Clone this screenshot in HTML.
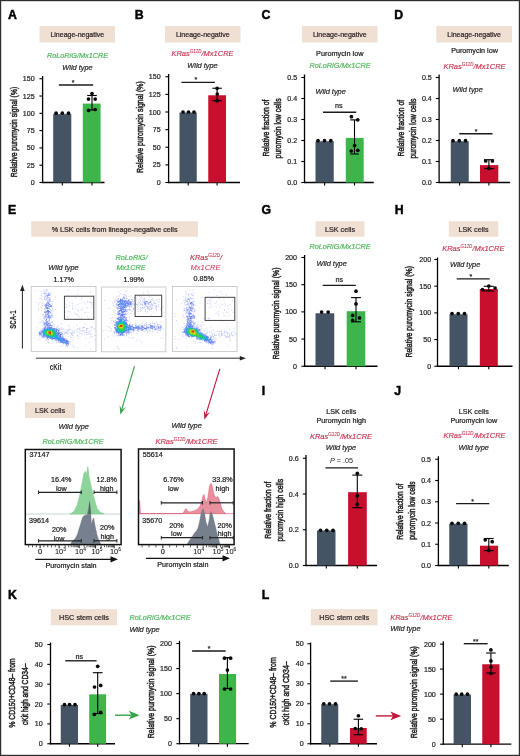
<!DOCTYPE html><html><head><meta charset="utf-8"><title>Figure</title><style>html,body{margin:0;padding:0;background:#fff;}svg{display:block;filter:blur(0.3px);}</style></head><body><svg width="520" height="756" viewBox="0 0 520 756" font-family='"Liberation Sans", sans-serif'>
<rect x="0" y="0" width="520" height="756" fill="#fff"/>
<text x="8.00" y="18.80" font-size="12.3" text-anchor="start" fill="#000" stroke="#000" stroke-width="0.45" font-weight="bold">A</text>
<text x="134.80" y="18.80" font-size="12.3" text-anchor="start" fill="#000" stroke="#000" stroke-width="0.45" font-weight="bold">B</text>
<text x="261.50" y="18.80" font-size="12.3" text-anchor="start" fill="#000" stroke="#000" stroke-width="0.45" font-weight="bold">C</text>
<text x="394.30" y="18.80" font-size="12.3" text-anchor="start" fill="#000" stroke="#000" stroke-width="0.45" font-weight="bold">D</text>
<rect x="39.5" y="26" width="75.50" height="16.50" fill="#f0dfd3"/>
<text x="77.25" y="36.77" font-size="7" text-anchor="middle" fill="#2e2626" stroke="#2e2626" stroke-width="0.22">Lineage-negative</text>
<rect x="165" y="26" width="75.50" height="16.50" fill="#f0dfd3"/>
<text x="202.75" y="36.77" font-size="7" text-anchor="middle" fill="#2e2626" stroke="#2e2626" stroke-width="0.22">Lineage-negative</text>
<rect x="302" y="26" width="75.50" height="16.50" fill="#f0dfd3"/>
<text x="339.75" y="36.77" font-size="7" text-anchor="middle" fill="#2e2626" stroke="#2e2626" stroke-width="0.22">Lineage-negative</text>
<rect x="436.3" y="26" width="75.70" height="16.50" fill="#f0dfd3"/>
<text x="474.15" y="36.77" font-size="7" text-anchor="middle" fill="#2e2626" stroke="#2e2626" stroke-width="0.22">Lineage-negative</text>
<text x="77.50" y="57.63" font-size="7.3" text-anchor="middle" fill="#52ba60" stroke="#52ba60" stroke-width="0.22" font-style="italic">RoLoRiG/Mx1CRE</text>
<text x="77.50" y="70.22" font-size="7.4" text-anchor="middle" fill="#2a2a2a" stroke="#2a2a2a" stroke-width="0.22" font-style="italic">Wild type</text>
<line x1="42.60" y1="76.00" x2="42.60" y2="183.10" stroke="#000" stroke-width="1.3"/>
<line x1="42.00" y1="182.50" x2="104.50" y2="182.50" stroke="#000" stroke-width="1.3"/>
<line x1="39.40" y1="78.75" x2="42.60" y2="78.75" stroke="#000" stroke-width="1.1"/>
<text x="34.60" y="81.31" font-size="7.1" text-anchor="end" fill="#231f20" stroke="#231f20" stroke-width="0.22">150</text>
<line x1="39.40" y1="96.04" x2="42.60" y2="96.04" stroke="#000" stroke-width="1.1"/>
<text x="34.60" y="98.60" font-size="7.1" text-anchor="end" fill="#231f20" stroke="#231f20" stroke-width="0.22">125</text>
<line x1="39.40" y1="113.33" x2="42.60" y2="113.33" stroke="#000" stroke-width="1.1"/>
<text x="34.60" y="115.89" font-size="7.1" text-anchor="end" fill="#231f20" stroke="#231f20" stroke-width="0.22">100</text>
<line x1="39.40" y1="130.62" x2="42.60" y2="130.62" stroke="#000" stroke-width="1.1"/>
<text x="34.60" y="133.18" font-size="7.1" text-anchor="end" fill="#231f20" stroke="#231f20" stroke-width="0.22">75</text>
<line x1="39.40" y1="147.92" x2="42.60" y2="147.92" stroke="#000" stroke-width="1.1"/>
<text x="34.60" y="150.47" font-size="7.1" text-anchor="end" fill="#231f20" stroke="#231f20" stroke-width="0.22">50</text>
<line x1="39.40" y1="165.21" x2="42.60" y2="165.21" stroke="#000" stroke-width="1.1"/>
<text x="34.60" y="167.76" font-size="7.1" text-anchor="end" fill="#231f20" stroke="#231f20" stroke-width="0.22">25</text>
<line x1="39.40" y1="182.50" x2="42.60" y2="182.50" stroke="#000" stroke-width="1.1"/>
<text x="34.60" y="185.06" font-size="7.1" text-anchor="end" fill="#231f20" stroke="#231f20" stroke-width="0.22">0</text>
<rect x="53.20" y="114.10" width="18.10" height="68.40" fill="#455465"/>
<rect x="82.80" y="103.60" width="17.80" height="78.90" fill="#3db54b"/>
<line x1="62.30" y1="182.50" x2="62.30" y2="185.50" stroke="#000" stroke-width="1.1"/>
<line x1="92.00" y1="182.50" x2="92.00" y2="185.50" stroke="#000" stroke-width="1.1"/>
<line x1="58.90" y1="85.00" x2="93.10" y2="85.00" stroke="#1a1a1a" stroke-width="1.35"/>
<text x="73.20" y="85.09" font-size="7" text-anchor="middle" fill="#222" stroke="#222" stroke-width="0.22">*</text>
<line x1="92.00" y1="95.50" x2="92.00" y2="110.00" stroke="#000" stroke-width="1.1"/>
<line x1="87.20" y1="95.50" x2="96.80" y2="95.50" stroke="#000" stroke-width="1.1"/>
<line x1="87.20" y1="110.00" x2="96.80" y2="110.00" stroke="#000" stroke-width="1.1"/>
<circle cx="56.10" cy="113.20" r="1.85" fill="#0a0a0a"/>
<circle cx="62.30" cy="113.20" r="1.85" fill="#0a0a0a"/>
<circle cx="68.50" cy="113.20" r="1.85" fill="#0a0a0a"/>
<circle cx="92.00" cy="93.60" r="1.85" fill="#0a0a0a"/>
<circle cx="88.50" cy="99.10" r="1.85" fill="#0a0a0a"/>
<circle cx="95.20" cy="99.10" r="1.85" fill="#0a0a0a"/>
<circle cx="88.50" cy="110.40" r="1.85" fill="#0a0a0a"/>
<circle cx="95.20" cy="109.50" r="1.85" fill="#0a0a0a"/>
<text transform="translate(13.20,132.00) rotate(-90)" x="0" y="3.42" font-size="9.5" text-anchor="middle" fill="#231f20" stroke="#231f20" stroke-width="0.5" textLength="90.50" lengthAdjust="spacingAndGlyphs">Relative puromycin signal (%)</text>
<text x="202.50" y="56.20" font-size="7.5" text-anchor="middle" fill="#c9334f" stroke="#c9334f" stroke-width="0.15" font-style="italic">KRas<tspan font-size="4.50" dy="-3.00" stroke-width="0.08">G12D</tspan><tspan dy="3.00">/Mx1CRE</tspan></text>
<text x="202.50" y="67.72" font-size="7.4" text-anchor="middle" fill="#2a2a2a" stroke="#2a2a2a" stroke-width="0.22" font-style="italic">Wild type</text>
<line x1="168.60" y1="74.00" x2="168.60" y2="183.10" stroke="#000" stroke-width="1.3"/>
<line x1="168.00" y1="182.50" x2="240.00" y2="182.50" stroke="#000" stroke-width="1.3"/>
<line x1="165.40" y1="76.75" x2="168.60" y2="76.75" stroke="#000" stroke-width="1.1"/>
<text x="160.60" y="79.31" font-size="7.1" text-anchor="end" fill="#231f20" stroke="#231f20" stroke-width="0.22">150</text>
<line x1="165.40" y1="94.38" x2="168.60" y2="94.38" stroke="#000" stroke-width="1.1"/>
<text x="160.60" y="96.93" font-size="7.1" text-anchor="end" fill="#231f20" stroke="#231f20" stroke-width="0.22">125</text>
<line x1="165.40" y1="112.00" x2="168.60" y2="112.00" stroke="#000" stroke-width="1.1"/>
<text x="160.60" y="114.56" font-size="7.1" text-anchor="end" fill="#231f20" stroke="#231f20" stroke-width="0.22">100</text>
<line x1="165.40" y1="129.62" x2="168.60" y2="129.62" stroke="#000" stroke-width="1.1"/>
<text x="160.60" y="132.18" font-size="7.1" text-anchor="end" fill="#231f20" stroke="#231f20" stroke-width="0.22">75</text>
<line x1="165.40" y1="147.25" x2="168.60" y2="147.25" stroke="#000" stroke-width="1.1"/>
<text x="160.60" y="149.81" font-size="7.1" text-anchor="end" fill="#231f20" stroke="#231f20" stroke-width="0.22">50</text>
<line x1="165.40" y1="164.88" x2="168.60" y2="164.88" stroke="#000" stroke-width="1.1"/>
<text x="160.60" y="167.43" font-size="7.1" text-anchor="end" fill="#231f20" stroke="#231f20" stroke-width="0.22">25</text>
<line x1="165.40" y1="182.50" x2="168.60" y2="182.50" stroke="#000" stroke-width="1.1"/>
<text x="160.60" y="185.06" font-size="7.1" text-anchor="end" fill="#231f20" stroke="#231f20" stroke-width="0.22">0</text>
<rect x="179.50" y="112.50" width="17.25" height="70.00" fill="#455465"/>
<rect x="208.25" y="95.25" width="17.75" height="87.25" fill="#c8102e"/>
<line x1="188.20" y1="182.50" x2="188.20" y2="185.50" stroke="#000" stroke-width="1.1"/>
<line x1="217.10" y1="182.50" x2="217.10" y2="185.50" stroke="#000" stroke-width="1.1"/>
<line x1="181.40" y1="82.40" x2="214.90" y2="82.40" stroke="#1a1a1a" stroke-width="1.35"/>
<text x="195.80" y="82.39" font-size="7" text-anchor="middle" fill="#222" stroke="#222" stroke-width="0.22">*</text>
<line x1="217.10" y1="88.25" x2="217.10" y2="100.75" stroke="#000" stroke-width="1.1"/>
<line x1="212.35" y1="88.25" x2="221.85" y2="88.25" stroke="#000" stroke-width="1.1"/>
<line x1="212.35" y1="100.75" x2="221.85" y2="100.75" stroke="#000" stroke-width="1.1"/>
<circle cx="183.00" cy="112.00" r="1.85" fill="#0a0a0a"/>
<circle cx="188.50" cy="112.00" r="1.85" fill="#0a0a0a"/>
<circle cx="194.00" cy="112.00" r="1.85" fill="#0a0a0a"/>
<circle cx="217.10" cy="88.30" r="1.85" fill="#0a0a0a"/>
<circle cx="217.30" cy="94.00" r="1.85" fill="#0a0a0a"/>
<circle cx="217.10" cy="100.70" r="1.85" fill="#0a0a0a"/>
<text transform="translate(139.40,127.10) rotate(-90)" x="0" y="3.42" font-size="9.5" text-anchor="middle" fill="#231f20" stroke="#231f20" stroke-width="0.5" textLength="91.70" lengthAdjust="spacingAndGlyphs">Relative puromycin signal (%)</text>
<text x="339.80" y="56.03" font-size="7.3" text-anchor="middle" fill="#222" stroke="#222" stroke-width="0.22">Puromycin low</text>
<text x="340.00" y="67.83" font-size="7.3" text-anchor="middle" fill="#52ba60" stroke="#52ba60" stroke-width="0.22" font-style="italic">RoLoRiG/Mx1CRE</text>
<text x="315.50" y="94.22" font-size="7.4" text-anchor="start" fill="#2a2a2a" stroke="#2a2a2a" stroke-width="0.22" font-style="italic">Wild type</text>
<line x1="304.50" y1="74.50" x2="304.50" y2="183.10" stroke="#000" stroke-width="1.3"/>
<line x1="303.90" y1="182.50" x2="373.75" y2="182.50" stroke="#000" stroke-width="1.3"/>
<line x1="301.30" y1="77.50" x2="304.50" y2="77.50" stroke="#000" stroke-width="1.1"/>
<text x="297.20" y="80.06" font-size="7.1" text-anchor="end" fill="#231f20" stroke="#231f20" stroke-width="0.22">0.5</text>
<line x1="301.30" y1="98.50" x2="304.50" y2="98.50" stroke="#000" stroke-width="1.1"/>
<text x="297.20" y="101.06" font-size="7.1" text-anchor="end" fill="#231f20" stroke="#231f20" stroke-width="0.22">0.4</text>
<line x1="301.30" y1="119.50" x2="304.50" y2="119.50" stroke="#000" stroke-width="1.1"/>
<text x="297.20" y="122.06" font-size="7.1" text-anchor="end" fill="#231f20" stroke="#231f20" stroke-width="0.22">0.3</text>
<line x1="301.30" y1="140.50" x2="304.50" y2="140.50" stroke="#000" stroke-width="1.1"/>
<text x="297.20" y="143.06" font-size="7.1" text-anchor="end" fill="#231f20" stroke="#231f20" stroke-width="0.22">0.2</text>
<line x1="301.30" y1="161.50" x2="304.50" y2="161.50" stroke="#000" stroke-width="1.1"/>
<text x="297.20" y="164.06" font-size="7.1" text-anchor="end" fill="#231f20" stroke="#231f20" stroke-width="0.22">0.1</text>
<line x1="301.30" y1="182.50" x2="304.50" y2="182.50" stroke="#000" stroke-width="1.1"/>
<text x="297.20" y="185.06" font-size="7.1" text-anchor="end" fill="#231f20" stroke="#231f20" stroke-width="0.22">0.0</text>
<rect x="315.50" y="141.25" width="18.25" height="41.25" fill="#455465"/>
<rect x="345.80" y="137.90" width="17.90" height="44.60" fill="#3db54b"/>
<line x1="324.60" y1="182.50" x2="324.60" y2="185.50" stroke="#000" stroke-width="1.1"/>
<line x1="354.50" y1="182.50" x2="354.50" y2="185.50" stroke="#000" stroke-width="1.1"/>
<line x1="323.00" y1="112.20" x2="356.20" y2="112.20" stroke="#1a1a1a" stroke-width="1.35"/>
<text x="338.70" y="108.14" font-size="7.2" text-anchor="middle" fill="#222" stroke="#222" stroke-width="0.22">ns</text>
<line x1="354.50" y1="119.90" x2="354.50" y2="154.00" stroke="#000" stroke-width="1.1"/>
<line x1="350.20" y1="119.90" x2="358.80" y2="119.90" stroke="#000" stroke-width="1.1"/>
<line x1="350.20" y1="154.00" x2="358.80" y2="154.00" stroke="#000" stroke-width="1.1"/>
<circle cx="318.00" cy="140.70" r="1.85" fill="#0a0a0a"/>
<circle cx="324.50" cy="140.70" r="1.85" fill="#0a0a0a"/>
<circle cx="330.80" cy="140.70" r="1.85" fill="#0a0a0a"/>
<circle cx="351.40" cy="116.70" r="1.85" fill="#0a0a0a"/>
<circle cx="357.80" cy="119.80" r="1.85" fill="#0a0a0a"/>
<circle cx="354.60" cy="145.50" r="1.85" fill="#0a0a0a"/>
<circle cx="351.30" cy="151.00" r="1.85" fill="#0a0a0a"/>
<circle cx="357.80" cy="150.30" r="1.85" fill="#0a0a0a"/>
<text transform="translate(265.70,128.00) rotate(-90)" x="0" y="3.42" font-size="9.5" text-anchor="middle" fill="#231f20" stroke="#231f20" stroke-width="0.5" textLength="57.00" lengthAdjust="spacingAndGlyphs">Relative fraction of</text>
<text transform="translate(277.60,128.40) rotate(-90)" x="0" y="3.42" font-size="9.5" text-anchor="middle" fill="#231f20" stroke="#231f20" stroke-width="0.5" textLength="60.00" lengthAdjust="spacingAndGlyphs">puromycin low cells</text>
<text x="474.50" y="52.59" font-size="7.2" text-anchor="middle" fill="#222" stroke="#222" stroke-width="0.22">Puromycin low</text>
<text x="474.50" y="68.70" font-size="7.5" text-anchor="middle" fill="#c9334f" stroke="#c9334f" stroke-width="0.15" font-style="italic">KRas<tspan font-size="4.50" dy="-3.00" stroke-width="0.08">G12D</tspan><tspan dy="3.00">/Mx1CRE</tspan></text>
<text x="452.50" y="91.72" font-size="7.4" text-anchor="start" fill="#2a2a2a" stroke="#2a2a2a" stroke-width="0.22" font-style="italic">Wild type</text>
<line x1="439.10" y1="74.50" x2="439.10" y2="183.10" stroke="#000" stroke-width="1.3"/>
<line x1="438.50" y1="182.50" x2="510.00" y2="182.50" stroke="#000" stroke-width="1.3"/>
<line x1="435.90" y1="77.50" x2="439.10" y2="77.50" stroke="#000" stroke-width="1.1"/>
<text x="431.80" y="80.06" font-size="7.1" text-anchor="end" fill="#231f20" stroke="#231f20" stroke-width="0.22">0.5</text>
<line x1="435.90" y1="98.50" x2="439.10" y2="98.50" stroke="#000" stroke-width="1.1"/>
<text x="431.80" y="101.06" font-size="7.1" text-anchor="end" fill="#231f20" stroke="#231f20" stroke-width="0.22">0.4</text>
<line x1="435.90" y1="119.50" x2="439.10" y2="119.50" stroke="#000" stroke-width="1.1"/>
<text x="431.80" y="122.06" font-size="7.1" text-anchor="end" fill="#231f20" stroke="#231f20" stroke-width="0.22">0.3</text>
<line x1="435.90" y1="140.50" x2="439.10" y2="140.50" stroke="#000" stroke-width="1.1"/>
<text x="431.80" y="143.06" font-size="7.1" text-anchor="end" fill="#231f20" stroke="#231f20" stroke-width="0.22">0.2</text>
<line x1="435.90" y1="161.50" x2="439.10" y2="161.50" stroke="#000" stroke-width="1.1"/>
<text x="431.80" y="164.06" font-size="7.1" text-anchor="end" fill="#231f20" stroke="#231f20" stroke-width="0.22">0.1</text>
<line x1="435.90" y1="182.50" x2="439.10" y2="182.50" stroke="#000" stroke-width="1.1"/>
<text x="431.80" y="185.06" font-size="7.1" text-anchor="end" fill="#231f20" stroke="#231f20" stroke-width="0.22">0.0</text>
<rect x="450.75" y="141.25" width="18.00" height="41.25" fill="#455465"/>
<rect x="480.00" y="165.10" width="18.30" height="17.40" fill="#c8102e"/>
<line x1="459.60" y1="182.50" x2="459.60" y2="185.50" stroke="#000" stroke-width="1.1"/>
<line x1="488.90" y1="182.50" x2="488.90" y2="185.50" stroke="#000" stroke-width="1.1"/>
<line x1="459.25" y1="133.75" x2="492.50" y2="133.75" stroke="#1a1a1a" stroke-width="1.35"/>
<text x="476.20" y="133.59" font-size="7" text-anchor="middle" fill="#222" stroke="#222" stroke-width="0.22">*</text>
<line x1="488.90" y1="159.70" x2="488.90" y2="168.60" stroke="#000" stroke-width="1.1"/>
<line x1="484.00" y1="159.70" x2="493.80" y2="159.70" stroke="#000" stroke-width="1.1"/>
<line x1="484.00" y1="168.60" x2="493.80" y2="168.60" stroke="#000" stroke-width="1.1"/>
<circle cx="453.00" cy="140.70" r="1.85" fill="#0a0a0a"/>
<circle cx="459.25" cy="140.70" r="1.85" fill="#0a0a0a"/>
<circle cx="465.50" cy="140.70" r="1.85" fill="#0a0a0a"/>
<circle cx="485.70" cy="161.00" r="1.85" fill="#0a0a0a"/>
<circle cx="492.40" cy="161.00" r="1.85" fill="#0a0a0a"/>
<circle cx="488.90" cy="168.40" r="1.85" fill="#0a0a0a"/>
<text transform="translate(400.20,128.20) rotate(-90)" x="0" y="3.42" font-size="9.5" text-anchor="middle" fill="#231f20" stroke="#231f20" stroke-width="0.5" textLength="56.60" lengthAdjust="spacingAndGlyphs">Relative fraction of</text>
<text transform="translate(412.60,128.50) rotate(-90)" x="0" y="3.42" font-size="9.5" text-anchor="middle" fill="#231f20" stroke="#231f20" stroke-width="0.5" textLength="60.00" lengthAdjust="spacingAndGlyphs">puromycin low cells</text>
<text x="8.00" y="213.80" font-size="12.3" text-anchor="start" fill="#000" stroke="#000" stroke-width="0.45" font-weight="bold">E</text>
<text x="261.50" y="213.80" font-size="12.3" text-anchor="start" fill="#000" stroke="#000" stroke-width="0.45" font-weight="bold">G</text>
<text x="394.80" y="213.80" font-size="12.3" text-anchor="start" fill="#000" stroke="#000" stroke-width="0.45" font-weight="bold">H</text>
<rect x="31.25" y="221.25" width="166.75" height="15.50" fill="#f0dfd3"/>
<text x="114.62" y="231.59" font-size="7.2" text-anchor="middle" fill="#2e2626" stroke="#2e2626" stroke-width="0.22">% LSK cells from lineage-negative cells</text>
<rect x="315.5" y="221.25" width="49.00" height="15.50" fill="#f0dfd3"/>
<text x="340.00" y="231.59" font-size="7.2" text-anchor="middle" fill="#2e2626" stroke="#2e2626" stroke-width="0.22">LSK cells</text>
<rect x="448.75" y="221.25" width="49.50" height="15.50" fill="#f0dfd3"/>
<text x="473.50" y="231.59" font-size="7.2" text-anchor="middle" fill="#2e2626" stroke="#2e2626" stroke-width="0.22">LSK cells</text>
<text x="63.50" y="269.52" font-size="7.4" text-anchor="middle" fill="#2a2a2a" stroke="#2a2a2a" stroke-width="0.22" font-style="italic">Wild type</text>
<text x="63.80" y="281.79" font-size="7.2" text-anchor="middle" fill="#222" stroke="#222" stroke-width="0.22">1.17%</text>
<text x="131.50" y="260.13" font-size="7.3" text-anchor="middle" fill="#52ba60" stroke="#52ba60" stroke-width="0.22" font-style="italic">RoLoRiG/</text>
<text x="131.00" y="269.93" font-size="7.3" text-anchor="middle" fill="#52ba60" stroke="#52ba60" stroke-width="0.22" font-style="italic">Mx1CRE</text>
<text x="133.80" y="281.79" font-size="7.2" text-anchor="middle" fill="#222" stroke="#222" stroke-width="0.22">1.99%</text>
<text x="206.00" y="260.20" font-size="7.5" text-anchor="middle" fill="#c9334f" stroke="#c9334f" stroke-width="0.15" font-style="italic">KRas<tspan font-size="4.50" dy="-3.00" stroke-width="0.08">G12D</tspan><tspan dy="3.00">/</tspan></text>
<text x="205.5" y="270.00" font-size="7.5" text-anchor="middle" fill="#c9334f" font-style="italic">Mx1CRE</text>
<text x="203.80" y="281.19" font-size="7.2" text-anchor="middle" fill="#222" stroke="#222" stroke-width="0.22">0.85%</text>
<defs><radialGradient id="hot"><stop offset="0" stop-color="#e8201a"/><stop offset="0.18" stop-color="#e0d020"/><stop offset="0.38" stop-color="#22d46a"/><stop offset="0.62" stop-color="#19b8d8"/><stop offset="0.85" stop-color="#2a5cf0" stop-opacity="0.8"/><stop offset="1" stop-color="#3a5cf0" stop-opacity="0"/></radialGradient><radialGradient id="cy"><stop offset="0" stop-color="#18c8a0"/><stop offset="0.5" stop-color="#1aa0e8" stop-opacity="0.85"/><stop offset="1" stop-color="#2a50f0" stop-opacity="0"/></radialGradient><radialGradient id="bl"><stop offset="0" stop-color="#3060f0" stop-opacity="0.85"/><stop offset="1" stop-color="#5070f0" stop-opacity="0"/></radialGradient></defs>
<rect x="31.2" y="286.5" width="64.80" height="65.10" fill="#fff" stroke="#c8c8c8" stroke-width="0.9"/>
<path d="M84.8 303.5h0.9v0.9h-0.9z" fill="rgb(150,160,245)" fill-opacity="0.45"/>
<path d="M76.3 325.4h0.9v0.9h-0.9zM52.3 301.2h0.9v0.9h-0.9zM85.3 344.7h0.9v0.9h-0.9zM92.4 325.9h0.9v0.9h-0.9zM72.4 339.5h0.9v0.9h-0.9zM85.4 337.9h0.9v0.9h-0.9zM64.6 311.6h0.9v0.9h-0.9zM94.4 294.9h0.9v0.9h-0.9zM87.3 308.3h0.9v0.9h-0.9zM94.7 330.7h0.9v0.9h-0.9zM87.7 317.9h0.9v0.9h-0.9zM90.9 307.0h0.9v0.9h-0.9zM89.4 337.8h0.9v0.9h-0.9zM69.2 305.4h0.9v0.9h-0.9zM82.6 307.3h0.9v0.9h-0.9zM73.3 337.0h0.9v0.9h-0.9zM81.6 333.0h0.9v0.9h-0.9zM53.3 299.3h0.9v0.9h-0.9zM94.3 335.0h0.9v0.9h-0.9zM41.3 309.7h0.9v0.9h-0.9zM67.6 336.3h0.9v0.9h-0.9zM41.3 298.6h0.9v0.9h-0.9zM39.6 318.5h0.9v0.9h-0.9zM91.9 336.4h0.9v0.9h-0.9zM85.8 324.2h0.9v0.9h-0.9zM90.9 328.9h0.9v0.9h-0.9zM91.9 332.7h0.9v0.9h-0.9zM81.6 334.7h0.9v0.9h-0.9zM75.3 297.3h0.9v0.9h-0.9zM54.2 324.5h0.9v0.9h-0.9zM39.3 302.3h0.9v0.9h-0.9zM92.5 301.7h0.9v0.9h-0.9zM69.5 301.7h0.9v0.9h-0.9zM72.5 304.8h0.9v0.9h-0.9zM66.3 298.6h0.9v0.9h-0.9zM89.8 330.8h0.9v0.9h-0.9zM74.3 311.8h0.9v0.9h-0.9zM79.5 302.9h0.9v0.9h-0.9zM93.7 322.4h0.9v0.9h-0.9zM81.4 297.4h0.9v0.9h-0.9zM88.5 342.2h0.9v0.9h-0.9zM83.8 322.5h0.9v0.9h-0.9zM73.3 326.7h0.9v0.9h-0.9zM77.7 289.8h0.9v0.9h-0.9zM67.4 294.7h0.9v0.9h-0.9zM93.8 316.7h0.9v0.9h-0.9zM87.6 312.2h0.9v0.9h-0.9zM83.8 330.0h0.9v0.9h-0.9zM90.2 297.7h0.9v0.9h-0.9zM78.2 310.5h0.9v0.9h-0.9zM63.3 334.6h0.9v0.9h-0.9zM48.3 342.1h0.9v0.9h-0.9zM76.8 330.8h0.9v0.9h-0.9zM70.6 344.4h0.9v0.9h-0.9zM70.2 329.1h0.9v0.9h-0.9zM75.2 305.4h0.9v0.9h-0.9zM82.7 302.2h0.9v0.9h-0.9zM94.7 340.4h0.9v0.9h-0.9zM81.4 309.7h0.9v0.9h-0.9zM79.5 336.2h0.9v0.9h-0.9zM60.4 345.9h0.9v0.9h-0.9zM94.8 338.9h0.9v0.9h-0.9zM70.0 341.6h0.9v0.9h-0.9zM77.4 304.0h0.9v0.9h-0.9zM38.8 338.2h0.9v0.9h-0.9zM50.6 291.4h0.9v0.9h-0.9zM65.5 337.9h0.9v0.9h-0.9zM78.6 331.6h0.9v0.9h-0.9zM87.3 328.2h0.9v0.9h-0.9zM41.4 307.7h0.9v0.9h-0.9zM83.9 334.3h0.9v0.9h-0.9zM42.2 305.0h0.9v0.9h-0.9zM55.1 296.6h0.9v0.9h-0.9zM65.1 336.2h0.9v0.9h-0.9zM90.0 292.0h0.9v0.9h-0.9zM71.9 302.8h0.9v0.9h-0.9zM62.1 345.1h0.9v0.9h-0.9zM51.6 302.8h0.9v0.9h-0.9zM34.2 337.4h0.9v0.9h-0.9zM83.6 327.0h0.9v0.9h-0.9zM78.0 317.7h0.9v0.9h-0.9zM84.8 312.3h0.9v0.9h-0.9zM61.2 323.3h0.9v0.9h-0.9zM88.7 302.0h0.9v0.9h-0.9zM69.8 311.4h0.9v0.9h-0.9zM77.1 293.6h0.9v0.9h-0.9zM67.9 318.2h0.9v0.9h-0.9zM68.6 305.7h0.9v0.9h-0.9zM84.6 312.1h0.9v0.9h-0.9zM68.0 311.1h0.9v0.9h-0.9zM90.2 348.7h0.9v0.9h-0.9zM61.6 318.4h0.9v0.9h-0.9zM38.0 322.6h0.9v0.9h-0.9zM68.1 289.5h0.9v0.9h-0.9zM76.8 347.3h0.9v0.9h-0.9zM77.8 337.7h0.9v0.9h-0.9zM74.7 329.9h0.9v0.9h-0.9zM37.7 339.6h0.9v0.9h-0.9zM87.5 328.1h0.9v0.9h-0.9zM77.7 315.1h0.9v0.9h-0.9zM75.8 307.4h0.9v0.9h-0.9zM37.5 326.7h0.9v0.9h-0.9zM38.0 303.8h0.9v0.9h-0.9zM65.8 303.9h0.9v0.9h-0.9zM74.8 309.2h0.9v0.9h-0.9zM81.2 317.8h0.9v0.9h-0.9zM79.1 316.4h0.9v0.9h-0.9zM86.9 316.2h0.9v0.9h-0.9zM35.9 302.2h0.9v0.9h-0.9zM90.4 334.3h0.9v0.9h-0.9zM55.0 308.9h0.9v0.9h-0.9zM35.1 290.2h0.9v0.9h-0.9zM72.4 344.8h0.9v0.9h-0.9zM52.6 317.6h0.9v0.9h-0.9zM67.0 316.4h0.9v0.9h-0.9zM81.1 299.0h0.9v0.9h-0.9zM74.2 331.9h0.9v0.9h-0.9zM43.4 289.3h0.9v0.9h-0.9zM39.7 322.0h0.9v0.9h-0.9zM91.6 303.8h0.9v0.9h-0.9zM72.6 333.1h0.9v0.9h-0.9zM41.9 328.1h0.9v0.9h-0.9zM68.5 328.4h0.9v0.9h-0.9zM87.8 333.7h0.9v0.9h-0.9zM73.9 346.7h0.9v0.9h-0.9zM69.2 330.4h0.9v0.9h-0.9zM66.2 306.4h0.9v0.9h-0.9zM38.4 309.3h0.9v0.9h-0.9zM52.4 321.9h0.9v0.9h-0.9zM63.0 328.5h0.9v0.9h-0.9zM79.8 332.7h0.9v0.9h-0.9zM87.3 300.5h0.9v0.9h-0.9zM72.4 306.6h0.9v0.9h-0.9zM42.1 320.0h0.9v0.9h-0.9zM53.7 326.1h0.9v0.9h-0.9zM56.3 342.6h0.9v0.9h-0.9zM91.6 326.9h0.9v0.9h-0.9zM63.0 343.6h0.9v0.9h-0.9zM39.6 298.1h0.9v0.9h-0.9zM73.4 346.5h0.9v0.9h-0.9zM79.2 333.9h0.9v0.9h-0.9zM86.1 307.1h0.9v0.9h-0.9zM93.0 329.7h0.9v0.9h-0.9zM38.2 308.5h0.9v0.9h-0.9zM66.1 307.0h0.9v0.9h-0.9zM53.1 310.7h0.9v0.9h-0.9zM93.8 328.3h0.9v0.9h-0.9zM57.8 326.0h0.9v0.9h-0.9zM70.1 336.8h0.9v0.9h-0.9zM73.6 331.5h0.9v0.9h-0.9zM81.1 308.9h0.9v0.9h-0.9zM77.3 335.1h0.9v0.9h-0.9zM42.6 303.3h0.9v0.9h-0.9zM90.0 301.5h0.9v0.9h-0.9zM77.1 309.5h0.9v0.9h-0.9zM60.9 327.2h0.9v0.9h-0.9zM57.0 325.5h0.9v0.9h-0.9zM76.7 336.2h0.9v0.9h-0.9zM42.1 303.1h0.9v0.9h-0.9zM50.8 293.2h0.9v0.9h-0.9zM86.4 329.9h0.9v0.9h-0.9zM74.8 313.6h0.9v0.9h-0.9zM41.2 291.2h0.9v0.9h-0.9zM68.8 325.7h0.9v0.9h-0.9zM93.1 305.5h0.9v0.9h-0.9zM91.2 301.9h0.9v0.9h-0.9zM65.7 329.0h0.9v0.9h-0.9zM39.6 290.7h0.9v0.9h-0.9zM92.6 305.3h0.9v0.9h-0.9zM94.0 328.1h0.9v0.9h-0.9zM50.8 295.6h0.9v0.9h-0.9zM41.3 320.9h0.9v0.9h-0.9zM68.3 325.6h0.9v0.9h-0.9zM90.5 336.1h0.9v0.9h-0.9zM64.3 329.7h0.9v0.9h-0.9zM67.7 333.0h0.9v0.9h-0.9zM41.1 337.7h0.9v0.9h-0.9zM86.2 329.6h0.9v0.9h-0.9zM70.8 336.8h0.9v0.9h-0.9zM86.4 334.2h0.9v0.9h-0.9zM71.7 330.2h0.9v0.9h-0.9zM52.8 324.4h0.9v0.9h-0.9zM90.5 302.6h0.9v0.9h-0.9zM80.0 327.7h0.9v0.9h-0.9zM89.4 332.7h0.9v0.9h-0.9zM82.7 330.9h0.9v0.9h-0.9zM86.5 332.4h0.9v0.9h-0.9zM51.9 307.9h0.9v0.9h-0.9zM88.6 330.6h0.9v0.9h-0.9zM42.9 293.0h0.9v0.9h-0.9zM42.4 296.2h0.9v0.9h-0.9zM72.8 308.5h0.9v0.9h-0.9zM86.4 331.9h0.9v0.9h-0.9zM72.8 335.1h0.9v0.9h-0.9zM85.7 332.5h0.9v0.9h-0.9zM41.0 295.4h0.9v0.9h-0.9zM47.8 340.8h0.9v0.9h-0.9zM47.3 340.8h0.9v0.9h-0.9zM61.7 328.8h0.9v0.9h-0.9zM46.2 292.2h0.9v0.9h-0.9zM69.7 332.0h0.9v0.9h-0.9zM72.5 332.3h0.9v0.9h-0.9zM49.4 297.1h0.9v0.9h-0.9zM82.1 327.6h0.9v0.9h-0.9zM89.5 333.6h0.9v0.9h-0.9zM49.3 320.3h0.9v0.9h-0.9zM38.7 330.5h0.9v0.9h-0.9zM66.2 331.5h0.9v0.9h-0.9zM87.0 301.7h0.9v0.9h-0.9zM40.8 294.6h0.9v0.9h-0.9zM87.9 332.3h0.9v0.9h-0.9zM67.1 333.0h0.9v0.9h-0.9zM77.2 313.6h0.9v0.9h-0.9zM45.7 339.8h0.9v0.9h-0.9zM42.4 325.5h0.9v0.9h-0.9zM76.4 329.2h0.9v0.9h-0.9zM43.5 320.7h0.9v0.9h-0.9zM71.9 308.0h0.9v0.9h-0.9zM60.1 330.2h0.9v0.9h-0.9zM56.6 342.4h0.9v0.9h-0.9z" fill="rgb(127,142,243)" fill-opacity="0.45"/>
<path d="M52.1 320.9h0.9v0.9h-0.9zM61.1 329.2h0.9v0.9h-0.9zM49.6 292.9h0.9v0.9h-0.9zM46.1 339.2h0.9v0.9h-0.9zM82.5 330.4h0.9v0.9h-0.9zM44.0 308.0h0.9v0.9h-0.9zM49.2 293.0h0.9v0.9h-0.9zM44.2 291.4h0.9v0.9h-0.9zM46.1 289.2h0.9v0.9h-0.9zM51.4 306.5h0.9v0.9h-0.9zM56.6 326.9h0.9v0.9h-0.9zM51.8 339.7h0.9v0.9h-0.9zM44.5 290.4h0.9v0.9h-0.9zM67.2 329.4h0.9v0.9h-0.9zM62.6 330.9h0.9v0.9h-0.9zM68.5 344.4h0.9v0.9h-0.9zM76.9 334.9h0.9v0.9h-0.9zM82.7 330.4h0.9v0.9h-0.9zM65.5 345.9h0.9v0.9h-0.9zM80.4 330.3h0.9v0.9h-0.9zM75.8 314.2h0.9v0.9h-0.9zM77.3 328.1h0.9v0.9h-0.9zM60.7 327.8h0.9v0.9h-0.9zM66.8 346.1h0.9v0.9h-0.9zM72.1 334.7h0.9v0.9h-0.9zM72.6 331.1h0.9v0.9h-0.9zM52.1 325.1h0.9v0.9h-0.9zM45.1 290.9h0.9v0.9h-0.9zM37.8 333.4h0.9v0.9h-0.9zM45.0 310.0h0.9v0.9h-0.9zM50.9 309.9h0.9v0.9h-0.9zM51.4 325.2h0.9v0.9h-0.9zM59.2 329.4h0.9v0.9h-0.9zM43.7 318.9h0.9v0.9h-0.9zM79.1 327.6h0.9v0.9h-0.9zM84.5 332.3h0.9v0.9h-0.9zM67.1 331.2h0.9v0.9h-0.9zM49.9 309.0h0.9v0.9h-0.9zM47.9 297.1h0.9v0.9h-0.9zM46.5 288.9h0.9v0.9h-0.9zM64.1 333.3h0.9v0.9h-0.9zM65.8 332.6h0.9v0.9h-0.9zM90.6 326.9h0.9v0.9h-0.9zM82.9 326.8h0.9v0.9h-0.9zM50.5 301.2h0.9v0.9h-0.9zM63.9 331.4h0.9v0.9h-0.9zM58.0 341.6h0.9v0.9h-0.9zM82.7 327.3h0.9v0.9h-0.9zM81.6 330.6h0.9v0.9h-0.9zM68.3 329.6h0.9v0.9h-0.9zM42.3 322.3h0.9v0.9h-0.9zM70.9 332.3h0.9v0.9h-0.9zM43.6 299.4h0.9v0.9h-0.9zM50.3 300.6h0.9v0.9h-0.9zM49.4 294.0h0.9v0.9h-0.9zM50.7 312.5h0.9v0.9h-0.9zM42.9 322.0h0.9v0.9h-0.9zM43.9 299.2h0.9v0.9h-0.9zM43.2 314.0h0.9v0.9h-0.9zM68.7 329.2h0.9v0.9h-0.9zM46.8 290.1h0.9v0.9h-0.9zM90.7 327.1h0.9v0.9h-0.9zM51.8 308.7h0.9v0.9h-0.9zM61.4 332.1h0.9v0.9h-0.9zM46.6 290.3h0.9v0.9h-0.9zM90.5 326.7h0.9v0.9h-0.9zM48.0 292.3h0.9v0.9h-0.9zM43.9 296.9h0.9v0.9h-0.9zM51.3 314.5h0.9v0.9h-0.9zM63.6 331.7h0.9v0.9h-0.9zM49.8 312.5h0.9v0.9h-0.9zM51.5 322.5h0.9v0.9h-0.9zM48.2 339.1h0.9v0.9h-0.9zM63.4 337.4h0.9v0.9h-0.9zM58.3 328.3h0.9v0.9h-0.9zM59.2 328.1h0.9v0.9h-0.9zM62.2 335.6h0.9v0.9h-0.9zM67.9 345.1h0.9v0.9h-0.9zM49.5 301.9h0.9v0.9h-0.9zM51.7 313.5h0.9v0.9h-0.9zM56.5 341.3h0.9v0.9h-0.9zM49.5 294.6h0.9v0.9h-0.9zM78.8 329.4h0.9v0.9h-0.9zM78.9 329.3h0.9v0.9h-0.9zM44.1 298.5h0.9v0.9h-0.9zM47.8 338.6h0.9v0.9h-0.9zM51.1 321.7h0.9v0.9h-0.9zM46.9 299.9h0.9v0.9h-0.9zM67.4 345.0h0.9v0.9h-0.9zM63.2 336.2h0.9v0.9h-0.9zM44.0 295.6h0.9v0.9h-0.9zM78.5 328.7h0.9v0.9h-0.9zM65.1 333.3h0.9v0.9h-0.9zM66.1 331.5h0.9v0.9h-0.9zM52.1 313.6h0.9v0.9h-0.9zM44.8 309.4h0.9v0.9h-0.9zM71.0 334.4h0.9v0.9h-0.9zM54.5 339.7h0.9v0.9h-0.9zM47.3 297.6h0.9v0.9h-0.9zM65.4 331.9h0.9v0.9h-0.9zM52.1 309.7h0.9v0.9h-0.9zM51.5 310.4h0.9v0.9h-0.9zM68.6 342.5h0.9v0.9h-0.9zM68.3 342.0h0.9v0.9h-0.9zM72.1 334.4h0.9v0.9h-0.9zM71.2 333.6h0.9v0.9h-0.9zM51.9 306.4h0.9v0.9h-0.9zM46.5 338.7h0.9v0.9h-0.9zM43.7 311.5h0.9v0.9h-0.9zM53.2 327.4h0.9v0.9h-0.9zM49.3 298.1h0.9v0.9h-0.9zM49.2 303.9h0.9v0.9h-0.9zM48.6 321.2h0.9v0.9h-0.9zM49.8 297.6h0.9v0.9h-0.9zM50.2 312.0h0.9v0.9h-0.9zM67.9 330.4h0.9v0.9h-0.9zM49.4 304.2h0.9v0.9h-0.9zM44.1 310.8h0.9v0.9h-0.9zM68.8 341.3h0.9v0.9h-0.9zM65.2 338.3h0.9v0.9h-0.9zM49.2 319.0h0.9v0.9h-0.9zM65.5 332.1h0.9v0.9h-0.9zM70.4 332.7h0.9v0.9h-0.9zM86.4 328.1h0.9v0.9h-0.9zM86.0 329.3h0.9v0.9h-0.9zM39.0 335.4h0.9v0.9h-0.9zM86.2 328.0h0.9v0.9h-0.9zM45.5 299.5h0.9v0.9h-0.9zM49.1 313.2h0.9v0.9h-0.9zM44.2 291.8h0.9v0.9h-0.9zM43.3 316.3h0.9v0.9h-0.9zM45.9 299.4h0.9v0.9h-0.9zM43.2 314.4h0.9v0.9h-0.9zM46.1 302.5h0.9v0.9h-0.9zM42.3 314.3h0.9v0.9h-0.9zM49.0 308.2h0.9v0.9h-0.9zM43.2 317.9h0.9v0.9h-0.9zM45.0 313.5h0.9v0.9h-0.9zM49.5 321.9h0.9v0.9h-0.9zM44.0 317.6h0.9v0.9h-0.9zM48.2 313.1h0.9v0.9h-0.9zM43.5 293.3h0.9v0.9h-0.9zM45.6 296.6h0.9v0.9h-0.9zM44.9 296.3h0.9v0.9h-0.9zM43.0 313.9h0.9v0.9h-0.9zM44.7 295.8h0.9v0.9h-0.9zM43.8 316.2h0.9v0.9h-0.9zM43.7 318.1h0.9v0.9h-0.9zM49.9 299.4h0.9v0.9h-0.9zM49.7 298.9h0.9v0.9h-0.9zM44.2 324.8h0.9v0.9h-0.9zM48.9 308.7h0.9v0.9h-0.9zM48.9 308.6h0.9v0.9h-0.9zM56.4 328.3h0.9v0.9h-0.9zM47.2 300.8h0.9v0.9h-0.9zM41.7 336.7h0.9v0.9h-0.9zM42.1 337.1h0.9v0.9h-0.9zM49.4 311.3h0.9v0.9h-0.9zM47.3 320.4h0.9v0.9h-0.9zM46.5 297.6h0.9v0.9h-0.9zM44.6 308.4h0.9v0.9h-0.9zM45.0 317.5h0.9v0.9h-0.9zM62.0 334.5h0.9v0.9h-0.9zM48.2 293.5h0.9v0.9h-0.9zM48.2 320.1h0.9v0.9h-0.9zM47.2 296.2h0.9v0.9h-0.9zM46.1 293.8h0.9v0.9h-0.9zM44.4 336.8h0.9v0.9h-0.9zM47.2 296.3h0.9v0.9h-0.9zM44.9 336.6h0.9v0.9h-0.9zM49.3 307.3h0.9v0.9h-0.9zM46.8 300.9h0.9v0.9h-0.9zM47.4 298.6h0.9v0.9h-0.9zM46.3 298.4h0.9v0.9h-0.9zM49.5 306.8h0.9v0.9h-0.9zM45.3 298.4h0.9v0.9h-0.9zM44.0 337.4h0.9v0.9h-0.9zM64.9 344.4h0.9v0.9h-0.9zM45.1 320.1h0.9v0.9h-0.9zM45.3 313.0h0.9v0.9h-0.9zM60.6 332.2h0.9v0.9h-0.9zM58.8 328.5h0.9v0.9h-0.9zM60.5 331.6h0.9v0.9h-0.9zM60.5 332.4h0.9v0.9h-0.9zM44.9 316.9h0.9v0.9h-0.9zM50.7 317.3h0.9v0.9h-0.9zM51.3 314.8h0.9v0.9h-0.9zM49.8 301.4h0.9v0.9h-0.9zM66.3 345.1h0.9v0.9h-0.9zM48.5 319.8h0.9v0.9h-0.9zM61.4 332.6h0.9v0.9h-0.9zM55.7 340.0h0.9v0.9h-0.9zM62.0 333.0h0.9v0.9h-0.9zM48.7 300.6h0.9v0.9h-0.9zM45.1 293.3h0.9v0.9h-0.9zM61.5 336.1h0.9v0.9h-0.9zM48.4 301.3h0.9v0.9h-0.9zM46.4 318.6h0.9v0.9h-0.9zM48.7 320.4h0.9v0.9h-0.9zM45.9 302.9h0.9v0.9h-0.9zM45.1 292.9h0.9v0.9h-0.9zM45.2 316.0h0.9v0.9h-0.9zM39.1 331.8h0.9v0.9h-0.9zM46.2 319.1h0.9v0.9h-0.9zM61.9 336.3h0.9v0.9h-0.9zM65.7 344.6h0.9v0.9h-0.9zM55.9 340.3h0.9v0.9h-0.9zM51.4 315.0h0.9v0.9h-0.9zM44.4 293.1h0.9v0.9h-0.9zM46.3 319.1h0.9v0.9h-0.9zM61.3 332.8h0.9v0.9h-0.9zM45.9 295.3h0.9v0.9h-0.9zM58.3 330.1h0.9v0.9h-0.9zM48.0 302.4h0.9v0.9h-0.9zM51.9 315.7h0.9v0.9h-0.9zM48.3 298.9h0.9v0.9h-0.9zM58.7 342.0h0.9v0.9h-0.9zM52.2 338.7h0.9v0.9h-0.9zM49.3 322.7h0.9v0.9h-0.9zM48.5 303.1h0.9v0.9h-0.9zM52.0 315.6h0.9v0.9h-0.9zM52.0 315.5h0.9v0.9h-0.9zM46.5 318.0h0.9v0.9h-0.9zM40.2 329.9h0.9v0.9h-0.9zM46.1 294.5h0.9v0.9h-0.9zM50.1 317.5h0.9v0.9h-0.9zM47.3 302.2h0.9v0.9h-0.9zM58.6 330.0h0.9v0.9h-0.9zM47.9 293.4h0.9v0.9h-0.9zM47.7 293.0h0.9v0.9h-0.9zM48.9 317.5h0.9v0.9h-0.9zM40.3 330.1h0.9v0.9h-0.9zM49.6 317.6h0.9v0.9h-0.9zM49.1 298.9h0.9v0.9h-0.9zM51.9 316.0h0.9v0.9h-0.9zM44.6 304.5h0.9v0.9h-0.9zM50.0 323.3h0.9v0.9h-0.9zM45.7 294.9h0.9v0.9h-0.9zM58.7 342.3h0.9v0.9h-0.9zM49.5 318.3h0.9v0.9h-0.9z" fill="rgb(104,124,242)" fill-opacity="0.45"/>
<path d="M39.6 334.7h0.9v0.9h-0.9zM48.5 300.4h0.9v0.9h-0.9zM44.3 312.1h0.9v0.9h-0.9zM47.0 295.5h0.9v0.9h-0.9zM39.7 334.7h0.9v0.9h-0.9zM50.5 305.0h0.9v0.9h-0.9zM40.0 334.7h0.9v0.9h-0.9zM49.0 299.7h0.9v0.9h-0.9zM50.4 315.1h0.9v0.9h-0.9zM55.6 328.4h0.9v0.9h-0.9zM45.2 314.6h0.9v0.9h-0.9zM51.2 305.4h0.9v0.9h-0.9zM47.6 312.5h0.9v0.9h-0.9zM44.5 311.7h0.9v0.9h-0.9zM48.2 310.4h0.9v0.9h-0.9zM43.5 324.0h0.9v0.9h-0.9zM44.6 315.3h0.9v0.9h-0.9zM55.6 327.8h0.9v0.9h-0.9zM61.9 333.6h0.9v0.9h-0.9zM44.8 312.1h0.9v0.9h-0.9zM43.9 323.7h0.9v0.9h-0.9zM45.5 314.5h0.9v0.9h-0.9zM59.4 331.8h0.9v0.9h-0.9zM47.2 337.5h0.9v0.9h-0.9zM49.1 295.2h0.9v0.9h-0.9zM46.9 313.2h0.9v0.9h-0.9zM49.1 294.8h0.9v0.9h-0.9zM59.4 332.5h0.9v0.9h-0.9zM40.5 334.1h0.9v0.9h-0.9zM62.9 337.4h0.9v0.9h-0.9zM44.5 316.4h0.9v0.9h-0.9zM48.5 294.5h0.9v0.9h-0.9zM50.6 316.5h0.9v0.9h-0.9zM45.5 314.7h0.9v0.9h-0.9zM46.0 314.9h0.9v0.9h-0.9zM50.7 325.1h0.9v0.9h-0.9zM58.4 331.5h0.9v0.9h-0.9zM39.1 333.6h0.9v0.9h-0.9zM47.6 293.7h0.9v0.9h-0.9zM55.1 328.3h0.9v0.9h-0.9zM47.1 295.3h0.9v0.9h-0.9zM48.3 305.8h0.9v0.9h-0.9zM47.8 294.6h0.9v0.9h-0.9zM50.0 311.7h0.9v0.9h-0.9zM48.3 306.0h0.9v0.9h-0.9zM49.7 304.8h0.9v0.9h-0.9zM46.4 316.1h0.9v0.9h-0.9zM47.7 295.1h0.9v0.9h-0.9zM47.6 322.1h0.9v0.9h-0.9zM68.1 343.7h0.9v0.9h-0.9zM49.0 306.0h0.9v0.9h-0.9zM41.3 336.4h0.9v0.9h-0.9zM49.7 305.3h0.9v0.9h-0.9zM51.0 325.7h0.9v0.9h-0.9zM50.0 311.8h0.9v0.9h-0.9zM47.0 302.3h0.9v0.9h-0.9zM46.8 338.0h0.9v0.9h-0.9zM54.8 339.4h0.9v0.9h-0.9zM48.7 315.3h0.9v0.9h-0.9zM45.8 312.4h0.9v0.9h-0.9zM54.6 338.6h0.9v0.9h-0.9zM43.8 322.9h0.9v0.9h-0.9zM48.2 315.1h0.9v0.9h-0.9zM48.9 314.8h0.9v0.9h-0.9zM48.0 308.1h0.9v0.9h-0.9zM47.4 308.4h0.9v0.9h-0.9zM44.7 325.6h0.9v0.9h-0.9zM45.5 311.3h0.9v0.9h-0.9zM49.2 306.3h0.9v0.9h-0.9zM46.3 316.9h0.9v0.9h-0.9zM44.5 326.5h0.9v0.9h-0.9zM47.0 316.7h0.9v0.9h-0.9zM44.9 326.3h0.9v0.9h-0.9zM47.3 308.1h0.9v0.9h-0.9zM48.1 313.7h0.9v0.9h-0.9zM47.4 307.0h0.9v0.9h-0.9zM47.2 307.8h0.9v0.9h-0.9zM47.3 307.4h0.9v0.9h-0.9zM39.0 333.4h0.9v0.9h-0.9zM46.7 314.1h0.9v0.9h-0.9zM46.8 310.0h0.9v0.9h-0.9zM50.3 305.8h0.9v0.9h-0.9zM47.1 313.8h0.9v0.9h-0.9zM51.3 339.4h0.9v0.9h-0.9zM64.5 339.3h0.9v0.9h-0.9zM44.4 322.0h0.9v0.9h-0.9zM48.6 311.5h0.9v0.9h-0.9zM64.5 338.9h0.9v0.9h-0.9zM50.0 324.3h0.9v0.9h-0.9zM51.1 306.1h0.9v0.9h-0.9zM51.2 306.4h0.9v0.9h-0.9zM45.2 325.5h0.9v0.9h-0.9zM39.0 332.9h0.9v0.9h-0.9zM51.0 306.1h0.9v0.9h-0.9zM68.1 341.1h0.9v0.9h-0.9zM46.6 313.9h0.9v0.9h-0.9zM45.8 324.6h0.9v0.9h-0.9zM67.6 340.7h0.9v0.9h-0.9zM43.7 327.2h0.9v0.9h-0.9zM67.8 340.8h0.9v0.9h-0.9zM52.2 338.6h0.9v0.9h-0.9zM46.8 321.3h0.9v0.9h-0.9zM56.3 328.9h0.9v0.9h-0.9zM66.9 340.5h0.9v0.9h-0.9zM41.4 335.1h0.9v0.9h-0.9zM45.6 320.3h0.9v0.9h-0.9zM46.5 321.0h0.9v0.9h-0.9zM45.7 321.2h0.9v0.9h-0.9zM66.3 339.7h0.9v0.9h-0.9zM63.4 343.1h0.9v0.9h-0.9zM66.9 340.0h0.9v0.9h-0.9zM45.9 321.0h0.9v0.9h-0.9zM57.1 329.3h0.9v0.9h-0.9zM56.9 328.9h0.9v0.9h-0.9zM62.2 337.2h0.9v0.9h-0.9zM63.3 338.4h0.9v0.9h-0.9zM46.2 311.6h0.9v0.9h-0.9zM48.2 303.7h0.9v0.9h-0.9zM46.4 303.0h0.9v0.9h-0.9zM50.1 316.7h0.9v0.9h-0.9zM49.7 316.5h0.9v0.9h-0.9zM46.4 303.3h0.9v0.9h-0.9zM45.1 304.6h0.9v0.9h-0.9zM48.4 303.6h0.9v0.9h-0.9zM46.5 306.5h0.9v0.9h-0.9zM45.2 305.9h0.9v0.9h-0.9zM48.3 303.9h0.9v0.9h-0.9zM49.2 325.5h0.9v0.9h-0.9zM45.6 306.5h0.9v0.9h-0.9zM63.8 338.2h0.9v0.9h-0.9zM45.8 305.5h0.9v0.9h-0.9zM58.2 330.5h0.9v0.9h-0.9zM49.2 304.0h0.9v0.9h-0.9zM44.4 305.1h0.9v0.9h-0.9zM45.6 303.9h0.9v0.9h-0.9zM47.8 314.7h0.9v0.9h-0.9zM47.8 303.2h0.9v0.9h-0.9zM48.1 302.5h0.9v0.9h-0.9zM45.4 307.9h0.9v0.9h-0.9zM45.8 307.6h0.9v0.9h-0.9zM46.9 325.6h0.9v0.9h-0.9zM45.5 306.6h0.9v0.9h-0.9zM47.3 311.7h0.9v0.9h-0.9zM47.7 314.8h0.9v0.9h-0.9zM48.2 312.2h0.9v0.9h-0.9zM40.1 334.1h0.9v0.9h-0.9zM56.3 331.1h0.9v0.9h-0.9zM57.8 330.2h0.9v0.9h-0.9zM51.3 327.1h0.9v0.9h-0.9zM51.7 326.9h0.9v0.9h-0.9zM46.0 319.3h0.9v0.9h-0.9zM48.3 311.3h0.9v0.9h-0.9zM45.8 327.4h0.9v0.9h-0.9zM60.3 335.7h0.9v0.9h-0.9zM46.0 319.3h0.9v0.9h-0.9zM39.8 333.5h0.9v0.9h-0.9zM58.1 330.2h0.9v0.9h-0.9zM46.4 322.5h0.9v0.9h-0.9zM45.9 318.6h0.9v0.9h-0.9zM45.9 327.3h0.9v0.9h-0.9zM49.1 311.1h0.9v0.9h-0.9zM39.5 334.1h0.9v0.9h-0.9zM51.7 326.8h0.9v0.9h-0.9zM60.7 336.0h0.9v0.9h-0.9zM60.4 335.8h0.9v0.9h-0.9zM58.0 329.6h0.9v0.9h-0.9zM56.2 331.1h0.9v0.9h-0.9zM40.8 332.6h0.9v0.9h-0.9zM60.2 334.8h0.9v0.9h-0.9zM53.3 328.3h0.9v0.9h-0.9zM46.7 322.4h0.9v0.9h-0.9zM46.7 321.7h0.9v0.9h-0.9zM55.9 339.3h0.9v0.9h-0.9zM46.2 304.2h0.9v0.9h-0.9zM67.8 343.1h0.9v0.9h-0.9zM46.7 305.2h0.9v0.9h-0.9zM40.2 333.1h0.9v0.9h-0.9zM48.7 322.9h0.9v0.9h-0.9zM48.9 323.4h0.9v0.9h-0.9zM67.6 343.3h0.9v0.9h-0.9zM67.6 343.5h0.9v0.9h-0.9zM48.6 323.2h0.9v0.9h-0.9zM60.5 335.5h0.9v0.9h-0.9zM47.7 309.7h0.9v0.9h-0.9zM47.9 322.8h0.9v0.9h-0.9zM47.3 310.3h0.9v0.9h-0.9zM53.4 328.3h0.9v0.9h-0.9zM53.4 328.5h0.9v0.9h-0.9zM41.2 333.4h0.9v0.9h-0.9zM54.0 328.4h0.9v0.9h-0.9zM40.4 333.1h0.9v0.9h-0.9zM54.0 328.0h0.9v0.9h-0.9zM46.7 304.5h0.9v0.9h-0.9zM68.0 342.9h0.9v0.9h-0.9zM40.9 331.0h0.9v0.9h-0.9zM45.7 323.4h0.9v0.9h-0.9zM45.1 323.5h0.9v0.9h-0.9zM46.0 323.2h0.9v0.9h-0.9zM39.9 331.8h0.9v0.9h-0.9zM39.3 332.3h0.9v0.9h-0.9zM44.5 323.2h0.9v0.9h-0.9zM44.7 326.6h0.9v0.9h-0.9zM67.7 342.4h0.9v0.9h-0.9zM47.9 305.3h0.9v0.9h-0.9zM50.1 325.1h0.9v0.9h-0.9zM47.9 326.0h0.9v0.9h-0.9zM44.4 323.4h0.9v0.9h-0.9zM40.8 331.2h0.9v0.9h-0.9zM45.0 323.2h0.9v0.9h-0.9zM40.9 330.8h0.9v0.9h-0.9zM45.2 326.9h0.9v0.9h-0.9zM49.6 325.1h0.9v0.9h-0.9zM58.7 332.2h0.9v0.9h-0.9zM47.5 305.1h0.9v0.9h-0.9zM59.3 333.3h0.9v0.9h-0.9zM50.1 324.6h0.9v0.9h-0.9zM49.3 325.3h0.9v0.9h-0.9zM49.8 324.9h0.9v0.9h-0.9zM47.5 304.7h0.9v0.9h-0.9zM66.1 344.0h0.9v0.9h-0.9zM39.3 332.1h0.9v0.9h-0.9zM45.2 322.9h0.9v0.9h-0.9zM49.4 337.6h0.9v0.9h-0.9zM48.3 323.5h0.9v0.9h-0.9zM50.1 338.1h0.9v0.9h-0.9zM55.4 328.9h0.9v0.9h-0.9zM48.9 323.5h0.9v0.9h-0.9zM59.9 341.5h0.9v0.9h-0.9zM49.6 338.1h0.9v0.9h-0.9zM41.5 329.6h0.9v0.9h-0.9zM48.8 315.9h0.9v0.9h-0.9zM61.2 337.5h0.9v0.9h-0.9zM60.6 337.1h0.9v0.9h-0.9zM47.1 326.9h0.9v0.9h-0.9zM48.5 324.7h0.9v0.9h-0.9zM56.5 330.0h0.9v0.9h-0.9zM56.2 329.8h0.9v0.9h-0.9zM48.9 324.7h0.9v0.9h-0.9zM67.2 343.6h0.9v0.9h-0.9zM56.6 329.8h0.9v0.9h-0.9zM48.6 315.9h0.9v0.9h-0.9zM66.3 343.7h0.9v0.9h-0.9zM45.3 304.6h0.9v0.9h-0.9zM48.4 317.5h0.9v0.9h-0.9zM54.1 337.7h0.9v0.9h-0.9zM48.0 316.5h0.9v0.9h-0.9zM47.3 316.7h0.9v0.9h-0.9zM45.5 304.9h0.9v0.9h-0.9zM46.1 322.0h0.9v0.9h-0.9zM45.8 321.7h0.9v0.9h-0.9zM53.7 338.1h0.9v0.9h-0.9zM47.8 317.1h0.9v0.9h-0.9zM47.7 316.9h0.9v0.9h-0.9zM61.1 333.8h0.9v0.9h-0.9zM60.7 333.9h0.9v0.9h-0.9zM60.2 334.0h0.9v0.9h-0.9zM49.2 317.4h0.9v0.9h-0.9zM53.3 337.9h0.9v0.9h-0.9zM40.7 332.0h0.9v0.9h-0.9zM46.1 322.0h0.9v0.9h-0.9zM48.5 317.3h0.9v0.9h-0.9zM47.9 317.4h0.9v0.9h-0.9zM45.7 305.5h0.9v0.9h-0.9zM46.1 305.3h0.9v0.9h-0.9z" fill="rgb(81,106,241)" fill-opacity="0.7"/>
<path d="M39.3 332.6h0.9v0.9h-0.9zM48.2 316.1h0.9v0.9h-0.9zM46.5 307.5h0.9v0.9h-0.9zM46.4 325.3h0.9v0.9h-0.9zM46.9 324.9h0.9v0.9h-0.9zM46.7 324.9h0.9v0.9h-0.9zM47.6 324.9h0.9v0.9h-0.9zM47.2 323.8h0.9v0.9h-0.9zM47.4 325.1h0.9v0.9h-0.9zM46.7 307.9h0.9v0.9h-0.9zM46.9 324.9h0.9v0.9h-0.9zM46.2 307.5h0.9v0.9h-0.9zM47.2 327.5h0.9v0.9h-0.9zM47.6 323.9h0.9v0.9h-0.9zM46.8 308.4h0.9v0.9h-0.9zM41.9 331.5h0.9v0.9h-0.9zM48.2 326.9h0.9v0.9h-0.9zM47.4 325.1h0.9v0.9h-0.9zM47.0 308.0h0.9v0.9h-0.9zM47.2 323.6h0.9v0.9h-0.9zM43.1 336.1h0.9v0.9h-0.9zM46.2 311.2h0.9v0.9h-0.9zM49.1 326.6h0.9v0.9h-0.9zM43.1 335.9h0.9v0.9h-0.9zM46.7 324.0h0.9v0.9h-0.9zM50.7 327.3h0.9v0.9h-0.9zM46.9 311.1h0.9v0.9h-0.9zM46.4 323.9h0.9v0.9h-0.9zM42.9 336.3h0.9v0.9h-0.9zM41.7 331.3h0.9v0.9h-0.9zM42.5 336.3h0.9v0.9h-0.9zM48.4 326.6h0.9v0.9h-0.9zM50.3 327.1h0.9v0.9h-0.9zM46.7 323.7h0.9v0.9h-0.9zM47.1 310.9h0.9v0.9h-0.9zM48.3 327.0h0.9v0.9h-0.9zM65.5 340.2h0.9v0.9h-0.9zM66.1 339.9h0.9v0.9h-0.9zM65.6 340.0h0.9v0.9h-0.9zM52.6 337.6h0.9v0.9h-0.9zM56.9 332.3h0.9v0.9h-0.9zM66.1 339.7h0.9v0.9h-0.9zM56.4 332.0h0.9v0.9h-0.9zM53.1 338.4h0.9v0.9h-0.9zM65.6 340.3h0.9v0.9h-0.9zM44.1 336.4h0.9v0.9h-0.9zM49.6 327.0h0.9v0.9h-0.9zM49.3 326.7h0.9v0.9h-0.9zM49.7 327.3h0.9v0.9h-0.9zM43.5 336.5h0.9v0.9h-0.9zM49.2 327.2h0.9v0.9h-0.9zM64.8 342.5h0.9v0.9h-0.9zM62.9 338.1h0.9v0.9h-0.9zM62.1 342.3h0.9v0.9h-0.9zM61.5 342.2h0.9v0.9h-0.9zM62.1 341.7h0.9v0.9h-0.9zM62.1 341.8h0.9v0.9h-0.9zM61.4 341.6h0.9v0.9h-0.9zM57.6 332.3h0.9v0.9h-0.9zM47.6 311.4h0.9v0.9h-0.9zM48.1 311.3h0.9v0.9h-0.9zM58.5 333.1h0.9v0.9h-0.9zM47.3 310.6h0.9v0.9h-0.9zM47.9 310.6h0.9v0.9h-0.9zM58.3 333.0h0.9v0.9h-0.9zM57.7 332.0h0.9v0.9h-0.9zM58.2 333.5h0.9v0.9h-0.9zM57.5 331.7h0.9v0.9h-0.9zM47.6 311.2h0.9v0.9h-0.9zM57.6 339.8h0.9v0.9h-0.9zM60.8 342.1h0.9v0.9h-0.9zM60.5 341.6h0.9v0.9h-0.9zM57.9 339.6h0.9v0.9h-0.9zM57.9 340.3h0.9v0.9h-0.9zM61.0 341.9h0.9v0.9h-0.9zM57.5 340.0h0.9v0.9h-0.9zM60.4 341.7h0.9v0.9h-0.9zM60.7 341.6h0.9v0.9h-0.9zM61.9 338.1h0.9v0.9h-0.9zM51.1 337.8h0.9v0.9h-0.9zM67.1 341.1h0.9v0.9h-0.9zM45.2 335.7h0.9v0.9h-0.9zM52.8 328.1h0.9v0.9h-0.9zM50.7 337.9h0.9v0.9h-0.9zM66.4 340.7h0.9v0.9h-0.9zM62.1 337.8h0.9v0.9h-0.9zM59.3 336.8h0.9v0.9h-0.9zM64.0 338.8h0.9v0.9h-0.9zM59.3 337.4h0.9v0.9h-0.9zM62.9 342.1h0.9v0.9h-0.9zM60.2 337.4h0.9v0.9h-0.9zM59.9 337.2h0.9v0.9h-0.9zM63.2 339.1h0.9v0.9h-0.9zM59.7 337.0h0.9v0.9h-0.9zM56.7 338.7h0.9v0.9h-0.9zM56.5 338.8h0.9v0.9h-0.9zM62.8 342.0h0.9v0.9h-0.9zM63.5 339.5h0.9v0.9h-0.9zM59.5 336.3h0.9v0.9h-0.9zM47.3 337.4h0.9v0.9h-0.9zM54.3 337.8h0.9v0.9h-0.9zM47.5 337.0h0.9v0.9h-0.9zM47.6 336.6h0.9v0.9h-0.9zM47.2 337.0h0.9v0.9h-0.9zM47.4 336.7h0.9v0.9h-0.9zM46.3 336.5h0.9v0.9h-0.9zM46.9 336.9h0.9v0.9h-0.9zM47.1 336.7h0.9v0.9h-0.9zM55.1 338.3h0.9v0.9h-0.9zM48.1 336.6h0.9v0.9h-0.9zM60.2 336.1h0.9v0.9h-0.9zM59.3 335.8h0.9v0.9h-0.9zM56.0 329.8h0.9v0.9h-0.9zM47.3 328.5h0.9v0.9h-0.9zM51.9 338.1h0.9v0.9h-0.9zM45.1 328.2h0.9v0.9h-0.9zM56.1 330.2h0.9v0.9h-0.9zM60.1 334.0h0.9v0.9h-0.9zM59.4 333.7h0.9v0.9h-0.9zM52.1 338.3h0.9v0.9h-0.9zM47.2 327.5h0.9v0.9h-0.9zM60.8 338.1h0.9v0.9h-0.9zM60.2 334.1h0.9v0.9h-0.9zM44.7 328.5h0.9v0.9h-0.9zM59.5 340.6h0.9v0.9h-0.9zM60.8 337.7h0.9v0.9h-0.9zM59.9 333.7h0.9v0.9h-0.9zM51.5 337.7h0.9v0.9h-0.9zM48.0 328.2h0.9v0.9h-0.9zM59.7 333.7h0.9v0.9h-0.9zM52.0 337.9h0.9v0.9h-0.9zM60.1 334.4h0.9v0.9h-0.9zM55.7 329.6h0.9v0.9h-0.9zM47.0 327.8h0.9v0.9h-0.9zM60.2 341.1h0.9v0.9h-0.9zM58.8 333.6h0.9v0.9h-0.9zM62.3 341.2h0.9v0.9h-0.9zM64.9 339.6h0.9v0.9h-0.9zM58.6 340.1h0.9v0.9h-0.9zM63.2 340.6h0.9v0.9h-0.9zM64.3 339.8h0.9v0.9h-0.9zM58.9 339.6h0.9v0.9h-0.9zM58.3 340.4h0.9v0.9h-0.9zM44.1 327.7h0.9v0.9h-0.9zM43.5 328.4h0.9v0.9h-0.9zM43.8 328.5h0.9v0.9h-0.9zM43.8 327.9h0.9v0.9h-0.9zM43.6 327.8h0.9v0.9h-0.9zM43.8 328.0h0.9v0.9h-0.9zM60.1 334.6h0.9v0.9h-0.9zM42.3 330.5h0.9v0.9h-0.9zM42.7 330.2h0.9v0.9h-0.9zM42.5 329.9h0.9v0.9h-0.9zM59.7 335.2h0.9v0.9h-0.9zM66.9 342.6h0.9v0.9h-0.9zM42.4 330.1h0.9v0.9h-0.9zM42.8 329.5h0.9v0.9h-0.9zM66.9 343.1h0.9v0.9h-0.9zM57.3 334.9h0.9v0.9h-0.9zM59.4 335.1h0.9v0.9h-0.9zM48.4 337.1h0.9v0.9h-0.9zM67.0 343.3h0.9v0.9h-0.9zM58.1 334.9h0.9v0.9h-0.9zM57.8 334.6h0.9v0.9h-0.9zM62.6 339.8h0.9v0.9h-0.9zM66.4 341.8h0.9v0.9h-0.9zM61.3 340.5h0.9v0.9h-0.9zM66.5 342.1h0.9v0.9h-0.9zM59.1 335.0h0.9v0.9h-0.9zM66.6 342.1h0.9v0.9h-0.9zM48.8 328.1h0.9v0.9h-0.9zM66.7 341.5h0.9v0.9h-0.9zM66.2 342.4h0.9v0.9h-0.9zM62.0 340.5h0.9v0.9h-0.9zM61.9 340.6h0.9v0.9h-0.9zM58.6 334.9h0.9v0.9h-0.9zM66.2 341.9h0.9v0.9h-0.9zM48.9 327.9h0.9v0.9h-0.9zM56.2 330.9h0.9v0.9h-0.9zM62.0 340.6h0.9v0.9h-0.9z" fill="rgb(58,92,239)" fill-opacity="0.7"/>
<path d="M51.4 328.0h0.9v0.9h-0.9zM52.0 328.3h0.9v0.9h-0.9zM43.2 334.8h0.9v0.9h-0.9zM42.6 335.4h0.9v0.9h-0.9zM43.0 335.2h0.9v0.9h-0.9zM57.5 334.4h0.9v0.9h-0.9zM51.5 327.9h0.9v0.9h-0.9zM42.6 334.7h0.9v0.9h-0.9zM57.3 333.6h0.9v0.9h-0.9zM58.2 334.0h0.9v0.9h-0.9zM57.6 334.0h0.9v0.9h-0.9zM57.4 333.6h0.9v0.9h-0.9zM53.6 328.8h0.9v0.9h-0.9zM53.8 329.4h0.9v0.9h-0.9zM58.6 336.1h0.9v0.9h-0.9zM58.3 336.0h0.9v0.9h-0.9zM54.0 328.9h0.9v0.9h-0.9zM53.9 329.2h0.9v0.9h-0.9zM58.7 336.1h0.9v0.9h-0.9zM45.4 335.8h0.9v0.9h-0.9zM56.6 333.2h0.9v0.9h-0.9zM63.9 340.1h0.9v0.9h-0.9zM57.1 332.6h0.9v0.9h-0.9zM66.2 343.4h0.9v0.9h-0.9zM55.7 332.5h0.9v0.9h-0.9zM46.1 335.7h0.9v0.9h-0.9zM65.7 343.0h0.9v0.9h-0.9zM55.4 332.4h0.9v0.9h-0.9zM55.4 331.7h0.9v0.9h-0.9zM43.0 330.5h0.9v0.9h-0.9zM65.2 342.6h0.9v0.9h-0.9zM65.3 342.7h0.9v0.9h-0.9zM63.7 339.9h0.9v0.9h-0.9zM66.1 343.0h0.9v0.9h-0.9zM42.6 330.5h0.9v0.9h-0.9zM55.4 332.1h0.9v0.9h-0.9zM65.9 342.8h0.9v0.9h-0.9zM63.1 339.3h0.9v0.9h-0.9zM62.7 338.8h0.9v0.9h-0.9zM62.4 339.4h0.9v0.9h-0.9zM62.8 339.3h0.9v0.9h-0.9zM62.6 338.8h0.9v0.9h-0.9zM62.7 339.2h0.9v0.9h-0.9zM44.0 334.7h0.9v0.9h-0.9zM43.7 335.0h0.9v0.9h-0.9zM43.7 335.2h0.9v0.9h-0.9zM58.2 333.3h0.9v0.9h-0.9zM57.3 332.6h0.9v0.9h-0.9zM50.2 327.8h0.9v0.9h-0.9zM57.4 333.5h0.9v0.9h-0.9zM50.7 328.0h0.9v0.9h-0.9zM51.0 328.4h0.9v0.9h-0.9zM49.3 327.8h0.9v0.9h-0.9zM58.1 332.9h0.9v0.9h-0.9zM50.8 328.3h0.9v0.9h-0.9zM58.4 337.3h0.9v0.9h-0.9zM50.6 328.4h0.9v0.9h-0.9zM57.8 333.1h0.9v0.9h-0.9zM49.6 328.4h0.9v0.9h-0.9zM49.3 328.3h0.9v0.9h-0.9zM58.4 336.7h0.9v0.9h-0.9zM50.3 328.0h0.9v0.9h-0.9zM57.5 332.7h0.9v0.9h-0.9zM50.5 328.4h0.9v0.9h-0.9zM64.0 341.8h0.9v0.9h-0.9zM56.5 334.1h0.9v0.9h-0.9zM59.4 337.7h0.9v0.9h-0.9zM61.3 339.2h0.9v0.9h-0.9zM63.6 342.3h0.9v0.9h-0.9zM56.2 333.8h0.9v0.9h-0.9zM63.9 342.0h0.9v0.9h-0.9zM61.5 339.9h0.9v0.9h-0.9zM61.5 339.0h0.9v0.9h-0.9zM63.9 341.7h0.9v0.9h-0.9zM60.0 338.2h0.9v0.9h-0.9zM61.5 340.3h0.9v0.9h-0.9zM60.2 338.1h0.9v0.9h-0.9zM59.3 338.4h0.9v0.9h-0.9zM62.1 340.1h0.9v0.9h-0.9zM61.3 339.9h0.9v0.9h-0.9zM64.1 342.4h0.9v0.9h-0.9zM62.1 339.6h0.9v0.9h-0.9zM57.0 333.8h0.9v0.9h-0.9zM61.9 338.9h0.9v0.9h-0.9zM61.7 338.5h0.9v0.9h-0.9zM44.8 335.2h0.9v0.9h-0.9zM44.6 335.3h0.9v0.9h-0.9zM44.6 335.4h0.9v0.9h-0.9zM44.9 334.8h0.9v0.9h-0.9zM45.1 335.3h0.9v0.9h-0.9zM44.4 335.4h0.9v0.9h-0.9zM65.2 340.9h0.9v0.9h-0.9zM66.1 341.3h0.9v0.9h-0.9zM65.8 340.9h0.9v0.9h-0.9zM66.2 341.4h0.9v0.9h-0.9zM56.6 334.7h0.9v0.9h-0.9zM57.0 334.6h0.9v0.9h-0.9zM56.3 335.4h0.9v0.9h-0.9zM57.1 334.6h0.9v0.9h-0.9zM56.0 332.8h0.9v0.9h-0.9zM56.0 332.6h0.9v0.9h-0.9zM55.3 333.2h0.9v0.9h-0.9zM56.9 335.2h0.9v0.9h-0.9zM53.4 336.6h0.9v0.9h-0.9zM53.8 337.4h0.9v0.9h-0.9zM54.7 329.8h0.9v0.9h-0.9zM54.2 329.6h0.9v0.9h-0.9zM54.5 330.4h0.9v0.9h-0.9zM53.7 337.1h0.9v0.9h-0.9zM55.0 329.8h0.9v0.9h-0.9zM54.6 330.1h0.9v0.9h-0.9zM60.8 341.1h0.9v0.9h-0.9zM53.1 337.5h0.9v0.9h-0.9zM61.0 340.5h0.9v0.9h-0.9zM60.9 340.9h0.9v0.9h-0.9zM61.1 340.7h0.9v0.9h-0.9zM56.0 338.3h0.9v0.9h-0.9zM52.4 336.6h0.9v0.9h-0.9zM60.9 340.8h0.9v0.9h-0.9zM60.5 340.7h0.9v0.9h-0.9zM43.9 329.4h0.9v0.9h-0.9zM43.9 329.1h0.9v0.9h-0.9zM43.6 329.2h0.9v0.9h-0.9zM43.8 329.4h0.9v0.9h-0.9zM44.0 329.5h0.9v0.9h-0.9zM43.4 329.0h0.9v0.9h-0.9zM57.7 336.3h0.9v0.9h-0.9zM58.1 336.2h0.9v0.9h-0.9zM57.8 336.4h0.9v0.9h-0.9zM58.0 336.4h0.9v0.9h-0.9zM64.1 341.5h0.9v0.9h-0.9zM63.2 340.6h0.9v0.9h-0.9zM63.7 340.7h0.9v0.9h-0.9zM64.1 340.8h0.9v0.9h-0.9zM64.1 340.6h0.9v0.9h-0.9zM64.2 341.2h0.9v0.9h-0.9zM63.6 341.0h0.9v0.9h-0.9zM60.6 339.0h0.9v0.9h-0.9zM60.6 339.3h0.9v0.9h-0.9zM60.3 339.1h0.9v0.9h-0.9zM60.7 338.6h0.9v0.9h-0.9zM60.2 339.3h0.9v0.9h-0.9zM61.1 338.8h0.9v0.9h-0.9zM57.6 338.8h0.9v0.9h-0.9zM57.7 338.6h0.9v0.9h-0.9zM58.1 338.9h0.9v0.9h-0.9zM57.3 339.2h0.9v0.9h-0.9zM47.1 336.4h0.9v0.9h-0.9zM47.0 336.4h0.9v0.9h-0.9zM58.1 338.8h0.9v0.9h-0.9zM65.2 342.1h0.9v0.9h-0.9zM43.6 330.0h0.9v0.9h-0.9zM66.0 342.5h0.9v0.9h-0.9zM46.3 336.4h0.9v0.9h-0.9zM43.3 329.9h0.9v0.9h-0.9zM46.5 335.7h0.9v0.9h-0.9zM65.4 342.0h0.9v0.9h-0.9zM44.2 330.0h0.9v0.9h-0.9zM65.9 342.0h0.9v0.9h-0.9zM43.4 330.5h0.9v0.9h-0.9zM66.1 342.5h0.9v0.9h-0.9zM47.7 328.7h0.9v0.9h-0.9zM44.5 328.8h0.9v0.9h-0.9zM49.9 336.5h0.9v0.9h-0.9zM65.1 341.6h0.9v0.9h-0.9zM52.3 329.5h0.9v0.9h-0.9zM49.4 336.7h0.9v0.9h-0.9zM50.1 336.7h0.9v0.9h-0.9zM52.6 329.0h0.9v0.9h-0.9zM64.8 342.2h0.9v0.9h-0.9zM64.4 342.2h0.9v0.9h-0.9zM52.9 328.9h0.9v0.9h-0.9zM49.9 337.0h0.9v0.9h-0.9zM44.9 329.4h0.9v0.9h-0.9zM49.5 337.0h0.9v0.9h-0.9zM44.7 328.8h0.9v0.9h-0.9zM65.1 342.3h0.9v0.9h-0.9zM64.8 340.7h0.9v0.9h-0.9zM64.5 340.8h0.9v0.9h-0.9z" fill="rgb(46,121,237)" fill-opacity="0.7"/>
<path d="M60.7 339.8h0.9v0.9h-0.9zM60.0 339.3h0.9v0.9h-0.9zM59.3 338.7h0.9v0.9h-0.9zM59.3 339.2h0.9v0.9h-0.9zM42.6 333.7h0.9v0.9h-0.9zM59.4 339.2h0.9v0.9h-0.9zM60.5 339.6h0.9v0.9h-0.9zM59.3 338.5h0.9v0.9h-0.9zM61.0 340.1h0.9v0.9h-0.9zM42.9 333.8h0.9v0.9h-0.9zM59.9 339.5h0.9v0.9h-0.9zM43.2 333.8h0.9v0.9h-0.9zM60.1 339.4h0.9v0.9h-0.9zM60.4 339.9h0.9v0.9h-0.9zM42.8 333.9h0.9v0.9h-0.9zM43.0 334.3h0.9v0.9h-0.9zM59.5 338.6h0.9v0.9h-0.9zM42.8 333.8h0.9v0.9h-0.9zM42.9 333.8h0.9v0.9h-0.9zM59.6 338.7h0.9v0.9h-0.9zM56.1 333.8h0.9v0.9h-0.9zM55.6 333.9h0.9v0.9h-0.9zM58.3 338.0h0.9v0.9h-0.9zM58.6 337.7h0.9v0.9h-0.9zM59.1 337.8h0.9v0.9h-0.9zM48.5 329.4h0.9v0.9h-0.9zM49.1 329.0h0.9v0.9h-0.9zM48.7 328.8h0.9v0.9h-0.9zM48.7 329.4h0.9v0.9h-0.9zM48.2 328.7h0.9v0.9h-0.9zM42.7 332.3h0.9v0.9h-0.9zM42.3 331.5h0.9v0.9h-0.9zM42.9 331.9h0.9v0.9h-0.9zM56.9 337.5h0.9v0.9h-0.9zM45.9 329.5h0.9v0.9h-0.9zM56.7 338.3h0.9v0.9h-0.9zM45.8 328.5h0.9v0.9h-0.9zM46.0 328.8h0.9v0.9h-0.9zM45.4 328.7h0.9v0.9h-0.9zM43.1 331.6h0.9v0.9h-0.9zM56.4 337.6h0.9v0.9h-0.9zM56.4 338.3h0.9v0.9h-0.9zM45.3 329.2h0.9v0.9h-0.9zM56.6 337.7h0.9v0.9h-0.9zM57.1 337.5h0.9v0.9h-0.9zM42.3 332.4h0.9v0.9h-0.9zM46.8 328.6h0.9v0.9h-0.9zM46.8 329.1h0.9v0.9h-0.9zM59.1 338.5h0.9v0.9h-0.9zM47.0 328.9h0.9v0.9h-0.9zM47.1 328.5h0.9v0.9h-0.9zM58.6 338.8h0.9v0.9h-0.9zM47.0 329.0h0.9v0.9h-0.9zM46.8 329.2h0.9v0.9h-0.9zM58.7 339.5h0.9v0.9h-0.9zM47.2 329.1h0.9v0.9h-0.9zM58.3 339.1h0.9v0.9h-0.9zM46.1 335.4h0.9v0.9h-0.9zM45.6 334.8h0.9v0.9h-0.9zM45.5 334.6h0.9v0.9h-0.9zM47.8 336.3h0.9v0.9h-0.9zM47.9 335.7h0.9v0.9h-0.9zM47.9 335.9h0.9v0.9h-0.9zM47.5 335.5h0.9v0.9h-0.9zM55.2 337.5h0.9v0.9h-0.9zM51.4 336.6h0.9v0.9h-0.9zM57.5 336.8h0.9v0.9h-0.9zM52.1 336.9h0.9v0.9h-0.9zM57.3 336.7h0.9v0.9h-0.9zM57.7 337.2h0.9v0.9h-0.9zM54.5 336.7h0.9v0.9h-0.9zM55.0 336.9h0.9v0.9h-0.9zM55.0 336.8h0.9v0.9h-0.9zM51.6 337.2h0.9v0.9h-0.9zM52.2 336.6h0.9v0.9h-0.9zM55.1 337.3h0.9v0.9h-0.9zM52.0 336.5h0.9v0.9h-0.9zM52.0 329.1h0.9v0.9h-0.9zM57.7 337.8h0.9v0.9h-0.9zM57.9 337.8h0.9v0.9h-0.9zM57.5 337.9h0.9v0.9h-0.9zM52.1 329.1h0.9v0.9h-0.9zM51.9 328.8h0.9v0.9h-0.9zM57.8 337.7h0.9v0.9h-0.9zM52.2 329.1h0.9v0.9h-0.9zM58.1 337.9h0.9v0.9h-0.9zM52.2 329.0h0.9v0.9h-0.9zM57.9 338.1h0.9v0.9h-0.9zM50.4 337.1h0.9v0.9h-0.9zM49.4 329.5h0.9v0.9h-0.9zM49.9 329.0h0.9v0.9h-0.9zM50.0 328.6h0.9v0.9h-0.9zM50.8 337.0h0.9v0.9h-0.9zM50.3 336.7h0.9v0.9h-0.9zM50.8 337.3h0.9v0.9h-0.9zM50.8 336.7h0.9v0.9h-0.9zM50.9 336.6h0.9v0.9h-0.9zM55.9 335.1h0.9v0.9h-0.9zM55.4 334.9h0.9v0.9h-0.9zM51.0 329.4h0.9v0.9h-0.9zM56.6 336.0h0.9v0.9h-0.9zM57.0 336.3h0.9v0.9h-0.9zM49.2 336.4h0.9v0.9h-0.9zM56.1 335.5h0.9v0.9h-0.9zM55.4 335.3h0.9v0.9h-0.9zM49.2 336.4h0.9v0.9h-0.9zM55.8 335.3h0.9v0.9h-0.9zM55.2 335.1h0.9v0.9h-0.9zM49.1 336.1h0.9v0.9h-0.9zM56.3 335.7h0.9v0.9h-0.9zM50.4 329.1h0.9v0.9h-0.9zM50.9 329.4h0.9v0.9h-0.9zM48.2 336.0h0.9v0.9h-0.9zM48.8 336.3h0.9v0.9h-0.9zM48.6 336.1h0.9v0.9h-0.9zM43.5 333.5h0.9v0.9h-0.9zM53.7 330.5h0.9v0.9h-0.9zM43.4 334.4h0.9v0.9h-0.9zM43.8 333.5h0.9v0.9h-0.9zM53.3 330.2h0.9v0.9h-0.9zM53.4 330.4h0.9v0.9h-0.9zM43.4 334.0h0.9v0.9h-0.9zM53.7 329.9h0.9v0.9h-0.9zM53.4 330.3h0.9v0.9h-0.9zM44.1 333.8h0.9v0.9h-0.9zM54.0 329.7h0.9v0.9h-0.9zM43.4 333.5h0.9v0.9h-0.9zM53.8 329.8h0.9v0.9h-0.9zM53.3 329.9h0.9v0.9h-0.9zM53.3 329.9h0.9v0.9h-0.9zM43.8 334.5h0.9v0.9h-0.9zM42.9 332.6h0.9v0.9h-0.9zM42.3 332.6h0.9v0.9h-0.9zM42.8 332.7h0.9v0.9h-0.9zM42.7 332.7h0.9v0.9h-0.9zM43.0 333.2h0.9v0.9h-0.9zM42.3 332.6h0.9v0.9h-0.9zM42.6 332.5h0.9v0.9h-0.9zM42.8 332.8h0.9v0.9h-0.9zM54.6 331.4h0.9v0.9h-0.9zM54.9 331.3h0.9v0.9h-0.9zM54.6 331.2h0.9v0.9h-0.9zM54.7 330.7h0.9v0.9h-0.9zM54.7 331.0h0.9v0.9h-0.9zM43.9 330.8h0.9v0.9h-0.9zM43.5 331.2h0.9v0.9h-0.9zM44.0 331.3h0.9v0.9h-0.9zM43.7 330.9h0.9v0.9h-0.9z" fill="rgb(33,151,235)" fill-opacity="1"/>
<path d="M44.8 329.7h0.9v0.9h-0.9zM44.6 330.4h0.9v0.9h-0.9zM44.5 330.1h0.9v0.9h-0.9zM45.0 329.9h0.9v0.9h-0.9zM44.9 330.2h0.9v0.9h-0.9zM46.6 334.7h0.9v0.9h-0.9zM53.3 335.8h0.9v0.9h-0.9zM47.1 335.1h0.9v0.9h-0.9zM53.8 336.1h0.9v0.9h-0.9zM47.2 334.8h0.9v0.9h-0.9zM53.9 335.7h0.9v0.9h-0.9zM54.2 336.0h0.9v0.9h-0.9zM46.4 335.3h0.9v0.9h-0.9zM53.9 336.2h0.9v0.9h-0.9zM46.9 334.8h0.9v0.9h-0.9zM46.9 335.0h0.9v0.9h-0.9zM46.3 335.0h0.9v0.9h-0.9zM54.1 335.9h0.9v0.9h-0.9zM47.0 334.6h0.9v0.9h-0.9zM55.9 335.6h0.9v0.9h-0.9zM55.9 337.1h0.9v0.9h-0.9zM55.6 335.9h0.9v0.9h-0.9zM56.1 337.5h0.9v0.9h-0.9zM56.0 337.1h0.9v0.9h-0.9zM56.0 336.8h0.9v0.9h-0.9zM55.9 336.2h0.9v0.9h-0.9zM55.9 337.3h0.9v0.9h-0.9zM55.3 335.5h0.9v0.9h-0.9zM55.5 337.2h0.9v0.9h-0.9zM55.8 336.1h0.9v0.9h-0.9zM55.4 336.8h0.9v0.9h-0.9zM55.4 336.0h0.9v0.9h-0.9zM55.8 336.6h0.9v0.9h-0.9zM55.7 337.0h0.9v0.9h-0.9zM55.8 336.0h0.9v0.9h-0.9zM55.6 336.3h0.9v0.9h-0.9zM56.2 336.9h0.9v0.9h-0.9zM52.9 335.5h0.9v0.9h-0.9zM52.3 335.6h0.9v0.9h-0.9zM52.7 336.0h0.9v0.9h-0.9zM53.1 335.5h0.9v0.9h-0.9zM52.8 335.9h0.9v0.9h-0.9zM52.7 335.6h0.9v0.9h-0.9zM52.3 336.2h0.9v0.9h-0.9zM52.4 335.7h0.9v0.9h-0.9zM53.0 335.8h0.9v0.9h-0.9zM57.0 337.1h0.9v0.9h-0.9zM56.7 337.3h0.9v0.9h-0.9zM56.7 337.1h0.9v0.9h-0.9zM56.9 337.5h0.9v0.9h-0.9zM56.7 336.7h0.9v0.9h-0.9zM56.7 336.5h0.9v0.9h-0.9zM56.8 336.8h0.9v0.9h-0.9zM56.9 337.3h0.9v0.9h-0.9zM57.0 337.5h0.9v0.9h-0.9zM56.9 337.1h0.9v0.9h-0.9zM54.3 336.5h0.9v0.9h-0.9zM49.8 336.0h0.9v0.9h-0.9zM49.7 335.8h0.9v0.9h-0.9zM54.2 335.9h0.9v0.9h-0.9zM54.6 336.3h0.9v0.9h-0.9zM49.3 336.3h0.9v0.9h-0.9zM49.9 336.2h0.9v0.9h-0.9zM54.6 335.7h0.9v0.9h-0.9zM54.2 336.0h0.9v0.9h-0.9zM55.2 335.7h0.9v0.9h-0.9zM54.5 336.0h0.9v0.9h-0.9zM49.6 336.1h0.9v0.9h-0.9zM49.8 336.4h0.9v0.9h-0.9zM54.9 336.1h0.9v0.9h-0.9zM54.3 335.7h0.9v0.9h-0.9zM54.4 331.8h0.9v0.9h-0.9zM54.5 332.2h0.9v0.9h-0.9zM55.1 332.3h0.9v0.9h-0.9zM54.6 332.3h0.9v0.9h-0.9zM55.1 332.3h0.9v0.9h-0.9zM54.7 332.0h0.9v0.9h-0.9zM54.9 332.4h0.9v0.9h-0.9zM54.9 332.3h0.9v0.9h-0.9zM54.3 331.9h0.9v0.9h-0.9zM54.4 333.2h0.9v0.9h-0.9zM54.9 333.3h0.9v0.9h-0.9zM55.0 333.2h0.9v0.9h-0.9zM54.6 332.6h0.9v0.9h-0.9zM54.5 333.4h0.9v0.9h-0.9zM54.8 333.4h0.9v0.9h-0.9zM54.3 332.9h0.9v0.9h-0.9zM54.6 333.3h0.9v0.9h-0.9zM55.1 334.1h0.9v0.9h-0.9zM55.1 334.4h0.9v0.9h-0.9zM54.8 334.0h0.9v0.9h-0.9zM52.5 329.6h0.9v0.9h-0.9zM54.6 334.2h0.9v0.9h-0.9zM54.6 334.3h0.9v0.9h-0.9zM54.9 334.0h0.9v0.9h-0.9zM55.1 333.7h0.9v0.9h-0.9zM53.0 330.4h0.9v0.9h-0.9zM54.3 333.7h0.9v0.9h-0.9zM53.1 329.8h0.9v0.9h-0.9zM52.5 330.3h0.9v0.9h-0.9zM54.5 334.3h0.9v0.9h-0.9zM54.7 334.1h0.9v0.9h-0.9zM54.4 333.7h0.9v0.9h-0.9zM47.6 334.9h0.9v0.9h-0.9zM47.5 334.9h0.9v0.9h-0.9zM54.7 334.8h0.9v0.9h-0.9zM47.4 334.6h0.9v0.9h-0.9zM54.3 334.8h0.9v0.9h-0.9zM54.4 335.0h0.9v0.9h-0.9zM55.2 334.9h0.9v0.9h-0.9zM55.1 334.7h0.9v0.9h-0.9zM54.5 334.6h0.9v0.9h-0.9zM48.2 335.1h0.9v0.9h-0.9zM54.3 334.6h0.9v0.9h-0.9zM47.3 335.5h0.9v0.9h-0.9zM54.5 335.1h0.9v0.9h-0.9zM55.1 335.1h0.9v0.9h-0.9z" fill="rgb(28,175,210)" fill-opacity="1"/>
<path d="M46.1 333.8h0.9v0.9h-0.9zM45.8 333.7h0.9v0.9h-0.9zM46.0 333.7h0.9v0.9h-0.9zM45.6 334.0h0.9v0.9h-0.9zM47.9 330.1h0.9v0.9h-0.9zM48.1 329.7h0.9v0.9h-0.9zM47.5 330.1h0.9v0.9h-0.9zM47.3 330.2h0.9v0.9h-0.9zM48.1 330.2h0.9v0.9h-0.9zM48.1 330.5h0.9v0.9h-0.9zM47.6 329.7h0.9v0.9h-0.9zM47.4 330.0h0.9v0.9h-0.9zM45.7 330.5h0.9v0.9h-0.9zM45.7 329.9h0.9v0.9h-0.9zM45.6 330.0h0.9v0.9h-0.9zM45.7 330.4h0.9v0.9h-0.9zM46.1 330.1h0.9v0.9h-0.9zM45.5 330.2h0.9v0.9h-0.9zM47.1 329.6h0.9v0.9h-0.9zM46.3 329.8h0.9v0.9h-0.9zM46.3 330.4h0.9v0.9h-0.9zM46.9 330.3h0.9v0.9h-0.9zM46.2 329.7h0.9v0.9h-0.9zM46.8 330.1h0.9v0.9h-0.9zM46.3 330.2h0.9v0.9h-0.9zM46.4 329.5h0.9v0.9h-0.9zM44.8 331.1h0.9v0.9h-0.9zM44.6 331.4h0.9v0.9h-0.9zM44.7 331.5h0.9v0.9h-0.9zM44.2 330.7h0.9v0.9h-0.9zM44.8 330.6h0.9v0.9h-0.9zM45.1 331.5h0.9v0.9h-0.9zM51.9 335.7h0.9v0.9h-0.9zM51.9 336.4h0.9v0.9h-0.9zM51.7 335.9h0.9v0.9h-0.9zM51.7 335.8h0.9v0.9h-0.9zM51.5 335.9h0.9v0.9h-0.9zM51.4 336.1h0.9v0.9h-0.9zM52.1 336.1h0.9v0.9h-0.9zM52.1 336.1h0.9v0.9h-0.9zM52.2 336.1h0.9v0.9h-0.9zM48.9 334.8h0.9v0.9h-0.9zM49.0 335.4h0.9v0.9h-0.9zM48.3 334.8h0.9v0.9h-0.9zM48.5 334.8h0.9v0.9h-0.9zM48.2 334.7h0.9v0.9h-0.9zM48.9 335.1h0.9v0.9h-0.9zM48.4 334.8h0.9v0.9h-0.9zM48.7 334.7h0.9v0.9h-0.9zM49.0 334.8h0.9v0.9h-0.9zM48.7 334.5h0.9v0.9h-0.9zM48.3 335.2h0.9v0.9h-0.9zM48.3 334.6h0.9v0.9h-0.9zM51.4 329.7h0.9v0.9h-0.9zM52.0 330.2h0.9v0.9h-0.9zM51.5 330.2h0.9v0.9h-0.9zM51.5 329.8h0.9v0.9h-0.9zM51.6 329.5h0.9v0.9h-0.9zM52.2 330.1h0.9v0.9h-0.9zM51.2 330.2h0.9v0.9h-0.9zM52.0 330.4h0.9v0.9h-0.9zM53.3 331.2h0.9v0.9h-0.9zM53.9 331.3h0.9v0.9h-0.9zM53.8 330.7h0.9v0.9h-0.9zM53.8 331.4h0.9v0.9h-0.9zM53.6 331.3h0.9v0.9h-0.9zM54.0 330.7h0.9v0.9h-0.9zM54.2 331.1h0.9v0.9h-0.9zM53.4 331.0h0.9v0.9h-0.9zM53.6 330.9h0.9v0.9h-0.9zM50.7 335.6h0.9v0.9h-0.9zM50.4 335.7h0.9v0.9h-0.9zM50.7 335.7h0.9v0.9h-0.9zM53.9 335.4h0.9v0.9h-0.9zM50.6 336.0h0.9v0.9h-0.9zM50.7 336.3h0.9v0.9h-0.9zM54.0 334.6h0.9v0.9h-0.9zM53.8 335.1h0.9v0.9h-0.9zM50.8 335.9h0.9v0.9h-0.9zM50.9 335.9h0.9v0.9h-0.9zM53.5 334.7h0.9v0.9h-0.9zM50.9 336.1h0.9v0.9h-0.9zM51.0 336.2h0.9v0.9h-0.9zM50.9 336.1h0.9v0.9h-0.9zM53.9 334.9h0.9v0.9h-0.9zM43.7 333.4h0.9v0.9h-0.9zM43.9 332.8h0.9v0.9h-0.9zM43.4 332.7h0.9v0.9h-0.9zM43.5 332.9h0.9v0.9h-0.9zM43.8 332.5h0.9v0.9h-0.9zM43.6 333.1h0.9v0.9h-0.9zM43.5 332.9h0.9v0.9h-0.9zM43.8 333.0h0.9v0.9h-0.9zM43.6 333.0h0.9v0.9h-0.9zM43.7 332.0h0.9v0.9h-0.9zM43.6 331.9h0.9v0.9h-0.9zM48.8 330.3h0.9v0.9h-0.9zM48.4 329.9h0.9v0.9h-0.9zM43.5 331.8h0.9v0.9h-0.9zM48.9 329.9h0.9v0.9h-0.9zM43.7 332.4h0.9v0.9h-0.9zM48.7 330.0h0.9v0.9h-0.9zM43.8 332.4h0.9v0.9h-0.9zM43.9 331.6h0.9v0.9h-0.9zM48.2 329.7h0.9v0.9h-0.9zM44.1 331.9h0.9v0.9h-0.9zM44.2 331.6h0.9v0.9h-0.9zM48.6 329.7h0.9v0.9h-0.9zM48.4 330.1h0.9v0.9h-0.9zM48.9 330.3h0.9v0.9h-0.9zM43.6 332.3h0.9v0.9h-0.9zM44.7 332.6h0.9v0.9h-0.9zM44.6 332.8h0.9v0.9h-0.9zM45.2 333.4h0.9v0.9h-0.9zM44.7 332.8h0.9v0.9h-0.9zM44.7 332.9h0.9v0.9h-0.9zM44.4 332.8h0.9v0.9h-0.9zM44.2 332.9h0.9v0.9h-0.9zM44.9 333.1h0.9v0.9h-0.9zM44.3 332.9h0.9v0.9h-0.9zM44.5 332.6h0.9v0.9h-0.9zM44.5 333.4h0.9v0.9h-0.9zM44.3 333.4h0.9v0.9h-0.9z" fill="rgb(25,197,174)" fill-opacity="1"/>
<path d="M52.7 335.5h0.9v0.9h-0.9zM52.3 335.0h0.9v0.9h-0.9zM52.5 335.1h0.9v0.9h-0.9zM52.5 335.5h0.9v0.9h-0.9zM52.3 334.5h0.9v0.9h-0.9zM52.5 335.5h0.9v0.9h-0.9zM52.2 334.6h0.9v0.9h-0.9zM53.1 334.6h0.9v0.9h-0.9zM52.9 335.2h0.9v0.9h-0.9zM50.4 330.5h0.9v0.9h-0.9zM50.4 330.4h0.9v0.9h-0.9zM50.3 330.4h0.9v0.9h-0.9zM50.4 330.3h0.9v0.9h-0.9zM50.4 330.2h0.9v0.9h-0.9zM50.9 330.1h0.9v0.9h-0.9zM50.9 329.6h0.9v0.9h-0.9zM51.0 330.1h0.9v0.9h-0.9zM50.8 330.2h0.9v0.9h-0.9zM50.4 330.3h0.9v0.9h-0.9zM50.8 330.2h0.9v0.9h-0.9zM51.1 330.0h0.9v0.9h-0.9zM50.3 329.9h0.9v0.9h-0.9zM50.7 329.8h0.9v0.9h-0.9zM50.1 334.7h0.9v0.9h-0.9zM49.7 334.6h0.9v0.9h-0.9zM46.0 330.9h0.9v0.9h-0.9zM46.0 330.6h0.9v0.9h-0.9zM45.9 330.5h0.9v0.9h-0.9zM45.3 330.7h0.9v0.9h-0.9zM46.0 330.9h0.9v0.9h-0.9zM49.5 334.6h0.9v0.9h-0.9zM45.3 331.3h0.9v0.9h-0.9zM50.1 334.7h0.9v0.9h-0.9zM45.9 330.9h0.9v0.9h-0.9zM46.1 330.7h0.9v0.9h-0.9zM45.3 330.9h0.9v0.9h-0.9zM45.8 331.2h0.9v0.9h-0.9zM46.2 330.5h0.9v0.9h-0.9zM50.0 335.0h0.9v0.9h-0.9zM50.2 334.6h0.9v0.9h-0.9zM53.5 333.6h0.9v0.9h-0.9zM53.6 334.4h0.9v0.9h-0.9zM53.6 333.7h0.9v0.9h-0.9zM53.8 334.4h0.9v0.9h-0.9zM53.7 333.9h0.9v0.9h-0.9zM54.1 334.2h0.9v0.9h-0.9zM53.8 333.9h0.9v0.9h-0.9zM53.2 334.0h0.9v0.9h-0.9zM53.6 334.2h0.9v0.9h-0.9zM53.3 333.7h0.9v0.9h-0.9zM53.3 333.8h0.9v0.9h-0.9zM53.5 333.5h0.9v0.9h-0.9zM49.7 329.6h0.9v0.9h-0.9zM49.9 330.3h0.9v0.9h-0.9zM49.4 330.4h0.9v0.9h-0.9zM50.0 329.9h0.9v0.9h-0.9zM49.9 329.6h0.9v0.9h-0.9zM49.7 330.1h0.9v0.9h-0.9zM52.4 330.6h0.9v0.9h-0.9zM52.6 330.7h0.9v0.9h-0.9zM52.9 330.6h0.9v0.9h-0.9zM53.1 331.1h0.9v0.9h-0.9zM52.5 330.9h0.9v0.9h-0.9zM53.1 331.2h0.9v0.9h-0.9zM52.4 331.1h0.9v0.9h-0.9zM52.6 331.2h0.9v0.9h-0.9zM52.9 330.7h0.9v0.9h-0.9zM52.7 331.4h0.9v0.9h-0.9zM52.9 331.4h0.9v0.9h-0.9zM52.3 331.0h0.9v0.9h-0.9zM52.5 331.0h0.9v0.9h-0.9zM44.3 331.9h0.9v0.9h-0.9zM44.2 332.1h0.9v0.9h-0.9zM44.5 331.9h0.9v0.9h-0.9zM44.6 332.0h0.9v0.9h-0.9zM44.5 331.6h0.9v0.9h-0.9zM45.1 332.4h0.9v0.9h-0.9zM44.3 332.5h0.9v0.9h-0.9zM45.1 331.7h0.9v0.9h-0.9zM45.0 331.6h0.9v0.9h-0.9zM44.5 331.6h0.9v0.9h-0.9zM44.5 331.8h0.9v0.9h-0.9zM44.4 331.7h0.9v0.9h-0.9zM46.7 334.3h0.9v0.9h-0.9zM47.1 334.2h0.9v0.9h-0.9zM47.1 334.4h0.9v0.9h-0.9zM46.2 334.2h0.9v0.9h-0.9zM46.9 334.5h0.9v0.9h-0.9zM46.8 334.1h0.9v0.9h-0.9zM47.1 334.1h0.9v0.9h-0.9zM46.3 333.5h0.9v0.9h-0.9zM46.5 333.8h0.9v0.9h-0.9zM46.8 334.1h0.9v0.9h-0.9zM46.4 334.3h0.9v0.9h-0.9zM53.3 332.5h0.9v0.9h-0.9zM53.6 332.4h0.9v0.9h-0.9zM53.6 332.4h0.9v0.9h-0.9zM53.9 333.5h0.9v0.9h-0.9zM53.4 332.1h0.9v0.9h-0.9zM53.5 332.4h0.9v0.9h-0.9zM53.8 332.3h0.9v0.9h-0.9zM53.8 332.5h0.9v0.9h-0.9zM54.2 331.7h0.9v0.9h-0.9zM54.0 331.8h0.9v0.9h-0.9zM54.1 331.9h0.9v0.9h-0.9zM53.6 331.7h0.9v0.9h-0.9zM53.5 333.0h0.9v0.9h-0.9zM53.9 333.4h0.9v0.9h-0.9zM54.0 333.0h0.9v0.9h-0.9zM53.2 332.6h0.9v0.9h-0.9zM53.9 332.5h0.9v0.9h-0.9zM53.9 332.8h0.9v0.9h-0.9zM54.1 333.0h0.9v0.9h-0.9zM54.1 332.4h0.9v0.9h-0.9zM53.6 332.1h0.9v0.9h-0.9zM53.3 332.7h0.9v0.9h-0.9zM53.9 331.8h0.9v0.9h-0.9zM53.8 333.5h0.9v0.9h-0.9zM51.8 334.7h0.9v0.9h-0.9zM52.1 335.0h0.9v0.9h-0.9zM51.6 335.3h0.9v0.9h-0.9zM52.1 334.7h0.9v0.9h-0.9zM51.2 335.2h0.9v0.9h-0.9zM51.9 335.3h0.9v0.9h-0.9zM51.2 335.3h0.9v0.9h-0.9zM51.8 334.6h0.9v0.9h-0.9zM52.2 334.5h0.9v0.9h-0.9zM51.6 335.2h0.9v0.9h-0.9zM51.3 335.0h0.9v0.9h-0.9zM51.3 334.8h0.9v0.9h-0.9zM45.4 332.5h0.9v0.9h-0.9zM46.0 333.1h0.9v0.9h-0.9zM45.8 333.1h0.9v0.9h-0.9zM45.6 333.0h0.9v0.9h-0.9zM46.0 333.3h0.9v0.9h-0.9zM45.7 333.3h0.9v0.9h-0.9zM45.3 332.7h0.9v0.9h-0.9zM45.6 332.8h0.9v0.9h-0.9zM46.0 333.3h0.9v0.9h-0.9zM45.7 333.1h0.9v0.9h-0.9z" fill="rgb(31,202,129)" fill-opacity="1"/>
<path d="M51.1 335.4h0.9v0.9h-0.9zM51.2 334.5h0.9v0.9h-0.9zM50.9 334.8h0.9v0.9h-0.9zM50.6 335.1h0.9v0.9h-0.9zM50.9 334.8h0.9v0.9h-0.9zM50.8 334.5h0.9v0.9h-0.9zM50.5 334.9h0.9v0.9h-0.9zM50.5 335.3h0.9v0.9h-0.9zM50.6 334.6h0.9v0.9h-0.9zM51.1 334.8h0.9v0.9h-0.9zM50.5 334.6h0.9v0.9h-0.9zM50.3 334.7h0.9v0.9h-0.9zM51.2 335.0h0.9v0.9h-0.9zM50.7 334.7h0.9v0.9h-0.9zM46.1 331.5h0.9v0.9h-0.9zM45.6 332.1h0.9v0.9h-0.9zM47.6 334.4h0.9v0.9h-0.9zM45.3 331.7h0.9v0.9h-0.9zM47.6 334.4h0.9v0.9h-0.9zM47.3 333.8h0.9v0.9h-0.9zM45.9 332.3h0.9v0.9h-0.9zM47.4 334.1h0.9v0.9h-0.9zM47.5 334.4h0.9v0.9h-0.9zM45.2 332.4h0.9v0.9h-0.9zM45.8 332.3h0.9v0.9h-0.9zM47.3 334.4h0.9v0.9h-0.9zM46.0 331.6h0.9v0.9h-0.9zM47.7 333.9h0.9v0.9h-0.9zM45.6 331.6h0.9v0.9h-0.9zM46.0 331.7h0.9v0.9h-0.9zM52.2 331.5h0.9v0.9h-0.9zM51.5 331.2h0.9v0.9h-0.9zM51.5 331.2h0.9v0.9h-0.9zM51.5 330.9h0.9v0.9h-0.9zM51.3 330.9h0.9v0.9h-0.9zM52.0 330.5h0.9v0.9h-0.9zM52.1 331.0h0.9v0.9h-0.9zM51.3 331.4h0.9v0.9h-0.9zM51.5 331.0h0.9v0.9h-0.9zM51.2 330.6h0.9v0.9h-0.9zM52.0 331.4h0.9v0.9h-0.9zM51.4 330.6h0.9v0.9h-0.9zM52.1 331.2h0.9v0.9h-0.9zM46.8 330.5h0.9v0.9h-0.9zM46.5 330.6h0.9v0.9h-0.9zM46.6 330.8h0.9v0.9h-0.9zM47.1 331.4h0.9v0.9h-0.9zM46.3 330.7h0.9v0.9h-0.9zM46.3 330.5h0.9v0.9h-0.9zM46.3 331.4h0.9v0.9h-0.9zM46.7 331.4h0.9v0.9h-0.9zM46.9 331.0h0.9v0.9h-0.9zM46.9 330.6h0.9v0.9h-0.9zM46.9 330.7h0.9v0.9h-0.9zM53.0 332.1h0.9v0.9h-0.9zM53.2 331.9h0.9v0.9h-0.9zM52.5 332.1h0.9v0.9h-0.9zM52.3 332.2h0.9v0.9h-0.9zM52.5 331.8h0.9v0.9h-0.9zM52.4 331.5h0.9v0.9h-0.9zM52.4 332.4h0.9v0.9h-0.9zM52.3 332.1h0.9v0.9h-0.9zM52.5 332.4h0.9v0.9h-0.9zM52.5 332.5h0.9v0.9h-0.9zM53.2 331.6h0.9v0.9h-0.9zM52.5 331.9h0.9v0.9h-0.9zM52.5 331.9h0.9v0.9h-0.9zM52.4 331.8h0.9v0.9h-0.9zM53.1 333.9h0.9v0.9h-0.9zM53.1 334.4h0.9v0.9h-0.9zM52.5 334.2h0.9v0.9h-0.9zM53.1 334.2h0.9v0.9h-0.9zM52.9 334.0h0.9v0.9h-0.9zM52.3 334.3h0.9v0.9h-0.9zM52.8 333.8h0.9v0.9h-0.9zM52.6 333.7h0.9v0.9h-0.9zM52.2 333.5h0.9v0.9h-0.9zM53.2 334.1h0.9v0.9h-0.9zM52.7 334.0h0.9v0.9h-0.9zM52.4 333.7h0.9v0.9h-0.9zM53.0 334.3h0.9v0.9h-0.9zM52.6 333.5h0.9v0.9h-0.9zM52.8 333.7h0.9v0.9h-0.9zM53.0 334.2h0.9v0.9h-0.9zM53.1 332.8h0.9v0.9h-0.9zM52.2 333.2h0.9v0.9h-0.9zM52.3 333.2h0.9v0.9h-0.9zM53.1 333.5h0.9v0.9h-0.9zM52.3 333.3h0.9v0.9h-0.9zM53.0 332.9h0.9v0.9h-0.9zM52.9 332.5h0.9v0.9h-0.9zM52.4 332.7h0.9v0.9h-0.9zM52.5 332.6h0.9v0.9h-0.9zM52.8 332.6h0.9v0.9h-0.9zM52.5 332.7h0.9v0.9h-0.9zM48.7 333.9h0.9v0.9h-0.9zM49.0 334.1h0.9v0.9h-0.9zM48.2 333.8h0.9v0.9h-0.9zM48.6 334.0h0.9v0.9h-0.9zM48.7 334.3h0.9v0.9h-0.9zM48.2 334.3h0.9v0.9h-0.9zM48.3 333.8h0.9v0.9h-0.9zM49.0 333.7h0.9v0.9h-0.9zM48.9 334.1h0.9v0.9h-0.9zM49.2 333.6h0.9v0.9h-0.9z" fill="rgb(39,204,83)" fill-opacity="1"/>
<path d="M48.0 331.5h0.9v0.9h-0.9zM47.8 331.4h0.9v0.9h-0.9zM47.2 331.3h0.9v0.9h-0.9zM47.3 331.1h0.9v0.9h-0.9zM47.5 330.8h0.9v0.9h-0.9zM47.9 330.8h0.9v0.9h-0.9zM48.1 331.0h0.9v0.9h-0.9zM48.1 330.8h0.9v0.9h-0.9zM48.0 330.8h0.9v0.9h-0.9zM47.2 331.2h0.9v0.9h-0.9zM48.1 330.6h0.9v0.9h-0.9zM48.1 331.0h0.9v0.9h-0.9zM47.5 331.2h0.9v0.9h-0.9zM51.8 332.3h0.9v0.9h-0.9zM51.4 332.0h0.9v0.9h-0.9zM51.8 332.0h0.9v0.9h-0.9zM51.7 331.9h0.9v0.9h-0.9zM51.6 331.9h0.9v0.9h-0.9zM52.1 333.5h0.9v0.9h-0.9zM51.5 334.1h0.9v0.9h-0.9zM52.2 334.5h0.9v0.9h-0.9zM51.5 333.5h0.9v0.9h-0.9zM51.6 334.4h0.9v0.9h-0.9zM51.9 334.4h0.9v0.9h-0.9zM51.9 334.0h0.9v0.9h-0.9zM51.8 333.9h0.9v0.9h-0.9zM51.8 333.5h0.9v0.9h-0.9zM51.5 333.5h0.9v0.9h-0.9zM52.0 333.5h0.9v0.9h-0.9zM52.0 334.5h0.9v0.9h-0.9zM52.0 333.7h0.9v0.9h-0.9zM51.7 333.8h0.9v0.9h-0.9zM51.6 333.7h0.9v0.9h-0.9zM51.5 333.9h0.9v0.9h-0.9zM51.2 333.7h0.9v0.9h-0.9zM50.8 330.8h0.9v0.9h-0.9zM50.4 331.1h0.9v0.9h-0.9zM50.6 330.5h0.9v0.9h-0.9zM50.4 330.9h0.9v0.9h-0.9zM50.9 330.7h0.9v0.9h-0.9zM51.1 331.4h0.9v0.9h-0.9zM50.2 330.9h0.9v0.9h-0.9zM50.8 331.3h0.9v0.9h-0.9zM50.8 331.2h0.9v0.9h-0.9zM50.6 330.7h0.9v0.9h-0.9zM50.4 330.7h0.9v0.9h-0.9zM50.6 331.1h0.9v0.9h-0.9zM50.3 331.0h0.9v0.9h-0.9zM50.4 331.3h0.9v0.9h-0.9zM50.7 330.6h0.9v0.9h-0.9zM50.9 330.6h0.9v0.9h-0.9zM46.7 333.1h0.9v0.9h-0.9zM46.3 332.6h0.9v0.9h-0.9zM46.4 333.3h0.9v0.9h-0.9zM46.2 333.4h0.9v0.9h-0.9zM46.4 333.3h0.9v0.9h-0.9zM46.3 333.4h0.9v0.9h-0.9zM46.5 333.4h0.9v0.9h-0.9zM46.8 333.2h0.9v0.9h-0.9zM46.3 333.3h0.9v0.9h-0.9zM46.8 333.3h0.9v0.9h-0.9zM46.3 333.1h0.9v0.9h-0.9zM47.1 332.6h0.9v0.9h-0.9zM47.1 332.6h0.9v0.9h-0.9zM47.1 333.0h0.9v0.9h-0.9zM47.0 333.2h0.9v0.9h-0.9zM46.6 332.0h0.9v0.9h-0.9zM47.1 332.3h0.9v0.9h-0.9zM46.3 332.0h0.9v0.9h-0.9zM46.8 332.1h0.9v0.9h-0.9zM46.3 332.3h0.9v0.9h-0.9zM47.0 332.4h0.9v0.9h-0.9zM46.4 331.9h0.9v0.9h-0.9zM47.1 331.5h0.9v0.9h-0.9zM46.8 331.5h0.9v0.9h-0.9zM46.6 332.5h0.9v0.9h-0.9zM47.2 331.7h0.9v0.9h-0.9zM46.9 331.9h0.9v0.9h-0.9zM46.2 332.0h0.9v0.9h-0.9zM46.6 332.1h0.9v0.9h-0.9zM47.1 331.8h0.9v0.9h-0.9zM47.0 332.2h0.9v0.9h-0.9zM49.7 334.4h0.9v0.9h-0.9zM49.9 333.9h0.9v0.9h-0.9zM50.0 333.6h0.9v0.9h-0.9zM50.1 333.9h0.9v0.9h-0.9zM49.3 333.9h0.9v0.9h-0.9zM50.1 334.0h0.9v0.9h-0.9zM49.5 334.5h0.9v0.9h-0.9zM49.9 334.3h0.9v0.9h-0.9zM49.3 334.1h0.9v0.9h-0.9zM49.9 334.4h0.9v0.9h-0.9zM49.9 333.8h0.9v0.9h-0.9zM49.7 334.4h0.9v0.9h-0.9zM49.6 333.8h0.9v0.9h-0.9zM49.3 334.0h0.9v0.9h-0.9zM49.9 333.9h0.9v0.9h-0.9zM49.7 333.6h0.9v0.9h-0.9zM49.3 333.6h0.9v0.9h-0.9zM49.8 333.6h0.9v0.9h-0.9zM49.4 333.8h0.9v0.9h-0.9zM49.9 333.8h0.9v0.9h-0.9zM49.4 333.8h0.9v0.9h-0.9zM50.4 334.2h0.9v0.9h-0.9zM50.8 333.7h0.9v0.9h-0.9zM51.1 334.2h0.9v0.9h-0.9zM50.2 334.2h0.9v0.9h-0.9zM50.8 333.9h0.9v0.9h-0.9zM50.5 334.5h0.9v0.9h-0.9zM50.4 333.6h0.9v0.9h-0.9zM50.7 333.7h0.9v0.9h-0.9zM50.2 333.7h0.9v0.9h-0.9zM50.4 333.5h0.9v0.9h-0.9zM51.0 333.9h0.9v0.9h-0.9zM50.5 333.8h0.9v0.9h-0.9zM50.3 333.7h0.9v0.9h-0.9zM50.9 333.6h0.9v0.9h-0.9zM48.3 331.5h0.9v0.9h-0.9zM48.2 331.3h0.9v0.9h-0.9zM48.7 330.6h0.9v0.9h-0.9zM48.5 331.2h0.9v0.9h-0.9zM48.8 331.0h0.9v0.9h-0.9zM48.9 330.6h0.9v0.9h-0.9zM48.9 331.1h0.9v0.9h-0.9zM48.4 331.2h0.9v0.9h-0.9zM48.7 331.0h0.9v0.9h-0.9zM48.8 331.0h0.9v0.9h-0.9z" fill="rgb(91,212,56)" fill-opacity="1"/>
<path d="M51.4 332.7h0.9v0.9h-0.9zM51.6 333.0h0.9v0.9h-0.9zM51.3 333.2h0.9v0.9h-0.9zM52.0 332.7h0.9v0.9h-0.9zM51.4 333.0h0.9v0.9h-0.9zM52.1 332.8h0.9v0.9h-0.9zM51.5 333.4h0.9v0.9h-0.9zM51.3 332.5h0.9v0.9h-0.9zM51.8 332.9h0.9v0.9h-0.9zM51.5 333.3h0.9v0.9h-0.9zM51.2 332.9h0.9v0.9h-0.9zM51.7 333.2h0.9v0.9h-0.9zM51.3 332.7h0.9v0.9h-0.9zM51.4 332.9h0.9v0.9h-0.9zM51.6 332.7h0.9v0.9h-0.9zM51.6 332.8h0.9v0.9h-0.9zM51.4 332.7h0.9v0.9h-0.9zM52.0 333.2h0.9v0.9h-0.9zM52.0 333.3h0.9v0.9h-0.9zM52.2 332.7h0.9v0.9h-0.9zM51.9 333.0h0.9v0.9h-0.9zM49.3 331.1h0.9v0.9h-0.9zM49.7 331.4h0.9v0.9h-0.9zM50.1 331.4h0.9v0.9h-0.9zM50.0 330.9h0.9v0.9h-0.9zM50.0 331.4h0.9v0.9h-0.9zM49.7 331.3h0.9v0.9h-0.9zM49.2 331.2h0.9v0.9h-0.9zM50.0 331.3h0.9v0.9h-0.9zM49.2 331.4h0.9v0.9h-0.9zM49.4 330.7h0.9v0.9h-0.9zM50.1 331.0h0.9v0.9h-0.9zM49.5 330.5h0.9v0.9h-0.9zM49.3 331.2h0.9v0.9h-0.9zM49.2 331.1h0.9v0.9h-0.9zM49.6 330.8h0.9v0.9h-0.9zM49.6 331.5h0.9v0.9h-0.9zM47.4 333.5h0.9v0.9h-0.9zM47.9 332.9h0.9v0.9h-0.9zM47.4 333.4h0.9v0.9h-0.9zM48.1 333.1h0.9v0.9h-0.9zM47.9 333.1h0.9v0.9h-0.9zM47.2 333.2h0.9v0.9h-0.9zM48.0 333.2h0.9v0.9h-0.9zM47.9 333.3h0.9v0.9h-0.9zM47.7 333.2h0.9v0.9h-0.9zM48.1 333.1h0.9v0.9h-0.9zM47.3 333.0h0.9v0.9h-0.9zM47.7 333.1h0.9v0.9h-0.9zM48.2 333.0h0.9v0.9h-0.9zM47.7 333.0h0.9v0.9h-0.9zM47.3 333.3h0.9v0.9h-0.9zM47.4 332.8h0.9v0.9h-0.9zM47.4 333.2h0.9v0.9h-0.9zM47.3 332.7h0.9v0.9h-0.9zM48.2 332.6h0.9v0.9h-0.9zM48.2 333.0h0.9v0.9h-0.9zM48.2 332.9h0.9v0.9h-0.9zM47.7 333.2h0.9v0.9h-0.9zM47.3 333.5h0.9v0.9h-0.9z" fill="rgb(147,219,31)" fill-opacity="1"/>
<path d="M47.2 331.8h0.9v0.9h-0.9zM48.2 331.6h0.9v0.9h-0.9zM48.0 331.6h0.9v0.9h-0.9zM48.1 332.4h0.9v0.9h-0.9zM47.8 332.4h0.9v0.9h-0.9zM48.2 332.4h0.9v0.9h-0.9zM47.8 332.4h0.9v0.9h-0.9zM47.6 332.2h0.9v0.9h-0.9zM47.5 331.7h0.9v0.9h-0.9zM47.8 331.9h0.9v0.9h-0.9zM47.4 332.4h0.9v0.9h-0.9zM47.9 332.2h0.9v0.9h-0.9zM48.0 331.9h0.9v0.9h-0.9zM47.6 331.9h0.9v0.9h-0.9zM47.2 331.7h0.9v0.9h-0.9zM47.8 331.8h0.9v0.9h-0.9zM47.5 332.4h0.9v0.9h-0.9zM47.6 331.8h0.9v0.9h-0.9zM48.1 331.5h0.9v0.9h-0.9zM48.1 331.7h0.9v0.9h-0.9zM47.5 332.3h0.9v0.9h-0.9zM47.6 331.6h0.9v0.9h-0.9zM48.1 332.3h0.9v0.9h-0.9zM48.0 331.6h0.9v0.9h-0.9zM47.2 331.7h0.9v0.9h-0.9zM48.1 331.7h0.9v0.9h-0.9zM50.4 332.2h0.9v0.9h-0.9zM50.8 331.9h0.9v0.9h-0.9zM50.7 331.7h0.9v0.9h-0.9zM50.6 331.9h0.9v0.9h-0.9zM50.3 331.6h0.9v0.9h-0.9zM50.5 331.9h0.9v0.9h-0.9zM50.3 332.2h0.9v0.9h-0.9zM50.3 332.2h0.9v0.9h-0.9zM50.5 331.5h0.9v0.9h-0.9zM50.2 331.5h0.9v0.9h-0.9zM50.9 332.4h0.9v0.9h-0.9zM50.7 332.2h0.9v0.9h-0.9zM50.4 332.0h0.9v0.9h-0.9zM50.3 331.6h0.9v0.9h-0.9zM51.1 331.5h0.9v0.9h-0.9zM50.9 332.0h0.9v0.9h-0.9zM50.6 332.4h0.9v0.9h-0.9zM51.2 332.0h0.9v0.9h-0.9zM50.6 331.7h0.9v0.9h-0.9zM50.8 331.7h0.9v0.9h-0.9zM50.9 332.4h0.9v0.9h-0.9zM51.2 331.5h0.9v0.9h-0.9zM48.9 333.2h0.9v0.9h-0.9zM48.5 332.6h0.9v0.9h-0.9zM48.7 333.0h0.9v0.9h-0.9zM48.3 332.8h0.9v0.9h-0.9zM48.2 332.8h0.9v0.9h-0.9zM48.4 333.2h0.9v0.9h-0.9zM48.8 332.8h0.9v0.9h-0.9zM48.4 332.7h0.9v0.9h-0.9zM48.8 333.2h0.9v0.9h-0.9zM48.7 332.9h0.9v0.9h-0.9zM48.5 332.7h0.9v0.9h-0.9zM48.7 332.6h0.9v0.9h-0.9zM48.5 333.1h0.9v0.9h-0.9zM48.9 333.1h0.9v0.9h-0.9zM48.7 332.6h0.9v0.9h-0.9zM49.1 333.1h0.9v0.9h-0.9zM49.1 333.4h0.9v0.9h-0.9zM48.6 332.7h0.9v0.9h-0.9zM48.7 332.7h0.9v0.9h-0.9zM51.1 332.6h0.9v0.9h-0.9zM51.1 333.3h0.9v0.9h-0.9zM50.9 332.5h0.9v0.9h-0.9zM50.5 333.5h0.9v0.9h-0.9zM50.7 333.5h0.9v0.9h-0.9zM50.9 333.2h0.9v0.9h-0.9zM50.4 333.0h0.9v0.9h-0.9zM50.2 333.2h0.9v0.9h-0.9zM50.5 332.5h0.9v0.9h-0.9zM50.9 333.4h0.9v0.9h-0.9zM50.7 332.5h0.9v0.9h-0.9zM51.0 333.0h0.9v0.9h-0.9zM50.8 332.7h0.9v0.9h-0.9zM50.6 332.7h0.9v0.9h-0.9zM50.4 333.2h0.9v0.9h-0.9zM50.5 332.7h0.9v0.9h-0.9zM50.8 332.9h0.9v0.9h-0.9zM51.2 332.5h0.9v0.9h-0.9zM50.8 332.8h0.9v0.9h-0.9z" fill="rgb(231,215,21)" fill-opacity="1"/>
<path d="M49.0 331.8h0.9v0.9h-0.9zM49.2 332.2h0.9v0.9h-0.9zM48.4 332.0h0.9v0.9h-0.9zM48.4 332.5h0.9v0.9h-0.9zM48.5 332.1h0.9v0.9h-0.9zM48.6 332.4h0.9v0.9h-0.9zM48.9 332.1h0.9v0.9h-0.9zM48.4 331.6h0.9v0.9h-0.9zM48.9 332.0h0.9v0.9h-0.9zM49.0 332.3h0.9v0.9h-0.9zM48.5 331.9h0.9v0.9h-0.9zM48.7 332.0h0.9v0.9h-0.9zM49.1 332.1h0.9v0.9h-0.9zM48.7 331.9h0.9v0.9h-0.9zM49.1 332.4h0.9v0.9h-0.9zM48.7 331.9h0.9v0.9h-0.9zM48.4 331.7h0.9v0.9h-0.9zM48.4 332.2h0.9v0.9h-0.9zM48.5 331.9h0.9v0.9h-0.9zM50.1 333.3h0.9v0.9h-0.9zM49.5 332.8h0.9v0.9h-0.9zM49.2 332.6h0.9v0.9h-0.9zM50.0 333.3h0.9v0.9h-0.9zM49.7 333.1h0.9v0.9h-0.9zM49.3 332.9h0.9v0.9h-0.9zM49.4 333.0h0.9v0.9h-0.9zM50.0 333.3h0.9v0.9h-0.9zM49.6 332.9h0.9v0.9h-0.9zM49.8 332.8h0.9v0.9h-0.9zM49.3 332.9h0.9v0.9h-0.9zM49.5 332.7h0.9v0.9h-0.9zM49.8 332.9h0.9v0.9h-0.9zM49.8 332.8h0.9v0.9h-0.9zM50.1 332.9h0.9v0.9h-0.9zM50.1 332.9h0.9v0.9h-0.9zM49.5 333.4h0.9v0.9h-0.9zM49.6 332.5h0.9v0.9h-0.9zM49.4 333.2h0.9v0.9h-0.9zM49.4 333.4h0.9v0.9h-0.9zM49.8 332.7h0.9v0.9h-0.9zM50.0 332.6h0.9v0.9h-0.9zM50.1 332.6h0.9v0.9h-0.9zM49.9 333.2h0.9v0.9h-0.9zM49.8 332.4h0.9v0.9h-0.9zM50.0 331.8h0.9v0.9h-0.9zM49.8 331.6h0.9v0.9h-0.9zM49.8 331.9h0.9v0.9h-0.9zM49.7 332.2h0.9v0.9h-0.9zM50.0 332.1h0.9v0.9h-0.9zM49.5 331.9h0.9v0.9h-0.9zM50.0 332.3h0.9v0.9h-0.9zM50.0 332.0h0.9v0.9h-0.9zM50.2 332.2h0.9v0.9h-0.9zM49.6 331.9h0.9v0.9h-0.9zM49.3 332.1h0.9v0.9h-0.9zM49.3 332.1h0.9v0.9h-0.9zM50.0 332.1h0.9v0.9h-0.9zM49.8 332.1h0.9v0.9h-0.9zM49.5 332.0h0.9v0.9h-0.9zM49.4 332.2h0.9v0.9h-0.9zM50.1 331.6h0.9v0.9h-0.9zM49.8 332.0h0.9v0.9h-0.9zM50.1 331.6h0.9v0.9h-0.9zM49.8 331.9h0.9v0.9h-0.9zM49.3 331.7h0.9v0.9h-0.9zM50.0 332.5h0.9v0.9h-0.9zM50.0 332.2h0.9v0.9h-0.9zM49.6 331.7h0.9v0.9h-0.9zM49.6 331.6h0.9v0.9h-0.9zM49.5 332.0h0.9v0.9h-0.9zM49.2 331.5h0.9v0.9h-0.9z" fill="rgb(225,45,20)" fill-opacity="1"/>
<rect x="64.4" y="296.2" width="29.40" height="23.10" fill="none" stroke="#333" stroke-width="0.9"/>
<rect x="101.5" y="287" width="64.40" height="64.80" fill="#fff" stroke="#c8c8c8" stroke-width="0.9"/>
<path d="M131.6 311.2h0.9v0.9h-0.9zM143.6 333.1h0.9v0.9h-0.9zM161.8 338.1h0.9v0.9h-0.9zM164.5 344.4h0.9v0.9h-0.9z" fill="rgb(150,160,245)" fill-opacity="0.45"/>
<path d="M136.8 333.0h0.9v0.9h-0.9zM160.4 322.4h0.9v0.9h-0.9zM103.2 330.4h0.9v0.9h-0.9zM136.3 339.6h0.9v0.9h-0.9zM163.6 311.9h0.9v0.9h-0.9zM108.5 308.1h0.9v0.9h-0.9zM148.7 296.4h0.9v0.9h-0.9zM137.7 310.9h0.9v0.9h-0.9zM129.0 316.3h0.9v0.9h-0.9zM112.2 317.3h0.9v0.9h-0.9zM130.2 313.1h0.9v0.9h-0.9zM110.3 323.2h0.9v0.9h-0.9zM109.3 327.1h0.9v0.9h-0.9zM162.9 306.1h0.9v0.9h-0.9zM134.5 313.0h0.9v0.9h-0.9zM156.5 298.9h0.9v0.9h-0.9zM155.4 331.4h0.9v0.9h-0.9zM107.8 330.4h0.9v0.9h-0.9zM147.4 332.2h0.9v0.9h-0.9zM126.5 290.8h0.9v0.9h-0.9zM128.7 337.1h0.9v0.9h-0.9zM104.1 300.1h0.9v0.9h-0.9zM132.6 336.9h0.9v0.9h-0.9zM155.8 322.3h0.9v0.9h-0.9zM147.6 311.7h0.9v0.9h-0.9zM143.9 331.4h0.9v0.9h-0.9zM113.0 305.1h0.9v0.9h-0.9zM137.9 331.1h0.9v0.9h-0.9zM111.4 330.2h0.9v0.9h-0.9zM137.5 309.1h0.9v0.9h-0.9zM151.9 331.3h0.9v0.9h-0.9zM131.7 310.1h0.9v0.9h-0.9zM158.9 299.0h0.9v0.9h-0.9zM131.5 337.6h0.9v0.9h-0.9zM110.1 330.4h0.9v0.9h-0.9zM124.2 335.6h0.9v0.9h-0.9zM158.6 305.8h0.9v0.9h-0.9zM153.8 300.4h0.9v0.9h-0.9zM139.0 339.9h0.9v0.9h-0.9zM150.4 314.5h0.9v0.9h-0.9zM107.8 336.6h0.9v0.9h-0.9zM147.3 291.1h0.9v0.9h-0.9zM164.2 348.8h0.9v0.9h-0.9zM104.5 338.8h0.9v0.9h-0.9zM118.3 291.3h0.9v0.9h-0.9zM157.1 332.0h0.9v0.9h-0.9zM128.2 295.8h0.9v0.9h-0.9zM139.2 295.5h0.9v0.9h-0.9zM160.5 309.7h0.9v0.9h-0.9zM116.8 347.3h0.9v0.9h-0.9zM160.3 308.0h0.9v0.9h-0.9zM161.3 303.3h0.9v0.9h-0.9zM105.1 329.7h0.9v0.9h-0.9zM153.3 312.4h0.9v0.9h-0.9zM119.9 292.9h0.9v0.9h-0.9zM112.3 302.6h0.9v0.9h-0.9zM110.5 318.0h0.9v0.9h-0.9zM160.7 328.0h0.9v0.9h-0.9zM133.9 299.5h0.9v0.9h-0.9zM156.0 300.2h0.9v0.9h-0.9zM130.3 295.6h0.9v0.9h-0.9zM159.8 330.1h0.9v0.9h-0.9zM142.3 323.1h0.9v0.9h-0.9zM136.7 307.3h0.9v0.9h-0.9zM133.0 331.0h0.9v0.9h-0.9zM141.4 341.8h0.9v0.9h-0.9zM133.5 330.2h0.9v0.9h-0.9zM132.7 331.6h0.9v0.9h-0.9zM130.9 333.7h0.9v0.9h-0.9zM119.2 294.6h0.9v0.9h-0.9zM138.0 313.7h0.9v0.9h-0.9zM143.1 292.6h0.9v0.9h-0.9zM113.8 335.7h0.9v0.9h-0.9zM148.5 293.1h0.9v0.9h-0.9zM136.1 298.5h0.9v0.9h-0.9zM150.7 299.1h0.9v0.9h-0.9zM110.9 328.0h0.9v0.9h-0.9zM118.0 345.9h0.9v0.9h-0.9zM132.5 297.2h0.9v0.9h-0.9zM122.5 335.2h0.9v0.9h-0.9zM107.7 326.0h0.9v0.9h-0.9zM126.6 334.7h0.9v0.9h-0.9zM149.7 330.6h0.9v0.9h-0.9zM151.5 308.4h0.9v0.9h-0.9zM114.9 311.5h0.9v0.9h-0.9zM126.5 296.4h0.9v0.9h-0.9zM119.2 348.8h0.9v0.9h-0.9zM163.4 328.7h0.9v0.9h-0.9zM138.9 305.2h0.9v0.9h-0.9zM155.2 308.1h0.9v0.9h-0.9zM162.6 328.4h0.9v0.9h-0.9zM154.8 323.8h0.9v0.9h-0.9zM124.6 294.3h0.9v0.9h-0.9zM134.7 297.3h0.9v0.9h-0.9zM116.5 296.6h0.9v0.9h-0.9zM146.1 312.9h0.9v0.9h-0.9zM139.9 311.0h0.9v0.9h-0.9zM152.3 298.4h0.9v0.9h-0.9zM111.4 320.4h0.9v0.9h-0.9zM125.0 291.0h0.9v0.9h-0.9zM158.4 301.0h0.9v0.9h-0.9zM132.5 300.9h0.9v0.9h-0.9zM148.1 299.3h0.9v0.9h-0.9zM132.6 299.4h0.9v0.9h-0.9zM156.0 309.5h0.9v0.9h-0.9zM151.7 330.9h0.9v0.9h-0.9zM136.8 330.1h0.9v0.9h-0.9zM147.0 331.4h0.9v0.9h-0.9zM152.2 323.2h0.9v0.9h-0.9zM151.8 329.3h0.9v0.9h-0.9zM152.1 329.1h0.9v0.9h-0.9zM145.1 309.2h0.9v0.9h-0.9zM131.6 306.5h0.9v0.9h-0.9zM114.8 310.2h0.9v0.9h-0.9zM140.9 296.2h0.9v0.9h-0.9zM118.5 296.6h0.9v0.9h-0.9zM158.3 301.5h0.9v0.9h-0.9zM158.1 304.3h0.9v0.9h-0.9zM138.0 301.7h0.9v0.9h-0.9zM113.1 319.9h0.9v0.9h-0.9zM115.8 333.5h0.9v0.9h-0.9zM110.9 320.5h0.9v0.9h-0.9zM146.5 330.5h0.9v0.9h-0.9zM130.9 306.0h0.9v0.9h-0.9zM141.3 309.9h0.9v0.9h-0.9zM133.5 306.7h0.9v0.9h-0.9zM160.8 337.7h0.9v0.9h-0.9zM117.9 347.9h0.9v0.9h-0.9zM113.7 310.5h0.9v0.9h-0.9zM141.6 307.3h0.9v0.9h-0.9zM152.2 299.5h0.9v0.9h-0.9zM153.3 304.7h0.9v0.9h-0.9zM158.6 324.1h0.9v0.9h-0.9zM152.2 321.5h0.9v0.9h-0.9zM138.1 305.9h0.9v0.9h-0.9zM140.1 301.2h0.9v0.9h-0.9zM156.2 308.8h0.9v0.9h-0.9zM141.8 298.7h0.9v0.9h-0.9zM115.5 301.7h0.9v0.9h-0.9zM134.9 304.8h0.9v0.9h-0.9zM150.6 300.3h0.9v0.9h-0.9zM138.0 303.3h0.9v0.9h-0.9zM119.7 335.5h0.9v0.9h-0.9zM128.5 320.9h0.9v0.9h-0.9zM139.5 308.9h0.9v0.9h-0.9zM140.4 309.2h0.9v0.9h-0.9zM128.3 333.9h0.9v0.9h-0.9zM154.8 303.0h0.9v0.9h-0.9zM147.4 311.1h0.9v0.9h-0.9zM155.0 303.6h0.9v0.9h-0.9zM139.2 324.3h0.9v0.9h-0.9z" fill="rgb(127,142,243)" fill-opacity="0.45"/>
<path d="M144.9 310.4h0.9v0.9h-0.9zM146.2 322.0h0.9v0.9h-0.9zM128.4 319.9h0.9v0.9h-0.9zM142.2 305.2h0.9v0.9h-0.9zM134.1 297.2h0.9v0.9h-0.9zM135.5 302.2h0.9v0.9h-0.9zM129.4 306.8h0.9v0.9h-0.9zM116.3 305.2h0.9v0.9h-0.9zM131.8 323.8h0.9v0.9h-0.9zM145.1 310.9h0.9v0.9h-0.9zM129.2 306.0h0.9v0.9h-0.9zM113.2 320.8h0.9v0.9h-0.9zM141.0 297.7h0.9v0.9h-0.9zM129.6 309.8h0.9v0.9h-0.9zM144.4 297.4h0.9v0.9h-0.9zM141.9 307.0h0.9v0.9h-0.9zM142.0 300.5h0.9v0.9h-0.9zM125.7 295.5h0.9v0.9h-0.9zM125.9 334.5h0.9v0.9h-0.9zM118.0 298.8h0.9v0.9h-0.9zM148.6 330.2h0.9v0.9h-0.9zM149.1 309.3h0.9v0.9h-0.9zM148.7 330.0h0.9v0.9h-0.9zM115.3 320.1h0.9v0.9h-0.9zM147.6 323.9h0.9v0.9h-0.9zM139.1 302.0h0.9v0.9h-0.9zM114.0 301.4h0.9v0.9h-0.9zM117.3 298.6h0.9v0.9h-0.9zM126.0 334.0h0.9v0.9h-0.9zM124.1 334.3h0.9v0.9h-0.9zM153.4 322.9h0.9v0.9h-0.9zM152.3 305.4h0.9v0.9h-0.9zM135.4 322.5h0.9v0.9h-0.9zM140.7 307.8h0.9v0.9h-0.9zM139.7 300.0h0.9v0.9h-0.9zM129.7 332.3h0.9v0.9h-0.9zM150.6 301.9h0.9v0.9h-0.9zM130.1 332.3h0.9v0.9h-0.9zM152.4 307.6h0.9v0.9h-0.9zM145.1 322.5h0.9v0.9h-0.9zM159.7 329.8h0.9v0.9h-0.9zM149.1 306.0h0.9v0.9h-0.9zM118.5 315.2h0.9v0.9h-0.9zM151.5 306.7h0.9v0.9h-0.9zM133.3 302.4h0.9v0.9h-0.9zM139.9 299.9h0.9v0.9h-0.9zM124.9 295.3h0.9v0.9h-0.9zM131.9 304.5h0.9v0.9h-0.9zM113.8 332.1h0.9v0.9h-0.9zM114.3 332.9h0.9v0.9h-0.9zM114.6 306.3h0.9v0.9h-0.9zM159.7 329.0h0.9v0.9h-0.9zM138.8 298.7h0.9v0.9h-0.9zM159.9 329.7h0.9v0.9h-0.9zM114.7 306.4h0.9v0.9h-0.9zM118.0 297.9h0.9v0.9h-0.9zM154.3 303.0h0.9v0.9h-0.9zM126.2 298.3h0.9v0.9h-0.9zM144.0 307.4h0.9v0.9h-0.9zM145.2 329.9h0.9v0.9h-0.9zM132.9 308.1h0.9v0.9h-0.9zM117.6 335.3h0.9v0.9h-0.9zM141.6 303.1h0.9v0.9h-0.9zM143.4 298.1h0.9v0.9h-0.9zM123.2 294.3h0.9v0.9h-0.9zM133.0 303.8h0.9v0.9h-0.9zM126.2 297.5h0.9v0.9h-0.9zM133.4 308.3h0.9v0.9h-0.9zM113.8 300.5h0.9v0.9h-0.9zM142.2 304.0h0.9v0.9h-0.9zM143.8 306.3h0.9v0.9h-0.9zM133.0 309.0h0.9v0.9h-0.9zM140.3 304.1h0.9v0.9h-0.9zM129.1 298.5h0.9v0.9h-0.9zM143.6 307.1h0.9v0.9h-0.9zM143.4 299.6h0.9v0.9h-0.9zM143.9 298.6h0.9v0.9h-0.9zM136.5 303.8h0.9v0.9h-0.9zM134.3 304.0h0.9v0.9h-0.9zM117.6 335.6h0.9v0.9h-0.9zM143.2 307.6h0.9v0.9h-0.9zM140.2 298.4h0.9v0.9h-0.9zM144.1 325.0h0.9v0.9h-0.9zM145.7 323.8h0.9v0.9h-0.9zM134.7 323.4h0.9v0.9h-0.9zM144.0 325.6h0.9v0.9h-0.9zM149.0 329.6h0.9v0.9h-0.9zM149.6 323.9h0.9v0.9h-0.9zM131.1 331.6h0.9v0.9h-0.9zM122.7 294.2h0.9v0.9h-0.9zM150.2 323.4h0.9v0.9h-0.9zM148.5 303.3h0.9v0.9h-0.9zM148.7 303.9h0.9v0.9h-0.9zM139.8 307.1h0.9v0.9h-0.9zM148.2 306.7h0.9v0.9h-0.9zM116.5 299.2h0.9v0.9h-0.9zM116.4 306.6h0.9v0.9h-0.9zM152.0 304.6h0.9v0.9h-0.9zM148.7 324.1h0.9v0.9h-0.9zM139.9 329.6h0.9v0.9h-0.9zM154.9 305.7h0.9v0.9h-0.9zM160.9 327.3h0.9v0.9h-0.9zM133.9 329.4h0.9v0.9h-0.9zM142.8 324.9h0.9v0.9h-0.9zM116.3 332.1h0.9v0.9h-0.9zM151.6 303.6h0.9v0.9h-0.9zM150.7 308.9h0.9v0.9h-0.9zM150.0 304.8h0.9v0.9h-0.9zM146.7 308.1h0.9v0.9h-0.9zM143.8 299.7h0.9v0.9h-0.9zM131.7 324.3h0.9v0.9h-0.9zM150.2 305.1h0.9v0.9h-0.9zM154.4 323.6h0.9v0.9h-0.9zM115.6 318.4h0.9v0.9h-0.9zM141.4 304.5h0.9v0.9h-0.9zM115.2 300.0h0.9v0.9h-0.9zM145.6 324.7h0.9v0.9h-0.9zM155.8 326.7h0.9v0.9h-0.9zM113.2 331.6h0.9v0.9h-0.9zM157.3 329.9h0.9v0.9h-0.9zM147.1 308.3h0.9v0.9h-0.9zM131.7 299.2h0.9v0.9h-0.9zM156.6 329.0h0.9v0.9h-0.9zM135.0 303.1h0.9v0.9h-0.9zM143.2 301.3h0.9v0.9h-0.9zM146.4 324.5h0.9v0.9h-0.9zM142.1 304.4h0.9v0.9h-0.9zM153.3 301.9h0.9v0.9h-0.9zM142.7 302.1h0.9v0.9h-0.9zM137.2 304.9h0.9v0.9h-0.9zM113.5 331.4h0.9v0.9h-0.9zM150.2 328.2h0.9v0.9h-0.9zM137.4 304.2h0.9v0.9h-0.9zM145.9 329.0h0.9v0.9h-0.9zM117.4 308.1h0.9v0.9h-0.9zM146.2 329.4h0.9v0.9h-0.9zM147.3 306.0h0.9v0.9h-0.9zM155.9 305.7h0.9v0.9h-0.9zM146.5 306.1h0.9v0.9h-0.9zM124.8 298.0h0.9v0.9h-0.9zM126.2 313.9h0.9v0.9h-0.9zM116.6 308.6h0.9v0.9h-0.9zM117.4 308.2h0.9v0.9h-0.9zM136.1 304.0h0.9v0.9h-0.9zM129.4 308.6h0.9v0.9h-0.9zM128.7 308.8h0.9v0.9h-0.9zM143.2 329.4h0.9v0.9h-0.9zM148.4 301.5h0.9v0.9h-0.9zM145.8 306.0h0.9v0.9h-0.9zM142.7 329.8h0.9v0.9h-0.9zM155.5 306.6h0.9v0.9h-0.9zM129.9 323.6h0.9v0.9h-0.9zM143.5 329.2h0.9v0.9h-0.9zM116.6 334.9h0.9v0.9h-0.9zM142.9 329.3h0.9v0.9h-0.9zM156.1 305.2h0.9v0.9h-0.9zM115.6 299.3h0.9v0.9h-0.9zM117.2 334.7h0.9v0.9h-0.9zM157.0 323.5h0.9v0.9h-0.9zM125.0 314.3h0.9v0.9h-0.9zM116.5 317.7h0.9v0.9h-0.9zM126.5 310.4h0.9v0.9h-0.9zM131.0 299.0h0.9v0.9h-0.9zM148.7 307.3h0.9v0.9h-0.9zM127.0 310.5h0.9v0.9h-0.9zM126.6 320.8h0.9v0.9h-0.9zM151.1 304.2h0.9v0.9h-0.9zM125.6 313.5h0.9v0.9h-0.9zM126.5 313.1h0.9v0.9h-0.9zM142.5 329.1h0.9v0.9h-0.9zM114.2 321.6h0.9v0.9h-0.9zM144.0 324.2h0.9v0.9h-0.9zM157.9 325.0h0.9v0.9h-0.9zM115.9 303.3h0.9v0.9h-0.9zM156.4 306.6h0.9v0.9h-0.9zM125.9 333.4h0.9v0.9h-0.9zM150.1 306.4h0.9v0.9h-0.9zM129.2 332.7h0.9v0.9h-0.9zM153.8 302.4h0.9v0.9h-0.9zM124.2 298.5h0.9v0.9h-0.9zM125.8 311.1h0.9v0.9h-0.9zM128.5 309.0h0.9v0.9h-0.9zM134.8 324.6h0.9v0.9h-0.9zM132.0 303.2h0.9v0.9h-0.9zM156.0 306.7h0.9v0.9h-0.9zM154.0 329.7h0.9v0.9h-0.9zM116.4 304.7h0.9v0.9h-0.9zM154.3 329.2h0.9v0.9h-0.9zM129.5 309.4h0.9v0.9h-0.9zM117.0 302.3h0.9v0.9h-0.9zM157.2 325.4h0.9v0.9h-0.9zM154.1 329.4h0.9v0.9h-0.9zM141.5 324.9h0.9v0.9h-0.9zM155.6 327.6h0.9v0.9h-0.9zM149.8 302.2h0.9v0.9h-0.9zM153.7 302.2h0.9v0.9h-0.9zM150.2 306.4h0.9v0.9h-0.9zM128.6 309.7h0.9v0.9h-0.9zM156.6 325.8h0.9v0.9h-0.9zM157.3 324.0h0.9v0.9h-0.9zM114.5 322.2h0.9v0.9h-0.9zM151.3 303.6h0.9v0.9h-0.9zM160.7 326.7h0.9v0.9h-0.9zM127.4 309.0h0.9v0.9h-0.9zM123.3 296.4h0.9v0.9h-0.9zM152.0 328.1h0.9v0.9h-0.9zM129.8 300.9h0.9v0.9h-0.9zM144.4 304.0h0.9v0.9h-0.9zM150.4 308.9h0.9v0.9h-0.9zM126.2 306.7h0.9v0.9h-0.9zM137.3 329.8h0.9v0.9h-0.9zM125.6 306.6h0.9v0.9h-0.9zM147.5 307.9h0.9v0.9h-0.9zM118.1 334.9h0.9v0.9h-0.9zM131.6 300.9h0.9v0.9h-0.9zM115.3 299.9h0.9v0.9h-0.9zM123.1 334.7h0.9v0.9h-0.9zM132.3 300.6h0.9v0.9h-0.9zM123.7 296.6h0.9v0.9h-0.9zM139.9 303.4h0.9v0.9h-0.9zM123.3 296.1h0.9v0.9h-0.9zM147.3 307.2h0.9v0.9h-0.9zM160.6 326.9h0.9v0.9h-0.9zM145.2 305.1h0.9v0.9h-0.9zM114.0 325.4h0.9v0.9h-0.9zM154.9 329.1h0.9v0.9h-0.9zM127.0 320.0h0.9v0.9h-0.9zM114.5 325.3h0.9v0.9h-0.9zM155.4 329.7h0.9v0.9h-0.9zM126.9 309.8h0.9v0.9h-0.9zM114.5 325.5h0.9v0.9h-0.9zM149.6 300.7h0.9v0.9h-0.9zM140.1 303.7h0.9v0.9h-0.9zM116.9 312.7h0.9v0.9h-0.9zM148.6 302.4h0.9v0.9h-0.9zM114.2 327.8h0.9v0.9h-0.9zM136.4 328.1h0.9v0.9h-0.9zM126.1 317.1h0.9v0.9h-0.9zM153.9 324.9h0.9v0.9h-0.9zM125.9 317.2h0.9v0.9h-0.9zM121.9 298.5h0.9v0.9h-0.9zM117.5 310.3h0.9v0.9h-0.9zM151.1 308.0h0.9v0.9h-0.9zM158.7 329.7h0.9v0.9h-0.9zM137.9 329.0h0.9v0.9h-0.9zM134.9 328.3h0.9v0.9h-0.9zM153.5 324.9h0.9v0.9h-0.9zM135.0 328.6h0.9v0.9h-0.9zM114.5 331.6h0.9v0.9h-0.9zM145.7 304.7h0.9v0.9h-0.9zM157.5 328.6h0.9v0.9h-0.9zM144.0 300.8h0.9v0.9h-0.9zM113.8 331.2h0.9v0.9h-0.9zM150.9 306.8h0.9v0.9h-0.9zM138.5 329.3h0.9v0.9h-0.9zM130.5 304.9h0.9v0.9h-0.9zM138.0 329.5h0.9v0.9h-0.9zM155.4 325.5h0.9v0.9h-0.9zM158.0 329.7h0.9v0.9h-0.9zM124.1 332.1h0.9v0.9h-0.9zM146.6 301.3h0.9v0.9h-0.9zM146.9 301.2h0.9v0.9h-0.9zM146.6 303.2h0.9v0.9h-0.9zM145.8 300.4h0.9v0.9h-0.9zM122.9 333.8h0.9v0.9h-0.9zM124.3 332.4h0.9v0.9h-0.9zM146.8 301.8h0.9v0.9h-0.9zM117.5 311.9h0.9v0.9h-0.9zM140.5 324.4h0.9v0.9h-0.9zM119.0 314.2h0.9v0.9h-0.9zM114.3 323.9h0.9v0.9h-0.9zM118.5 314.6h0.9v0.9h-0.9zM156.1 328.6h0.9v0.9h-0.9zM118.0 308.8h0.9v0.9h-0.9zM114.0 323.9h0.9v0.9h-0.9zM128.7 299.9h0.9v0.9h-0.9zM148.1 308.4h0.9v0.9h-0.9zM129.5 299.5h0.9v0.9h-0.9zM124.9 312.8h0.9v0.9h-0.9zM117.0 313.8h0.9v0.9h-0.9zM149.4 309.0h0.9v0.9h-0.9zM157.0 327.9h0.9v0.9h-0.9zM136.0 324.4h0.9v0.9h-0.9zM124.8 311.7h0.9v0.9h-0.9zM118.3 308.4h0.9v0.9h-0.9zM157.3 326.1h0.9v0.9h-0.9zM140.1 325.6h0.9v0.9h-0.9zM123.8 332.3h0.9v0.9h-0.9zM117.5 311.1h0.9v0.9h-0.9zM155.4 326.2h0.9v0.9h-0.9zM124.4 332.3h0.9v0.9h-0.9zM141.3 330.0h0.9v0.9h-0.9zM146.8 301.9h0.9v0.9h-0.9zM148.2 308.6h0.9v0.9h-0.9z" fill="rgb(104,124,242)" fill-opacity="0.45"/>
<path d="M124.0 311.1h0.9v0.9h-0.9zM160.0 327.5h0.9v0.9h-0.9zM122.3 334.5h0.9v0.9h-0.9zM123.6 297.2h0.9v0.9h-0.9zM116.9 301.0h0.9v0.9h-0.9zM116.8 300.4h0.9v0.9h-0.9zM124.1 297.6h0.9v0.9h-0.9zM160.1 327.4h0.9v0.9h-0.9zM128.2 299.6h0.9v0.9h-0.9zM117.4 301.6h0.9v0.9h-0.9zM127.7 300.0h0.9v0.9h-0.9zM119.9 315.3h0.9v0.9h-0.9zM122.6 297.8h0.9v0.9h-0.9zM127.8 332.2h0.9v0.9h-0.9zM127.7 332.6h0.9v0.9h-0.9zM123.1 297.5h0.9v0.9h-0.9zM115.4 321.4h0.9v0.9h-0.9zM122.4 334.1h0.9v0.9h-0.9zM114.0 326.9h0.9v0.9h-0.9zM123.6 311.3h0.9v0.9h-0.9zM124.3 311.0h0.9v0.9h-0.9zM128.1 332.3h0.9v0.9h-0.9zM123.6 311.1h0.9v0.9h-0.9zM130.9 329.1h0.9v0.9h-0.9zM122.1 334.8h0.9v0.9h-0.9zM132.1 325.3h0.9v0.9h-0.9zM117.7 314.0h0.9v0.9h-0.9zM147.8 327.9h0.9v0.9h-0.9zM160.5 325.0h0.9v0.9h-0.9zM137.6 325.2h0.9v0.9h-0.9zM160.2 325.8h0.9v0.9h-0.9zM138.5 325.8h0.9v0.9h-0.9zM148.4 327.7h0.9v0.9h-0.9zM141.7 329.4h0.9v0.9h-0.9zM137.9 325.4h0.9v0.9h-0.9zM148.0 327.5h0.9v0.9h-0.9zM119.3 311.0h0.9v0.9h-0.9zM148.2 303.6h0.9v0.9h-0.9zM148.0 327.4h0.9v0.9h-0.9zM118.2 314.1h0.9v0.9h-0.9zM119.3 310.1h0.9v0.9h-0.9zM142.3 329.5h0.9v0.9h-0.9zM147.7 303.6h0.9v0.9h-0.9zM120.8 334.8h0.9v0.9h-0.9zM116.5 307.5h0.9v0.9h-0.9zM147.5 303.6h0.9v0.9h-0.9zM117.0 307.4h0.9v0.9h-0.9zM128.3 305.4h0.9v0.9h-0.9zM127.3 305.5h0.9v0.9h-0.9zM144.1 328.2h0.9v0.9h-0.9zM158.6 328.0h0.9v0.9h-0.9zM153.5 326.4h0.9v0.9h-0.9zM117.9 305.0h0.9v0.9h-0.9zM116.5 303.8h0.9v0.9h-0.9zM130.6 301.2h0.9v0.9h-0.9zM154.0 326.0h0.9v0.9h-0.9zM130.8 301.3h0.9v0.9h-0.9zM127.1 305.9h0.9v0.9h-0.9zM128.5 305.8h0.9v0.9h-0.9zM117.6 305.1h0.9v0.9h-0.9zM129.3 331.2h0.9v0.9h-0.9zM126.2 332.9h0.9v0.9h-0.9zM119.0 334.7h0.9v0.9h-0.9zM146.2 325.6h0.9v0.9h-0.9zM148.9 301.9h0.9v0.9h-0.9zM129.0 331.6h0.9v0.9h-0.9zM118.4 306.0h0.9v0.9h-0.9zM153.9 327.0h0.9v0.9h-0.9zM153.7 326.2h0.9v0.9h-0.9zM119.1 334.6h0.9v0.9h-0.9zM144.0 328.0h0.9v0.9h-0.9zM144.2 328.3h0.9v0.9h-0.9zM125.0 317.6h0.9v0.9h-0.9zM125.2 307.3h0.9v0.9h-0.9zM144.4 328.0h0.9v0.9h-0.9zM125.2 308.7h0.9v0.9h-0.9zM117.7 307.0h0.9v0.9h-0.9zM129.7 304.1h0.9v0.9h-0.9zM125.9 305.5h0.9v0.9h-0.9zM157.9 327.3h0.9v0.9h-0.9zM149.9 324.8h0.9v0.9h-0.9zM125.8 318.1h0.9v0.9h-0.9zM119.1 309.9h0.9v0.9h-0.9zM118.5 316.5h0.9v0.9h-0.9zM124.8 308.7h0.9v0.9h-0.9zM158.3 327.5h0.9v0.9h-0.9zM125.9 310.6h0.9v0.9h-0.9zM130.3 304.6h0.9v0.9h-0.9zM117.8 316.8h0.9v0.9h-0.9zM144.2 303.2h0.9v0.9h-0.9zM153.1 327.2h0.9v0.9h-0.9zM124.6 313.7h0.9v0.9h-0.9zM152.7 327.3h0.9v0.9h-0.9zM144.3 303.8h0.9v0.9h-0.9zM119.7 335.0h0.9v0.9h-0.9zM119.6 334.5h0.9v0.9h-0.9zM130.1 329.4h0.9v0.9h-0.9zM150.1 301.5h0.9v0.9h-0.9zM125.5 318.7h0.9v0.9h-0.9zM132.6 330.0h0.9v0.9h-0.9zM118.1 310.7h0.9v0.9h-0.9zM150.3 301.5h0.9v0.9h-0.9zM120.4 334.1h0.9v0.9h-0.9zM154.8 328.1h0.9v0.9h-0.9zM152.7 327.6h0.9v0.9h-0.9zM130.3 329.7h0.9v0.9h-0.9zM133.5 329.8h0.9v0.9h-0.9zM124.1 314.6h0.9v0.9h-0.9zM131.8 329.4h0.9v0.9h-0.9zM124.6 313.8h0.9v0.9h-0.9zM152.6 327.6h0.9v0.9h-0.9zM145.0 328.4h0.9v0.9h-0.9zM150.1 301.7h0.9v0.9h-0.9zM126.5 323.1h0.9v0.9h-0.9zM152.8 327.2h0.9v0.9h-0.9zM132.9 329.5h0.9v0.9h-0.9zM145.3 303.0h0.9v0.9h-0.9zM154.6 328.8h0.9v0.9h-0.9zM127.1 323.9h0.9v0.9h-0.9zM130.1 329.2h0.9v0.9h-0.9zM154.9 328.1h0.9v0.9h-0.9zM144.5 303.5h0.9v0.9h-0.9zM129.7 301.6h0.9v0.9h-0.9zM129.2 301.7h0.9v0.9h-0.9zM144.3 302.8h0.9v0.9h-0.9zM119.0 311.3h0.9v0.9h-0.9zM145.4 304.4h0.9v0.9h-0.9zM128.5 300.6h0.9v0.9h-0.9zM127.4 300.7h0.9v0.9h-0.9zM130.9 302.2h0.9v0.9h-0.9zM146.1 328.9h0.9v0.9h-0.9zM145.9 328.1h0.9v0.9h-0.9zM123.6 299.9h0.9v0.9h-0.9zM130.7 302.1h0.9v0.9h-0.9zM124.3 299.9h0.9v0.9h-0.9zM133.6 328.7h0.9v0.9h-0.9zM134.1 328.4h0.9v0.9h-0.9zM144.0 302.1h0.9v0.9h-0.9zM145.3 304.4h0.9v0.9h-0.9zM128.1 301.0h0.9v0.9h-0.9zM139.2 326.7h0.9v0.9h-0.9zM125.4 300.0h0.9v0.9h-0.9zM119.5 313.0h0.9v0.9h-0.9zM122.4 316.5h0.9v0.9h-0.9zM114.8 325.0h0.9v0.9h-0.9zM117.9 333.3h0.9v0.9h-0.9zM137.4 328.3h0.9v0.9h-0.9zM125.8 319.3h0.9v0.9h-0.9zM125.9 319.2h0.9v0.9h-0.9zM116.8 318.3h0.9v0.9h-0.9zM131.3 303.2h0.9v0.9h-0.9zM125.8 331.4h0.9v0.9h-0.9zM124.6 306.3h0.9v0.9h-0.9zM131.0 303.4h0.9v0.9h-0.9zM117.0 318.8h0.9v0.9h-0.9zM125.1 306.8h0.9v0.9h-0.9zM118.4 333.0h0.9v0.9h-0.9zM158.3 326.6h0.9v0.9h-0.9zM121.0 312.7h0.9v0.9h-0.9zM117.9 333.3h0.9v0.9h-0.9zM137.1 328.8h0.9v0.9h-0.9zM125.6 331.8h0.9v0.9h-0.9zM120.9 312.2h0.9v0.9h-0.9zM122.7 318.8h0.9v0.9h-0.9zM116.5 332.3h0.9v0.9h-0.9zM157.7 326.6h0.9v0.9h-0.9zM122.6 318.2h0.9v0.9h-0.9zM120.1 316.1h0.9v0.9h-0.9zM130.7 303.8h0.9v0.9h-0.9zM126.1 319.6h0.9v0.9h-0.9zM123.9 317.4h0.9v0.9h-0.9zM147.0 327.1h0.9v0.9h-0.9zM145.1 302.4h0.9v0.9h-0.9zM123.7 317.1h0.9v0.9h-0.9zM148.3 326.8h0.9v0.9h-0.9zM125.5 309.0h0.9v0.9h-0.9zM122.2 299.9h0.9v0.9h-0.9zM122.9 311.2h0.9v0.9h-0.9zM124.3 317.3h0.9v0.9h-0.9zM146.9 327.5h0.9v0.9h-0.9zM122.6 311.6h0.9v0.9h-0.9zM124.9 310.0h0.9v0.9h-0.9zM125.7 320.6h0.9v0.9h-0.9zM122.7 311.9h0.9v0.9h-0.9zM123.2 312.3h0.9v0.9h-0.9zM147.3 327.3h0.9v0.9h-0.9zM121.7 299.1h0.9v0.9h-0.9zM126.2 320.1h0.9v0.9h-0.9zM114.7 324.4h0.9v0.9h-0.9zM150.0 327.5h0.9v0.9h-0.9zM149.8 327.0h0.9v0.9h-0.9zM124.4 317.3h0.9v0.9h-0.9zM118.2 311.0h0.9v0.9h-0.9zM127.7 301.2h0.9v0.9h-0.9zM126.0 304.8h0.9v0.9h-0.9zM129.2 324.1h0.9v0.9h-0.9zM118.4 311.9h0.9v0.9h-0.9zM117.9 302.1h0.9v0.9h-0.9zM127.8 301.5h0.9v0.9h-0.9zM139.4 328.6h0.9v0.9h-0.9zM124.9 310.4h0.9v0.9h-0.9zM142.7 328.6h0.9v0.9h-0.9zM158.8 326.6h0.9v0.9h-0.9zM132.4 326.4h0.9v0.9h-0.9zM131.6 326.1h0.9v0.9h-0.9zM159.7 326.9h0.9v0.9h-0.9zM148.6 326.3h0.9v0.9h-0.9zM132.3 327.0h0.9v0.9h-0.9zM159.9 326.7h0.9v0.9h-0.9zM119.9 310.1h0.9v0.9h-0.9zM138.9 328.2h0.9v0.9h-0.9zM128.9 324.6h0.9v0.9h-0.9zM121.9 333.2h0.9v0.9h-0.9zM160.4 326.3h0.9v0.9h-0.9zM128.0 331.8h0.9v0.9h-0.9zM121.5 333.5h0.9v0.9h-0.9zM127.7 331.2h0.9v0.9h-0.9zM115.3 329.9h0.9v0.9h-0.9zM125.1 310.7h0.9v0.9h-0.9zM138.6 328.2h0.9v0.9h-0.9zM119.6 313.2h0.9v0.9h-0.9zM119.7 313.8h0.9v0.9h-0.9zM139.6 327.5h0.9v0.9h-0.9zM123.7 308.9h0.9v0.9h-0.9zM122.7 332.2h0.9v0.9h-0.9zM143.3 327.0h0.9v0.9h-0.9zM114.8 322.9h0.9v0.9h-0.9zM126.8 331.9h0.9v0.9h-0.9zM145.6 301.4h0.9v0.9h-0.9zM146.2 301.3h0.9v0.9h-0.9zM126.6 331.6h0.9v0.9h-0.9zM123.6 313.9h0.9v0.9h-0.9zM128.6 304.5h0.9v0.9h-0.9zM124.2 313.8h0.9v0.9h-0.9zM128.6 304.7h0.9v0.9h-0.9zM145.7 301.1h0.9v0.9h-0.9zM146.4 301.3h0.9v0.9h-0.9zM127.4 331.6h0.9v0.9h-0.9zM126.6 331.9h0.9v0.9h-0.9zM123.0 332.0h0.9v0.9h-0.9zM114.8 322.6h0.9v0.9h-0.9zM143.1 327.2h0.9v0.9h-0.9zM131.1 325.7h0.9v0.9h-0.9zM125.7 321.9h0.9v0.9h-0.9zM126.7 331.6h0.9v0.9h-0.9zM118.1 301.5h0.9v0.9h-0.9zM120.7 316.5h0.9v0.9h-0.9zM150.6 327.6h0.9v0.9h-0.9zM150.1 325.5h0.9v0.9h-0.9zM150.5 327.6h0.9v0.9h-0.9zM146.3 326.3h0.9v0.9h-0.9zM140.7 328.2h0.9v0.9h-0.9zM124.0 307.3h0.9v0.9h-0.9zM140.6 328.3h0.9v0.9h-0.9zM128.0 330.4h0.9v0.9h-0.9zM140.7 328.6h0.9v0.9h-0.9zM121.1 316.6h0.9v0.9h-0.9zM125.1 331.1h0.9v0.9h-0.9zM142.0 327.4h0.9v0.9h-0.9zM142.3 327.3h0.9v0.9h-0.9zM150.4 325.9h0.9v0.9h-0.9zM150.7 327.2h0.9v0.9h-0.9zM116.4 331.6h0.9v0.9h-0.9zM146.3 326.6h0.9v0.9h-0.9zM150.8 327.1h0.9v0.9h-0.9zM146.3 326.2h0.9v0.9h-0.9zM116.4 331.1h0.9v0.9h-0.9zM151.4 328.0h0.9v0.9h-0.9zM124.6 331.5h0.9v0.9h-0.9zM115.6 331.5h0.9v0.9h-0.9zM121.3 311.7h0.9v0.9h-0.9zM116.5 321.9h0.9v0.9h-0.9zM117.7 301.8h0.9v0.9h-0.9zM116.6 320.9h0.9v0.9h-0.9zM120.5 311.7h0.9v0.9h-0.9zM126.8 330.4h0.9v0.9h-0.9zM132.6 326.8h0.9v0.9h-0.9zM151.9 327.6h0.9v0.9h-0.9zM153.2 326.6h0.9v0.9h-0.9zM122.8 308.4h0.9v0.9h-0.9zM125.1 319.2h0.9v0.9h-0.9zM123.1 308.9h0.9v0.9h-0.9zM122.9 317.7h0.9v0.9h-0.9zM122.9 315.9h0.9v0.9h-0.9zM145.9 327.2h0.9v0.9h-0.9zM133.4 326.9h0.9v0.9h-0.9zM124.8 319.9h0.9v0.9h-0.9zM145.2 301.3h0.9v0.9h-0.9zM122.8 308.1h0.9v0.9h-0.9zM145.9 327.9h0.9v0.9h-0.9zM125.9 330.2h0.9v0.9h-0.9zM152.1 327.3h0.9v0.9h-0.9zM126.3 330.0h0.9v0.9h-0.9zM133.1 326.7h0.9v0.9h-0.9zM120.8 315.0h0.9v0.9h-0.9zM149.8 326.9h0.9v0.9h-0.9zM123.0 317.3h0.9v0.9h-0.9zM126.9 304.6h0.9v0.9h-0.9zM123.5 309.0h0.9v0.9h-0.9zM122.9 317.7h0.9v0.9h-0.9zM134.0 327.0h0.9v0.9h-0.9zM130.7 326.5h0.9v0.9h-0.9zM117.1 317.9h0.9v0.9h-0.9zM120.3 298.8h0.9v0.9h-0.9zM121.5 317.3h0.9v0.9h-0.9zM138.4 326.8h0.9v0.9h-0.9zM137.6 326.3h0.9v0.9h-0.9zM141.0 327.6h0.9v0.9h-0.9zM121.8 317.8h0.9v0.9h-0.9zM140.9 328.0h0.9v0.9h-0.9zM138.2 326.7h0.9v0.9h-0.9zM151.2 326.3h0.9v0.9h-0.9zM150.8 326.3h0.9v0.9h-0.9zM137.6 326.1h0.9v0.9h-0.9zM120.2 298.6h0.9v0.9h-0.9zM120.2 298.6h0.9v0.9h-0.9z" fill="rgb(81,106,241)" fill-opacity="0.7"/>
<path d="M121.8 312.2h0.9v0.9h-0.9zM129.6 302.7h0.9v0.9h-0.9zM125.4 305.3h0.9v0.9h-0.9zM125.5 301.0h0.9v0.9h-0.9zM151.3 325.3h0.9v0.9h-0.9zM121.6 318.8h0.9v0.9h-0.9zM125.8 300.2h0.9v0.9h-0.9zM122.0 315.6h0.9v0.9h-0.9zM119.0 305.7h0.9v0.9h-0.9zM125.7 300.2h0.9v0.9h-0.9zM121.7 315.6h0.9v0.9h-0.9zM129.8 302.9h0.9v0.9h-0.9zM114.7 329.0h0.9v0.9h-0.9zM125.5 305.9h0.9v0.9h-0.9zM121.8 318.9h0.9v0.9h-0.9zM142.0 328.7h0.9v0.9h-0.9zM115.5 328.9h0.9v0.9h-0.9zM151.5 325.4h0.9v0.9h-0.9zM145.4 328.0h0.9v0.9h-0.9zM118.7 305.9h0.9v0.9h-0.9zM152.3 325.7h0.9v0.9h-0.9zM130.2 302.3h0.9v0.9h-0.9zM114.8 328.3h0.9v0.9h-0.9zM115.3 328.2h0.9v0.9h-0.9zM118.6 317.8h0.9v0.9h-0.9zM150.5 325.3h0.9v0.9h-0.9zM135.2 325.2h0.9v0.9h-0.9zM144.9 328.0h0.9v0.9h-0.9zM122.0 312.5h0.9v0.9h-0.9zM118.2 312.2h0.9v0.9h-0.9zM122.0 312.7h0.9v0.9h-0.9zM151.1 325.6h0.9v0.9h-0.9zM144.3 327.6h0.9v0.9h-0.9zM119.4 317.0h0.9v0.9h-0.9zM141.6 328.5h0.9v0.9h-0.9zM122.3 315.2h0.9v0.9h-0.9zM152.1 325.6h0.9v0.9h-0.9zM126.7 324.9h0.9v0.9h-0.9zM115.2 326.9h0.9v0.9h-0.9zM118.7 313.9h0.9v0.9h-0.9zM122.3 311.3h0.9v0.9h-0.9zM129.3 325.1h0.9v0.9h-0.9zM123.8 310.9h0.9v0.9h-0.9zM128.6 325.1h0.9v0.9h-0.9zM137.8 328.7h0.9v0.9h-0.9zM137.8 328.3h0.9v0.9h-0.9zM119.1 313.2h0.9v0.9h-0.9zM115.4 326.8h0.9v0.9h-0.9zM129.0 326.0h0.9v0.9h-0.9zM118.9 306.2h0.9v0.9h-0.9zM122.0 311.1h0.9v0.9h-0.9zM124.3 309.5h0.9v0.9h-0.9zM115.4 326.7h0.9v0.9h-0.9zM138.1 328.3h0.9v0.9h-0.9zM123.7 309.4h0.9v0.9h-0.9zM126.7 324.4h0.9v0.9h-0.9zM129.2 325.4h0.9v0.9h-0.9zM118.5 313.3h0.9v0.9h-0.9zM125.7 322.5h0.9v0.9h-0.9zM130.2 303.2h0.9v0.9h-0.9zM120.4 333.5h0.9v0.9h-0.9zM117.7 313.6h0.9v0.9h-0.9zM119.7 333.9h0.9v0.9h-0.9zM130.0 303.8h0.9v0.9h-0.9zM120.7 333.6h0.9v0.9h-0.9zM119.2 312.9h0.9v0.9h-0.9zM125.6 322.1h0.9v0.9h-0.9zM120.5 333.6h0.9v0.9h-0.9zM121.3 333.3h0.9v0.9h-0.9zM142.4 325.8h0.9v0.9h-0.9zM141.9 325.6h0.9v0.9h-0.9zM130.5 325.7h0.9v0.9h-0.9zM130.2 325.5h0.9v0.9h-0.9zM136.7 327.4h0.9v0.9h-0.9zM120.8 333.5h0.9v0.9h-0.9zM125.8 322.1h0.9v0.9h-0.9zM118.4 313.7h0.9v0.9h-0.9zM122.3 308.1h0.9v0.9h-0.9zM118.3 304.5h0.9v0.9h-0.9zM119.1 307.9h0.9v0.9h-0.9zM127.5 301.9h0.9v0.9h-0.9zM117.7 304.4h0.9v0.9h-0.9zM119.0 307.7h0.9v0.9h-0.9zM117.7 304.1h0.9v0.9h-0.9zM124.1 319.5h0.9v0.9h-0.9zM121.8 308.8h0.9v0.9h-0.9zM126.6 301.4h0.9v0.9h-0.9zM128.0 304.1h0.9v0.9h-0.9zM127.1 301.5h0.9v0.9h-0.9zM121.5 308.1h0.9v0.9h-0.9zM123.5 319.8h0.9v0.9h-0.9zM122.6 319.1h0.9v0.9h-0.9zM139.4 327.8h0.9v0.9h-0.9zM117.6 304.5h0.9v0.9h-0.9zM142.1 326.2h0.9v0.9h-0.9zM118.8 307.8h0.9v0.9h-0.9zM142.0 326.9h0.9v0.9h-0.9zM118.8 307.9h0.9v0.9h-0.9zM122.7 319.3h0.9v0.9h-0.9zM119.9 317.6h0.9v0.9h-0.9zM124.5 316.0h0.9v0.9h-0.9zM133.3 328.1h0.9v0.9h-0.9zM122.8 307.2h0.9v0.9h-0.9zM120.2 304.7h0.9v0.9h-0.9zM122.7 307.7h0.9v0.9h-0.9zM119.5 304.2h0.9v0.9h-0.9zM120.5 317.2h0.9v0.9h-0.9zM119.7 317.2h0.9v0.9h-0.9zM124.0 316.8h0.9v0.9h-0.9zM114.7 327.2h0.9v0.9h-0.9zM141.2 325.8h0.9v0.9h-0.9zM120.3 317.6h0.9v0.9h-0.9zM132.7 328.6h0.9v0.9h-0.9zM123.8 316.5h0.9v0.9h-0.9zM152.1 326.0h0.9v0.9h-0.9zM124.2 306.9h0.9v0.9h-0.9zM120.2 304.7h0.9v0.9h-0.9zM123.3 314.1h0.9v0.9h-0.9zM122.7 310.6h0.9v0.9h-0.9zM122.8 314.5h0.9v0.9h-0.9zM121.5 299.3h0.9v0.9h-0.9zM124.4 316.3h0.9v0.9h-0.9zM122.8 310.2h0.9v0.9h-0.9zM141.2 325.7h0.9v0.9h-0.9zM123.3 307.1h0.9v0.9h-0.9zM119.5 304.2h0.9v0.9h-0.9zM122.4 307.9h0.9v0.9h-0.9zM118.5 303.7h0.9v0.9h-0.9zM124.7 320.7h0.9v0.9h-0.9zM121.2 304.0h0.9v0.9h-0.9zM129.0 329.1h0.9v0.9h-0.9zM121.9 306.7h0.9v0.9h-0.9zM119.8 310.0h0.9v0.9h-0.9zM118.4 318.7h0.9v0.9h-0.9zM121.9 309.4h0.9v0.9h-0.9zM117.5 331.1h0.9v0.9h-0.9zM120.7 303.1h0.9v0.9h-0.9zM117.0 331.6h0.9v0.9h-0.9zM120.5 303.7h0.9v0.9h-0.9zM117.9 318.9h0.9v0.9h-0.9zM121.9 307.5h0.9v0.9h-0.9zM128.6 329.7h0.9v0.9h-0.9zM121.3 303.1h0.9v0.9h-0.9zM128.9 329.5h0.9v0.9h-0.9zM118.4 318.5h0.9v0.9h-0.9zM120.4 309.1h0.9v0.9h-0.9zM141.1 326.6h0.9v0.9h-0.9zM141.2 326.2h0.9v0.9h-0.9zM124.8 320.7h0.9v0.9h-0.9zM128.4 325.3h0.9v0.9h-0.9zM141.2 326.4h0.9v0.9h-0.9zM127.5 325.6h0.9v0.9h-0.9zM141.0 326.5h0.9v0.9h-0.9zM140.9 326.5h0.9v0.9h-0.9zM128.8 329.3h0.9v0.9h-0.9zM132.1 328.6h0.9v0.9h-0.9zM130.7 328.5h0.9v0.9h-0.9zM117.9 318.0h0.9v0.9h-0.9zM131.3 328.9h0.9v0.9h-0.9zM121.0 317.8h0.9v0.9h-0.9zM131.3 328.9h0.9v0.9h-0.9zM126.0 303.2h0.9v0.9h-0.9zM117.5 317.9h0.9v0.9h-0.9zM125.5 303.3h0.9v0.9h-0.9zM118.0 317.9h0.9v0.9h-0.9zM116.4 326.2h0.9v0.9h-0.9zM115.8 326.7h0.9v0.9h-0.9zM121.3 317.5h0.9v0.9h-0.9zM118.5 317.9h0.9v0.9h-0.9zM130.9 328.3h0.9v0.9h-0.9zM129.1 302.3h0.9v0.9h-0.9zM125.9 303.1h0.9v0.9h-0.9zM126.1 303.1h0.9v0.9h-0.9zM132.2 328.5h0.9v0.9h-0.9zM131.9 328.8h0.9v0.9h-0.9zM116.3 326.2h0.9v0.9h-0.9zM118.4 332.6h0.9v0.9h-0.9zM122.8 313.7h0.9v0.9h-0.9zM118.4 332.7h0.9v0.9h-0.9zM138.2 327.1h0.9v0.9h-0.9zM127.9 302.9h0.9v0.9h-0.9zM127.0 303.3h0.9v0.9h-0.9zM122.8 313.6h0.9v0.9h-0.9zM127.2 303.5h0.9v0.9h-0.9zM119.1 300.6h0.9v0.9h-0.9zM116.3 325.0h0.9v0.9h-0.9zM118.0 332.8h0.9v0.9h-0.9zM117.9 332.6h0.9v0.9h-0.9zM118.5 300.5h0.9v0.9h-0.9zM119.4 300.6h0.9v0.9h-0.9zM116.2 325.4h0.9v0.9h-0.9zM118.4 332.7h0.9v0.9h-0.9zM128.2 302.7h0.9v0.9h-0.9zM137.3 326.9h0.9v0.9h-0.9zM133.0 327.7h0.9v0.9h-0.9zM120.8 306.9h0.9v0.9h-0.9zM121.0 306.6h0.9v0.9h-0.9zM133.0 327.3h0.9v0.9h-0.9zM119.3 304.2h0.9v0.9h-0.9zM133.2 327.5h0.9v0.9h-0.9zM133.4 327.8h0.9v0.9h-0.9zM136.0 325.9h0.9v0.9h-0.9zM119.2 304.1h0.9v0.9h-0.9zM120.5 314.3h0.9v0.9h-0.9zM121.0 310.9h0.9v0.9h-0.9zM135.4 327.9h0.9v0.9h-0.9zM121.2 310.8h0.9v0.9h-0.9zM136.1 327.6h0.9v0.9h-0.9zM121.3 314.8h0.9v0.9h-0.9zM136.4 327.2h0.9v0.9h-0.9zM123.6 301.7h0.9v0.9h-0.9zM123.8 301.1h0.9v0.9h-0.9zM126.6 302.4h0.9v0.9h-0.9zM121.0 314.0h0.9v0.9h-0.9zM120.8 310.3h0.9v0.9h-0.9zM116.3 322.1h0.9v0.9h-0.9zM135.3 327.2h0.9v0.9h-0.9zM135.7 327.5h0.9v0.9h-0.9zM135.7 327.5h0.9v0.9h-0.9zM126.6 302.3h0.9v0.9h-0.9zM123.5 301.8h0.9v0.9h-0.9zM120.7 310.7h0.9v0.9h-0.9zM120.8 305.6h0.9v0.9h-0.9zM127.0 302.6h0.9v0.9h-0.9zM135.9 327.3h0.9v0.9h-0.9zM121.0 310.3h0.9v0.9h-0.9zM136.0 327.9h0.9v0.9h-0.9zM121.0 305.7h0.9v0.9h-0.9zM121.3 305.8h0.9v0.9h-0.9zM121.0 314.8h0.9v0.9h-0.9zM124.2 301.2h0.9v0.9h-0.9zM134.9 327.3h0.9v0.9h-0.9zM120.9 314.4h0.9v0.9h-0.9zM121.1 305.6h0.9v0.9h-0.9zM124.4 301.5h0.9v0.9h-0.9zM120.4 303.6h0.9v0.9h-0.9zM124.6 300.8h0.9v0.9h-0.9zM118.5 320.3h0.9v0.9h-0.9zM122.8 306.9h0.9v0.9h-0.9zM118.4 320.6h0.9v0.9h-0.9zM125.1 300.5h0.9v0.9h-0.9zM116.3 324.4h0.9v0.9h-0.9zM116.1 324.4h0.9v0.9h-0.9zM123.1 306.4h0.9v0.9h-0.9zM116.4 324.3h0.9v0.9h-0.9zM122.6 306.0h0.9v0.9h-0.9zM125.0 300.7h0.9v0.9h-0.9zM121.7 300.7h0.9v0.9h-0.9zM124.9 300.9h0.9v0.9h-0.9zM129.1 303.5h0.9v0.9h-0.9zM129.1 303.4h0.9v0.9h-0.9zM126.1 323.3h0.9v0.9h-0.9zM118.5 301.0h0.9v0.9h-0.9zM119.4 301.2h0.9v0.9h-0.9zM129.0 303.7h0.9v0.9h-0.9zM125.9 323.6h0.9v0.9h-0.9zM122.7 300.4h0.9v0.9h-0.9zM123.0 300.7h0.9v0.9h-0.9zM123.9 302.5h0.9v0.9h-0.9zM121.2 300.1h0.9v0.9h-0.9zM123.2 300.3h0.9v0.9h-0.9zM122.5 332.0h0.9v0.9h-0.9zM129.0 326.8h0.9v0.9h-0.9zM122.5 332.8h0.9v0.9h-0.9zM122.0 332.0h0.9v0.9h-0.9zM124.1 302.1h0.9v0.9h-0.9zM123.5 301.0h0.9v0.9h-0.9zM120.6 300.5h0.9v0.9h-0.9zM128.8 326.9h0.9v0.9h-0.9zM124.3 302.4h0.9v0.9h-0.9zM125.4 330.9h0.9v0.9h-0.9zM124.7 304.9h0.9v0.9h-0.9zM125.3 330.4h0.9v0.9h-0.9zM124.7 330.0h0.9v0.9h-0.9zM124.9 330.1h0.9v0.9h-0.9zM120.4 305.4h0.9v0.9h-0.9zM130.0 326.3h0.9v0.9h-0.9zM124.7 304.1h0.9v0.9h-0.9zM124.8 321.9h0.9v0.9h-0.9zM120.0 308.8h0.9v0.9h-0.9zM120.3 305.8h0.9v0.9h-0.9zM125.4 304.8h0.9v0.9h-0.9zM129.7 326.7h0.9v0.9h-0.9zM125.1 330.1h0.9v0.9h-0.9zM130.4 326.9h0.9v0.9h-0.9zM120.5 305.6h0.9v0.9h-0.9zM116.1 330.4h0.9v0.9h-0.9zM120.4 307.1h0.9v0.9h-0.9zM120.3 299.1h0.9v0.9h-0.9zM129.7 328.0h0.9v0.9h-0.9zM120.4 307.7h0.9v0.9h-0.9zM122.1 304.3h0.9v0.9h-0.9zM120.6 308.2h0.9v0.9h-0.9zM115.6 330.8h0.9v0.9h-0.9zM120.4 306.6h0.9v0.9h-0.9zM124.7 301.2h0.9v0.9h-0.9zM119.8 307.4h0.9v0.9h-0.9zM116.3 330.1h0.9v0.9h-0.9zM119.8 307.8h0.9v0.9h-0.9zM121.0 308.2h0.9v0.9h-0.9zM119.9 299.4h0.9v0.9h-0.9zM120.5 309.0h0.9v0.9h-0.9zM120.2 306.1h0.9v0.9h-0.9zM119.8 299.7h0.9v0.9h-0.9zM124.9 301.9h0.9v0.9h-0.9zM120.2 300.0h0.9v0.9h-0.9zM126.2 301.2h0.9v0.9h-0.9zM122.3 304.6h0.9v0.9h-0.9zM126.1 302.0h0.9v0.9h-0.9zM118.2 331.6h0.9v0.9h-0.9zM121.8 304.3h0.9v0.9h-0.9zM120.4 299.9h0.9v0.9h-0.9zM116.5 330.8h0.9v0.9h-0.9zM120.9 308.9h0.9v0.9h-0.9zM120.0 299.9h0.9v0.9h-0.9zM120.9 308.6h0.9v0.9h-0.9zM118.1 331.5h0.9v0.9h-0.9zM117.7 331.4h0.9v0.9h-0.9zM121.3 308.3h0.9v0.9h-0.9zM116.5 330.8h0.9v0.9h-0.9zM130.3 328.7h0.9v0.9h-0.9zM120.0 306.2h0.9v0.9h-0.9zM117.6 331.1h0.9v0.9h-0.9zM121.7 313.7h0.9v0.9h-0.9zM123.0 302.9h0.9v0.9h-0.9zM127.8 326.4h0.9v0.9h-0.9zM127.6 327.0h0.9v0.9h-0.9zM128.1 327.0h0.9v0.9h-0.9zM121.5 313.8h0.9v0.9h-0.9zM124.9 302.8h0.9v0.9h-0.9zM123.0 302.8h0.9v0.9h-0.9zM115.9 323.5h0.9v0.9h-0.9zM124.8 302.0h0.9v0.9h-0.9zM119.4 319.0h0.9v0.9h-0.9zM115.6 323.9h0.9v0.9h-0.9zM119.5 302.7h0.9v0.9h-0.9zM116.4 323.2h0.9v0.9h-0.9zM122.5 313.4h0.9v0.9h-0.9zM127.8 303.7h0.9v0.9h-0.9zM126.4 302.8h0.9v0.9h-0.9zM127.3 325.7h0.9v0.9h-0.9zM123.4 301.5h0.9v0.9h-0.9zM128.4 303.4h0.9v0.9h-0.9zM128.1 303.3h0.9v0.9h-0.9zM121.0 309.7h0.9v0.9h-0.9zM121.5 309.3h0.9v0.9h-0.9zM120.9 309.5h0.9v0.9h-0.9zM127.9 303.8h0.9v0.9h-0.9zM126.9 325.4h0.9v0.9h-0.9zM126.5 325.0h0.9v0.9h-0.9zM127.6 303.2h0.9v0.9h-0.9zM120.9 309.7h0.9v0.9h-0.9z" fill="rgb(58,92,239)" fill-opacity="0.7"/>
<path d="M122.3 303.5h0.9v0.9h-0.9zM124.5 305.3h0.9v0.9h-0.9zM120.5 318.7h0.9v0.9h-0.9zM122.2 314.3h0.9v0.9h-0.9zM123.9 305.1h0.9v0.9h-0.9zM122.3 314.8h0.9v0.9h-0.9zM120.9 318.8h0.9v0.9h-0.9zM121.7 303.9h0.9v0.9h-0.9zM121.9 315.0h0.9v0.9h-0.9zM122.2 303.7h0.9v0.9h-0.9zM122.1 314.6h0.9v0.9h-0.9zM122.5 314.5h0.9v0.9h-0.9zM122.4 303.3h0.9v0.9h-0.9zM123.9 305.9h0.9v0.9h-0.9zM123.8 305.0h0.9v0.9h-0.9zM126.1 329.8h0.9v0.9h-0.9zM116.0 328.0h0.9v0.9h-0.9zM123.5 331.7h0.9v0.9h-0.9zM119.7 300.9h0.9v0.9h-0.9zM119.1 303.2h0.9v0.9h-0.9zM116.3 327.9h0.9v0.9h-0.9zM126.1 325.0h0.9v0.9h-0.9zM126.2 324.5h0.9v0.9h-0.9zM124.0 331.0h0.9v0.9h-0.9zM120.0 300.2h0.9v0.9h-0.9zM125.9 324.2h0.9v0.9h-0.9zM117.2 321.8h0.9v0.9h-0.9zM124.1 331.1h0.9v0.9h-0.9zM116.7 321.3h0.9v0.9h-0.9zM118.6 304.0h0.9v0.9h-0.9zM126.3 329.2h0.9v0.9h-0.9zM117.5 321.8h0.9v0.9h-0.9zM119.3 303.8h0.9v0.9h-0.9zM127.9 329.3h0.9v0.9h-0.9zM130.5 328.0h0.9v0.9h-0.9zM128.2 329.3h0.9v0.9h-0.9zM135.3 326.9h0.9v0.9h-0.9zM127.0 329.7h0.9v0.9h-0.9zM130.5 327.8h0.9v0.9h-0.9zM126.8 329.8h0.9v0.9h-0.9zM127.9 330.0h0.9v0.9h-0.9zM130.3 327.3h0.9v0.9h-0.9zM130.2 327.5h0.9v0.9h-0.9zM135.3 326.5h0.9v0.9h-0.9zM129.7 327.2h0.9v0.9h-0.9zM130.0 327.9h0.9v0.9h-0.9zM127.8 329.4h0.9v0.9h-0.9zM127.2 329.2h0.9v0.9h-0.9zM127.3 329.5h0.9v0.9h-0.9zM128.3 329.8h0.9v0.9h-0.9zM135.3 326.5h0.9v0.9h-0.9zM122.0 302.3h0.9v0.9h-0.9zM124.4 320.4h0.9v0.9h-0.9zM123.5 320.8h0.9v0.9h-0.9zM121.9 302.9h0.9v0.9h-0.9zM124.1 320.6h0.9v0.9h-0.9zM124.2 320.1h0.9v0.9h-0.9zM121.7 302.2h0.9v0.9h-0.9zM122.7 305.7h0.9v0.9h-0.9zM121.8 301.3h0.9v0.9h-0.9zM122.0 301.1h0.9v0.9h-0.9zM124.6 303.9h0.9v0.9h-0.9zM123.4 305.7h0.9v0.9h-0.9zM123.3 305.5h0.9v0.9h-0.9zM124.7 303.5h0.9v0.9h-0.9zM124.7 303.7h0.9v0.9h-0.9zM123.4 305.8h0.9v0.9h-0.9zM122.0 301.2h0.9v0.9h-0.9zM122.0 301.4h0.9v0.9h-0.9zM125.0 303.9h0.9v0.9h-0.9zM122.4 301.2h0.9v0.9h-0.9zM122.0 301.9h0.9v0.9h-0.9zM125.0 322.3h0.9v0.9h-0.9zM124.5 322.6h0.9v0.9h-0.9zM118.7 319.1h0.9v0.9h-0.9zM119.2 319.7h0.9v0.9h-0.9zM128.9 327.7h0.9v0.9h-0.9zM128.5 327.8h0.9v0.9h-0.9zM119.4 319.2h0.9v0.9h-0.9zM119.0 319.8h0.9v0.9h-0.9zM119.2 319.7h0.9v0.9h-0.9zM120.2 318.5h0.9v0.9h-0.9zM121.5 319.5h0.9v0.9h-0.9zM127.6 327.3h0.9v0.9h-0.9zM128.4 327.5h0.9v0.9h-0.9zM136.0 326.9h0.9v0.9h-0.9zM127.0 326.8h0.9v0.9h-0.9zM127.1 326.0h0.9v0.9h-0.9zM120.5 302.6h0.9v0.9h-0.9zM126.5 326.6h0.9v0.9h-0.9zM128.0 327.1h0.9v0.9h-0.9zM120.8 319.1h0.9v0.9h-0.9zM126.7 326.5h0.9v0.9h-0.9zM126.6 326.9h0.9v0.9h-0.9zM120.9 319.3h0.9v0.9h-0.9zM135.9 326.4h0.9v0.9h-0.9zM127.8 327.8h0.9v0.9h-0.9zM121.0 302.3h0.9v0.9h-0.9zM128.1 327.5h0.9v0.9h-0.9zM126.6 326.8h0.9v0.9h-0.9zM120.9 302.9h0.9v0.9h-0.9zM136.3 326.6h0.9v0.9h-0.9zM136.4 326.4h0.9v0.9h-0.9zM126.8 326.9h0.9v0.9h-0.9zM136.0 326.7h0.9v0.9h-0.9zM129.0 328.3h0.9v0.9h-0.9zM121.3 301.4h0.9v0.9h-0.9zM120.9 301.9h0.9v0.9h-0.9zM120.6 301.5h0.9v0.9h-0.9zM129.4 329.0h0.9v0.9h-0.9zM121.4 301.2h0.9v0.9h-0.9zM128.9 328.5h0.9v0.9h-0.9zM128.8 328.6h0.9v0.9h-0.9zM116.4 329.5h0.9v0.9h-0.9zM120.2 302.1h0.9v0.9h-0.9zM116.1 329.5h0.9v0.9h-0.9zM120.1 302.5h0.9v0.9h-0.9zM119.7 302.8h0.9v0.9h-0.9zM123.2 303.6h0.9v0.9h-0.9zM120.1 302.7h0.9v0.9h-0.9zM120.2 332.4h0.9v0.9h-0.9zM120.3 332.6h0.9v0.9h-0.9zM116.3 329.6h0.9v0.9h-0.9zM119.6 302.8h0.9v0.9h-0.9zM123.1 303.4h0.9v0.9h-0.9zM115.6 329.2h0.9v0.9h-0.9zM116.2 329.1h0.9v0.9h-0.9zM119.6 332.8h0.9v0.9h-0.9zM118.5 320.5h0.9v0.9h-0.9zM120.5 301.6h0.9v0.9h-0.9zM119.8 301.4h0.9v0.9h-0.9zM120.4 301.9h0.9v0.9h-0.9zM119.9 301.2h0.9v0.9h-0.9zM120.0 301.5h0.9v0.9h-0.9zM119.5 301.7h0.9v0.9h-0.9zM119.6 301.5h0.9v0.9h-0.9zM123.6 321.9h0.9v0.9h-0.9zM124.4 321.1h0.9v0.9h-0.9zM124.2 322.0h0.9v0.9h-0.9zM123.8 321.4h0.9v0.9h-0.9zM123.6 321.6h0.9v0.9h-0.9zM124.1 322.0h0.9v0.9h-0.9zM117.0 330.8h0.9v0.9h-0.9zM117.0 330.1h0.9v0.9h-0.9zM117.2 330.8h0.9v0.9h-0.9zM123.8 303.4h0.9v0.9h-0.9zM120.5 332.4h0.9v0.9h-0.9zM125.6 326.0h0.9v0.9h-0.9zM120.7 332.0h0.9v0.9h-0.9zM121.5 332.6h0.9v0.9h-0.9zM121.1 332.1h0.9v0.9h-0.9zM126.3 328.9h0.9v0.9h-0.9zM124.4 304.2h0.9v0.9h-0.9zM115.9 328.7h0.9v0.9h-0.9zM123.6 304.3h0.9v0.9h-0.9zM123.1 304.8h0.9v0.9h-0.9zM124.1 304.7h0.9v0.9h-0.9zM123.0 304.1h0.9v0.9h-0.9zM122.7 332.0h0.9v0.9h-0.9zM125.5 328.3h0.9v0.9h-0.9zM116.4 328.4h0.9v0.9h-0.9zM126.0 328.3h0.9v0.9h-0.9zM123.2 331.9h0.9v0.9h-0.9zM123.3 305.0h0.9v0.9h-0.9zM122.8 331.1h0.9v0.9h-0.9zM123.9 304.2h0.9v0.9h-0.9zM122.9 304.3h0.9v0.9h-0.9zM125.6 328.3h0.9v0.9h-0.9zM123.9 304.4h0.9v0.9h-0.9zM124.3 304.2h0.9v0.9h-0.9zM123.5 304.7h0.9v0.9h-0.9zM125.7 328.7h0.9v0.9h-0.9zM122.7 331.5h0.9v0.9h-0.9zM124.3 304.0h0.9v0.9h-0.9zM126.5 328.5h0.9v0.9h-0.9zM126.5 328.6h0.9v0.9h-0.9zM127.2 328.6h0.9v0.9h-0.9zM117.7 321.5h0.9v0.9h-0.9zM117.7 321.3h0.9v0.9h-0.9zM126.8 328.8h0.9v0.9h-0.9zM126.9 328.8h0.9v0.9h-0.9zM122.6 320.7h0.9v0.9h-0.9zM127.2 328.5h0.9v0.9h-0.9zM123.3 321.0h0.9v0.9h-0.9zM117.8 321.7h0.9v0.9h-0.9zM116.6 322.8h0.9v0.9h-0.9zM121.8 320.5h0.9v0.9h-0.9zM121.8 320.8h0.9v0.9h-0.9z" fill="rgb(46,121,237)" fill-opacity="0.7"/>
<path d="M128.0 328.7h0.9v0.9h-0.9zM127.8 328.0h0.9v0.9h-0.9zM128.5 328.8h0.9v0.9h-0.9zM127.8 328.9h0.9v0.9h-0.9zM126.0 327.6h0.9v0.9h-0.9zM126.3 327.1h0.9v0.9h-0.9zM125.1 323.3h0.9v0.9h-0.9zM119.4 331.6h0.9v0.9h-0.9zM125.6 327.6h0.9v0.9h-0.9zM125.2 323.7h0.9v0.9h-0.9zM125.2 324.0h0.9v0.9h-0.9zM118.6 331.4h0.9v0.9h-0.9zM124.7 323.6h0.9v0.9h-0.9zM118.7 331.3h0.9v0.9h-0.9zM118.9 332.0h0.9v0.9h-0.9zM118.6 331.2h0.9v0.9h-0.9zM125.5 327.8h0.9v0.9h-0.9zM126.0 327.6h0.9v0.9h-0.9zM125.6 327.5h0.9v0.9h-0.9zM117.1 326.5h0.9v0.9h-0.9zM116.9 326.3h0.9v0.9h-0.9zM117.4 326.4h0.9v0.9h-0.9zM117.0 326.2h0.9v0.9h-0.9zM117.3 326.2h0.9v0.9h-0.9zM124.0 322.1h0.9v0.9h-0.9zM123.9 322.7h0.9v0.9h-0.9zM124.2 322.8h0.9v0.9h-0.9zM120.9 320.6h0.9v0.9h-0.9zM121.1 320.0h0.9v0.9h-0.9zM120.8 320.8h0.9v0.9h-0.9zM118.9 321.4h0.9v0.9h-0.9zM121.0 320.7h0.9v0.9h-0.9zM118.9 321.5h0.9v0.9h-0.9zM119.2 321.1h0.9v0.9h-0.9zM121.1 320.8h0.9v0.9h-0.9zM120.9 320.4h0.9v0.9h-0.9zM118.9 321.1h0.9v0.9h-0.9zM119.4 321.5h0.9v0.9h-0.9zM120.3 319.5h0.9v0.9h-0.9zM119.8 319.9h0.9v0.9h-0.9zM120.4 319.5h0.9v0.9h-0.9zM120.0 319.0h0.9v0.9h-0.9zM119.9 319.2h0.9v0.9h-0.9zM120.0 319.4h0.9v0.9h-0.9zM120.1 319.9h0.9v0.9h-0.9zM125.6 327.0h0.9v0.9h-0.9zM125.8 326.9h0.9v0.9h-0.9zM125.6 326.6h0.9v0.9h-0.9zM126.3 326.2h0.9v0.9h-0.9zM125.9 326.3h0.9v0.9h-0.9zM117.0 327.7h0.9v0.9h-0.9zM119.8 320.6h0.9v0.9h-0.9zM119.8 320.3h0.9v0.9h-0.9zM120.1 321.0h0.9v0.9h-0.9zM120.1 320.7h0.9v0.9h-0.9zM116.9 327.2h0.9v0.9h-0.9zM117.5 327.9h0.9v0.9h-0.9zM122.4 331.4h0.9v0.9h-0.9zM117.2 323.7h0.9v0.9h-0.9zM121.5 331.7h0.9v0.9h-0.9zM122.1 331.8h0.9v0.9h-0.9zM122.4 331.6h0.9v0.9h-0.9zM117.5 323.5h0.9v0.9h-0.9zM117.4 323.0h0.9v0.9h-0.9zM116.7 323.3h0.9v0.9h-0.9zM116.7 323.6h0.9v0.9h-0.9zM120.3 321.4h0.9v0.9h-0.9zM120.1 321.1h0.9v0.9h-0.9zM117.6 330.1h0.9v0.9h-0.9zM117.7 330.1h0.9v0.9h-0.9zM118.3 330.4h0.9v0.9h-0.9zM120.1 321.1h0.9v0.9h-0.9zM118.3 330.9h0.9v0.9h-0.9zM123.8 330.9h0.9v0.9h-0.9zM124.0 330.6h0.9v0.9h-0.9zM123.7 330.1h0.9v0.9h-0.9zM123.6 330.8h0.9v0.9h-0.9zM123.5 330.5h0.9v0.9h-0.9zM124.1 330.2h0.9v0.9h-0.9zM117.0 324.4h0.9v0.9h-0.9zM117.3 325.0h0.9v0.9h-0.9zM116.7 325.7h0.9v0.9h-0.9zM117.5 325.0h0.9v0.9h-0.9zM116.6 325.6h0.9v0.9h-0.9zM125.0 324.1h0.9v0.9h-0.9zM125.3 324.2h0.9v0.9h-0.9zM124.7 324.8h0.9v0.9h-0.9zM125.1 328.7h0.9v0.9h-0.9zM124.6 328.6h0.9v0.9h-0.9zM124.7 324.9h0.9v0.9h-0.9zM124.6 324.8h0.9v0.9h-0.9zM124.6 324.9h0.9v0.9h-0.9zM125.0 328.4h0.9v0.9h-0.9zM125.5 328.6h0.9v0.9h-0.9zM125.2 328.5h0.9v0.9h-0.9z" fill="rgb(33,151,235)" fill-opacity="1"/>
<path d="M122.7 321.8h0.9v0.9h-0.9zM123.4 321.4h0.9v0.9h-0.9zM123.1 321.4h0.9v0.9h-0.9zM123.2 321.3h0.9v0.9h-0.9zM123.8 323.9h0.9v0.9h-0.9zM124.0 323.9h0.9v0.9h-0.9zM124.2 323.8h0.9v0.9h-0.9zM124.5 323.4h0.9v0.9h-0.9zM124.5 323.0h0.9v0.9h-0.9zM123.7 323.2h0.9v0.9h-0.9zM124.1 323.9h0.9v0.9h-0.9zM123.8 323.2h0.9v0.9h-0.9zM117.1 329.5h0.9v0.9h-0.9zM117.0 329.8h0.9v0.9h-0.9zM116.7 329.2h0.9v0.9h-0.9zM117.2 330.0h0.9v0.9h-0.9zM117.0 329.5h0.9v0.9h-0.9zM117.2 329.2h0.9v0.9h-0.9zM117.3 329.9h0.9v0.9h-0.9zM117.5 329.1h0.9v0.9h-0.9zM116.8 329.8h0.9v0.9h-0.9zM117.5 329.8h0.9v0.9h-0.9zM118.4 322.3h0.9v0.9h-0.9zM118.1 322.6h0.9v0.9h-0.9zM117.6 322.2h0.9v0.9h-0.9zM117.6 322.7h0.9v0.9h-0.9zM117.9 322.6h0.9v0.9h-0.9zM117.9 322.8h0.9v0.9h-0.9zM117.5 322.1h0.9v0.9h-0.9zM118.3 323.0h0.9v0.9h-0.9zM117.7 322.7h0.9v0.9h-0.9zM116.8 328.8h0.9v0.9h-0.9zM119.1 322.7h0.9v0.9h-0.9zM119.3 322.0h0.9v0.9h-0.9zM119.0 322.8h0.9v0.9h-0.9zM117.1 328.8h0.9v0.9h-0.9zM116.6 328.3h0.9v0.9h-0.9zM119.5 322.4h0.9v0.9h-0.9zM120.0 322.4h0.9v0.9h-0.9zM121.4 321.6h0.9v0.9h-0.9zM120.1 322.1h0.9v0.9h-0.9zM119.5 322.5h0.9v0.9h-0.9zM119.9 322.5h0.9v0.9h-0.9zM121.2 321.6h0.9v0.9h-0.9zM119.9 322.3h0.9v0.9h-0.9zM120.2 322.1h0.9v0.9h-0.9zM120.9 321.7h0.9v0.9h-0.9zM121.4 321.8h0.9v0.9h-0.9zM120.1 322.4h0.9v0.9h-0.9zM120.1 322.9h0.9v0.9h-0.9zM122.9 322.1h0.9v0.9h-0.9zM122.9 322.4h0.9v0.9h-0.9zM123.3 322.3h0.9v0.9h-0.9zM122.5 322.9h0.9v0.9h-0.9zM123.8 329.4h0.9v0.9h-0.9zM124.2 329.9h0.9v0.9h-0.9zM124.4 329.1h0.9v0.9h-0.9zM124.1 329.3h0.9v0.9h-0.9zM124.4 330.0h0.9v0.9h-0.9zM124.3 329.0h0.9v0.9h-0.9zM124.1 329.3h0.9v0.9h-0.9zM123.0 330.1h0.9v0.9h-0.9zM123.2 330.4h0.9v0.9h-0.9zM123.2 330.2h0.9v0.9h-0.9zM123.2 330.7h0.9v0.9h-0.9zM123.0 330.7h0.9v0.9h-0.9zM122.9 330.5h0.9v0.9h-0.9zM122.6 330.4h0.9v0.9h-0.9zM123.2 330.7h0.9v0.9h-0.9zM123.0 330.3h0.9v0.9h-0.9zM122.9 330.5h0.9v0.9h-0.9zM122.5 330.5h0.9v0.9h-0.9zM123.3 330.3h0.9v0.9h-0.9zM123.4 330.6h0.9v0.9h-0.9zM123.3 330.4h0.9v0.9h-0.9zM123.1 330.6h0.9v0.9h-0.9zM122.7 330.0h0.9v0.9h-0.9zM120.3 331.7h0.9v0.9h-0.9zM124.7 326.0h0.9v0.9h-0.9zM119.9 331.7h0.9v0.9h-0.9zM119.6 331.4h0.9v0.9h-0.9zM119.5 331.5h0.9v0.9h-0.9zM125.1 325.9h0.9v0.9h-0.9zM120.4 331.3h0.9v0.9h-0.9zM125.3 325.0h0.9v0.9h-0.9zM119.6 331.8h0.9v0.9h-0.9zM119.7 331.9h0.9v0.9h-0.9zM120.0 331.7h0.9v0.9h-0.9zM120.4 331.2h0.9v0.9h-0.9zM119.8 331.9h0.9v0.9h-0.9zM120.5 331.7h0.9v0.9h-0.9zM121.3 331.9h0.9v0.9h-0.9zM121.8 321.4h0.9v0.9h-0.9zM121.5 331.1h0.9v0.9h-0.9zM120.7 331.7h0.9v0.9h-0.9zM121.1 331.9h0.9v0.9h-0.9zM124.7 327.8h0.9v0.9h-0.9zM121.3 331.0h0.9v0.9h-0.9zM121.8 321.7h0.9v0.9h-0.9zM121.3 331.6h0.9v0.9h-0.9zM122.3 321.9h0.9v0.9h-0.9zM120.6 331.6h0.9v0.9h-0.9zM121.2 331.1h0.9v0.9h-0.9zM124.5 327.0h0.9v0.9h-0.9zM121.3 331.4h0.9v0.9h-0.9zM122.5 321.9h0.9v0.9h-0.9zM121.1 331.5h0.9v0.9h-0.9zM122.2 321.9h0.9v0.9h-0.9zM125.0 327.3h0.9v0.9h-0.9z" fill="rgb(28,175,210)" fill-opacity="1"/>
<path d="M118.9 330.4h0.9v0.9h-0.9zM119.1 331.0h0.9v0.9h-0.9zM119.4 330.5h0.9v0.9h-0.9zM119.2 330.3h0.9v0.9h-0.9zM118.7 330.4h0.9v0.9h-0.9zM119.0 330.5h0.9v0.9h-0.9zM117.7 323.7h0.9v0.9h-0.9zM118.2 323.5h0.9v0.9h-0.9zM118.2 329.2h0.9v0.9h-0.9zM117.7 329.5h0.9v0.9h-0.9zM118.4 329.1h0.9v0.9h-0.9zM118.0 323.2h0.9v0.9h-0.9zM118.2 330.0h0.9v0.9h-0.9zM117.8 323.7h0.9v0.9h-0.9zM117.9 329.6h0.9v0.9h-0.9zM118.2 329.5h0.9v0.9h-0.9zM117.9 329.5h0.9v0.9h-0.9zM118.2 329.1h0.9v0.9h-0.9zM118.5 329.3h0.9v0.9h-0.9zM117.8 323.5h0.9v0.9h-0.9zM118.3 323.8h0.9v0.9h-0.9zM117.7 329.9h0.9v0.9h-0.9zM117.7 323.2h0.9v0.9h-0.9zM118.3 323.1h0.9v0.9h-0.9zM120.6 322.6h0.9v0.9h-0.9zM120.5 322.6h0.9v0.9h-0.9zM121.2 322.7h0.9v0.9h-0.9zM121.3 323.0h0.9v0.9h-0.9zM120.6 322.8h0.9v0.9h-0.9zM121.4 322.2h0.9v0.9h-0.9zM123.1 323.6h0.9v0.9h-0.9zM123.5 323.5h0.9v0.9h-0.9zM121.6 330.9h0.9v0.9h-0.9zM122.8 323.4h0.9v0.9h-0.9zM121.8 330.6h0.9v0.9h-0.9zM121.6 330.6h0.9v0.9h-0.9zM122.3 330.5h0.9v0.9h-0.9zM122.8 323.6h0.9v0.9h-0.9zM122.2 330.2h0.9v0.9h-0.9zM122.0 330.1h0.9v0.9h-0.9zM121.9 330.8h0.9v0.9h-0.9zM118.3 328.5h0.9v0.9h-0.9zM118.4 328.0h0.9v0.9h-0.9zM117.8 328.9h0.9v0.9h-0.9zM118.4 328.9h0.9v0.9h-0.9zM118.0 328.2h0.9v0.9h-0.9zM124.6 326.6h0.9v0.9h-0.9zM125.1 326.9h0.9v0.9h-0.9zM125.0 327.0h0.9v0.9h-0.9zM124.6 326.3h0.9v0.9h-0.9zM125.1 326.1h0.9v0.9h-0.9zM125.3 326.4h0.9v0.9h-0.9zM124.8 326.9h0.9v0.9h-0.9zM125.1 326.2h0.9v0.9h-0.9zM124.8 326.4h0.9v0.9h-0.9zM118.5 327.0h0.9v0.9h-0.9zM123.8 324.6h0.9v0.9h-0.9zM124.2 328.8h0.9v0.9h-0.9zM118.1 327.9h0.9v0.9h-0.9zM124.5 328.1h0.9v0.9h-0.9zM123.8 328.8h0.9v0.9h-0.9zM124.2 324.7h0.9v0.9h-0.9zM123.5 324.5h0.9v0.9h-0.9zM124.1 328.8h0.9v0.9h-0.9zM123.8 328.2h0.9v0.9h-0.9zM124.3 328.9h0.9v0.9h-0.9zM124.2 324.8h0.9v0.9h-0.9zM124.0 328.2h0.9v0.9h-0.9zM123.8 324.8h0.9v0.9h-0.9zM118.0 327.8h0.9v0.9h-0.9zM124.2 328.1h0.9v0.9h-0.9zM123.6 328.6h0.9v0.9h-0.9zM124.3 324.6h0.9v0.9h-0.9zM121.7 322.4h0.9v0.9h-0.9zM122.2 322.4h0.9v0.9h-0.9zM121.9 322.0h0.9v0.9h-0.9zM121.7 322.7h0.9v0.9h-0.9zM122.0 322.7h0.9v0.9h-0.9zM121.9 322.0h0.9v0.9h-0.9zM122.1 322.8h0.9v0.9h-0.9zM121.8 322.7h0.9v0.9h-0.9zM121.7 322.5h0.9v0.9h-0.9zM122.4 322.3h0.9v0.9h-0.9zM121.8 322.3h0.9v0.9h-0.9zM121.8 322.9h0.9v0.9h-0.9z" fill="rgb(25,197,174)" fill-opacity="1"/>
<path d="M119.3 329.8h0.9v0.9h-0.9zM119.3 329.8h0.9v0.9h-0.9zM118.9 329.3h0.9v0.9h-0.9zM118.6 329.7h0.9v0.9h-0.9zM119.2 329.6h0.9v0.9h-0.9zM119.4 329.6h0.9v0.9h-0.9zM118.7 329.6h0.9v0.9h-0.9zM118.8 329.7h0.9v0.9h-0.9zM118.7 323.7h0.9v0.9h-0.9zM119.3 323.1h0.9v0.9h-0.9zM119.3 323.5h0.9v0.9h-0.9zM123.7 327.3h0.9v0.9h-0.9zM120.5 323.4h0.9v0.9h-0.9zM119.3 328.1h0.9v0.9h-0.9zM119.3 328.1h0.9v0.9h-0.9zM118.7 328.0h0.9v0.9h-0.9zM123.9 327.4h0.9v0.9h-0.9zM123.9 327.8h0.9v0.9h-0.9zM119.3 328.2h0.9v0.9h-0.9zM124.2 327.5h0.9v0.9h-0.9zM123.5 327.3h0.9v0.9h-0.9zM120.2 323.9h0.9v0.9h-0.9zM119.1 328.1h0.9v0.9h-0.9zM120.2 323.8h0.9v0.9h-0.9zM124.1 327.3h0.9v0.9h-0.9zM119.1 328.0h0.9v0.9h-0.9zM124.4 327.1h0.9v0.9h-0.9zM119.6 323.7h0.9v0.9h-0.9zM124.2 327.6h0.9v0.9h-0.9zM123.9 327.7h0.9v0.9h-0.9zM123.7 327.6h0.9v0.9h-0.9zM123.7 327.6h0.9v0.9h-0.9zM119.0 328.3h0.9v0.9h-0.9zM124.0 327.4h0.9v0.9h-0.9zM119.8 323.8h0.9v0.9h-0.9zM124.4 327.5h0.9v0.9h-0.9zM123.7 327.0h0.9v0.9h-0.9zM118.4 326.1h0.9v0.9h-0.9zM118.2 326.6h0.9v0.9h-0.9zM118.2 326.5h0.9v0.9h-0.9zM118.1 326.8h0.9v0.9h-0.9zM118.4 326.8h0.9v0.9h-0.9zM117.9 326.2h0.9v0.9h-0.9zM117.7 327.0h0.9v0.9h-0.9zM118.0 326.7h0.9v0.9h-0.9zM118.3 326.4h0.9v0.9h-0.9zM117.6 327.0h0.9v0.9h-0.9zM118.0 326.8h0.9v0.9h-0.9zM122.9 329.0h0.9v0.9h-0.9zM122.2 323.6h0.9v0.9h-0.9zM123.3 329.8h0.9v0.9h-0.9zM121.7 323.5h0.9v0.9h-0.9zM122.5 323.6h0.9v0.9h-0.9zM123.1 329.9h0.9v0.9h-0.9zM122.4 323.1h0.9v0.9h-0.9zM123.4 329.3h0.9v0.9h-0.9zM122.2 323.9h0.9v0.9h-0.9zM121.7 323.5h0.9v0.9h-0.9zM121.7 323.0h0.9v0.9h-0.9zM121.8 323.4h0.9v0.9h-0.9zM122.8 329.3h0.9v0.9h-0.9zM121.7 324.0h0.9v0.9h-0.9zM122.5 329.9h0.9v0.9h-0.9zM121.6 323.3h0.9v0.9h-0.9zM122.3 323.2h0.9v0.9h-0.9zM121.5 323.4h0.9v0.9h-0.9zM123.3 329.4h0.9v0.9h-0.9zM123.2 329.2h0.9v0.9h-0.9zM122.6 329.2h0.9v0.9h-0.9zM120.6 323.9h0.9v0.9h-0.9zM121.3 323.9h0.9v0.9h-0.9zM121.4 323.1h0.9v0.9h-0.9zM121.3 323.1h0.9v0.9h-0.9zM121.4 323.4h0.9v0.9h-0.9zM121.2 330.3h0.9v0.9h-0.9zM120.1 330.1h0.9v0.9h-0.9zM120.4 330.9h0.9v0.9h-0.9zM121.3 330.1h0.9v0.9h-0.9zM120.7 330.3h0.9v0.9h-0.9zM120.5 330.4h0.9v0.9h-0.9zM119.5 330.5h0.9v0.9h-0.9zM119.7 330.5h0.9v0.9h-0.9zM119.5 330.3h0.9v0.9h-0.9zM121.0 330.2h0.9v0.9h-0.9zM120.8 330.3h0.9v0.9h-0.9zM121.3 330.7h0.9v0.9h-0.9zM119.6 330.5h0.9v0.9h-0.9zM121.3 330.9h0.9v0.9h-0.9zM121.1 330.2h0.9v0.9h-0.9zM120.2 330.4h0.9v0.9h-0.9zM121.0 331.0h0.9v0.9h-0.9zM120.5 330.7h0.9v0.9h-0.9zM120.1 330.8h0.9v0.9h-0.9zM120.1 330.5h0.9v0.9h-0.9zM121.2 330.5h0.9v0.9h-0.9zM120.9 330.5h0.9v0.9h-0.9zM120.9 331.0h0.9v0.9h-0.9zM120.8 330.7h0.9v0.9h-0.9zM119.9 330.7h0.9v0.9h-0.9zM121.3 330.4h0.9v0.9h-0.9zM120.1 331.0h0.9v0.9h-0.9zM120.4 330.9h0.9v0.9h-0.9zM120.6 330.7h0.9v0.9h-0.9zM120.2 330.2h0.9v0.9h-0.9zM120.9 330.5h0.9v0.9h-0.9zM120.4 330.3h0.9v0.9h-0.9zM120.4 331.0h0.9v0.9h-0.9zM118.2 324.5h0.9v0.9h-0.9zM118.0 324.9h0.9v0.9h-0.9zM118.0 324.4h0.9v0.9h-0.9zM118.1 324.6h0.9v0.9h-0.9zM118.1 324.9h0.9v0.9h-0.9zM118.1 324.3h0.9v0.9h-0.9zM117.8 324.6h0.9v0.9h-0.9zM118.0 324.9h0.9v0.9h-0.9zM118.0 324.5h0.9v0.9h-0.9z" fill="rgb(31,202,129)" fill-opacity="1"/>
<path d="M123.0 327.9h0.9v0.9h-0.9zM122.7 327.2h0.9v0.9h-0.9zM123.1 327.6h0.9v0.9h-0.9zM123.1 327.4h0.9v0.9h-0.9zM122.6 324.7h0.9v0.9h-0.9zM124.1 325.3h0.9v0.9h-0.9zM123.4 324.6h0.9v0.9h-0.9zM124.1 325.4h0.9v0.9h-0.9zM123.9 325.9h0.9v0.9h-0.9zM120.3 329.4h0.9v0.9h-0.9zM124.5 325.0h0.9v0.9h-0.9zM123.2 324.1h0.9v0.9h-0.9zM120.2 329.4h0.9v0.9h-0.9zM123.4 324.7h0.9v0.9h-0.9zM119.7 329.7h0.9v0.9h-0.9zM123.5 324.5h0.9v0.9h-0.9zM123.7 325.7h0.9v0.9h-0.9zM122.6 324.1h0.9v0.9h-0.9zM119.5 329.7h0.9v0.9h-0.9zM120.4 329.4h0.9v0.9h-0.9zM124.0 325.2h0.9v0.9h-0.9zM123.3 324.1h0.9v0.9h-0.9zM123.7 326.9h0.9v0.9h-0.9zM123.6 326.9h0.9v0.9h-0.9zM124.5 326.8h0.9v0.9h-0.9zM123.5 326.4h0.9v0.9h-0.9zM123.8 326.4h0.9v0.9h-0.9zM123.7 326.2h0.9v0.9h-0.9zM123.9 326.2h0.9v0.9h-0.9zM123.9 326.7h0.9v0.9h-0.9zM124.5 326.6h0.9v0.9h-0.9zM124.2 326.0h0.9v0.9h-0.9zM123.8 326.2h0.9v0.9h-0.9zM123.9 326.7h0.9v0.9h-0.9zM124.0 326.8h0.9v0.9h-0.9zM124.3 326.4h0.9v0.9h-0.9zM123.7 326.6h0.9v0.9h-0.9zM123.3 328.2h0.9v0.9h-0.9zM122.6 328.2h0.9v0.9h-0.9zM123.3 328.1h0.9v0.9h-0.9zM122.7 329.0h0.9v0.9h-0.9zM122.6 328.8h0.9v0.9h-0.9zM123.2 328.6h0.9v0.9h-0.9zM123.2 328.6h0.9v0.9h-0.9zM123.2 328.1h0.9v0.9h-0.9zM123.2 328.9h0.9v0.9h-0.9zM123.5 328.8h0.9v0.9h-0.9zM118.0 325.9h0.9v0.9h-0.9zM118.0 325.0h0.9v0.9h-0.9zM117.9 325.6h0.9v0.9h-0.9zM117.7 325.5h0.9v0.9h-0.9zM117.8 325.9h0.9v0.9h-0.9zM118.2 325.5h0.9v0.9h-0.9zM118.4 325.6h0.9v0.9h-0.9zM117.8 325.4h0.9v0.9h-0.9zM118.0 325.1h0.9v0.9h-0.9zM122.2 329.2h0.9v0.9h-0.9zM121.8 329.5h0.9v0.9h-0.9zM121.6 329.1h0.9v0.9h-0.9zM122.3 329.9h0.9v0.9h-0.9zM122.0 329.3h0.9v0.9h-0.9zM121.9 329.3h0.9v0.9h-0.9zM121.6 329.5h0.9v0.9h-0.9zM122.2 329.2h0.9v0.9h-0.9zM121.7 329.3h0.9v0.9h-0.9zM121.5 329.2h0.9v0.9h-0.9zM121.6 329.9h0.9v0.9h-0.9zM122.1 329.4h0.9v0.9h-0.9zM121.7 329.5h0.9v0.9h-0.9zM122.4 329.9h0.9v0.9h-0.9zM122.1 329.2h0.9v0.9h-0.9zM122.1 329.9h0.9v0.9h-0.9zM120.0 328.2h0.9v0.9h-0.9zM120.1 328.8h0.9v0.9h-0.9zM119.8 328.7h0.9v0.9h-0.9zM120.0 328.2h0.9v0.9h-0.9zM120.3 328.1h0.9v0.9h-0.9zM120.1 328.1h0.9v0.9h-0.9zM120.0 328.7h0.9v0.9h-0.9zM119.6 328.3h0.9v0.9h-0.9zM120.2 328.3h0.9v0.9h-0.9zM120.1 328.0h0.9v0.9h-0.9zM120.2 328.4h0.9v0.9h-0.9zM120.3 328.4h0.9v0.9h-0.9zM120.4 328.1h0.9v0.9h-0.9zM120.2 328.8h0.9v0.9h-0.9zM120.2 328.5h0.9v0.9h-0.9zM119.8 328.7h0.9v0.9h-0.9zM119.3 327.7h0.9v0.9h-0.9zM119.5 327.9h0.9v0.9h-0.9zM119.1 327.3h0.9v0.9h-0.9zM118.6 327.9h0.9v0.9h-0.9zM119.4 327.9h0.9v0.9h-0.9zM118.5 327.9h0.9v0.9h-0.9zM119.0 328.0h0.9v0.9h-0.9zM119.1 327.9h0.9v0.9h-0.9zM118.8 327.4h0.9v0.9h-0.9zM119.3 327.7h0.9v0.9h-0.9zM118.7 327.3h0.9v0.9h-0.9zM119.3 327.9h0.9v0.9h-0.9zM118.9 327.6h0.9v0.9h-0.9zM119.1 327.3h0.9v0.9h-0.9zM119.5 327.3h0.9v0.9h-0.9zM119.0 327.2h0.9v0.9h-0.9zM119.3 327.3h0.9v0.9h-0.9zM119.3 327.3h0.9v0.9h-0.9zM118.5 327.5h0.9v0.9h-0.9zM122.7 326.1h0.9v0.9h-0.9zM122.8 326.7h0.9v0.9h-0.9zM122.9 326.5h0.9v0.9h-0.9zM121.3 329.1h0.9v0.9h-0.9zM123.4 326.1h0.9v0.9h-0.9zM120.6 329.3h0.9v0.9h-0.9zM123.1 326.5h0.9v0.9h-0.9zM121.3 329.4h0.9v0.9h-0.9zM120.7 329.2h0.9v0.9h-0.9zM123.4 326.2h0.9v0.9h-0.9zM121.0 329.8h0.9v0.9h-0.9zM123.3 326.6h0.9v0.9h-0.9zM122.8 326.2h0.9v0.9h-0.9zM123.3 326.3h0.9v0.9h-0.9zM122.9 326.4h0.9v0.9h-0.9zM121.2 329.5h0.9v0.9h-0.9zM123.3 326.1h0.9v0.9h-0.9zM120.8 329.7h0.9v0.9h-0.9zM122.8 326.7h0.9v0.9h-0.9zM120.8 329.1h0.9v0.9h-0.9zM123.3 326.5h0.9v0.9h-0.9zM121.0 329.4h0.9v0.9h-0.9zM121.4 329.4h0.9v0.9h-0.9zM121.2 329.6h0.9v0.9h-0.9z" fill="rgb(39,204,83)" fill-opacity="1"/>
<path d="M121.6 327.8h0.9v0.9h-0.9zM122.4 327.4h0.9v0.9h-0.9zM122.1 327.8h0.9v0.9h-0.9zM121.7 327.2h0.9v0.9h-0.9zM121.6 327.3h0.9v0.9h-0.9zM122.2 327.5h0.9v0.9h-0.9zM121.8 327.3h0.9v0.9h-0.9zM122.5 327.9h0.9v0.9h-0.9zM121.8 327.7h0.9v0.9h-0.9zM123.0 325.1h0.9v0.9h-0.9zM123.0 325.6h0.9v0.9h-0.9zM122.8 325.7h0.9v0.9h-0.9zM122.5 325.5h0.9v0.9h-0.9zM123.4 325.8h0.9v0.9h-0.9zM122.7 326.0h0.9v0.9h-0.9zM123.3 325.5h0.9v0.9h-0.9zM122.5 325.0h0.9v0.9h-0.9zM122.5 325.6h0.9v0.9h-0.9zM123.0 325.9h0.9v0.9h-0.9zM123.3 325.4h0.9v0.9h-0.9zM122.5 325.3h0.9v0.9h-0.9zM122.6 325.5h0.9v0.9h-0.9zM122.8 325.8h0.9v0.9h-0.9zM121.3 328.6h0.9v0.9h-0.9zM121.4 328.0h0.9v0.9h-0.9zM120.5 328.6h0.9v0.9h-0.9zM121.3 328.8h0.9v0.9h-0.9zM121.4 329.0h0.9v0.9h-0.9zM121.1 328.4h0.9v0.9h-0.9zM121.4 328.4h0.9v0.9h-0.9zM121.6 328.3h0.9v0.9h-0.9zM122.4 328.5h0.9v0.9h-0.9zM122.3 328.3h0.9v0.9h-0.9zM122.4 328.5h0.9v0.9h-0.9zM122.3 328.7h0.9v0.9h-0.9zM122.2 328.1h0.9v0.9h-0.9zM122.1 328.5h0.9v0.9h-0.9zM121.8 328.8h0.9v0.9h-0.9zM121.9 328.8h0.9v0.9h-0.9zM122.5 328.1h0.9v0.9h-0.9zM121.8 328.3h0.9v0.9h-0.9zM122.3 328.1h0.9v0.9h-0.9zM122.1 328.2h0.9v0.9h-0.9zM121.5 328.5h0.9v0.9h-0.9zM121.8 328.1h0.9v0.9h-0.9zM121.9 328.8h0.9v0.9h-0.9zM122.2 328.7h0.9v0.9h-0.9zM122.4 324.3h0.9v0.9h-0.9zM121.9 325.0h0.9v0.9h-0.9zM122.4 324.4h0.9v0.9h-0.9zM122.3 324.9h0.9v0.9h-0.9zM122.2 324.9h0.9v0.9h-0.9zM122.1 324.7h0.9v0.9h-0.9zM122.0 324.6h0.9v0.9h-0.9zM121.5 324.6h0.9v0.9h-0.9zM121.6 324.9h0.9v0.9h-0.9zM122.1 324.3h0.9v0.9h-0.9zM122.4 324.6h0.9v0.9h-0.9zM122.5 324.3h0.9v0.9h-0.9zM121.6 324.2h0.9v0.9h-0.9zM121.9 324.8h0.9v0.9h-0.9zM120.2 327.9h0.9v0.9h-0.9zM120.4 327.4h0.9v0.9h-0.9zM120.4 327.2h0.9v0.9h-0.9zM120.4 327.9h0.9v0.9h-0.9zM119.9 327.3h0.9v0.9h-0.9zM120.1 327.7h0.9v0.9h-0.9zM120.3 327.9h0.9v0.9h-0.9zM120.2 328.0h0.9v0.9h-0.9zM119.6 327.9h0.9v0.9h-0.9zM120.1 327.3h0.9v0.9h-0.9zM120.1 327.4h0.9v0.9h-0.9zM119.6 327.9h0.9v0.9h-0.9zM120.4 327.6h0.9v0.9h-0.9zM120.3 327.3h0.9v0.9h-0.9zM119.1 324.2h0.9v0.9h-0.9zM119.4 325.0h0.9v0.9h-0.9zM119.2 324.1h0.9v0.9h-0.9zM119.3 324.6h0.9v0.9h-0.9zM118.9 324.3h0.9v0.9h-0.9zM119.5 324.7h0.9v0.9h-0.9zM118.9 324.8h0.9v0.9h-0.9zM119.3 324.5h0.9v0.9h-0.9zM118.7 324.7h0.9v0.9h-0.9zM118.9 324.3h0.9v0.9h-0.9zM119.4 325.0h0.9v0.9h-0.9zM118.6 324.1h0.9v0.9h-0.9zM119.1 324.9h0.9v0.9h-0.9z" fill="rgb(91,212,56)" fill-opacity="1"/>
<path d="M121.5 326.4h0.9v0.9h-0.9zM122.4 327.0h0.9v0.9h-0.9zM122.3 327.0h0.9v0.9h-0.9zM122.3 326.2h0.9v0.9h-0.9zM121.9 326.4h0.9v0.9h-0.9zM121.8 326.6h0.9v0.9h-0.9zM121.6 326.7h0.9v0.9h-0.9zM122.1 326.2h0.9v0.9h-0.9zM122.0 326.6h0.9v0.9h-0.9zM122.4 326.3h0.9v0.9h-0.9zM122.2 326.6h0.9v0.9h-0.9zM121.6 326.3h0.9v0.9h-0.9zM122.5 326.7h0.9v0.9h-0.9zM121.7 326.7h0.9v0.9h-0.9zM121.8 326.1h0.9v0.9h-0.9zM122.4 326.4h0.9v0.9h-0.9zM121.7 326.9h0.9v0.9h-0.9zM121.5 327.2h0.9v0.9h-0.9zM121.4 327.3h0.9v0.9h-0.9zM120.6 327.4h0.9v0.9h-0.9zM121.4 327.6h0.9v0.9h-0.9zM120.7 327.6h0.9v0.9h-0.9zM120.7 327.7h0.9v0.9h-0.9zM121.1 327.1h0.9v0.9h-0.9zM121.3 327.3h0.9v0.9h-0.9zM120.8 327.1h0.9v0.9h-0.9zM121.5 328.0h0.9v0.9h-0.9zM120.9 327.7h0.9v0.9h-0.9zM120.8 327.4h0.9v0.9h-0.9zM120.9 328.0h0.9v0.9h-0.9zM119.2 326.2h0.9v0.9h-0.9zM118.8 326.1h0.9v0.9h-0.9zM118.8 326.4h0.9v0.9h-0.9zM119.3 326.5h0.9v0.9h-0.9zM119.3 327.0h0.9v0.9h-0.9zM118.6 326.3h0.9v0.9h-0.9zM119.3 326.5h0.9v0.9h-0.9zM118.8 326.2h0.9v0.9h-0.9zM118.5 326.1h0.9v0.9h-0.9zM118.5 326.7h0.9v0.9h-0.9zM118.7 326.4h0.9v0.9h-0.9zM118.6 327.0h0.9v0.9h-0.9zM118.8 326.3h0.9v0.9h-0.9zM120.9 324.1h0.9v0.9h-0.9zM120.6 324.9h0.9v0.9h-0.9zM120.5 324.6h0.9v0.9h-0.9zM121.4 324.8h0.9v0.9h-0.9zM121.3 324.6h0.9v0.9h-0.9zM120.9 324.1h0.9v0.9h-0.9zM121.2 324.5h0.9v0.9h-0.9zM120.9 324.2h0.9v0.9h-0.9zM120.7 324.6h0.9v0.9h-0.9zM120.2 324.7h0.9v0.9h-0.9zM120.2 324.4h0.9v0.9h-0.9zM119.6 324.4h0.9v0.9h-0.9zM120.1 324.8h0.9v0.9h-0.9zM120.2 324.5h0.9v0.9h-0.9zM120.0 324.1h0.9v0.9h-0.9zM120.1 324.9h0.9v0.9h-0.9zM119.6 324.9h0.9v0.9h-0.9zM120.2 324.6h0.9v0.9h-0.9zM119.9 324.7h0.9v0.9h-0.9zM120.2 324.8h0.9v0.9h-0.9zM119.8 324.2h0.9v0.9h-0.9zM119.8 324.0h0.9v0.9h-0.9z" fill="rgb(147,219,31)" fill-opacity="1"/>
<path d="M122.2 325.9h0.9v0.9h-0.9zM122.0 325.3h0.9v0.9h-0.9zM121.7 325.0h0.9v0.9h-0.9zM121.7 325.5h0.9v0.9h-0.9zM122.1 325.5h0.9v0.9h-0.9zM121.9 325.5h0.9v0.9h-0.9zM122.1 325.3h0.9v0.9h-0.9zM122.4 325.5h0.9v0.9h-0.9zM121.8 325.6h0.9v0.9h-0.9zM121.6 325.3h0.9v0.9h-0.9zM122.3 325.8h0.9v0.9h-0.9zM121.6 325.3h0.9v0.9h-0.9zM121.7 325.4h0.9v0.9h-0.9zM119.2 325.9h0.9v0.9h-0.9zM119.2 325.6h0.9v0.9h-0.9zM119.0 325.9h0.9v0.9h-0.9zM119.4 325.4h0.9v0.9h-0.9zM119.2 325.8h0.9v0.9h-0.9zM118.7 325.7h0.9v0.9h-0.9zM119.2 325.8h0.9v0.9h-0.9zM118.5 325.2h0.9v0.9h-0.9zM118.8 325.9h0.9v0.9h-0.9zM119.4 325.6h0.9v0.9h-0.9zM119.4 325.6h0.9v0.9h-0.9zM119.1 325.6h0.9v0.9h-0.9zM119.4 325.4h0.9v0.9h-0.9zM119.0 326.0h0.9v0.9h-0.9zM119.0 325.0h0.9v0.9h-0.9zM119.5 325.6h0.9v0.9h-0.9zM120.3 326.7h0.9v0.9h-0.9zM119.6 326.0h0.9v0.9h-0.9zM120.3 326.0h0.9v0.9h-0.9zM120.4 326.7h0.9v0.9h-0.9zM120.2 326.1h0.9v0.9h-0.9zM120.1 326.2h0.9v0.9h-0.9zM119.8 326.4h0.9v0.9h-0.9zM119.7 326.1h0.9v0.9h-0.9zM119.7 326.3h0.9v0.9h-0.9zM119.6 326.3h0.9v0.9h-0.9zM119.6 326.4h0.9v0.9h-0.9zM120.1 326.7h0.9v0.9h-0.9zM120.3 326.3h0.9v0.9h-0.9zM119.8 326.1h0.9v0.9h-0.9zM119.6 326.3h0.9v0.9h-0.9zM119.7 326.5h0.9v0.9h-0.9zM119.7 326.1h0.9v0.9h-0.9zM120.0 326.6h0.9v0.9h-0.9zM119.5 326.1h0.9v0.9h-0.9zM120.7 326.2h0.9v0.9h-0.9zM120.8 326.7h0.9v0.9h-0.9zM121.3 326.4h0.9v0.9h-0.9zM120.5 326.8h0.9v0.9h-0.9zM120.5 326.0h0.9v0.9h-0.9zM121.0 326.5h0.9v0.9h-0.9zM120.7 327.0h0.9v0.9h-0.9zM121.0 326.2h0.9v0.9h-0.9zM120.8 326.9h0.9v0.9h-0.9zM121.5 327.0h0.9v0.9h-0.9zM121.4 327.0h0.9v0.9h-0.9zM121.5 326.3h0.9v0.9h-0.9zM121.0 326.6h0.9v0.9h-0.9zM120.7 326.2h0.9v0.9h-0.9zM121.2 326.2h0.9v0.9h-0.9zM120.9 326.3h0.9v0.9h-0.9zM121.1 327.0h0.9v0.9h-0.9zM121.3 326.7h0.9v0.9h-0.9zM120.8 326.3h0.9v0.9h-0.9zM121.0 326.2h0.9v0.9h-0.9zM121.3 326.1h0.9v0.9h-0.9zM120.7 326.1h0.9v0.9h-0.9zM120.6 326.6h0.9v0.9h-0.9zM121.2 326.8h0.9v0.9h-0.9zM121.5 326.3h0.9v0.9h-0.9zM120.7 326.9h0.9v0.9h-0.9zM121.5 326.6h0.9v0.9h-0.9zM121.3 326.2h0.9v0.9h-0.9zM120.8 326.5h0.9v0.9h-0.9z" fill="rgb(231,215,21)" fill-opacity="1"/>
<path d="M121.0 325.5h0.9v0.9h-0.9zM120.9 325.4h0.9v0.9h-0.9zM121.2 325.7h0.9v0.9h-0.9zM120.9 325.5h0.9v0.9h-0.9zM120.9 325.7h0.9v0.9h-0.9zM121.1 325.4h0.9v0.9h-0.9zM121.2 325.9h0.9v0.9h-0.9zM121.4 325.3h0.9v0.9h-0.9zM121.0 325.8h0.9v0.9h-0.9zM121.0 325.8h0.9v0.9h-0.9zM120.8 325.6h0.9v0.9h-0.9zM121.1 325.9h0.9v0.9h-0.9zM121.5 325.8h0.9v0.9h-0.9zM121.2 326.0h0.9v0.9h-0.9zM120.6 325.8h0.9v0.9h-0.9zM121.3 325.0h0.9v0.9h-0.9zM121.5 325.2h0.9v0.9h-0.9zM120.8 325.2h0.9v0.9h-0.9zM121.5 325.7h0.9v0.9h-0.9zM119.8 325.9h0.9v0.9h-0.9zM119.8 325.1h0.9v0.9h-0.9zM119.6 326.0h0.9v0.9h-0.9zM119.9 325.1h0.9v0.9h-0.9zM119.7 325.5h0.9v0.9h-0.9zM120.3 325.0h0.9v0.9h-0.9zM120.4 325.3h0.9v0.9h-0.9zM120.2 325.7h0.9v0.9h-0.9zM120.4 325.2h0.9v0.9h-0.9zM120.4 325.5h0.9v0.9h-0.9zM120.3 325.5h0.9v0.9h-0.9zM120.1 325.6h0.9v0.9h-0.9zM120.0 325.8h0.9v0.9h-0.9zM120.2 325.1h0.9v0.9h-0.9zM120.1 325.1h0.9v0.9h-0.9zM120.2 325.2h0.9v0.9h-0.9zM120.0 325.5h0.9v0.9h-0.9zM119.6 326.0h0.9v0.9h-0.9zM120.1 325.8h0.9v0.9h-0.9z" fill="rgb(225,45,20)" fill-opacity="1"/>
<rect x="135.1" y="295.2" width="26.60" height="21.30" fill="none" stroke="#333" stroke-width="0.9"/>
<rect x="172.4" y="286.5" width="64.60" height="65.10" fill="#fff" stroke="#c8c8c8" stroke-width="0.9"/>
<path d="M227.6 345.5h0.9v0.9h-0.9z" fill="rgb(150,160,245)" fill-opacity="0.45"/>
<path d="M174.7 315.5h0.9v0.9h-0.9zM231.7 300.4h0.9v0.9h-0.9zM227.5 312.2h0.9v0.9h-0.9zM229.6 337.8h0.9v0.9h-0.9zM223.5 298.4h0.9v0.9h-0.9zM229.7 304.1h0.9v0.9h-0.9zM209.6 303.1h0.9v0.9h-0.9zM233.9 327.9h0.9v0.9h-0.9zM235.8 334.6h0.9v0.9h-0.9zM185.5 290.6h0.9v0.9h-0.9zM216.6 339.2h0.9v0.9h-0.9zM211.7 345.7h0.9v0.9h-0.9zM185.4 295.4h0.9v0.9h-0.9zM193.5 298.4h0.9v0.9h-0.9zM184.3 325.5h0.9v0.9h-0.9zM235.8 339.8h0.9v0.9h-0.9zM229.5 314.8h0.9v0.9h-0.9zM233.9 317.2h0.9v0.9h-0.9zM186.5 346.6h0.9v0.9h-0.9zM208.7 292.4h0.9v0.9h-0.9zM227.7 308.4h0.9v0.9h-0.9zM216.5 294.9h0.9v0.9h-0.9zM213.7 289.0h0.9v0.9h-0.9zM231.6 310.0h0.9v0.9h-0.9zM226.8 316.2h0.9v0.9h-0.9zM224.8 304.6h0.9v0.9h-0.9zM193.5 313.1h0.9v0.9h-0.9zM218.8 337.3h0.9v0.9h-0.9zM183.5 336.6h0.9v0.9h-0.9zM230.2 340.5h0.9v0.9h-0.9zM215.5 337.4h0.9v0.9h-0.9zM212.6 329.1h0.9v0.9h-0.9zM209.7 301.2h0.9v0.9h-0.9zM209.6 304.6h0.9v0.9h-0.9zM224.4 315.2h0.9v0.9h-0.9zM212.8 330.2h0.9v0.9h-0.9zM210.7 332.3h0.9v0.9h-0.9zM233.9 331.4h0.9v0.9h-0.9zM181.6 302.5h0.9v0.9h-0.9zM227.0 326.0h0.9v0.9h-0.9zM202.9 318.0h0.9v0.9h-0.9zM221.9 320.9h0.9v0.9h-0.9zM215.4 313.8h0.9v0.9h-0.9zM227.1 304.8h0.9v0.9h-0.9zM210.2 327.3h0.9v0.9h-0.9zM185.2 337.9h0.9v0.9h-0.9zM182.7 335.3h0.9v0.9h-0.9zM233.6 332.4h0.9v0.9h-0.9zM215.9 335.0h0.9v0.9h-0.9zM194.7 305.0h0.9v0.9h-0.9zM181.4 335.7h0.9v0.9h-0.9zM229.0 328.6h0.9v0.9h-0.9zM181.4 333.6h0.9v0.9h-0.9zM235.0 333.0h0.9v0.9h-0.9zM216.1 306.4h0.9v0.9h-0.9zM182.1 314.3h0.9v0.9h-0.9zM175.9 320.0h0.9v0.9h-0.9zM176.1 299.6h0.9v0.9h-0.9zM218.2 310.9h0.9v0.9h-0.9zM212.3 348.0h0.9v0.9h-0.9zM193.0 340.3h0.9v0.9h-0.9zM178.5 334.3h0.9v0.9h-0.9zM201.3 297.0h0.9v0.9h-0.9zM202.4 324.5h0.9v0.9h-0.9zM192.9 293.0h0.9v0.9h-0.9zM186.4 296.9h0.9v0.9h-0.9zM208.9 307.0h0.9v0.9h-0.9zM222.2 304.3h0.9v0.9h-0.9zM216.3 311.8h0.9v0.9h-0.9zM233.1 312.1h0.9v0.9h-0.9zM223.5 315.7h0.9v0.9h-0.9zM214.9 303.2h0.9v0.9h-0.9zM207.1 302.8h0.9v0.9h-0.9zM220.8 303.5h0.9v0.9h-0.9zM174.5 313.0h0.9v0.9h-0.9zM211.0 298.5h0.9v0.9h-0.9zM216.0 301.3h0.9v0.9h-0.9zM178.9 338.9h0.9v0.9h-0.9zM224.3 302.6h0.9v0.9h-0.9zM180.2 330.4h0.9v0.9h-0.9zM191.8 289.6h0.9v0.9h-0.9zM224.3 328.7h0.9v0.9h-0.9zM201.7 321.7h0.9v0.9h-0.9zM174.3 338.6h0.9v0.9h-0.9zM202.3 295.5h0.9v0.9h-0.9zM219.9 291.3h0.9v0.9h-0.9zM211.3 305.9h0.9v0.9h-0.9zM225.7 311.8h0.9v0.9h-0.9zM174.7 335.8h0.9v0.9h-0.9zM221.1 294.2h0.9v0.9h-0.9zM223.3 312.5h0.9v0.9h-0.9zM225.9 294.5h0.9v0.9h-0.9zM183.3 295.9h0.9v0.9h-0.9zM218.7 297.0h0.9v0.9h-0.9zM176.0 347.9h0.9v0.9h-0.9zM220.9 330.2h0.9v0.9h-0.9zM176.8 347.1h0.9v0.9h-0.9zM218.8 305.6h0.9v0.9h-0.9zM220.2 306.7h0.9v0.9h-0.9zM219.0 298.4h0.9v0.9h-0.9zM184.8 318.5h0.9v0.9h-0.9zM184.6 304.5h0.9v0.9h-0.9zM184.8 297.5h0.9v0.9h-0.9zM213.9 338.6h0.9v0.9h-0.9zM188.4 294.1h0.9v0.9h-0.9zM220.2 335.8h0.9v0.9h-0.9zM200.6 324.4h0.9v0.9h-0.9zM183.1 315.8h0.9v0.9h-0.9zM216.7 330.6h0.9v0.9h-0.9zM204.0 330.3h0.9v0.9h-0.9zM216.9 331.0h0.9v0.9h-0.9zM213.8 331.7h0.9v0.9h-0.9zM188.3 292.9h0.9v0.9h-0.9zM197.4 323.9h0.9v0.9h-0.9zM183.4 322.7h0.9v0.9h-0.9zM219.1 331.0h0.9v0.9h-0.9zM227.5 331.9h0.9v0.9h-0.9zM223.9 335.0h0.9v0.9h-0.9zM230.7 332.5h0.9v0.9h-0.9zM226.6 334.3h0.9v0.9h-0.9zM213.4 337.3h0.9v0.9h-0.9zM203.6 330.0h0.9v0.9h-0.9zM192.7 320.4h0.9v0.9h-0.9zM184.3 322.8h0.9v0.9h-0.9zM229.1 339.8h0.9v0.9h-0.9zM226.7 334.4h0.9v0.9h-0.9zM225.9 330.8h0.9v0.9h-0.9zM187.6 289.9h0.9v0.9h-0.9zM195.4 343.4h0.9v0.9h-0.9zM217.9 314.3h0.9v0.9h-0.9zM218.5 332.6h0.9v0.9h-0.9zM224.2 309.8h0.9v0.9h-0.9zM183.7 307.5h0.9v0.9h-0.9zM184.2 304.2h0.9v0.9h-0.9zM201.1 327.8h0.9v0.9h-0.9zM192.4 297.9h0.9v0.9h-0.9zM224.0 309.3h0.9v0.9h-0.9zM218.0 313.4h0.9v0.9h-0.9zM209.0 331.5h0.9v0.9h-0.9zM183.4 300.0h0.9v0.9h-0.9zM230.4 333.4h0.9v0.9h-0.9zM230.9 331.9h0.9v0.9h-0.9zM200.7 327.5h0.9v0.9h-0.9zM199.6 342.2h0.9v0.9h-0.9zM183.7 317.1h0.9v0.9h-0.9zM209.2 317.8h0.9v0.9h-0.9zM213.7 331.7h0.9v0.9h-0.9zM189.3 289.6h0.9v0.9h-0.9zM194.9 341.6h0.9v0.9h-0.9zM199.7 341.9h0.9v0.9h-0.9zM191.4 313.1h0.9v0.9h-0.9zM184.2 302.3h0.9v0.9h-0.9zM221.7 335.1h0.9v0.9h-0.9zM228.3 333.2h0.9v0.9h-0.9zM233.2 335.6h0.9v0.9h-0.9zM210.8 329.9h0.9v0.9h-0.9zM210.1 335.3h0.9v0.9h-0.9zM194.2 301.3h0.9v0.9h-0.9zM228.8 337.0h0.9v0.9h-0.9zM199.5 325.6h0.9v0.9h-0.9zM186.6 337.4h0.9v0.9h-0.9zM200.8 325.9h0.9v0.9h-0.9zM184.8 298.8h0.9v0.9h-0.9zM201.4 329.9h0.9v0.9h-0.9zM185.9 305.9h0.9v0.9h-0.9zM186.5 293.4h0.9v0.9h-0.9zM206.2 342.7h0.9v0.9h-0.9zM231.0 334.6h0.9v0.9h-0.9zM213.0 343.8h0.9v0.9h-0.9zM200.1 325.2h0.9v0.9h-0.9zM194.2 309.1h0.9v0.9h-0.9zM208.3 343.5h0.9v0.9h-0.9zM182.0 331.3h0.9v0.9h-0.9zM224.6 332.4h0.9v0.9h-0.9zM207.1 331.6h0.9v0.9h-0.9zM231.3 334.3h0.9v0.9h-0.9zM194.4 310.1h0.9v0.9h-0.9zM208.7 300.1h0.9v0.9h-0.9zM207.1 331.5h0.9v0.9h-0.9zM224.5 332.4h0.9v0.9h-0.9zM229.4 333.8h0.9v0.9h-0.9zM233.0 335.4h0.9v0.9h-0.9zM212.7 336.6h0.9v0.9h-0.9zM226.6 337.3h0.9v0.9h-0.9zM232.7 330.7h0.9v0.9h-0.9zM215.1 337.9h0.9v0.9h-0.9zM193.7 325.8h0.9v0.9h-0.9zM208.3 343.7h0.9v0.9h-0.9zM184.0 308.3h0.9v0.9h-0.9zM220.4 331.0h0.9v0.9h-0.9zM224.6 331.7h0.9v0.9h-0.9zM182.3 326.9h0.9v0.9h-0.9zM182.0 327.1h0.9v0.9h-0.9zM209.3 299.6h0.9v0.9h-0.9zM186.1 292.8h0.9v0.9h-0.9zM195.2 310.3h0.9v0.9h-0.9zM185.3 314.2h0.9v0.9h-0.9zM190.8 337.6h0.9v0.9h-0.9zM207.6 318.0h0.9v0.9h-0.9zM208.3 318.4h0.9v0.9h-0.9z" fill="rgb(127,142,243)" fill-opacity="0.45"/>
<path d="M223.9 330.8h0.9v0.9h-0.9zM195.9 325.6h0.9v0.9h-0.9zM192.5 309.6h0.9v0.9h-0.9zM199.6 329.0h0.9v0.9h-0.9zM194.0 311.1h0.9v0.9h-0.9zM189.0 297.4h0.9v0.9h-0.9zM215.0 342.4h0.9v0.9h-0.9zM215.1 340.8h0.9v0.9h-0.9zM194.5 322.4h0.9v0.9h-0.9zM194.7 322.3h0.9v0.9h-0.9zM214.5 341.7h0.9v0.9h-0.9zM184.7 301.7h0.9v0.9h-0.9zM196.9 324.9h0.9v0.9h-0.9zM203.4 332.5h0.9v0.9h-0.9zM208.9 331.4h0.9v0.9h-0.9zM228.6 336.1h0.9v0.9h-0.9zM185.0 334.9h0.9v0.9h-0.9zM212.1 333.4h0.9v0.9h-0.9zM228.8 336.3h0.9v0.9h-0.9zM214.7 335.0h0.9v0.9h-0.9zM219.1 334.3h0.9v0.9h-0.9zM193.1 320.9h0.9v0.9h-0.9zM229.0 334.9h0.9v0.9h-0.9zM214.0 334.1h0.9v0.9h-0.9zM213.7 335.7h0.9v0.9h-0.9zM184.4 310.1h0.9v0.9h-0.9zM190.7 298.6h0.9v0.9h-0.9zM221.2 331.6h0.9v0.9h-0.9zM187.9 295.3h0.9v0.9h-0.9zM194.5 323.5h0.9v0.9h-0.9zM192.8 311.3h0.9v0.9h-0.9zM226.8 336.1h0.9v0.9h-0.9zM226.8 333.0h0.9v0.9h-0.9zM212.2 334.3h0.9v0.9h-0.9zM225.9 336.5h0.9v0.9h-0.9zM190.6 293.8h0.9v0.9h-0.9zM205.9 331.6h0.9v0.9h-0.9zM212.6 333.7h0.9v0.9h-0.9zM191.4 293.7h0.9v0.9h-0.9zM232.0 335.2h0.9v0.9h-0.9zM181.9 331.8h0.9v0.9h-0.9zM194.4 323.4h0.9v0.9h-0.9zM183.2 329.2h0.9v0.9h-0.9zM188.3 295.2h0.9v0.9h-0.9zM183.6 308.7h0.9v0.9h-0.9zM225.1 336.7h0.9v0.9h-0.9zM186.7 298.4h0.9v0.9h-0.9zM191.5 298.1h0.9v0.9h-0.9zM221.4 334.6h0.9v0.9h-0.9zM225.1 335.5h0.9v0.9h-0.9zM186.9 307.2h0.9v0.9h-0.9zM196.6 326.1h0.9v0.9h-0.9zM183.5 310.1h0.9v0.9h-0.9zM186.1 304.1h0.9v0.9h-0.9zM186.3 322.9h0.9v0.9h-0.9zM220.9 334.5h0.9v0.9h-0.9zM227.1 332.5h0.9v0.9h-0.9zM185.3 299.8h0.9v0.9h-0.9zM190.1 297.0h0.9v0.9h-0.9zM192.6 295.3h0.9v0.9h-0.9zM185.2 301.3h0.9v0.9h-0.9zM192.9 304.9h0.9v0.9h-0.9zM192.6 295.5h0.9v0.9h-0.9zM185.5 311.0h0.9v0.9h-0.9zM212.4 339.2h0.9v0.9h-0.9zM211.6 344.2h0.9v0.9h-0.9zM202.3 339.7h0.9v0.9h-0.9zM218.3 333.8h0.9v0.9h-0.9zM194.1 325.5h0.9v0.9h-0.9zM218.0 334.4h0.9v0.9h-0.9zM185.9 306.9h0.9v0.9h-0.9zM221.5 334.3h0.9v0.9h-0.9zM202.3 339.8h0.9v0.9h-0.9zM193.9 317.9h0.9v0.9h-0.9zM225.9 336.4h0.9v0.9h-0.9zM212.1 343.5h0.9v0.9h-0.9zM211.9 339.0h0.9v0.9h-0.9zM186.1 315.1h0.9v0.9h-0.9zM201.8 331.8h0.9v0.9h-0.9zM200.1 330.4h0.9v0.9h-0.9zM186.1 315.4h0.9v0.9h-0.9zM188.6 305.3h0.9v0.9h-0.9zM203.5 333.0h0.9v0.9h-0.9zM189.0 336.9h0.9v0.9h-0.9zM186.8 301.1h0.9v0.9h-0.9zM221.4 333.3h0.9v0.9h-0.9zM192.5 301.9h0.9v0.9h-0.9zM210.1 335.7h0.9v0.9h-0.9zM192.6 300.6h0.9v0.9h-0.9zM221.9 332.9h0.9v0.9h-0.9zM192.6 301.5h0.9v0.9h-0.9zM212.7 336.0h0.9v0.9h-0.9zM210.8 343.8h0.9v0.9h-0.9zM197.8 326.8h0.9v0.9h-0.9zM191.6 294.8h0.9v0.9h-0.9zM192.3 294.9h0.9v0.9h-0.9zM191.4 320.8h0.9v0.9h-0.9zM196.7 339.2h0.9v0.9h-0.9zM185.9 300.9h0.9v0.9h-0.9zM191.7 313.8h0.9v0.9h-0.9zM199.7 331.1h0.9v0.9h-0.9zM185.9 316.3h0.9v0.9h-0.9zM205.7 341.5h0.9v0.9h-0.9zM183.9 328.3h0.9v0.9h-0.9zM198.2 327.5h0.9v0.9h-0.9zM186.8 311.2h0.9v0.9h-0.9zM186.8 336.3h0.9v0.9h-0.9zM186.2 312.2h0.9v0.9h-0.9zM214.2 340.6h0.9v0.9h-0.9zM187.5 308.6h0.9v0.9h-0.9zM191.2 298.2h0.9v0.9h-0.9zM187.9 309.2h0.9v0.9h-0.9zM206.3 333.4h0.9v0.9h-0.9zM186.7 301.7h0.9v0.9h-0.9zM193.0 302.5h0.9v0.9h-0.9zM211.1 335.7h0.9v0.9h-0.9zM189.0 300.8h0.9v0.9h-0.9zM206.3 333.6h0.9v0.9h-0.9zM186.2 335.1h0.9v0.9h-0.9zM187.3 311.7h0.9v0.9h-0.9zM185.8 312.6h0.9v0.9h-0.9zM205.7 334.1h0.9v0.9h-0.9zM186.5 300.1h0.9v0.9h-0.9zM223.7 332.5h0.9v0.9h-0.9zM189.1 300.6h0.9v0.9h-0.9zM185.5 311.8h0.9v0.9h-0.9zM191.6 311.2h0.9v0.9h-0.9zM188.0 304.9h0.9v0.9h-0.9zM186.9 300.2h0.9v0.9h-0.9zM228.1 335.9h0.9v0.9h-0.9zM213.9 335.4h0.9v0.9h-0.9zM189.1 298.4h0.9v0.9h-0.9zM188.2 304.7h0.9v0.9h-0.9zM186.3 324.0h0.9v0.9h-0.9zM214.0 335.3h0.9v0.9h-0.9zM187.3 313.5h0.9v0.9h-0.9zM191.0 314.6h0.9v0.9h-0.9zM188.6 310.5h0.9v0.9h-0.9zM193.3 307.8h0.9v0.9h-0.9zM206.7 341.6h0.9v0.9h-0.9zM201.0 332.4h0.9v0.9h-0.9zM211.0 337.4h0.9v0.9h-0.9zM191.5 310.0h0.9v0.9h-0.9zM207.2 342.1h0.9v0.9h-0.9zM210.7 336.6h0.9v0.9h-0.9zM191.5 336.7h0.9v0.9h-0.9zM190.2 297.7h0.9v0.9h-0.9zM191.5 336.7h0.9v0.9h-0.9zM186.5 312.9h0.9v0.9h-0.9zM193.7 324.2h0.9v0.9h-0.9zM188.2 311.5h0.9v0.9h-0.9zM205.1 333.0h0.9v0.9h-0.9zM186.9 299.4h0.9v0.9h-0.9zM190.4 320.2h0.9v0.9h-0.9zM205.1 333.5h0.9v0.9h-0.9zM192.5 321.6h0.9v0.9h-0.9zM192.2 301.5h0.9v0.9h-0.9zM185.6 307.9h0.9v0.9h-0.9zM187.3 298.7h0.9v0.9h-0.9zM190.8 319.9h0.9v0.9h-0.9zM205.2 333.3h0.9v0.9h-0.9zM187.9 304.2h0.9v0.9h-0.9zM186.5 307.6h0.9v0.9h-0.9zM182.6 331.8h0.9v0.9h-0.9zM188.0 313.6h0.9v0.9h-0.9zM183.2 332.3h0.9v0.9h-0.9zM193.2 318.3h0.9v0.9h-0.9zM221.0 333.2h0.9v0.9h-0.9zM189.2 300.3h0.9v0.9h-0.9zM211.7 340.0h0.9v0.9h-0.9zM208.0 342.9h0.9v0.9h-0.9zM187.6 302.2h0.9v0.9h-0.9zM186.9 303.8h0.9v0.9h-0.9zM211.5 340.3h0.9v0.9h-0.9zM187.7 301.7h0.9v0.9h-0.9zM192.4 324.3h0.9v0.9h-0.9zM186.9 304.5h0.9v0.9h-0.9zM189.1 300.0h0.9v0.9h-0.9zM190.7 310.9h0.9v0.9h-0.9zM189.1 298.9h0.9v0.9h-0.9zM188.5 298.5h0.9v0.9h-0.9zM190.9 314.4h0.9v0.9h-0.9zM213.6 341.8h0.9v0.9h-0.9zM187.9 302.7h0.9v0.9h-0.9zM197.7 327.9h0.9v0.9h-0.9zM190.2 303.7h0.9v0.9h-0.9zM198.3 328.4h0.9v0.9h-0.9zM195.8 327.4h0.9v0.9h-0.9zM190.3 310.6h0.9v0.9h-0.9zM191.2 306.1h0.9v0.9h-0.9zM190.9 311.0h0.9v0.9h-0.9zM189.6 304.0h0.9v0.9h-0.9zM188.9 299.1h0.9v0.9h-0.9zM190.8 305.6h0.9v0.9h-0.9zM187.5 303.2h0.9v0.9h-0.9zM191.2 306.1h0.9v0.9h-0.9zM188.0 302.7h0.9v0.9h-0.9zM191.6 322.0h0.9v0.9h-0.9z" fill="rgb(104,124,242)" fill-opacity="0.45"/>
<path d="M210.3 337.3h0.9v0.9h-0.9zM188.8 310.5h0.9v0.9h-0.9zM204.3 340.6h0.9v0.9h-0.9zM190.3 302.0h0.9v0.9h-0.9zM193.0 304.3h0.9v0.9h-0.9zM193.3 304.1h0.9v0.9h-0.9zM189.5 306.5h0.9v0.9h-0.9zM185.7 309.2h0.9v0.9h-0.9zM193.3 304.1h0.9v0.9h-0.9zM188.6 310.7h0.9v0.9h-0.9zM190.6 312.9h0.9v0.9h-0.9zM204.4 340.7h0.9v0.9h-0.9zM189.1 310.7h0.9v0.9h-0.9zM183.6 329.3h0.9v0.9h-0.9zM193.9 315.7h0.9v0.9h-0.9zM186.5 317.2h0.9v0.9h-0.9zM188.8 321.4h0.9v0.9h-0.9zM192.4 306.5h0.9v0.9h-0.9zM188.0 298.5h0.9v0.9h-0.9zM213.2 341.1h0.9v0.9h-0.9zM185.8 324.7h0.9v0.9h-0.9zM194.3 316.1h0.9v0.9h-0.9zM192.4 315.0h0.9v0.9h-0.9zM187.4 316.6h0.9v0.9h-0.9zM213.4 342.6h0.9v0.9h-0.9zM194.1 316.7h0.9v0.9h-0.9zM198.6 328.9h0.9v0.9h-0.9zM199.3 329.0h0.9v0.9h-0.9zM192.6 325.5h0.9v0.9h-0.9zM194.0 317.4h0.9v0.9h-0.9zM192.8 325.2h0.9v0.9h-0.9zM212.5 342.7h0.9v0.9h-0.9zM189.3 314.6h0.9v0.9h-0.9zM188.7 321.0h0.9v0.9h-0.9zM187.4 322.5h0.9v0.9h-0.9zM193.4 315.0h0.9v0.9h-0.9zM186.7 323.0h0.9v0.9h-0.9zM187.9 312.6h0.9v0.9h-0.9zM188.4 320.1h0.9v0.9h-0.9zM186.9 315.9h0.9v0.9h-0.9zM191.0 320.7h0.9v0.9h-0.9zM187.1 315.8h0.9v0.9h-0.9zM188.3 315.4h0.9v0.9h-0.9zM188.5 320.0h0.9v0.9h-0.9zM188.2 315.5h0.9v0.9h-0.9zM191.0 318.7h0.9v0.9h-0.9zM196.0 338.0h0.9v0.9h-0.9zM196.2 337.9h0.9v0.9h-0.9zM193.1 314.7h0.9v0.9h-0.9zM189.4 319.8h0.9v0.9h-0.9zM189.7 320.0h0.9v0.9h-0.9zM187.2 317.7h0.9v0.9h-0.9zM189.1 307.2h0.9v0.9h-0.9zM194.4 322.7h0.9v0.9h-0.9zM207.9 336.6h0.9v0.9h-0.9zM187.4 309.7h0.9v0.9h-0.9zM200.2 332.1h0.9v0.9h-0.9zM193.1 322.7h0.9v0.9h-0.9zM187.2 324.2h0.9v0.9h-0.9zM191.7 316.2h0.9v0.9h-0.9zM188.5 307.5h0.9v0.9h-0.9zM208.4 341.7h0.9v0.9h-0.9zM193.4 323.2h0.9v0.9h-0.9zM207.5 336.7h0.9v0.9h-0.9zM188.8 321.7h0.9v0.9h-0.9zM188.7 306.8h0.9v0.9h-0.9zM186.5 310.0h0.9v0.9h-0.9zM210.5 339.0h0.9v0.9h-0.9zM207.9 337.1h0.9v0.9h-0.9zM186.6 309.7h0.9v0.9h-0.9zM193.2 322.9h0.9v0.9h-0.9zM188.0 336.0h0.9v0.9h-0.9zM190.2 320.4h0.9v0.9h-0.9zM192.1 317.6h0.9v0.9h-0.9zM191.2 315.7h0.9v0.9h-0.9zM204.1 334.3h0.9v0.9h-0.9zM187.5 321.5h0.9v0.9h-0.9zM186.9 322.0h0.9v0.9h-0.9zM190.2 303.1h0.9v0.9h-0.9zM191.7 317.9h0.9v0.9h-0.9zM187.8 321.9h0.9v0.9h-0.9zM190.8 316.0h0.9v0.9h-0.9zM191.3 304.4h0.9v0.9h-0.9zM190.9 304.4h0.9v0.9h-0.9zM189.7 303.0h0.9v0.9h-0.9zM198.8 338.8h0.9v0.9h-0.9zM191.9 317.9h0.9v0.9h-0.9zM199.2 330.6h0.9v0.9h-0.9zM187.2 325.4h0.9v0.9h-0.9zM189.7 308.5h0.9v0.9h-0.9zM190.1 319.2h0.9v0.9h-0.9zM187.1 325.0h0.9v0.9h-0.9zM205.7 335.4h0.9v0.9h-0.9zM193.0 317.2h0.9v0.9h-0.9zM190.7 310.2h0.9v0.9h-0.9zM189.1 336.1h0.9v0.9h-0.9zM189.4 335.9h0.9v0.9h-0.9zM189.7 309.4h0.9v0.9h-0.9zM188.7 335.9h0.9v0.9h-0.9zM189.6 314.1h0.9v0.9h-0.9zM188.4 318.9h0.9v0.9h-0.9zM191.7 304.5h0.9v0.9h-0.9zM191.9 304.5h0.9v0.9h-0.9zM192.8 317.3h0.9v0.9h-0.9zM190.8 309.9h0.9v0.9h-0.9zM190.3 308.6h0.9v0.9h-0.9zM189.0 335.9h0.9v0.9h-0.9zM190.3 309.4h0.9v0.9h-0.9zM185.5 334.0h0.9v0.9h-0.9zM190.8 322.4h0.9v0.9h-0.9zM211.9 340.9h0.9v0.9h-0.9zM191.4 321.6h0.9v0.9h-0.9zM186.6 319.2h0.9v0.9h-0.9zM186.3 334.1h0.9v0.9h-0.9zM205.2 340.6h0.9v0.9h-0.9zM187.2 319.0h0.9v0.9h-0.9zM206.1 340.7h0.9v0.9h-0.9zM201.9 333.1h0.9v0.9h-0.9zM189.4 312.0h0.9v0.9h-0.9zM198.6 330.4h0.9v0.9h-0.9zM187.2 321.2h0.9v0.9h-0.9zM193.2 315.7h0.9v0.9h-0.9zM192.6 315.5h0.9v0.9h-0.9zM210.4 342.9h0.9v0.9h-0.9zM187.4 309.5h0.9v0.9h-0.9zM209.8 343.0h0.9v0.9h-0.9zM186.8 319.7h0.9v0.9h-0.9zM186.8 320.6h0.9v0.9h-0.9zM189.8 316.2h0.9v0.9h-0.9zM192.6 315.9h0.9v0.9h-0.9zM188.3 315.8h0.9v0.9h-0.9zM186.8 309.2h0.9v0.9h-0.9zM211.3 342.7h0.9v0.9h-0.9zM187.0 319.6h0.9v0.9h-0.9zM198.5 329.6h0.9v0.9h-0.9zM190.7 309.4h0.9v0.9h-0.9zM198.6 330.4h0.9v0.9h-0.9zM199.3 330.1h0.9v0.9h-0.9zM209.8 342.5h0.9v0.9h-0.9zM188.5 317.8h0.9v0.9h-0.9zM189.2 317.9h0.9v0.9h-0.9zM188.3 315.9h0.9v0.9h-0.9zM186.7 321.0h0.9v0.9h-0.9zM187.0 309.2h0.9v0.9h-0.9zM189.6 321.6h0.9v0.9h-0.9zM190.1 322.1h0.9v0.9h-0.9zM186.5 326.2h0.9v0.9h-0.9zM190.6 322.6h0.9v0.9h-0.9zM188.1 323.1h0.9v0.9h-0.9zM186.2 325.5h0.9v0.9h-0.9zM192.4 307.9h0.9v0.9h-0.9zM186.1 325.9h0.9v0.9h-0.9zM189.9 322.3h0.9v0.9h-0.9zM191.7 307.7h0.9v0.9h-0.9zM192.4 308.4h0.9v0.9h-0.9zM206.6 340.9h0.9v0.9h-0.9zM186.0 326.5h0.9v0.9h-0.9zM188.4 324.3h0.9v0.9h-0.9zM191.9 307.7h0.9v0.9h-0.9zM192.1 303.2h0.9v0.9h-0.9zM188.0 324.2h0.9v0.9h-0.9zM196.6 327.6h0.9v0.9h-0.9zM191.7 308.1h0.9v0.9h-0.9zM191.6 302.8h0.9v0.9h-0.9zM186.9 335.1h0.9v0.9h-0.9zM188.8 316.3h0.9v0.9h-0.9zM188.9 315.6h0.9v0.9h-0.9zM189.2 315.9h0.9v0.9h-0.9zM188.7 316.4h0.9v0.9h-0.9zM190.5 306.9h0.9v0.9h-0.9zM190.4 307.4h0.9v0.9h-0.9zM190.8 301.7h0.9v0.9h-0.9zM190.9 307.4h0.9v0.9h-0.9zM191.1 301.8h0.9v0.9h-0.9zM185.0 328.4h0.9v0.9h-0.9zM191.2 323.9h0.9v0.9h-0.9zM184.6 327.7h0.9v0.9h-0.9zM190.6 302.3h0.9v0.9h-0.9zM187.6 317.8h0.9v0.9h-0.9zM191.0 301.9h0.9v0.9h-0.9zM188.5 323.2h0.9v0.9h-0.9zM189.2 323.5h0.9v0.9h-0.9zM191.4 324.4h0.9v0.9h-0.9zM188.5 322.6h0.9v0.9h-0.9zM188.0 317.7h0.9v0.9h-0.9zM188.1 325.3h0.9v0.9h-0.9zM184.3 330.5h0.9v0.9h-0.9zM191.1 324.2h0.9v0.9h-0.9zM187.9 318.3h0.9v0.9h-0.9zM184.0 329.7h0.9v0.9h-0.9zM184.3 329.7h0.9v0.9h-0.9zM212.7 341.6h0.9v0.9h-0.9zM213.0 342.2h0.9v0.9h-0.9zM208.1 341.3h0.9v0.9h-0.9zM213.3 341.6h0.9v0.9h-0.9zM208.2 340.5h0.9v0.9h-0.9zM211.1 339.7h0.9v0.9h-0.9zM185.4 332.6h0.9v0.9h-0.9zM213.2 342.3h0.9v0.9h-0.9zM185.0 332.9h0.9v0.9h-0.9zM211.2 340.1h0.9v0.9h-0.9zM197.1 338.2h0.9v0.9h-0.9zM212.1 342.0h0.9v0.9h-0.9zM204.9 334.9h0.9v0.9h-0.9zM184.0 331.6h0.9v0.9h-0.9zM211.5 342.1h0.9v0.9h-0.9zM184.3 331.9h0.9v0.9h-0.9zM190.8 307.8h0.9v0.9h-0.9zM197.4 337.9h0.9v0.9h-0.9zM197.4 338.4h0.9v0.9h-0.9zM190.1 308.1h0.9v0.9h-0.9zM211.6 342.3h0.9v0.9h-0.9zM183.5 331.8h0.9v0.9h-0.9zM190.1 307.8h0.9v0.9h-0.9zM212.3 341.5h0.9v0.9h-0.9zM188.2 319.0h0.9v0.9h-0.9zM190.0 307.0h0.9v0.9h-0.9zM188.1 319.2h0.9v0.9h-0.9zM189.7 307.2h0.9v0.9h-0.9z" fill="rgb(81,106,241)" fill-opacity="0.7"/>
<path d="M190.7 302.6h0.9v0.9h-0.9zM191.3 317.9h0.9v0.9h-0.9zM188.2 326.5h0.9v0.9h-0.9zM190.2 318.2h0.9v0.9h-0.9zM191.1 302.6h0.9v0.9h-0.9zM187.9 326.1h0.9v0.9h-0.9zM189.6 323.0h0.9v0.9h-0.9zM190.1 318.1h0.9v0.9h-0.9zM204.0 340.4h0.9v0.9h-0.9zM191.2 317.7h0.9v0.9h-0.9zM190.0 323.5h0.9v0.9h-0.9zM204.2 340.1h0.9v0.9h-0.9zM189.6 318.2h0.9v0.9h-0.9zM202.8 334.0h0.9v0.9h-0.9zM190.1 317.7h0.9v0.9h-0.9zM191.0 335.9h0.9v0.9h-0.9zM191.0 335.7h0.9v0.9h-0.9zM191.0 316.6h0.9v0.9h-0.9zM191.0 316.6h0.9v0.9h-0.9zM189.3 324.3h0.9v0.9h-0.9zM209.8 338.5h0.9v0.9h-0.9zM190.5 317.0h0.9v0.9h-0.9zM190.6 317.0h0.9v0.9h-0.9zM210.1 338.4h0.9v0.9h-0.9zM210.3 337.8h0.9v0.9h-0.9zM189.0 313.0h0.9v0.9h-0.9zM189.0 313.5h0.9v0.9h-0.9zM195.9 336.7h0.9v0.9h-0.9zM196.3 336.9h0.9v0.9h-0.9zM189.2 313.5h0.9v0.9h-0.9zM188.5 313.3h0.9v0.9h-0.9zM210.5 341.5h0.9v0.9h-0.9zM188.1 327.2h0.9v0.9h-0.9zM211.2 341.3h0.9v0.9h-0.9zM210.5 341.7h0.9v0.9h-0.9zM210.5 340.7h0.9v0.9h-0.9zM189.9 317.0h0.9v0.9h-0.9zM210.6 342.4h0.9v0.9h-0.9zM190.3 317.3h0.9v0.9h-0.9zM210.6 341.4h0.9v0.9h-0.9zM187.4 327.5h0.9v0.9h-0.9zM210.5 341.2h0.9v0.9h-0.9zM209.4 340.9h0.9v0.9h-0.9zM190.2 313.4h0.9v0.9h-0.9zM183.6 331.1h0.9v0.9h-0.9zM184.0 331.2h0.9v0.9h-0.9zM190.2 313.0h0.9v0.9h-0.9zM189.8 313.3h0.9v0.9h-0.9zM208.4 341.6h0.9v0.9h-0.9zM189.6 312.6h0.9v0.9h-0.9zM209.2 341.9h0.9v0.9h-0.9zM209.0 340.5h0.9v0.9h-0.9zM189.5 313.2h0.9v0.9h-0.9zM209.3 341.6h0.9v0.9h-0.9zM190.3 313.3h0.9v0.9h-0.9zM200.9 333.0h0.9v0.9h-0.9zM198.5 332.2h0.9v0.9h-0.9zM201.2 333.0h0.9v0.9h-0.9zM200.6 333.4h0.9v0.9h-0.9zM186.1 326.7h0.9v0.9h-0.9zM189.7 323.8h0.9v0.9h-0.9zM190.0 323.8h0.9v0.9h-0.9zM190.2 324.4h0.9v0.9h-0.9zM185.5 326.8h0.9v0.9h-0.9zM186.2 327.1h0.9v0.9h-0.9zM189.5 323.6h0.9v0.9h-0.9zM185.5 326.9h0.9v0.9h-0.9zM190.2 323.6h0.9v0.9h-0.9zM187.9 334.6h0.9v0.9h-0.9zM187.8 335.3h0.9v0.9h-0.9zM188.3 335.1h0.9v0.9h-0.9zM197.5 338.5h0.9v0.9h-0.9zM190.6 324.7h0.9v0.9h-0.9zM204.5 339.9h0.9v0.9h-0.9zM205.3 339.6h0.9v0.9h-0.9zM184.6 329.8h0.9v0.9h-0.9zM206.9 336.3h0.9v0.9h-0.9zM199.5 339.3h0.9v0.9h-0.9zM206.9 335.7h0.9v0.9h-0.9zM185.3 329.6h0.9v0.9h-0.9zM207.3 336.5h0.9v0.9h-0.9zM200.1 338.7h0.9v0.9h-0.9zM188.8 325.2h0.9v0.9h-0.9zM207.9 337.7h0.9v0.9h-0.9zM206.7 335.9h0.9v0.9h-0.9zM207.0 336.1h0.9v0.9h-0.9zM184.6 329.6h0.9v0.9h-0.9zM207.0 336.4h0.9v0.9h-0.9zM210.3 339.1h0.9v0.9h-0.9zM210.1 339.2h0.9v0.9h-0.9zM210.1 341.3h0.9v0.9h-0.9zM209.7 338.9h0.9v0.9h-0.9zM209.9 339.3h0.9v0.9h-0.9zM192.3 325.9h0.9v0.9h-0.9zM191.6 326.3h0.9v0.9h-0.9zM191.7 326.0h0.9v0.9h-0.9zM205.8 339.9h0.9v0.9h-0.9zM205.7 340.2h0.9v0.9h-0.9zM191.8 325.5h0.9v0.9h-0.9zM191.7 326.2h0.9v0.9h-0.9zM191.6 325.8h0.9v0.9h-0.9zM206.2 340.0h0.9v0.9h-0.9zM192.3 326.3h0.9v0.9h-0.9zM204.1 335.2h0.9v0.9h-0.9zM209.6 342.0h0.9v0.9h-0.9zM186.1 332.9h0.9v0.9h-0.9zM186.2 333.0h0.9v0.9h-0.9zM209.9 341.8h0.9v0.9h-0.9zM209.8 341.9h0.9v0.9h-0.9zM204.3 335.4h0.9v0.9h-0.9zM204.1 335.2h0.9v0.9h-0.9zM191.6 327.3h0.9v0.9h-0.9zM196.0 328.2h0.9v0.9h-0.9zM192.0 327.2h0.9v0.9h-0.9zM192.2 327.3h0.9v0.9h-0.9zM195.7 327.6h0.9v0.9h-0.9zM192.1 326.5h0.9v0.9h-0.9zM195.9 328.2h0.9v0.9h-0.9zM207.1 337.5h0.9v0.9h-0.9zM191.8 336.3h0.9v0.9h-0.9zM186.7 334.0h0.9v0.9h-0.9zM187.2 333.6h0.9v0.9h-0.9zM192.1 335.7h0.9v0.9h-0.9zM200.6 339.1h0.9v0.9h-0.9zM206.5 337.4h0.9v0.9h-0.9zM201.0 338.9h0.9v0.9h-0.9zM191.8 336.0h0.9v0.9h-0.9zM200.5 338.7h0.9v0.9h-0.9zM186.8 333.6h0.9v0.9h-0.9zM201.2 339.2h0.9v0.9h-0.9zM185.7 328.3h0.9v0.9h-0.9zM185.6 327.8h0.9v0.9h-0.9zM189.7 325.0h0.9v0.9h-0.9zM190.2 325.4h0.9v0.9h-0.9zM185.5 328.3h0.9v0.9h-0.9zM186.1 328.2h0.9v0.9h-0.9z" fill="rgb(58,92,239)" fill-opacity="0.7"/>
<path d="M208.7 340.0h0.9v0.9h-0.9zM209.1 339.6h0.9v0.9h-0.9zM201.6 334.3h0.9v0.9h-0.9zM189.8 334.7h0.9v0.9h-0.9zM193.2 336.2h0.9v0.9h-0.9zM189.7 334.5h0.9v0.9h-0.9zM192.7 335.5h0.9v0.9h-0.9zM193.3 335.7h0.9v0.9h-0.9zM192.7 336.2h0.9v0.9h-0.9zM189.9 335.3h0.9v0.9h-0.9zM185.0 331.9h0.9v0.9h-0.9zM206.7 337.9h0.9v0.9h-0.9zM184.6 332.0h0.9v0.9h-0.9zM206.4 337.8h0.9v0.9h-0.9zM206.4 338.4h0.9v0.9h-0.9zM185.1 331.9h0.9v0.9h-0.9zM185.2 332.1h0.9v0.9h-0.9zM188.7 325.5h0.9v0.9h-0.9zM197.5 330.1h0.9v0.9h-0.9zM197.7 329.9h0.9v0.9h-0.9zM189.4 326.3h0.9v0.9h-0.9zM188.5 326.5h0.9v0.9h-0.9zM186.4 328.6h0.9v0.9h-0.9zM197.9 330.2h0.9v0.9h-0.9zM185.6 329.0h0.9v0.9h-0.9zM189.4 325.9h0.9v0.9h-0.9zM197.5 330.2h0.9v0.9h-0.9zM189.0 326.0h0.9v0.9h-0.9zM188.9 326.3h0.9v0.9h-0.9zM198.1 330.2h0.9v0.9h-0.9zM206.1 336.2h0.9v0.9h-0.9zM205.9 336.0h0.9v0.9h-0.9zM193.9 335.5h0.9v0.9h-0.9zM205.8 335.8h0.9v0.9h-0.9zM194.1 335.6h0.9v0.9h-0.9zM197.7 330.7h0.9v0.9h-0.9zM197.6 331.4h0.9v0.9h-0.9zM197.6 330.6h0.9v0.9h-0.9zM205.7 335.6h0.9v0.9h-0.9zM197.6 330.6h0.9v0.9h-0.9zM199.6 332.6h0.9v0.9h-0.9zM199.4 333.4h0.9v0.9h-0.9zM194.7 327.7h0.9v0.9h-0.9zM194.6 328.0h0.9v0.9h-0.9zM187.2 327.6h0.9v0.9h-0.9zM194.7 328.2h0.9v0.9h-0.9zM187.1 328.0h0.9v0.9h-0.9zM187.1 328.4h0.9v0.9h-0.9zM194.6 327.6h0.9v0.9h-0.9zM194.8 328.5h0.9v0.9h-0.9zM187.2 327.8h0.9v0.9h-0.9zM191.4 325.9h0.9v0.9h-0.9zM190.4 326.0h0.9v0.9h-0.9zM191.1 326.1h0.9v0.9h-0.9zM185.4 331.3h0.9v0.9h-0.9zM184.6 330.9h0.9v0.9h-0.9zM191.2 325.9h0.9v0.9h-0.9zM185.0 330.9h0.9v0.9h-0.9zM191.3 325.8h0.9v0.9h-0.9zM185.2 331.1h0.9v0.9h-0.9zM190.8 325.9h0.9v0.9h-0.9zM193.6 327.6h0.9v0.9h-0.9zM194.4 328.2h0.9v0.9h-0.9zM207.3 339.9h0.9v0.9h-0.9zM196.6 329.1h0.9v0.9h-0.9zM207.3 339.9h0.9v0.9h-0.9zM197.2 328.6h0.9v0.9h-0.9zM197.2 329.1h0.9v0.9h-0.9zM197.3 328.6h0.9v0.9h-0.9zM207.0 340.2h0.9v0.9h-0.9zM207.3 339.7h0.9v0.9h-0.9zM196.9 336.6h0.9v0.9h-0.9zM188.8 327.3h0.9v0.9h-0.9zM188.9 327.1h0.9v0.9h-0.9zM189.0 326.5h0.9v0.9h-0.9zM190.1 325.9h0.9v0.9h-0.9zM192.5 327.9h0.9v0.9h-0.9zM190.3 325.7h0.9v0.9h-0.9zM205.0 335.7h0.9v0.9h-0.9zM192.8 328.2h0.9v0.9h-0.9zM205.4 336.1h0.9v0.9h-0.9zM192.8 328.2h0.9v0.9h-0.9zM204.6 336.2h0.9v0.9h-0.9zM193.2 328.0h0.9v0.9h-0.9zM190.1 325.8h0.9v0.9h-0.9zM205.0 335.7h0.9v0.9h-0.9zM193.0 328.4h0.9v0.9h-0.9zM193.0 328.3h0.9v0.9h-0.9zM193.2 328.0h0.9v0.9h-0.9zM194.7 335.6h0.9v0.9h-0.9zM194.4 335.5h0.9v0.9h-0.9zM203.4 339.3h0.9v0.9h-0.9zM206.2 339.1h0.9v0.9h-0.9zM207.8 339.9h0.9v0.9h-0.9zM203.2 339.0h0.9v0.9h-0.9zM208.2 340.0h0.9v0.9h-0.9zM208.1 339.6h0.9v0.9h-0.9zM205.5 339.0h0.9v0.9h-0.9zM194.9 335.9h0.9v0.9h-0.9zM205.7 339.5h0.9v0.9h-0.9zM205.5 338.8h0.9v0.9h-0.9zM207.4 340.2h0.9v0.9h-0.9zM187.5 328.0h0.9v0.9h-0.9zM188.4 328.3h0.9v0.9h-0.9zM187.4 327.7h0.9v0.9h-0.9zM209.1 338.5h0.9v0.9h-0.9zM209.2 339.1h0.9v0.9h-0.9zM202.7 335.4h0.9v0.9h-0.9zM209.4 338.9h0.9v0.9h-0.9zM203.1 335.5h0.9v0.9h-0.9zM209.2 338.7h0.9v0.9h-0.9zM202.6 334.8h0.9v0.9h-0.9zM208.4 339.1h0.9v0.9h-0.9zM209.3 339.2h0.9v0.9h-0.9zM209.3 338.7h0.9v0.9h-0.9zM202.6 335.2h0.9v0.9h-0.9zM208.9 339.3h0.9v0.9h-0.9zM203.1 334.9h0.9v0.9h-0.9zM208.7 339.3h0.9v0.9h-0.9zM208.5 339.3h0.9v0.9h-0.9zM203.1 334.5h0.9v0.9h-0.9zM203.4 334.8h0.9v0.9h-0.9zM209.0 338.9h0.9v0.9h-0.9zM202.7 335.3h0.9v0.9h-0.9zM188.3 333.7h0.9v0.9h-0.9zM187.6 334.5h0.9v0.9h-0.9zM199.1 337.6h0.9v0.9h-0.9zM188.0 333.7h0.9v0.9h-0.9zM188.2 333.7h0.9v0.9h-0.9zM199.4 338.2h0.9v0.9h-0.9zM188.0 334.0h0.9v0.9h-0.9zM188.1 333.7h0.9v0.9h-0.9z" fill="rgb(46,121,237)" fill-opacity="0.7"/>
<path d="M185.9 330.5h0.9v0.9h-0.9zM185.5 329.6h0.9v0.9h-0.9zM186.1 329.8h0.9v0.9h-0.9zM198.2 331.8h0.9v0.9h-0.9zM197.8 332.2h0.9v0.9h-0.9zM197.5 332.2h0.9v0.9h-0.9zM192.1 328.3h0.9v0.9h-0.9zM197.7 331.7h0.9v0.9h-0.9zM197.5 332.2h0.9v0.9h-0.9zM187.2 333.5h0.9v0.9h-0.9zM187.1 333.1h0.9v0.9h-0.9zM205.9 338.4h0.9v0.9h-0.9zM205.2 339.3h0.9v0.9h-0.9zM206.9 338.9h0.9v0.9h-0.9zM187.2 332.9h0.9v0.9h-0.9zM205.1 339.3h0.9v0.9h-0.9zM205.7 338.5h0.9v0.9h-0.9zM204.6 338.6h0.9v0.9h-0.9zM206.3 338.5h0.9v0.9h-0.9zM207.2 339.3h0.9v0.9h-0.9zM206.9 338.6h0.9v0.9h-0.9zM207.2 338.8h0.9v0.9h-0.9zM205.4 337.9h0.9v0.9h-0.9zM204.7 339.2h0.9v0.9h-0.9zM206.8 338.8h0.9v0.9h-0.9zM205.4 338.9h0.9v0.9h-0.9zM206.2 336.8h0.9v0.9h-0.9zM205.8 337.4h0.9v0.9h-0.9zM205.4 336.7h0.9v0.9h-0.9zM205.7 336.8h0.9v0.9h-0.9zM206.2 337.4h0.9v0.9h-0.9zM205.7 337.3h0.9v0.9h-0.9zM186.1 332.2h0.9v0.9h-0.9zM187.1 329.4h0.9v0.9h-0.9zM186.2 332.1h0.9v0.9h-0.9zM187.1 329.3h0.9v0.9h-0.9zM186.3 331.9h0.9v0.9h-0.9zM207.5 339.1h0.9v0.9h-0.9zM187.2 329.5h0.9v0.9h-0.9zM207.6 339.2h0.9v0.9h-0.9zM207.8 338.9h0.9v0.9h-0.9zM207.8 339.2h0.9v0.9h-0.9zM185.5 332.5h0.9v0.9h-0.9zM187.2 328.8h0.9v0.9h-0.9zM207.5 339.5h0.9v0.9h-0.9zM207.8 338.8h0.9v0.9h-0.9zM207.7 338.7h0.9v0.9h-0.9zM186.3 331.8h0.9v0.9h-0.9zM186.3 332.0h0.9v0.9h-0.9zM186.4 328.6h0.9v0.9h-0.9zM200.9 334.3h0.9v0.9h-0.9zM200.4 334.4h0.9v0.9h-0.9zM201.2 334.5h0.9v0.9h-0.9zM200.6 333.7h0.9v0.9h-0.9zM201.0 334.4h0.9v0.9h-0.9zM201.2 334.4h0.9v0.9h-0.9zM204.2 338.8h0.9v0.9h-0.9zM204.1 338.6h0.9v0.9h-0.9zM191.1 334.9h0.9v0.9h-0.9zM191.0 335.0h0.9v0.9h-0.9zM190.8 334.8h0.9v0.9h-0.9zM191.1 334.7h0.9v0.9h-0.9zM189.8 326.8h0.9v0.9h-0.9zM198.7 333.0h0.9v0.9h-0.9zM190.2 326.7h0.9v0.9h-0.9zM199.4 332.7h0.9v0.9h-0.9zM189.8 326.7h0.9v0.9h-0.9zM199.1 333.2h0.9v0.9h-0.9zM190.4 326.6h0.9v0.9h-0.9zM189.6 326.5h0.9v0.9h-0.9zM198.4 333.4h0.9v0.9h-0.9zM198.6 333.3h0.9v0.9h-0.9zM189.7 326.9h0.9v0.9h-0.9zM199.4 332.8h0.9v0.9h-0.9zM190.4 327.0h0.9v0.9h-0.9zM204.2 336.4h0.9v0.9h-0.9zM204.2 336.4h0.9v0.9h-0.9zM188.6 333.8h0.9v0.9h-0.9zM203.7 336.2h0.9v0.9h-0.9zM204.1 336.4h0.9v0.9h-0.9zM203.6 335.9h0.9v0.9h-0.9zM188.5 333.9h0.9v0.9h-0.9zM195.9 335.7h0.9v0.9h-0.9zM195.9 335.9h0.9v0.9h-0.9zM196.4 335.8h0.9v0.9h-0.9zM186.1 331.0h0.9v0.9h-0.9zM186.4 331.3h0.9v0.9h-0.9zM186.4 330.7h0.9v0.9h-0.9zM202.0 334.5h0.9v0.9h-0.9zM202.0 335.3h0.9v0.9h-0.9zM201.8 334.6h0.9v0.9h-0.9zM201.6 334.5h0.9v0.9h-0.9zM201.6 335.0h0.9v0.9h-0.9zM201.5 335.0h0.9v0.9h-0.9zM202.2 335.3h0.9v0.9h-0.9zM201.6 335.2h0.9v0.9h-0.9zM202.3 334.9h0.9v0.9h-0.9zM196.6 329.8h0.9v0.9h-0.9zM196.6 330.3h0.9v0.9h-0.9zM196.5 330.4h0.9v0.9h-0.9zM196.6 330.1h0.9v0.9h-0.9zM196.5 330.4h0.9v0.9h-0.9zM196.6 330.0h0.9v0.9h-0.9zM196.4 330.2h0.9v0.9h-0.9zM196.9 330.1h0.9v0.9h-0.9zM196.2 329.2h0.9v0.9h-0.9zM196.3 329.3h0.9v0.9h-0.9zM195.7 329.5h0.9v0.9h-0.9zM195.4 328.7h0.9v0.9h-0.9zM195.6 328.8h0.9v0.9h-0.9zM196.3 329.3h0.9v0.9h-0.9zM195.9 329.1h0.9v0.9h-0.9z" fill="rgb(33,151,235)" fill-opacity="1"/>
<path d="M199.6 337.9h0.9v0.9h-0.9zM192.0 334.6h0.9v0.9h-0.9zM204.5 337.3h0.9v0.9h-0.9zM192.0 334.8h0.9v0.9h-0.9zM205.2 337.4h0.9v0.9h-0.9zM192.1 334.8h0.9v0.9h-0.9zM205.2 337.3h0.9v0.9h-0.9zM191.8 334.6h0.9v0.9h-0.9zM192.0 335.0h0.9v0.9h-0.9zM204.6 337.1h0.9v0.9h-0.9zM204.8 337.4h0.9v0.9h-0.9zM204.8 337.1h0.9v0.9h-0.9zM192.4 335.2h0.9v0.9h-0.9zM192.3 335.0h0.9v0.9h-0.9zM191.6 335.1h0.9v0.9h-0.9zM204.4 337.3h0.9v0.9h-0.9zM197.3 331.3h0.9v0.9h-0.9zM196.9 330.7h0.9v0.9h-0.9zM197.1 330.7h0.9v0.9h-0.9zM196.7 331.0h0.9v0.9h-0.9zM197.0 330.6h0.9v0.9h-0.9zM188.1 332.6h0.9v0.9h-0.9zM188.2 333.0h0.9v0.9h-0.9zM188.0 333.4h0.9v0.9h-0.9zM188.4 333.1h0.9v0.9h-0.9zM187.4 333.0h0.9v0.9h-0.9zM189.0 328.4h0.9v0.9h-0.9zM189.3 328.5h0.9v0.9h-0.9zM188.4 328.3h0.9v0.9h-0.9zM188.9 328.1h0.9v0.9h-0.9zM188.7 327.7h0.9v0.9h-0.9zM201.2 338.3h0.9v0.9h-0.9zM201.4 337.6h0.9v0.9h-0.9zM200.5 337.8h0.9v0.9h-0.9zM200.4 338.0h0.9v0.9h-0.9zM186.7 329.8h0.9v0.9h-0.9zM200.4 337.7h0.9v0.9h-0.9zM204.7 338.2h0.9v0.9h-0.9zM201.0 338.0h0.9v0.9h-0.9zM204.6 337.7h0.9v0.9h-0.9zM186.4 330.2h0.9v0.9h-0.9zM205.2 338.4h0.9v0.9h-0.9zM204.9 337.9h0.9v0.9h-0.9zM200.9 337.8h0.9v0.9h-0.9zM187.1 329.9h0.9v0.9h-0.9zM200.6 338.2h0.9v0.9h-0.9zM205.0 337.8h0.9v0.9h-0.9zM200.6 337.7h0.9v0.9h-0.9zM200.7 338.1h0.9v0.9h-0.9zM200.4 337.8h0.9v0.9h-0.9zM204.9 337.5h0.9v0.9h-0.9zM187.1 330.0h0.9v0.9h-0.9zM186.6 330.1h0.9v0.9h-0.9zM205.3 337.9h0.9v0.9h-0.9zM204.8 338.5h0.9v0.9h-0.9zM198.1 336.6h0.9v0.9h-0.9zM203.0 335.8h0.9v0.9h-0.9zM199.5 333.9h0.9v0.9h-0.9zM200.3 333.6h0.9v0.9h-0.9zM197.9 337.1h0.9v0.9h-0.9zM203.3 336.2h0.9v0.9h-0.9zM197.5 337.3h0.9v0.9h-0.9zM203.2 336.5h0.9v0.9h-0.9zM203.2 335.8h0.9v0.9h-0.9zM200.0 333.6h0.9v0.9h-0.9zM202.4 335.8h0.9v0.9h-0.9zM198.4 336.9h0.9v0.9h-0.9zM199.8 334.4h0.9v0.9h-0.9zM199.9 334.2h0.9v0.9h-0.9zM198.0 337.0h0.9v0.9h-0.9zM200.3 333.5h0.9v0.9h-0.9zM198.4 336.6h0.9v0.9h-0.9zM190.7 328.4h0.9v0.9h-0.9zM191.2 328.0h0.9v0.9h-0.9zM191.1 328.0h0.9v0.9h-0.9zM190.6 328.5h0.9v0.9h-0.9zM190.7 327.9h0.9v0.9h-0.9zM191.1 327.6h0.9v0.9h-0.9zM191.4 327.8h0.9v0.9h-0.9zM194.6 328.8h0.9v0.9h-0.9zM194.9 329.1h0.9v0.9h-0.9zM194.5 328.8h0.9v0.9h-0.9zM195.0 329.4h0.9v0.9h-0.9zM195.0 329.2h0.9v0.9h-0.9zM187.0 332.1h0.9v0.9h-0.9zM187.1 331.7h0.9v0.9h-0.9zM187.1 332.2h0.9v0.9h-0.9zM186.6 332.0h0.9v0.9h-0.9zM187.2 331.9h0.9v0.9h-0.9zM188.3 329.4h0.9v0.9h-0.9zM188.4 329.2h0.9v0.9h-0.9zM187.7 329.4h0.9v0.9h-0.9zM188.0 329.0h0.9v0.9h-0.9zM187.9 329.0h0.9v0.9h-0.9zM197.5 333.0h0.9v0.9h-0.9zM198.3 333.4h0.9v0.9h-0.9zM201.6 338.5h0.9v0.9h-0.9zM202.2 337.9h0.9v0.9h-0.9zM197.5 333.4h0.9v0.9h-0.9zM201.6 338.4h0.9v0.9h-0.9zM201.9 337.8h0.9v0.9h-0.9zM197.9 333.5h0.9v0.9h-0.9zM198.0 332.7h0.9v0.9h-0.9zM201.6 338.0h0.9v0.9h-0.9zM202.0 338.0h0.9v0.9h-0.9zM202.0 338.3h0.9v0.9h-0.9zM202.3 338.5h0.9v0.9h-0.9zM201.5 337.9h0.9v0.9h-0.9zM202.0 337.6h0.9v0.9h-0.9zM198.0 333.2h0.9v0.9h-0.9zM197.5 332.9h0.9v0.9h-0.9zM198.0 333.4h0.9v0.9h-0.9zM201.7 337.7h0.9v0.9h-0.9z" fill="rgb(28,175,210)" fill-opacity="1"/>
<path d="M192.9 335.2h0.9v0.9h-0.9zM201.3 335.0h0.9v0.9h-0.9zM192.5 334.5h0.9v0.9h-0.9zM193.3 334.7h0.9v0.9h-0.9zM201.0 335.4h0.9v0.9h-0.9zM201.0 335.1h0.9v0.9h-0.9zM193.2 334.8h0.9v0.9h-0.9zM192.7 334.6h0.9v0.9h-0.9zM200.7 334.8h0.9v0.9h-0.9zM201.1 335.0h0.9v0.9h-0.9zM200.6 334.8h0.9v0.9h-0.9zM200.5 335.4h0.9v0.9h-0.9zM192.4 335.2h0.9v0.9h-0.9zM200.6 335.0h0.9v0.9h-0.9zM200.5 335.3h0.9v0.9h-0.9zM200.5 334.5h0.9v0.9h-0.9zM196.4 332.1h0.9v0.9h-0.9zM197.2 332.5h0.9v0.9h-0.9zM197.0 332.0h0.9v0.9h-0.9zM196.7 332.5h0.9v0.9h-0.9zM197.3 332.1h0.9v0.9h-0.9zM197.2 331.9h0.9v0.9h-0.9zM196.4 332.4h0.9v0.9h-0.9zM197.0 332.1h0.9v0.9h-0.9zM189.8 334.4h0.9v0.9h-0.9zM195.8 330.4h0.9v0.9h-0.9zM189.5 333.8h0.9v0.9h-0.9zM196.2 329.8h0.9v0.9h-0.9zM190.4 334.3h0.9v0.9h-0.9zM196.1 329.7h0.9v0.9h-0.9zM195.7 329.9h0.9v0.9h-0.9zM189.5 334.1h0.9v0.9h-0.9zM189.7 334.0h0.9v0.9h-0.9zM190.2 333.5h0.9v0.9h-0.9zM190.2 333.8h0.9v0.9h-0.9zM195.6 329.6h0.9v0.9h-0.9zM189.9 333.6h0.9v0.9h-0.9zM195.6 330.2h0.9v0.9h-0.9zM196.2 330.3h0.9v0.9h-0.9zM190.1 333.8h0.9v0.9h-0.9zM189.6 333.5h0.9v0.9h-0.9zM197.2 336.2h0.9v0.9h-0.9zM196.5 335.5h0.9v0.9h-0.9zM196.6 336.0h0.9v0.9h-0.9zM196.7 335.6h0.9v0.9h-0.9zM197.3 335.9h0.9v0.9h-0.9zM197.1 335.9h0.9v0.9h-0.9zM193.6 329.1h0.9v0.9h-0.9zM202.2 335.7h0.9v0.9h-0.9zM193.9 328.6h0.9v0.9h-0.9zM201.4 336.4h0.9v0.9h-0.9zM193.5 329.4h0.9v0.9h-0.9zM193.7 329.2h0.9v0.9h-0.9zM193.5 328.8h0.9v0.9h-0.9zM194.3 328.6h0.9v0.9h-0.9zM194.3 328.8h0.9v0.9h-0.9zM201.9 336.0h0.9v0.9h-0.9zM201.8 336.0h0.9v0.9h-0.9zM193.4 329.4h0.9v0.9h-0.9zM202.3 336.2h0.9v0.9h-0.9zM201.8 336.2h0.9v0.9h-0.9zM202.2 336.2h0.9v0.9h-0.9zM201.5 336.0h0.9v0.9h-0.9zM193.9 329.4h0.9v0.9h-0.9zM193.8 329.2h0.9v0.9h-0.9zM201.5 336.2h0.9v0.9h-0.9zM201.5 335.7h0.9v0.9h-0.9zM186.9 331.3h0.9v0.9h-0.9zM187.3 331.4h0.9v0.9h-0.9zM187.2 331.4h0.9v0.9h-0.9zM186.8 330.6h0.9v0.9h-0.9zM187.2 330.8h0.9v0.9h-0.9zM186.4 330.6h0.9v0.9h-0.9zM186.9 331.2h0.9v0.9h-0.9zM187.2 330.9h0.9v0.9h-0.9zM187.0 331.1h0.9v0.9h-0.9zM186.5 331.4h0.9v0.9h-0.9zM187.4 330.9h0.9v0.9h-0.9zM186.7 330.5h0.9v0.9h-0.9zM204.2 336.8h0.9v0.9h-0.9zM203.5 336.8h0.9v0.9h-0.9zM204.2 336.8h0.9v0.9h-0.9zM204.0 336.7h0.9v0.9h-0.9zM204.4 337.3h0.9v0.9h-0.9zM203.9 337.0h0.9v0.9h-0.9zM203.9 337.3h0.9v0.9h-0.9zM196.0 331.5h0.9v0.9h-0.9zM196.0 331.3h0.9v0.9h-0.9zM196.1 331.0h0.9v0.9h-0.9zM196.1 330.6h0.9v0.9h-0.9zM196.3 331.3h0.9v0.9h-0.9zM196.0 331.4h0.9v0.9h-0.9zM195.7 330.5h0.9v0.9h-0.9zM195.6 330.6h0.9v0.9h-0.9zM190.1 328.2h0.9v0.9h-0.9zM190.3 328.0h0.9v0.9h-0.9zM190.3 328.2h0.9v0.9h-0.9zM189.6 327.6h0.9v0.9h-0.9zM190.1 328.5h0.9v0.9h-0.9zM189.5 328.4h0.9v0.9h-0.9zM189.9 328.0h0.9v0.9h-0.9zM190.4 328.2h0.9v0.9h-0.9zM190.1 328.2h0.9v0.9h-0.9zM190.4 328.0h0.9v0.9h-0.9zM203.5 338.3h0.9v0.9h-0.9zM202.5 338.3h0.9v0.9h-0.9zM202.9 338.4h0.9v0.9h-0.9zM202.9 338.1h0.9v0.9h-0.9zM204.4 337.8h0.9v0.9h-0.9zM202.7 337.5h0.9v0.9h-0.9zM204.3 337.8h0.9v0.9h-0.9zM202.8 337.7h0.9v0.9h-0.9zM204.2 337.8h0.9v0.9h-0.9zM204.1 338.2h0.9v0.9h-0.9zM203.4 338.4h0.9v0.9h-0.9zM203.9 338.3h0.9v0.9h-0.9zM203.0 338.3h0.9v0.9h-0.9zM202.9 337.5h0.9v0.9h-0.9zM204.3 338.4h0.9v0.9h-0.9zM204.2 338.3h0.9v0.9h-0.9zM202.9 337.5h0.9v0.9h-0.9zM203.2 337.7h0.9v0.9h-0.9zM203.5 338.2h0.9v0.9h-0.9zM204.3 337.6h0.9v0.9h-0.9zM203.9 338.4h0.9v0.9h-0.9zM203.0 337.5h0.9v0.9h-0.9zM202.7 338.3h0.9v0.9h-0.9zM203.7 338.1h0.9v0.9h-0.9zM204.3 337.7h0.9v0.9h-0.9zM203.4 338.2h0.9v0.9h-0.9zM202.9 337.8h0.9v0.9h-0.9zM203.1 337.7h0.9v0.9h-0.9zM204.0 338.2h0.9v0.9h-0.9zM203.5 338.0h0.9v0.9h-0.9zM189.1 332.7h0.9v0.9h-0.9zM198.7 334.1h0.9v0.9h-0.9zM188.6 333.0h0.9v0.9h-0.9zM198.4 333.8h0.9v0.9h-0.9zM199.0 334.4h0.9v0.9h-0.9zM188.6 332.9h0.9v0.9h-0.9zM189.4 333.0h0.9v0.9h-0.9zM198.7 333.8h0.9v0.9h-0.9zM199.0 334.1h0.9v0.9h-0.9zM189.0 333.0h0.9v0.9h-0.9zM188.4 332.9h0.9v0.9h-0.9zM188.6 332.6h0.9v0.9h-0.9zM199.1 334.2h0.9v0.9h-0.9zM198.8 333.5h0.9v0.9h-0.9zM199.1 334.0h0.9v0.9h-0.9zM188.5 333.4h0.9v0.9h-0.9zM189.1 333.5h0.9v0.9h-0.9zM188.7 332.6h0.9v0.9h-0.9zM199.1 333.6h0.9v0.9h-0.9zM198.6 334.2h0.9v0.9h-0.9zM198.7 334.4h0.9v0.9h-0.9z" fill="rgb(25,197,174)" fill-opacity="1"/>
<path d="M200.9 337.3h0.9v0.9h-0.9zM200.9 337.1h0.9v0.9h-0.9zM201.1 336.6h0.9v0.9h-0.9zM200.9 337.0h0.9v0.9h-0.9zM200.6 336.9h0.9v0.9h-0.9zM200.8 336.6h0.9v0.9h-0.9zM200.7 337.1h0.9v0.9h-0.9zM200.5 336.7h0.9v0.9h-0.9zM201.1 337.2h0.9v0.9h-0.9zM200.8 337.2h0.9v0.9h-0.9zM200.4 337.0h0.9v0.9h-0.9zM200.5 336.8h0.9v0.9h-0.9zM194.3 335.1h0.9v0.9h-0.9zM201.9 337.2h0.9v0.9h-0.9zM194.3 335.3h0.9v0.9h-0.9zM193.5 335.4h0.9v0.9h-0.9zM201.4 337.5h0.9v0.9h-0.9zM202.1 336.7h0.9v0.9h-0.9zM201.8 336.9h0.9v0.9h-0.9zM202.2 337.3h0.9v0.9h-0.9zM194.3 334.6h0.9v0.9h-0.9zM194.0 334.9h0.9v0.9h-0.9zM202.0 336.5h0.9v0.9h-0.9zM193.5 335.1h0.9v0.9h-0.9zM202.0 336.7h0.9v0.9h-0.9zM193.6 334.9h0.9v0.9h-0.9zM194.0 334.8h0.9v0.9h-0.9zM193.7 335.0h0.9v0.9h-0.9zM201.7 336.5h0.9v0.9h-0.9zM198.7 337.1h0.9v0.9h-0.9zM201.1 336.5h0.9v0.9h-0.9zM200.6 336.5h0.9v0.9h-0.9zM200.4 336.0h0.9v0.9h-0.9zM198.9 336.7h0.9v0.9h-0.9zM198.9 337.5h0.9v0.9h-0.9zM199.1 336.5h0.9v0.9h-0.9zM198.9 337.0h0.9v0.9h-0.9zM200.5 336.4h0.9v0.9h-0.9zM199.3 336.9h0.9v0.9h-0.9zM201.2 335.6h0.9v0.9h-0.9zM201.2 336.0h0.9v0.9h-0.9zM200.9 335.9h0.9v0.9h-0.9zM198.7 337.3h0.9v0.9h-0.9zM199.3 336.6h0.9v0.9h-0.9zM200.7 336.3h0.9v0.9h-0.9zM198.9 336.6h0.9v0.9h-0.9zM201.4 336.4h0.9v0.9h-0.9zM199.0 336.6h0.9v0.9h-0.9zM200.5 336.5h0.9v0.9h-0.9zM198.5 336.8h0.9v0.9h-0.9zM200.6 336.2h0.9v0.9h-0.9zM198.7 336.7h0.9v0.9h-0.9zM188.0 332.2h0.9v0.9h-0.9zM188.3 331.9h0.9v0.9h-0.9zM187.9 332.1h0.9v0.9h-0.9zM187.6 332.4h0.9v0.9h-0.9zM187.6 331.9h0.9v0.9h-0.9zM188.2 331.9h0.9v0.9h-0.9zM192.7 329.2h0.9v0.9h-0.9zM187.9 331.6h0.9v0.9h-0.9zM187.6 331.8h0.9v0.9h-0.9zM187.6 331.5h0.9v0.9h-0.9zM187.7 331.6h0.9v0.9h-0.9zM193.1 328.8h0.9v0.9h-0.9zM192.4 328.8h0.9v0.9h-0.9zM188.2 331.7h0.9v0.9h-0.9zM188.1 332.0h0.9v0.9h-0.9zM187.7 331.7h0.9v0.9h-0.9zM202.8 336.5h0.9v0.9h-0.9zM202.8 337.3h0.9v0.9h-0.9zM202.6 337.5h0.9v0.9h-0.9zM202.5 337.0h0.9v0.9h-0.9zM202.5 336.8h0.9v0.9h-0.9zM203.3 336.6h0.9v0.9h-0.9zM203.3 336.6h0.9v0.9h-0.9zM203.3 336.8h0.9v0.9h-0.9zM202.6 337.4h0.9v0.9h-0.9zM203.2 337.2h0.9v0.9h-0.9zM202.5 337.0h0.9v0.9h-0.9zM202.8 336.7h0.9v0.9h-0.9zM188.1 329.6h0.9v0.9h-0.9zM195.3 335.4h0.9v0.9h-0.9zM194.9 334.5h0.9v0.9h-0.9zM187.4 330.2h0.9v0.9h-0.9zM194.7 335.4h0.9v0.9h-0.9zM194.5 335.4h0.9v0.9h-0.9zM194.5 335.5h0.9v0.9h-0.9zM194.9 335.2h0.9v0.9h-0.9zM188.1 330.4h0.9v0.9h-0.9zM188.2 330.0h0.9v0.9h-0.9zM195.1 335.0h0.9v0.9h-0.9zM195.0 334.8h0.9v0.9h-0.9zM195.4 334.9h0.9v0.9h-0.9zM187.5 329.5h0.9v0.9h-0.9zM194.5 334.7h0.9v0.9h-0.9zM187.7 329.9h0.9v0.9h-0.9zM188.2 330.1h0.9v0.9h-0.9zM194.6 335.0h0.9v0.9h-0.9zM188.3 330.1h0.9v0.9h-0.9zM195.3 334.8h0.9v0.9h-0.9zM199.5 336.9h0.9v0.9h-0.9zM200.3 336.5h0.9v0.9h-0.9zM199.4 336.6h0.9v0.9h-0.9zM200.2 336.7h0.9v0.9h-0.9zM199.9 337.2h0.9v0.9h-0.9zM199.6 336.8h0.9v0.9h-0.9zM200.0 337.0h0.9v0.9h-0.9zM199.9 336.9h0.9v0.9h-0.9zM194.8 329.7h0.9v0.9h-0.9zM195.2 329.6h0.9v0.9h-0.9zM194.7 329.7h0.9v0.9h-0.9zM194.6 329.9h0.9v0.9h-0.9zM194.5 329.7h0.9v0.9h-0.9zM195.4 330.5h0.9v0.9h-0.9zM195.4 329.9h0.9v0.9h-0.9zM194.4 329.6h0.9v0.9h-0.9zM194.5 330.0h0.9v0.9h-0.9zM194.6 329.9h0.9v0.9h-0.9zM194.7 330.3h0.9v0.9h-0.9zM195.0 330.2h0.9v0.9h-0.9zM195.7 334.9h0.9v0.9h-0.9zM196.3 335.3h0.9v0.9h-0.9zM196.1 335.2h0.9v0.9h-0.9zM195.8 334.9h0.9v0.9h-0.9zM195.7 334.6h0.9v0.9h-0.9zM195.9 335.4h0.9v0.9h-0.9zM195.5 334.9h0.9v0.9h-0.9zM195.7 335.1h0.9v0.9h-0.9zM196.4 335.2h0.9v0.9h-0.9zM195.7 335.4h0.9v0.9h-0.9zM195.5 335.1h0.9v0.9h-0.9zM195.6 335.1h0.9v0.9h-0.9zM199.8 334.9h0.9v0.9h-0.9zM199.8 335.5h0.9v0.9h-0.9zM200.2 334.8h0.9v0.9h-0.9zM199.6 335.3h0.9v0.9h-0.9zM199.6 335.5h0.9v0.9h-0.9zM199.6 335.5h0.9v0.9h-0.9zM199.6 334.9h0.9v0.9h-0.9zM200.4 334.9h0.9v0.9h-0.9zM200.0 334.8h0.9v0.9h-0.9zM199.4 334.8h0.9v0.9h-0.9zM196.9 333.2h0.9v0.9h-0.9zM197.4 333.2h0.9v0.9h-0.9zM197.0 333.4h0.9v0.9h-0.9zM197.2 332.7h0.9v0.9h-0.9zM197.1 333.0h0.9v0.9h-0.9zM196.6 333.4h0.9v0.9h-0.9zM197.2 333.1h0.9v0.9h-0.9zM191.1 333.7h0.9v0.9h-0.9zM191.5 329.1h0.9v0.9h-0.9zM192.2 329.1h0.9v0.9h-0.9zM191.0 333.6h0.9v0.9h-0.9zM192.3 329.3h0.9v0.9h-0.9zM191.2 334.1h0.9v0.9h-0.9zM190.9 333.5h0.9v0.9h-0.9zM190.4 334.1h0.9v0.9h-0.9zM190.8 333.7h0.9v0.9h-0.9zM190.9 334.5h0.9v0.9h-0.9zM192.0 329.4h0.9v0.9h-0.9zM191.0 333.7h0.9v0.9h-0.9zM190.7 333.8h0.9v0.9h-0.9zM192.1 328.8h0.9v0.9h-0.9zM190.5 334.4h0.9v0.9h-0.9zM190.9 334.2h0.9v0.9h-0.9zM191.1 334.4h0.9v0.9h-0.9zM195.7 331.6h0.9v0.9h-0.9zM196.4 332.3h0.9v0.9h-0.9zM195.9 332.3h0.9v0.9h-0.9zM195.5 331.7h0.9v0.9h-0.9zM195.8 331.5h0.9v0.9h-0.9zM195.8 331.7h0.9v0.9h-0.9zM195.9 332.4h0.9v0.9h-0.9zM195.8 332.1h0.9v0.9h-0.9zM195.4 332.0h0.9v0.9h-0.9zM196.4 332.5h0.9v0.9h-0.9zM195.7 332.4h0.9v0.9h-0.9zM188.3 330.8h0.9v0.9h-0.9zM187.5 331.0h0.9v0.9h-0.9zM188.8 329.0h0.9v0.9h-0.9zM187.5 330.6h0.9v0.9h-0.9zM189.4 328.8h0.9v0.9h-0.9zM188.1 330.8h0.9v0.9h-0.9zM188.8 329.1h0.9v0.9h-0.9zM188.6 329.0h0.9v0.9h-0.9zM188.4 329.4h0.9v0.9h-0.9zM189.2 329.0h0.9v0.9h-0.9zM188.3 331.4h0.9v0.9h-0.9zM189.3 328.9h0.9v0.9h-0.9zM188.0 330.7h0.9v0.9h-0.9zM189.3 329.4h0.9v0.9h-0.9zM188.0 330.5h0.9v0.9h-0.9zM188.6 329.0h0.9v0.9h-0.9zM187.5 330.6h0.9v0.9h-0.9zM188.2 330.6h0.9v0.9h-0.9zM189.3 328.9h0.9v0.9h-0.9zM187.5 331.1h0.9v0.9h-0.9zM188.7 329.3h0.9v0.9h-0.9zM188.2 331.5h0.9v0.9h-0.9zM189.0 329.5h0.9v0.9h-0.9zM189.1 328.9h0.9v0.9h-0.9zM187.4 331.3h0.9v0.9h-0.9z" fill="rgb(31,202,129)" fill-opacity="1"/>
<path d="M197.7 334.3h0.9v0.9h-0.9zM198.1 333.7h0.9v0.9h-0.9zM197.6 333.8h0.9v0.9h-0.9zM198.1 333.8h0.9v0.9h-0.9zM197.7 333.6h0.9v0.9h-0.9zM197.6 334.3h0.9v0.9h-0.9zM197.4 333.9h0.9v0.9h-0.9zM197.6 333.7h0.9v0.9h-0.9zM198.0 334.5h0.9v0.9h-0.9zM197.5 334.3h0.9v0.9h-0.9zM197.4 333.7h0.9v0.9h-0.9zM198.2 334.4h0.9v0.9h-0.9zM191.9 333.6h0.9v0.9h-0.9zM191.7 334.4h0.9v0.9h-0.9zM191.5 333.6h0.9v0.9h-0.9zM192.3 333.6h0.9v0.9h-0.9zM191.7 334.5h0.9v0.9h-0.9zM191.8 334.0h0.9v0.9h-0.9zM191.5 333.9h0.9v0.9h-0.9zM191.5 333.6h0.9v0.9h-0.9zM191.7 333.6h0.9v0.9h-0.9zM194.5 330.5h0.9v0.9h-0.9zM195.2 330.6h0.9v0.9h-0.9zM194.5 330.8h0.9v0.9h-0.9zM194.6 330.6h0.9v0.9h-0.9zM194.5 331.0h0.9v0.9h-0.9zM194.5 331.3h0.9v0.9h-0.9zM194.6 331.1h0.9v0.9h-0.9zM194.9 331.2h0.9v0.9h-0.9zM195.1 330.5h0.9v0.9h-0.9zM194.5 330.5h0.9v0.9h-0.9zM194.6 331.0h0.9v0.9h-0.9zM194.9 330.9h0.9v0.9h-0.9zM194.5 331.4h0.9v0.9h-0.9zM194.9 331.2h0.9v0.9h-0.9zM195.1 331.2h0.9v0.9h-0.9zM195.1 330.8h0.9v0.9h-0.9zM198.2 335.9h0.9v0.9h-0.9zM197.8 336.2h0.9v0.9h-0.9zM197.6 336.2h0.9v0.9h-0.9zM198.3 336.0h0.9v0.9h-0.9zM198.1 335.6h0.9v0.9h-0.9zM198.2 336.1h0.9v0.9h-0.9zM197.6 335.9h0.9v0.9h-0.9zM198.1 335.6h0.9v0.9h-0.9zM198.3 336.3h0.9v0.9h-0.9zM198.2 335.6h0.9v0.9h-0.9zM197.6 335.6h0.9v0.9h-0.9zM198.1 335.5h0.9v0.9h-0.9zM197.8 336.0h0.9v0.9h-0.9zM198.4 335.9h0.9v0.9h-0.9zM198.1 336.4h0.9v0.9h-0.9zM191.2 329.0h0.9v0.9h-0.9zM190.9 328.6h0.9v0.9h-0.9zM191.3 328.5h0.9v0.9h-0.9zM190.4 328.7h0.9v0.9h-0.9zM200.0 335.9h0.9v0.9h-0.9zM190.5 329.3h0.9v0.9h-0.9zM191.1 328.5h0.9v0.9h-0.9zM200.1 335.6h0.9v0.9h-0.9zM191.4 329.1h0.9v0.9h-0.9zM199.9 336.4h0.9v0.9h-0.9zM199.5 335.7h0.9v0.9h-0.9zM200.0 336.4h0.9v0.9h-0.9zM200.4 336.3h0.9v0.9h-0.9zM200.3 336.3h0.9v0.9h-0.9zM191.1 329.4h0.9v0.9h-0.9zM191.0 328.8h0.9v0.9h-0.9zM199.7 335.6h0.9v0.9h-0.9zM199.6 335.8h0.9v0.9h-0.9zM190.6 329.4h0.9v0.9h-0.9zM199.5 335.9h0.9v0.9h-0.9zM199.6 335.9h0.9v0.9h-0.9zM190.8 329.1h0.9v0.9h-0.9zM191.2 328.7h0.9v0.9h-0.9zM191.2 328.8h0.9v0.9h-0.9zM199.9 335.7h0.9v0.9h-0.9zM199.5 336.0h0.9v0.9h-0.9zM200.3 336.2h0.9v0.9h-0.9zM190.9 328.9h0.9v0.9h-0.9zM199.6 335.7h0.9v0.9h-0.9zM199.4 335.5h0.9v0.9h-0.9zM191.3 328.7h0.9v0.9h-0.9zM190.9 329.0h0.9v0.9h-0.9zM199.5 336.3h0.9v0.9h-0.9zM190.5 329.2h0.9v0.9h-0.9zM196.7 334.6h0.9v0.9h-0.9zM197.1 335.5h0.9v0.9h-0.9zM196.9 334.6h0.9v0.9h-0.9zM197.1 334.5h0.9v0.9h-0.9zM196.8 334.7h0.9v0.9h-0.9zM197.0 335.1h0.9v0.9h-0.9zM197.2 334.6h0.9v0.9h-0.9zM197.3 334.6h0.9v0.9h-0.9zM196.8 335.3h0.9v0.9h-0.9zM197.2 334.8h0.9v0.9h-0.9zM196.5 334.8h0.9v0.9h-0.9zM189.3 331.5h0.9v0.9h-0.9zM188.7 331.6h0.9v0.9h-0.9zM188.7 332.0h0.9v0.9h-0.9zM189.1 331.9h0.9v0.9h-0.9zM189.3 332.1h0.9v0.9h-0.9zM189.0 332.0h0.9v0.9h-0.9zM188.7 331.8h0.9v0.9h-0.9zM188.5 331.7h0.9v0.9h-0.9zM188.6 332.1h0.9v0.9h-0.9zM188.7 331.9h0.9v0.9h-0.9zM189.2 332.0h0.9v0.9h-0.9zM188.9 331.6h0.9v0.9h-0.9zM193.3 334.2h0.9v0.9h-0.9zM192.8 334.3h0.9v0.9h-0.9zM192.8 333.7h0.9v0.9h-0.9zM193.2 333.6h0.9v0.9h-0.9zM193.3 333.5h0.9v0.9h-0.9zM192.9 333.8h0.9v0.9h-0.9zM193.4 334.3h0.9v0.9h-0.9zM192.9 333.8h0.9v0.9h-0.9zM192.5 333.9h0.9v0.9h-0.9zM193.2 333.8h0.9v0.9h-0.9zM192.8 333.9h0.9v0.9h-0.9zM192.5 333.6h0.9v0.9h-0.9zM193.3 333.6h0.9v0.9h-0.9zM193.0 334.1h0.9v0.9h-0.9zM189.6 333.2h0.9v0.9h-0.9zM196.5 334.5h0.9v0.9h-0.9zM189.7 332.9h0.9v0.9h-0.9zM190.2 332.6h0.9v0.9h-0.9zM196.7 334.1h0.9v0.9h-0.9zM197.3 334.0h0.9v0.9h-0.9zM189.9 332.8h0.9v0.9h-0.9zM189.6 333.0h0.9v0.9h-0.9zM190.1 333.3h0.9v0.9h-0.9zM190.0 333.0h0.9v0.9h-0.9zM196.9 333.7h0.9v0.9h-0.9zM197.1 333.9h0.9v0.9h-0.9zM190.2 332.7h0.9v0.9h-0.9zM189.8 332.9h0.9v0.9h-0.9zM196.9 334.1h0.9v0.9h-0.9zM190.0 332.8h0.9v0.9h-0.9zM197.1 334.2h0.9v0.9h-0.9zM190.3 332.7h0.9v0.9h-0.9zM190.1 333.3h0.9v0.9h-0.9zM197.4 334.2h0.9v0.9h-0.9zM196.6 334.0h0.9v0.9h-0.9zM197.1 333.6h0.9v0.9h-0.9zM189.9 333.2h0.9v0.9h-0.9zM198.9 335.3h0.9v0.9h-0.9zM198.9 335.4h0.9v0.9h-0.9zM198.9 335.1h0.9v0.9h-0.9zM199.1 334.8h0.9v0.9h-0.9zM198.6 334.9h0.9v0.9h-0.9zM198.6 335.0h0.9v0.9h-0.9zM198.8 335.1h0.9v0.9h-0.9zM198.8 335.1h0.9v0.9h-0.9zM198.7 335.5h0.9v0.9h-0.9zM198.4 335.4h0.9v0.9h-0.9zM190.3 329.3h0.9v0.9h-0.9zM189.7 328.7h0.9v0.9h-0.9zM189.9 328.5h0.9v0.9h-0.9zM190.3 329.1h0.9v0.9h-0.9zM189.5 329.2h0.9v0.9h-0.9zM189.9 329.5h0.9v0.9h-0.9zM189.4 328.9h0.9v0.9h-0.9zM189.6 328.8h0.9v0.9h-0.9zM190.0 329.3h0.9v0.9h-0.9zM189.8 329.2h0.9v0.9h-0.9zM189.6 329.1h0.9v0.9h-0.9zM189.9 329.1h0.9v0.9h-0.9zM189.9 328.8h0.9v0.9h-0.9zM190.1 329.5h0.9v0.9h-0.9z" fill="rgb(39,204,83)" fill-opacity="1"/>
<path d="M196.1 333.8h0.9v0.9h-0.9zM196.4 333.6h0.9v0.9h-0.9zM196.3 333.7h0.9v0.9h-0.9zM196.2 334.1h0.9v0.9h-0.9zM196.0 333.8h0.9v0.9h-0.9zM195.6 333.5h0.9v0.9h-0.9zM195.4 333.5h0.9v0.9h-0.9zM196.3 333.6h0.9v0.9h-0.9zM195.7 334.0h0.9v0.9h-0.9zM196.1 333.8h0.9v0.9h-0.9zM196.0 334.1h0.9v0.9h-0.9zM196.0 334.3h0.9v0.9h-0.9zM196.1 333.5h0.9v0.9h-0.9zM196.1 333.8h0.9v0.9h-0.9zM195.5 334.3h0.9v0.9h-0.9zM194.3 330.4h0.9v0.9h-0.9zM199.3 336.4h0.9v0.9h-0.9zM193.4 329.6h0.9v0.9h-0.9zM194.3 330.5h0.9v0.9h-0.9zM198.7 336.0h0.9v0.9h-0.9zM198.6 335.5h0.9v0.9h-0.9zM199.4 336.2h0.9v0.9h-0.9zM199.4 336.0h0.9v0.9h-0.9zM198.6 336.0h0.9v0.9h-0.9zM193.9 330.4h0.9v0.9h-0.9zM194.3 330.4h0.9v0.9h-0.9zM198.6 335.9h0.9v0.9h-0.9zM194.3 330.1h0.9v0.9h-0.9zM193.7 330.4h0.9v0.9h-0.9zM198.8 336.3h0.9v0.9h-0.9zM199.0 336.0h0.9v0.9h-0.9zM199.0 335.9h0.9v0.9h-0.9zM198.7 335.8h0.9v0.9h-0.9zM198.5 335.7h0.9v0.9h-0.9zM193.8 329.7h0.9v0.9h-0.9zM193.5 329.7h0.9v0.9h-0.9zM189.3 330.2h0.9v0.9h-0.9zM188.7 330.1h0.9v0.9h-0.9zM189.0 330.0h0.9v0.9h-0.9zM189.1 330.1h0.9v0.9h-0.9zM188.6 329.6h0.9v0.9h-0.9zM189.3 329.6h0.9v0.9h-0.9zM189.1 329.9h0.9v0.9h-0.9zM188.7 329.6h0.9v0.9h-0.9zM189.2 329.9h0.9v0.9h-0.9zM188.8 330.4h0.9v0.9h-0.9zM189.3 330.2h0.9v0.9h-0.9zM188.6 330.2h0.9v0.9h-0.9zM189.0 329.8h0.9v0.9h-0.9zM189.0 330.3h0.9v0.9h-0.9zM189.2 329.8h0.9v0.9h-0.9zM195.8 333.3h0.9v0.9h-0.9zM198.2 334.8h0.9v0.9h-0.9zM197.9 335.3h0.9v0.9h-0.9zM197.4 334.6h0.9v0.9h-0.9zM197.9 334.8h0.9v0.9h-0.9zM197.8 334.8h0.9v0.9h-0.9zM195.6 332.8h0.9v0.9h-0.9zM195.6 333.0h0.9v0.9h-0.9zM197.8 335.4h0.9v0.9h-0.9zM196.2 333.0h0.9v0.9h-0.9zM197.5 334.8h0.9v0.9h-0.9zM196.2 333.3h0.9v0.9h-0.9zM198.1 334.6h0.9v0.9h-0.9zM198.2 334.9h0.9v0.9h-0.9zM195.7 332.9h0.9v0.9h-0.9zM195.7 333.3h0.9v0.9h-0.9zM197.6 335.0h0.9v0.9h-0.9zM198.3 335.5h0.9v0.9h-0.9zM196.2 333.3h0.9v0.9h-0.9zM197.5 335.4h0.9v0.9h-0.9zM196.4 333.3h0.9v0.9h-0.9zM196.3 333.3h0.9v0.9h-0.9zM197.8 334.8h0.9v0.9h-0.9zM195.7 333.2h0.9v0.9h-0.9zM195.6 332.5h0.9v0.9h-0.9zM196.1 332.9h0.9v0.9h-0.9zM196.3 333.2h0.9v0.9h-0.9zM198.1 335.2h0.9v0.9h-0.9zM198.0 334.6h0.9v0.9h-0.9zM197.6 335.5h0.9v0.9h-0.9zM196.0 332.9h0.9v0.9h-0.9zM198.2 334.6h0.9v0.9h-0.9zM198.2 335.3h0.9v0.9h-0.9zM197.7 335.2h0.9v0.9h-0.9zM195.5 333.2h0.9v0.9h-0.9zM189.2 330.7h0.9v0.9h-0.9zM188.6 330.7h0.9v0.9h-0.9zM189.2 331.3h0.9v0.9h-0.9zM188.8 331.4h0.9v0.9h-0.9zM189.3 330.6h0.9v0.9h-0.9zM188.6 330.7h0.9v0.9h-0.9zM188.6 330.6h0.9v0.9h-0.9zM189.1 331.2h0.9v0.9h-0.9zM188.9 330.9h0.9v0.9h-0.9zM188.5 331.2h0.9v0.9h-0.9zM189.3 330.5h0.9v0.9h-0.9zM188.5 331.4h0.9v0.9h-0.9zM189.0 331.3h0.9v0.9h-0.9zM188.5 331.0h0.9v0.9h-0.9zM188.7 331.4h0.9v0.9h-0.9zM189.0 330.5h0.9v0.9h-0.9zM189.4 331.0h0.9v0.9h-0.9zM194.7 332.4h0.9v0.9h-0.9zM195.3 331.7h0.9v0.9h-0.9zM194.5 331.5h0.9v0.9h-0.9zM195.1 332.3h0.9v0.9h-0.9zM194.5 331.7h0.9v0.9h-0.9zM195.4 331.5h0.9v0.9h-0.9zM195.1 331.6h0.9v0.9h-0.9zM195.2 332.1h0.9v0.9h-0.9zM194.5 332.1h0.9v0.9h-0.9zM194.7 332.3h0.9v0.9h-0.9zM195.0 332.3h0.9v0.9h-0.9zM194.6 332.4h0.9v0.9h-0.9zM194.4 331.7h0.9v0.9h-0.9zM194.5 332.2h0.9v0.9h-0.9zM194.5 331.7h0.9v0.9h-0.9zM194.8 332.1h0.9v0.9h-0.9zM194.9 331.5h0.9v0.9h-0.9zM194.7 332.0h0.9v0.9h-0.9zM194.4 331.6h0.9v0.9h-0.9zM193.8 333.8h0.9v0.9h-0.9zM193.6 334.5h0.9v0.9h-0.9zM194.6 333.7h0.9v0.9h-0.9zM194.4 334.0h0.9v0.9h-0.9zM193.7 333.8h0.9v0.9h-0.9zM194.1 333.6h0.9v0.9h-0.9zM194.4 333.7h0.9v0.9h-0.9zM195.4 334.0h0.9v0.9h-0.9zM194.5 334.3h0.9v0.9h-0.9zM195.2 333.8h0.9v0.9h-0.9zM194.9 333.7h0.9v0.9h-0.9zM193.5 334.5h0.9v0.9h-0.9zM194.0 333.9h0.9v0.9h-0.9zM194.8 333.6h0.9v0.9h-0.9zM194.5 334.0h0.9v0.9h-0.9zM195.3 334.1h0.9v0.9h-0.9zM194.0 334.3h0.9v0.9h-0.9zM194.2 334.2h0.9v0.9h-0.9zM195.3 334.2h0.9v0.9h-0.9zM194.0 333.8h0.9v0.9h-0.9zM195.0 334.3h0.9v0.9h-0.9zM194.1 334.4h0.9v0.9h-0.9zM195.0 333.7h0.9v0.9h-0.9zM194.2 334.0h0.9v0.9h-0.9zM194.3 333.8h0.9v0.9h-0.9zM193.4 333.6h0.9v0.9h-0.9zM194.2 334.1h0.9v0.9h-0.9zM194.8 334.2h0.9v0.9h-0.9zM194.1 333.5h0.9v0.9h-0.9zM194.7 334.1h0.9v0.9h-0.9zM193.7 334.2h0.9v0.9h-0.9zM194.1 333.6h0.9v0.9h-0.9zM194.0 334.0h0.9v0.9h-0.9zM194.2 333.5h0.9v0.9h-0.9zM195.3 334.0h0.9v0.9h-0.9z" fill="rgb(91,212,56)" fill-opacity="1"/>
<path d="M189.9 330.4h0.9v0.9h-0.9zM189.9 329.8h0.9v0.9h-0.9zM190.0 330.5h0.9v0.9h-0.9zM190.1 330.2h0.9v0.9h-0.9zM190.0 330.3h0.9v0.9h-0.9zM190.0 329.6h0.9v0.9h-0.9zM189.5 330.5h0.9v0.9h-0.9zM189.6 330.2h0.9v0.9h-0.9zM190.3 332.4h0.9v0.9h-0.9zM190.4 332.0h0.9v0.9h-0.9zM189.9 331.8h0.9v0.9h-0.9zM190.3 332.3h0.9v0.9h-0.9zM189.7 331.9h0.9v0.9h-0.9zM189.8 332.1h0.9v0.9h-0.9zM189.6 331.6h0.9v0.9h-0.9zM189.8 332.0h0.9v0.9h-0.9zM189.8 331.7h0.9v0.9h-0.9zM190.1 331.6h0.9v0.9h-0.9zM190.3 332.4h0.9v0.9h-0.9zM190.2 332.0h0.9v0.9h-0.9zM190.3 331.8h0.9v0.9h-0.9zM189.7 332.4h0.9v0.9h-0.9zM190.8 333.0h0.9v0.9h-0.9zM191.3 333.4h0.9v0.9h-0.9zM190.7 333.5h0.9v0.9h-0.9zM190.6 333.2h0.9v0.9h-0.9zM190.7 333.3h0.9v0.9h-0.9zM191.2 333.1h0.9v0.9h-0.9zM191.3 332.8h0.9v0.9h-0.9zM190.5 333.3h0.9v0.9h-0.9zM191.3 333.1h0.9v0.9h-0.9zM190.8 333.1h0.9v0.9h-0.9zM191.0 333.2h0.9v0.9h-0.9zM191.3 333.2h0.9v0.9h-0.9zM190.5 332.5h0.9v0.9h-0.9zM190.8 332.9h0.9v0.9h-0.9zM190.5 333.2h0.9v0.9h-0.9zM191.3 333.2h0.9v0.9h-0.9zM191.8 332.7h0.9v0.9h-0.9zM191.9 332.7h0.9v0.9h-0.9zM192.4 332.8h0.9v0.9h-0.9zM191.9 332.7h0.9v0.9h-0.9zM192.0 332.7h0.9v0.9h-0.9zM191.5 333.0h0.9v0.9h-0.9zM191.9 333.3h0.9v0.9h-0.9zM191.7 332.8h0.9v0.9h-0.9zM191.6 332.5h0.9v0.9h-0.9zM191.6 332.6h0.9v0.9h-0.9zM191.7 332.8h0.9v0.9h-0.9zM191.8 332.6h0.9v0.9h-0.9zM192.1 333.5h0.9v0.9h-0.9zM192.0 333.2h0.9v0.9h-0.9zM192.3 333.3h0.9v0.9h-0.9zM191.5 333.3h0.9v0.9h-0.9zM192.2 332.9h0.9v0.9h-0.9zM191.7 332.7h0.9v0.9h-0.9zM191.9 332.9h0.9v0.9h-0.9zM191.9 333.3h0.9v0.9h-0.9zM192.7 332.6h0.9v0.9h-0.9zM194.8 333.4h0.9v0.9h-0.9zM192.8 332.9h0.9v0.9h-0.9zM193.3 332.6h0.9v0.9h-0.9zM194.9 333.3h0.9v0.9h-0.9zM192.5 332.9h0.9v0.9h-0.9zM192.5 332.8h0.9v0.9h-0.9zM194.6 332.8h0.9v0.9h-0.9zM193.1 332.7h0.9v0.9h-0.9zM195.0 332.7h0.9v0.9h-0.9zM192.5 333.3h0.9v0.9h-0.9zM195.1 333.1h0.9v0.9h-0.9zM195.0 332.9h0.9v0.9h-0.9zM194.9 333.3h0.9v0.9h-0.9zM192.7 333.3h0.9v0.9h-0.9zM194.6 332.7h0.9v0.9h-0.9zM195.2 333.1h0.9v0.9h-0.9zM193.2 332.8h0.9v0.9h-0.9zM194.7 332.7h0.9v0.9h-0.9zM194.9 333.3h0.9v0.9h-0.9zM194.6 332.8h0.9v0.9h-0.9zM192.6 333.1h0.9v0.9h-0.9zM192.8 332.6h0.9v0.9h-0.9zM192.5 333.0h0.9v0.9h-0.9zM192.9 333.4h0.9v0.9h-0.9zM192.5 333.1h0.9v0.9h-0.9zM194.9 333.4h0.9v0.9h-0.9zM195.4 333.0h0.9v0.9h-0.9zM194.5 333.4h0.9v0.9h-0.9zM194.4 332.9h0.9v0.9h-0.9zM192.8 333.0h0.9v0.9h-0.9zM195.3 333.1h0.9v0.9h-0.9zM193.3 333.5h0.9v0.9h-0.9zM195.2 332.8h0.9v0.9h-0.9zM193.3 332.5h0.9v0.9h-0.9zM194.9 332.8h0.9v0.9h-0.9zM192.9 333.1h0.9v0.9h-0.9zM192.4 332.5h0.9v0.9h-0.9zM195.2 333.4h0.9v0.9h-0.9zM193.0 332.6h0.9v0.9h-0.9zM190.2 331.0h0.9v0.9h-0.9zM190.2 330.8h0.9v0.9h-0.9zM190.0 331.3h0.9v0.9h-0.9zM190.0 331.2h0.9v0.9h-0.9zM190.2 331.3h0.9v0.9h-0.9zM190.1 331.3h0.9v0.9h-0.9zM190.1 330.8h0.9v0.9h-0.9zM189.7 331.1h0.9v0.9h-0.9zM189.7 330.9h0.9v0.9h-0.9zM190.4 330.7h0.9v0.9h-0.9zM189.7 330.6h0.9v0.9h-0.9zM190.1 331.4h0.9v0.9h-0.9zM189.6 331.3h0.9v0.9h-0.9zM189.5 331.4h0.9v0.9h-0.9zM193.7 331.3h0.9v0.9h-0.9zM194.3 331.3h0.9v0.9h-0.9zM194.1 330.9h0.9v0.9h-0.9zM194.0 331.0h0.9v0.9h-0.9zM194.0 331.2h0.9v0.9h-0.9zM194.0 330.6h0.9v0.9h-0.9zM193.8 330.9h0.9v0.9h-0.9zM194.0 331.0h0.9v0.9h-0.9zM193.4 331.1h0.9v0.9h-0.9zM194.2 331.1h0.9v0.9h-0.9zM193.8 331.3h0.9v0.9h-0.9zM190.8 330.2h0.9v0.9h-0.9zM191.1 330.1h0.9v0.9h-0.9zM191.2 330.3h0.9v0.9h-0.9zM191.3 330.5h0.9v0.9h-0.9zM190.5 330.3h0.9v0.9h-0.9zM190.5 330.2h0.9v0.9h-0.9zM191.2 330.2h0.9v0.9h-0.9zM191.1 330.2h0.9v0.9h-0.9zM190.6 329.6h0.9v0.9h-0.9zM191.3 329.8h0.9v0.9h-0.9zM190.7 329.7h0.9v0.9h-0.9zM190.6 330.2h0.9v0.9h-0.9zM191.3 329.9h0.9v0.9h-0.9zM191.3 330.0h0.9v0.9h-0.9zM190.5 329.7h0.9v0.9h-0.9z" fill="rgb(147,219,31)" fill-opacity="1"/>
<path d="M192.6 330.4h0.9v0.9h-0.9zM192.6 329.9h0.9v0.9h-0.9zM192.9 329.8h0.9v0.9h-0.9zM192.6 330.0h0.9v0.9h-0.9zM192.7 330.1h0.9v0.9h-0.9zM192.7 330.2h0.9v0.9h-0.9zM192.6 330.4h0.9v0.9h-0.9zM193.3 330.5h0.9v0.9h-0.9zM193.3 330.5h0.9v0.9h-0.9zM193.3 329.8h0.9v0.9h-0.9zM193.0 330.3h0.9v0.9h-0.9zM192.7 330.2h0.9v0.9h-0.9zM193.1 330.1h0.9v0.9h-0.9zM192.5 330.0h0.9v0.9h-0.9zM193.1 329.5h0.9v0.9h-0.9zM193.3 330.4h0.9v0.9h-0.9zM192.7 329.7h0.9v0.9h-0.9zM193.0 329.7h0.9v0.9h-0.9zM193.4 329.9h0.9v0.9h-0.9zM193.3 330.4h0.9v0.9h-0.9zM192.4 330.1h0.9v0.9h-0.9zM192.8 330.3h0.9v0.9h-0.9zM192.7 330.3h0.9v0.9h-0.9zM192.5 329.6h0.9v0.9h-0.9zM193.8 333.5h0.9v0.9h-0.9zM194.0 333.3h0.9v0.9h-0.9zM194.2 332.8h0.9v0.9h-0.9zM193.4 332.6h0.9v0.9h-0.9zM193.8 332.6h0.9v0.9h-0.9zM193.9 333.3h0.9v0.9h-0.9zM194.3 333.2h0.9v0.9h-0.9zM193.9 333.2h0.9v0.9h-0.9zM194.2 333.4h0.9v0.9h-0.9zM194.3 333.0h0.9v0.9h-0.9zM193.8 333.2h0.9v0.9h-0.9zM193.9 332.8h0.9v0.9h-0.9zM193.8 332.8h0.9v0.9h-0.9zM193.7 332.7h0.9v0.9h-0.9zM194.1 333.1h0.9v0.9h-0.9zM194.0 333.4h0.9v0.9h-0.9zM191.0 331.6h0.9v0.9h-0.9zM191.0 332.4h0.9v0.9h-0.9zM191.2 332.4h0.9v0.9h-0.9zM191.1 332.0h0.9v0.9h-0.9zM191.1 331.7h0.9v0.9h-0.9zM191.1 332.0h0.9v0.9h-0.9zM190.5 332.2h0.9v0.9h-0.9zM191.2 332.0h0.9v0.9h-0.9zM190.4 332.3h0.9v0.9h-0.9zM190.9 331.8h0.9v0.9h-0.9zM190.7 332.3h0.9v0.9h-0.9zM191.0 331.9h0.9v0.9h-0.9zM191.4 331.6h0.9v0.9h-0.9zM190.6 332.5h0.9v0.9h-0.9zM194.3 331.9h0.9v0.9h-0.9zM194.2 331.6h0.9v0.9h-0.9zM194.1 332.4h0.9v0.9h-0.9zM193.6 331.8h0.9v0.9h-0.9zM193.9 332.2h0.9v0.9h-0.9zM193.8 332.3h0.9v0.9h-0.9zM194.3 332.2h0.9v0.9h-0.9zM194.1 331.9h0.9v0.9h-0.9zM193.8 331.9h0.9v0.9h-0.9zM193.6 331.5h0.9v0.9h-0.9zM193.7 331.9h0.9v0.9h-0.9zM193.6 331.9h0.9v0.9h-0.9zM193.8 332.1h0.9v0.9h-0.9zM193.9 332.3h0.9v0.9h-0.9zM193.9 332.1h0.9v0.9h-0.9zM194.2 332.1h0.9v0.9h-0.9zM194.0 332.4h0.9v0.9h-0.9zM194.3 332.4h0.9v0.9h-0.9zM194.1 332.3h0.9v0.9h-0.9zM194.3 332.4h0.9v0.9h-0.9zM191.5 331.8h0.9v0.9h-0.9zM191.6 331.6h0.9v0.9h-0.9zM192.1 332.0h0.9v0.9h-0.9zM192.4 332.2h0.9v0.9h-0.9zM191.8 331.6h0.9v0.9h-0.9zM192.2 332.0h0.9v0.9h-0.9zM191.5 332.3h0.9v0.9h-0.9zM192.2 332.1h0.9v0.9h-0.9zM191.6 331.9h0.9v0.9h-0.9zM191.6 332.1h0.9v0.9h-0.9zM192.0 331.9h0.9v0.9h-0.9zM192.2 332.4h0.9v0.9h-0.9zM192.0 332.2h0.9v0.9h-0.9zM191.5 332.5h0.9v0.9h-0.9zM192.2 329.8h0.9v0.9h-0.9zM191.6 330.5h0.9v0.9h-0.9zM191.5 330.2h0.9v0.9h-0.9zM191.8 329.8h0.9v0.9h-0.9zM191.6 329.8h0.9v0.9h-0.9zM191.8 329.6h0.9v0.9h-0.9zM191.9 330.0h0.9v0.9h-0.9zM192.0 329.6h0.9v0.9h-0.9zM192.2 330.2h0.9v0.9h-0.9zM192.3 330.1h0.9v0.9h-0.9zM191.5 330.0h0.9v0.9h-0.9zM192.0 330.4h0.9v0.9h-0.9zM191.9 330.3h0.9v0.9h-0.9zM191.6 330.1h0.9v0.9h-0.9zM191.7 330.3h0.9v0.9h-0.9zM191.9 329.8h0.9v0.9h-0.9zM192.0 330.1h0.9v0.9h-0.9zM191.5 329.7h0.9v0.9h-0.9zM191.9 330.0h0.9v0.9h-0.9zM192.3 330.0h0.9v0.9h-0.9zM192.3 330.4h0.9v0.9h-0.9zM191.6 330.1h0.9v0.9h-0.9zM192.2 329.5h0.9v0.9h-0.9zM191.5 330.1h0.9v0.9h-0.9zM191.6 330.1h0.9v0.9h-0.9zM190.6 331.4h0.9v0.9h-0.9zM190.6 331.4h0.9v0.9h-0.9zM191.0 331.1h0.9v0.9h-0.9zM190.4 331.2h0.9v0.9h-0.9zM191.0 331.3h0.9v0.9h-0.9zM191.2 331.4h0.9v0.9h-0.9zM190.6 331.1h0.9v0.9h-0.9zM190.9 330.6h0.9v0.9h-0.9zM191.1 331.1h0.9v0.9h-0.9zM190.5 330.6h0.9v0.9h-0.9zM190.8 330.8h0.9v0.9h-0.9zM190.4 331.5h0.9v0.9h-0.9zM190.7 331.0h0.9v0.9h-0.9zM190.9 330.8h0.9v0.9h-0.9zM190.4 331.2h0.9v0.9h-0.9zM190.6 330.9h0.9v0.9h-0.9zM191.2 330.9h0.9v0.9h-0.9zM190.7 331.4h0.9v0.9h-0.9zM191.2 331.0h0.9v0.9h-0.9zM191.2 330.8h0.9v0.9h-0.9zM190.5 330.5h0.9v0.9h-0.9zM190.9 330.8h0.9v0.9h-0.9zM191.1 331.0h0.9v0.9h-0.9zM191.0 331.0h0.9v0.9h-0.9zM190.7 331.0h0.9v0.9h-0.9zM191.1 330.7h0.9v0.9h-0.9zM190.5 330.9h0.9v0.9h-0.9zM193.2 331.7h0.9v0.9h-0.9zM193.1 331.8h0.9v0.9h-0.9zM193.2 331.8h0.9v0.9h-0.9zM193.4 332.1h0.9v0.9h-0.9zM193.0 331.7h0.9v0.9h-0.9zM192.6 331.7h0.9v0.9h-0.9zM193.2 332.1h0.9v0.9h-0.9zM193.3 331.5h0.9v0.9h-0.9zM193.3 331.7h0.9v0.9h-0.9zM192.5 332.2h0.9v0.9h-0.9zM192.7 332.5h0.9v0.9h-0.9zM192.6 331.8h0.9v0.9h-0.9zM192.8 332.2h0.9v0.9h-0.9zM193.0 332.5h0.9v0.9h-0.9zM193.4 332.1h0.9v0.9h-0.9zM192.5 331.9h0.9v0.9h-0.9zM192.5 332.1h0.9v0.9h-0.9zM193.2 332.4h0.9v0.9h-0.9z" fill="rgb(231,215,21)" fill-opacity="1"/>
<path d="M192.7 331.3h0.9v0.9h-0.9zM193.2 330.5h0.9v0.9h-0.9zM191.9 330.8h0.9v0.9h-0.9zM192.5 331.5h0.9v0.9h-0.9zM192.0 331.2h0.9v0.9h-0.9zM192.9 331.5h0.9v0.9h-0.9zM193.2 331.3h0.9v0.9h-0.9zM191.9 331.1h0.9v0.9h-0.9zM191.4 331.5h0.9v0.9h-0.9zM192.1 330.9h0.9v0.9h-0.9zM193.4 331.1h0.9v0.9h-0.9zM192.3 330.6h0.9v0.9h-0.9zM192.4 331.0h0.9v0.9h-0.9zM191.7 331.0h0.9v0.9h-0.9zM193.3 331.4h0.9v0.9h-0.9zM192.5 331.4h0.9v0.9h-0.9zM192.9 331.3h0.9v0.9h-0.9zM193.0 331.2h0.9v0.9h-0.9zM192.5 331.4h0.9v0.9h-0.9zM192.6 330.7h0.9v0.9h-0.9zM192.9 331.4h0.9v0.9h-0.9zM192.7 330.6h0.9v0.9h-0.9zM192.7 330.7h0.9v0.9h-0.9zM192.4 331.4h0.9v0.9h-0.9zM193.4 331.4h0.9v0.9h-0.9zM193.4 331.0h0.9v0.9h-0.9zM192.8 330.6h0.9v0.9h-0.9zM191.5 331.0h0.9v0.9h-0.9zM192.1 330.5h0.9v0.9h-0.9zM192.0 331.3h0.9v0.9h-0.9zM192.0 331.1h0.9v0.9h-0.9zM193.4 330.8h0.9v0.9h-0.9zM192.6 330.9h0.9v0.9h-0.9zM192.9 331.4h0.9v0.9h-0.9zM192.3 331.1h0.9v0.9h-0.9zM192.3 331.0h0.9v0.9h-0.9zM193.4 330.7h0.9v0.9h-0.9zM191.8 330.6h0.9v0.9h-0.9zM191.6 331.0h0.9v0.9h-0.9zM193.3 330.5h0.9v0.9h-0.9zM192.6 330.6h0.9v0.9h-0.9zM192.7 331.5h0.9v0.9h-0.9zM192.8 331.2h0.9v0.9h-0.9zM192.1 331.4h0.9v0.9h-0.9zM192.6 331.3h0.9v0.9h-0.9zM191.9 331.5h0.9v0.9h-0.9zM192.7 330.7h0.9v0.9h-0.9zM191.8 331.0h0.9v0.9h-0.9zM192.4 331.5h0.9v0.9h-0.9zM192.4 330.6h0.9v0.9h-0.9zM191.4 331.2h0.9v0.9h-0.9z" fill="rgb(225,45,20)" fill-opacity="1"/>
<rect x="205.1" y="297.3" width="29.70" height="23.10" fill="none" stroke="#333" stroke-width="0.9"/>
<line x1="22.40" y1="348.50" x2="22.40" y2="290.00" stroke="#222" stroke-width="1.0"/>
<path d="M22.4,284.8 L20.1,291 L24.7,291 Z" fill="#222"/>
<text transform="translate(12.70,319.50) rotate(-90)" x="0" y="3.49" font-size="9.7" text-anchor="middle" fill="#231f20" stroke="#231f20" stroke-width="0.15" font-weight="bold" textLength="18.50" lengthAdjust="spacingAndGlyphs">SCA-1</text>
<line x1="36.00" y1="358.20" x2="240.00" y2="358.20" stroke="#333" stroke-width="1.0"/>
<path d="M246,358.2 L239.8,355.9 L239.8,360.5 Z" fill="#222"/>
<text x="55.6" y="370.34" font-size="9" font-weight="bold" text-anchor="middle" fill="#231f20" textLength="11.8" lengthAdjust="spacingAndGlyphs">cKit</text>
<text x="340.00" y="248.93" font-size="7.3" text-anchor="middle" fill="#52ba60" stroke="#52ba60" stroke-width="0.22" font-style="italic">RoLoRiG/Mx1CRE</text>
<text x="316.50" y="266.42" font-size="7.4" text-anchor="start" fill="#2a2a2a" stroke="#2a2a2a" stroke-width="0.22" font-style="italic">Wild type</text>
<line x1="304.60" y1="255.00" x2="304.60" y2="366.85" stroke="#000" stroke-width="1.3"/>
<line x1="304.00" y1="366.25" x2="377.50" y2="366.25" stroke="#000" stroke-width="1.3"/>
<line x1="301.40" y1="257.50" x2="304.60" y2="257.50" stroke="#000" stroke-width="1.1"/>
<text x="297.00" y="260.06" font-size="7.1" text-anchor="end" fill="#231f20" stroke="#231f20" stroke-width="0.22">200</text>
<line x1="301.40" y1="284.69" x2="304.60" y2="284.69" stroke="#000" stroke-width="1.1"/>
<text x="297.00" y="287.24" font-size="7.1" text-anchor="end" fill="#231f20" stroke="#231f20" stroke-width="0.22">150</text>
<line x1="301.40" y1="311.88" x2="304.60" y2="311.88" stroke="#000" stroke-width="1.1"/>
<text x="297.00" y="314.43" font-size="7.1" text-anchor="end" fill="#231f20" stroke="#231f20" stroke-width="0.22">100</text>
<line x1="301.40" y1="339.06" x2="304.60" y2="339.06" stroke="#000" stroke-width="1.1"/>
<text x="297.00" y="341.62" font-size="7.1" text-anchor="end" fill="#231f20" stroke="#231f20" stroke-width="0.22">50</text>
<line x1="301.40" y1="366.25" x2="304.60" y2="366.25" stroke="#000" stroke-width="1.1"/>
<text x="297.00" y="368.81" font-size="7.1" text-anchor="end" fill="#231f20" stroke="#231f20" stroke-width="0.22">0</text>
<rect x="315.50" y="313.25" width="18.75" height="53.00" fill="#455465"/>
<rect x="346.70" y="311.20" width="18.60" height="55.05" fill="#3db54b"/>
<line x1="325.00" y1="366.25" x2="325.00" y2="369.25" stroke="#000" stroke-width="1.1"/>
<line x1="356.00" y1="366.25" x2="356.00" y2="369.25" stroke="#000" stroke-width="1.1"/>
<line x1="322.70" y1="285.30" x2="355.80" y2="285.30" stroke="#1a1a1a" stroke-width="1.35"/>
<text x="339.40" y="281.64" font-size="7.2" text-anchor="middle" fill="#222" stroke="#222" stroke-width="0.22">ns</text>
<line x1="356.00" y1="297.60" x2="356.00" y2="321.80" stroke="#000" stroke-width="1.1"/>
<line x1="351.00" y1="297.60" x2="361.00" y2="297.60" stroke="#000" stroke-width="1.1"/>
<line x1="351.00" y1="321.80" x2="361.00" y2="321.80" stroke="#000" stroke-width="1.1"/>
<circle cx="321.60" cy="312.10" r="1.85" fill="#0a0a0a"/>
<circle cx="328.20" cy="312.10" r="1.85" fill="#0a0a0a"/>
<circle cx="356.00" cy="291.20" r="1.85" fill="#0a0a0a"/>
<circle cx="356.00" cy="303.90" r="1.85" fill="#0a0a0a"/>
<circle cx="352.60" cy="315.40" r="1.85" fill="#0a0a0a"/>
<circle cx="359.50" cy="317.90" r="1.85" fill="#0a0a0a"/>
<circle cx="352.60" cy="320.40" r="1.85" fill="#0a0a0a"/>
<text transform="translate(275.60,313.50) rotate(-90)" x="0" y="3.42" font-size="9.5" text-anchor="middle" fill="#231f20" stroke="#231f20" stroke-width="0.5" textLength="92.00" lengthAdjust="spacingAndGlyphs">Relative puromycin signal (%)</text>
<text x="473.30" y="250.70" font-size="7.5" text-anchor="middle" fill="#c9334f" stroke="#c9334f" stroke-width="0.15" font-style="italic">KRas<tspan font-size="4.50" dy="-3.00" stroke-width="0.08">G12D</tspan><tspan dy="3.00">/Mx1CRE</tspan></text>
<text x="450.00" y="266.62" font-size="7.4" text-anchor="start" fill="#2a2a2a" stroke="#2a2a2a" stroke-width="0.22" font-style="italic">Wild type</text>
<line x1="437.50" y1="257.50" x2="437.50" y2="366.85" stroke="#000" stroke-width="1.3"/>
<line x1="436.90" y1="366.25" x2="512.50" y2="366.25" stroke="#000" stroke-width="1.3"/>
<line x1="434.30" y1="259.50" x2="437.50" y2="259.50" stroke="#000" stroke-width="1.1"/>
<text x="431.10" y="262.06" font-size="7.1" text-anchor="end" fill="#231f20" stroke="#231f20" stroke-width="0.22">200</text>
<line x1="434.30" y1="286.19" x2="437.50" y2="286.19" stroke="#000" stroke-width="1.1"/>
<text x="431.10" y="288.74" font-size="7.1" text-anchor="end" fill="#231f20" stroke="#231f20" stroke-width="0.22">150</text>
<line x1="434.30" y1="312.88" x2="437.50" y2="312.88" stroke="#000" stroke-width="1.1"/>
<text x="431.10" y="315.43" font-size="7.1" text-anchor="end" fill="#231f20" stroke="#231f20" stroke-width="0.22">100</text>
<line x1="434.30" y1="339.56" x2="437.50" y2="339.56" stroke="#000" stroke-width="1.1"/>
<text x="431.10" y="342.12" font-size="7.1" text-anchor="end" fill="#231f20" stroke="#231f20" stroke-width="0.22">50</text>
<line x1="434.30" y1="366.25" x2="437.50" y2="366.25" stroke="#000" stroke-width="1.1"/>
<text x="431.10" y="368.81" font-size="7.1" text-anchor="end" fill="#231f20" stroke="#231f20" stroke-width="0.22">0</text>
<rect x="449.50" y="314.25" width="18.00" height="52.00" fill="#455465"/>
<rect x="479.80" y="289.00" width="18.00" height="77.25" fill="#c8102e"/>
<line x1="458.50" y1="366.25" x2="458.50" y2="369.25" stroke="#000" stroke-width="1.1"/>
<line x1="488.80" y1="366.25" x2="488.80" y2="369.25" stroke="#000" stroke-width="1.1"/>
<line x1="456.70" y1="278.80" x2="489.70" y2="278.80" stroke="#1a1a1a" stroke-width="1.35"/>
<text x="470.80" y="278.79" font-size="7" text-anchor="middle" fill="#222" stroke="#222" stroke-width="0.22">*</text>
<line x1="488.80" y1="286.30" x2="488.80" y2="291.00" stroke="#000" stroke-width="1.1"/>
<line x1="483.80" y1="286.30" x2="493.80" y2="286.30" stroke="#000" stroke-width="1.1"/>
<line x1="483.80" y1="291.00" x2="493.80" y2="291.00" stroke="#000" stroke-width="1.1"/>
<circle cx="452.00" cy="313.60" r="1.85" fill="#0a0a0a"/>
<circle cx="458.25" cy="313.60" r="1.85" fill="#0a0a0a"/>
<circle cx="464.50" cy="313.60" r="1.85" fill="#0a0a0a"/>
<circle cx="488.80" cy="286.00" r="1.85" fill="#0a0a0a"/>
<circle cx="495.10" cy="288.00" r="1.85" fill="#0a0a0a"/>
<circle cx="482.50" cy="289.60" r="1.85" fill="#0a0a0a"/>
<text transform="translate(408.75,311.80) rotate(-90)" x="0" y="3.42" font-size="9.5" text-anchor="middle" fill="#231f20" stroke="#231f20" stroke-width="0.5" textLength="91.50" lengthAdjust="spacingAndGlyphs">Relative puromycin signal (%)</text>
<text x="8.00" y="394.70" font-size="12.3" text-anchor="start" fill="#000" stroke="#000" stroke-width="0.45" font-weight="bold">F</text>
<text x="261.80" y="394.70" font-size="12.3" text-anchor="start" fill="#000" stroke="#000" stroke-width="0.45" font-weight="bold">I</text>
<text x="394.30" y="394.70" font-size="12.3" text-anchor="start" fill="#000" stroke="#000" stroke-width="0.45" font-weight="bold">J</text>
<rect x="25" y="402.5" width="50.00" height="15.50" fill="#f0dfd3"/>
<text x="50.00" y="412.84" font-size="7.2" text-anchor="middle" fill="#2e2626" stroke="#2e2626" stroke-width="0.22">LSK cells</text>
<text x="73.70" y="428.52" font-size="7.4" text-anchor="middle" fill="#2a2a2a" stroke="#2a2a2a" stroke-width="0.22" font-style="italic">Wild type</text>
<text x="73.00" y="443.93" font-size="7.3" text-anchor="middle" fill="#52ba60" stroke="#52ba60" stroke-width="0.22" font-style="italic">RoLoRiG/Mx1CRE</text>
<text x="186.60" y="427.82" font-size="7.4" text-anchor="middle" fill="#2a2a2a" stroke="#2a2a2a" stroke-width="0.22" font-style="italic">Wild type</text>
<text x="186.50" y="443.70" font-size="7.5" text-anchor="middle" fill="#c9334f" stroke="#c9334f" stroke-width="0.15" font-style="italic">KRas<tspan font-size="4.50" dy="-3.00" stroke-width="0.08">G12D</tspan><tspan dy="3.00">/Mx1CRE</tspan></text>
<line x1="134.50" y1="366.20" x2="121.67" y2="409.76" stroke="#389f48" stroke-width="1.1"/>
<path d="M120.30,414.40 L119.62,405.03 L121.67,409.76 L125.95,406.89 Z" fill="#389f48"/>
<line x1="219.80" y1="368.80" x2="205.81" y2="414.87" stroke="#b8173a" stroke-width="1.1"/>
<path d="M204.40,419.50 L203.80,410.12 L205.81,414.87 L210.12,412.04 Z" fill="#b8173a"/>
<rect x="25.3" y="449.5" width="95.80" height="95.10" fill="#fff"/>
<line x1="25.30" y1="514.00" x2="121.10" y2="514.00" stroke="#a0b8a4" stroke-width="0.6"/>
<path d="M70.00,514.00 L74.00,511.50 L77.40,504.20 L80.00,494.00 L82.50,481.00 L83.80,473.40 L85.60,471.20 L86.50,474.50 L87.90,466.60 L89.00,476.30 L90.50,483.00 L92.60,492.60 L95.00,501.50 L97.20,508.60 L100.00,512.00 L104.00,514.00 Z" fill="#8dd49a" fill-opacity="1" stroke="#7cc98a" stroke-width="0.5"/>
<path d="M70.50,544.60 L72.00,541.50 L75.00,539.00 L77.40,534.40 L79.00,529.00 L80.30,525.00 L82.70,517.00 L85.00,515.20 L87.30,514.70 L88.50,509.00 L89.60,501.30 L90.60,510.00 L91.40,525.00 L92.60,520.00 L93.70,518.00 L94.90,525.00 L96.00,530.00 L97.20,535.60 L99.00,540.50 L101.00,544.60 Z" fill="#76808e" fill-opacity="1" stroke="#636d7b" stroke-width="0.4"/>
<path d="M88.60,514.00 L89.60,501.30 L90.50,514.00 Z" fill="#3b6b4a" fill-opacity="1" stroke="none" stroke-width="0.6"/>
<rect x="25.3" y="449.5" width="95.80" height="95.10" fill="none" stroke="#111" stroke-width="1.5"/>
<text x="29.50" y="457.39" font-size="7.2" text-anchor="start" fill="#222" stroke="#222" stroke-width="0.22">37147</text>
<text x="29.00" y="522.69" font-size="7.2" text-anchor="start" fill="#222" stroke="#222" stroke-width="0.22">39614</text>
<text x="61.30" y="482.19" font-size="7.2" text-anchor="middle" fill="#222" stroke="#222" stroke-width="0.22">16.4%</text>
<text x="61.30" y="490.79" font-size="7.2" text-anchor="middle" fill="#222" stroke="#222" stroke-width="0.22">low</text>
<text x="106.70" y="482.19" font-size="7.2" text-anchor="middle" fill="#222" stroke="#222" stroke-width="0.22">12.8%</text>
<text x="106.70" y="490.79" font-size="7.2" text-anchor="middle" fill="#222" stroke="#222" stroke-width="0.22">high</text>
<line x1="38.60" y1="492.30" x2="81.30" y2="492.30" stroke="#222" stroke-width="1.2"/>
<line x1="38.60" y1="490.50" x2="38.60" y2="494.10" stroke="#222" stroke-width="1.0"/>
<line x1="81.30" y1="490.50" x2="81.30" y2="494.10" stroke="#222" stroke-width="1.0"/>
<line x1="94.00" y1="492.30" x2="116.90" y2="492.30" stroke="#222" stroke-width="1.2"/>
<line x1="94.00" y1="490.50" x2="94.00" y2="494.10" stroke="#222" stroke-width="1.0"/>
<line x1="116.90" y1="490.50" x2="116.90" y2="494.10" stroke="#222" stroke-width="1.0"/>
<text x="59.10" y="532.19" font-size="7.2" text-anchor="middle" fill="#222" stroke="#222" stroke-width="0.22">20%</text>
<text x="59.10" y="540.59" font-size="7.2" text-anchor="middle" fill="#222" stroke="#222" stroke-width="0.22">low</text>
<text x="107.20" y="529.59" font-size="7.2" text-anchor="middle" fill="#222" stroke="#222" stroke-width="0.22">20%</text>
<text x="107.20" y="538.59" font-size="7.2" text-anchor="middle" fill="#222" stroke="#222" stroke-width="0.22">high</text>
<line x1="38.60" y1="540.80" x2="81.30" y2="540.80" stroke="#222" stroke-width="1.2"/>
<line x1="38.60" y1="539.00" x2="38.60" y2="542.60" stroke="#222" stroke-width="1.0"/>
<line x1="81.30" y1="539.00" x2="81.30" y2="542.60" stroke="#222" stroke-width="1.0"/>
<line x1="94.00" y1="540.80" x2="116.90" y2="540.80" stroke="#222" stroke-width="1.2"/>
<line x1="94.00" y1="539.00" x2="94.00" y2="542.60" stroke="#222" stroke-width="1.0"/>
<line x1="116.90" y1="539.00" x2="116.90" y2="542.60" stroke="#222" stroke-width="1.0"/>
<line x1="40.10" y1="545.30" x2="40.10" y2="548.30" stroke="#111" stroke-width="1.0"/>
<line x1="59.10" y1="545.30" x2="59.10" y2="548.30" stroke="#111" stroke-width="1.0"/>
<line x1="79.20" y1="545.30" x2="79.20" y2="548.30" stroke="#111" stroke-width="1.0"/>
<line x1="95.60" y1="545.30" x2="95.60" y2="548.30" stroke="#111" stroke-width="1.0"/>
<line x1="114.10" y1="545.30" x2="114.10" y2="548.30" stroke="#111" stroke-width="1.0"/>
<line x1="36.30" y1="545.30" x2="36.30" y2="547.30" stroke="#222" stroke-width="0.8"/>
<line x1="32.50" y1="545.30" x2="32.50" y2="547.30" stroke="#222" stroke-width="0.8"/>
<line x1="28.70" y1="545.30" x2="28.70" y2="547.30" stroke="#222" stroke-width="0.8"/>
<line x1="43.90" y1="545.30" x2="43.90" y2="547.30" stroke="#222" stroke-width="0.8"/>
<line x1="47.70" y1="545.30" x2="47.70" y2="547.30" stroke="#222" stroke-width="0.8"/>
<line x1="51.50" y1="545.30" x2="51.50" y2="547.30" stroke="#222" stroke-width="0.8"/>
<line x1="55.30" y1="545.30" x2="55.30" y2="547.30" stroke="#222" stroke-width="0.8"/>
<line x1="65.15" y1="545.30" x2="65.15" y2="547.30" stroke="#222" stroke-width="0.8"/>
<line x1="68.69" y1="545.30" x2="68.69" y2="547.30" stroke="#222" stroke-width="0.8"/>
<line x1="71.20" y1="545.30" x2="71.20" y2="547.30" stroke="#222" stroke-width="0.8"/>
<line x1="73.15" y1="545.30" x2="73.15" y2="547.30" stroke="#222" stroke-width="0.8"/>
<line x1="74.74" y1="545.30" x2="74.74" y2="547.30" stroke="#222" stroke-width="0.8"/>
<line x1="76.09" y1="545.30" x2="76.09" y2="547.30" stroke="#222" stroke-width="0.8"/>
<line x1="77.25" y1="545.30" x2="77.25" y2="547.30" stroke="#222" stroke-width="0.8"/>
<line x1="78.28" y1="545.30" x2="78.28" y2="547.30" stroke="#222" stroke-width="0.8"/>
<line x1="84.14" y1="545.30" x2="84.14" y2="547.30" stroke="#222" stroke-width="0.8"/>
<line x1="87.02" y1="545.30" x2="87.02" y2="547.30" stroke="#222" stroke-width="0.8"/>
<line x1="89.07" y1="545.30" x2="89.07" y2="547.30" stroke="#222" stroke-width="0.8"/>
<line x1="90.66" y1="545.30" x2="90.66" y2="547.30" stroke="#222" stroke-width="0.8"/>
<line x1="91.96" y1="545.30" x2="91.96" y2="547.30" stroke="#222" stroke-width="0.8"/>
<line x1="93.06" y1="545.30" x2="93.06" y2="547.30" stroke="#222" stroke-width="0.8"/>
<line x1="94.01" y1="545.30" x2="94.01" y2="547.30" stroke="#222" stroke-width="0.8"/>
<line x1="94.85" y1="545.30" x2="94.85" y2="547.30" stroke="#222" stroke-width="0.8"/>
<line x1="101.17" y1="545.30" x2="101.17" y2="547.30" stroke="#222" stroke-width="0.8"/>
<line x1="104.43" y1="545.30" x2="104.43" y2="547.30" stroke="#222" stroke-width="0.8"/>
<line x1="106.74" y1="545.30" x2="106.74" y2="547.30" stroke="#222" stroke-width="0.8"/>
<line x1="108.53" y1="545.30" x2="108.53" y2="547.30" stroke="#222" stroke-width="0.8"/>
<line x1="110.00" y1="545.30" x2="110.00" y2="547.30" stroke="#222" stroke-width="0.8"/>
<line x1="111.23" y1="545.30" x2="111.23" y2="547.30" stroke="#222" stroke-width="0.8"/>
<line x1="112.31" y1="545.30" x2="112.31" y2="547.30" stroke="#222" stroke-width="0.8"/>
<line x1="113.25" y1="545.30" x2="113.25" y2="547.30" stroke="#222" stroke-width="0.8"/>
<text x="40.10" y="554.46" font-size="7.4" text-anchor="middle" fill="#222" stroke="#222" stroke-width="0.22">0</text>
<text x="55.00" y="554.46" font-size="7.4" fill="#222" stroke="#222" stroke-width="0.1">10<tspan font-size="4.8" dy="-3">3</tspan></text>
<text x="75.10" y="554.46" font-size="7.4" fill="#222" stroke="#222" stroke-width="0.1">10<tspan font-size="4.8" dy="-3">4</tspan></text>
<text x="91.50" y="554.46" font-size="7.4" fill="#222" stroke="#222" stroke-width="0.1">10<tspan font-size="4.8" dy="-3">5</tspan></text>
<text x="110.00" y="554.46" font-size="7.4" fill="#222" stroke="#222" stroke-width="0.1">10<tspan font-size="4.8" dy="-3">6</tspan></text>
<line x1="35.30" y1="559.30" x2="112.00" y2="559.30" stroke="#111" stroke-width="1.3"/>
<path d="M118,559.3 L110.5,556.2 L110.5,562.4 Z" fill="#111"/>
<text x="71.00" y="567.99" font-size="7.2" text-anchor="middle" fill="#222" stroke="#222" stroke-width="0.22">Puromycin stain</text>
<rect x="138.5" y="449" width="95.60" height="95.60" fill="#fff"/>
<line x1="138.50" y1="513.60" x2="234.10" y2="513.60" stroke="#e06a7e" stroke-width="0.7"/>
<path d="M139.40,513.60 L139.60,500.50 L140.40,513.60 L183.00,513.60 L184.50,510.50 L186.00,508.60 L187.50,510.80 L189.00,512.00 L192.00,511.50 L195.00,510.50 L198.00,509.00 L200.00,506.00 L202.00,500.00 L203.00,496.00 L204.00,494.40 L205.00,499.00 L206.50,503.00 L208.00,497.00 L209.50,486.00 L211.00,483.20 L212.50,487.00 L213.50,493.00 L214.60,495.80 L216.00,497.50 L217.80,496.50 L219.00,499.00 L220.50,504.00 L222.00,509.00 L224.00,512.00 L226.00,513.60 Z" fill="#e8909e" fill-opacity="1" stroke="#d65a70" stroke-width="0.5"/>
<path d="M187.00,544.60 L189.00,541.00 L192.00,537.00 L194.50,533.00 L196.60,530.70 L198.00,528.00 L199.50,522.00 L201.00,514.00 L203.00,508.80 L204.50,513.00 L206.00,522.00 L207.50,527.00 L209.00,521.00 L210.00,514.00 L211.00,511.60 L212.50,515.00 L214.00,521.00 L215.50,527.00 L217.00,533.00 L218.50,539.00 L220.00,544.60 Z" fill="#76808c" fill-opacity="1" stroke="#636d7b" stroke-width="0.4"/>
<rect x="138.5" y="449" width="95.60" height="95.60" fill="none" stroke="#111" stroke-width="1.5"/>
<text x="142.70" y="457.39" font-size="7.2" text-anchor="start" fill="#222" stroke="#222" stroke-width="0.22">55614</text>
<text x="142.30" y="522.89" font-size="7.2" text-anchor="start" fill="#222" stroke="#222" stroke-width="0.22">35670</text>
<text x="173.40" y="481.69" font-size="7.2" text-anchor="middle" fill="#222" stroke="#222" stroke-width="0.22">6.76%</text>
<text x="173.40" y="490.79" font-size="7.2" text-anchor="middle" fill="#222" stroke="#222" stroke-width="0.22">low</text>
<text x="222.40" y="481.69" font-size="7.2" text-anchor="middle" fill="#222" stroke="#222" stroke-width="0.22">33.8%</text>
<text x="222.40" y="490.79" font-size="7.2" text-anchor="middle" fill="#222" stroke="#222" stroke-width="0.22">high</text>
<line x1="161.30" y1="502.80" x2="202.60" y2="502.80" stroke="#222" stroke-width="1.2"/>
<line x1="161.30" y1="501.00" x2="161.30" y2="504.60" stroke="#222" stroke-width="1.0"/>
<line x1="202.60" y1="501.00" x2="202.60" y2="504.60" stroke="#222" stroke-width="1.0"/>
<line x1="210.00" y1="502.80" x2="233.20" y2="502.80" stroke="#222" stroke-width="1.2"/>
<line x1="210.00" y1="501.00" x2="210.00" y2="504.60" stroke="#222" stroke-width="1.0"/>
<line x1="233.20" y1="501.00" x2="233.20" y2="504.60" stroke="#222" stroke-width="1.0"/>
<text x="176.50" y="527.99" font-size="7.2" text-anchor="middle" fill="#222" stroke="#222" stroke-width="0.22">20%</text>
<text x="176.50" y="535.99" font-size="7.2" text-anchor="middle" fill="#222" stroke="#222" stroke-width="0.22">low</text>
<text x="224.60" y="527.99" font-size="7.2" text-anchor="middle" fill="#222" stroke="#222" stroke-width="0.22">20%</text>
<text x="224.60" y="535.99" font-size="7.2" text-anchor="middle" fill="#222" stroke="#222" stroke-width="0.22">high</text>
<line x1="161.30" y1="537.70" x2="202.60" y2="537.70" stroke="#222" stroke-width="1.2"/>
<line x1="161.30" y1="535.90" x2="161.30" y2="539.50" stroke="#222" stroke-width="1.0"/>
<line x1="202.60" y1="535.90" x2="202.60" y2="539.50" stroke="#222" stroke-width="1.0"/>
<line x1="210.00" y1="537.70" x2="233.20" y2="537.70" stroke="#222" stroke-width="1.2"/>
<line x1="210.00" y1="535.90" x2="210.00" y2="539.50" stroke="#222" stroke-width="1.0"/>
<line x1="233.20" y1="535.90" x2="233.20" y2="539.50" stroke="#222" stroke-width="1.0"/>
<line x1="162.80" y1="545.30" x2="162.80" y2="548.30" stroke="#111" stroke-width="1.0"/>
<line x1="197.30" y1="545.30" x2="197.30" y2="548.30" stroke="#111" stroke-width="1.0"/>
<line x1="216.70" y1="545.30" x2="216.70" y2="548.30" stroke="#111" stroke-width="1.0"/>
<line x1="229.40" y1="545.30" x2="229.40" y2="548.30" stroke="#111" stroke-width="1.0"/>
<line x1="155.90" y1="545.30" x2="155.90" y2="547.30" stroke="#222" stroke-width="0.8"/>
<line x1="149.00" y1="545.30" x2="149.00" y2="547.30" stroke="#222" stroke-width="0.8"/>
<line x1="142.10" y1="545.30" x2="142.10" y2="547.30" stroke="#222" stroke-width="0.8"/>
<line x1="169.70" y1="545.30" x2="169.70" y2="547.30" stroke="#222" stroke-width="0.8"/>
<line x1="176.60" y1="545.30" x2="176.60" y2="547.30" stroke="#222" stroke-width="0.8"/>
<line x1="183.50" y1="545.30" x2="183.50" y2="547.30" stroke="#222" stroke-width="0.8"/>
<line x1="190.40" y1="545.30" x2="190.40" y2="547.30" stroke="#222" stroke-width="0.8"/>
<line x1="203.14" y1="545.30" x2="203.14" y2="547.30" stroke="#222" stroke-width="0.8"/>
<line x1="206.56" y1="545.30" x2="206.56" y2="547.30" stroke="#222" stroke-width="0.8"/>
<line x1="208.98" y1="545.30" x2="208.98" y2="547.30" stroke="#222" stroke-width="0.8"/>
<line x1="210.86" y1="545.30" x2="210.86" y2="547.30" stroke="#222" stroke-width="0.8"/>
<line x1="212.40" y1="545.30" x2="212.40" y2="547.30" stroke="#222" stroke-width="0.8"/>
<line x1="213.69" y1="545.30" x2="213.69" y2="547.30" stroke="#222" stroke-width="0.8"/>
<line x1="214.82" y1="545.30" x2="214.82" y2="547.30" stroke="#222" stroke-width="0.8"/>
<line x1="215.81" y1="545.30" x2="215.81" y2="547.30" stroke="#222" stroke-width="0.8"/>
<line x1="220.52" y1="545.30" x2="220.52" y2="547.30" stroke="#222" stroke-width="0.8"/>
<line x1="222.76" y1="545.30" x2="222.76" y2="547.30" stroke="#222" stroke-width="0.8"/>
<line x1="224.35" y1="545.30" x2="224.35" y2="547.30" stroke="#222" stroke-width="0.8"/>
<line x1="225.58" y1="545.30" x2="225.58" y2="547.30" stroke="#222" stroke-width="0.8"/>
<line x1="226.58" y1="545.30" x2="226.58" y2="547.30" stroke="#222" stroke-width="0.8"/>
<line x1="227.43" y1="545.30" x2="227.43" y2="547.30" stroke="#222" stroke-width="0.8"/>
<line x1="228.17" y1="545.30" x2="228.17" y2="547.30" stroke="#222" stroke-width="0.8"/>
<line x1="228.82" y1="545.30" x2="228.82" y2="547.30" stroke="#222" stroke-width="0.8"/>
<text x="162.80" y="554.46" font-size="7.4" text-anchor="middle" fill="#222" stroke="#222" stroke-width="0.22">0</text>
<text x="193.20" y="554.46" font-size="7.4" fill="#222" stroke="#222" stroke-width="0.1">10<tspan font-size="4.8" dy="-3">4</tspan></text>
<text x="212.60" y="554.46" font-size="7.4" fill="#222" stroke="#222" stroke-width="0.1">10<tspan font-size="4.8" dy="-3">5</tspan></text>
<text x="225.30" y="554.46" font-size="7.4" fill="#222" stroke="#222" stroke-width="0.1">10<tspan font-size="4.8" dy="-3">6</tspan></text>
<line x1="146.00" y1="558.30" x2="224.00" y2="558.30" stroke="#111" stroke-width="1.3"/>
<path d="M230,558.3 L222.5,555.2 L222.5,561.4 Z" fill="#111"/>
<text x="182.90" y="566.69" font-size="7.2" text-anchor="middle" fill="#222" stroke="#222" stroke-width="0.22">Puromycin stain</text>
<text x="341.25" y="413.89" font-size="7.2" text-anchor="middle" fill="#222" stroke="#222" stroke-width="0.22">LSK cells</text>
<text x="341.25" y="422.59" font-size="7.2" text-anchor="middle" fill="#222" stroke="#222" stroke-width="0.22">Puromycin high</text>
<text x="341.00" y="438.50" font-size="7.5" text-anchor="middle" fill="#c9334f" stroke="#c9334f" stroke-width="0.15" font-style="italic">KRas<tspan font-size="4.50" dy="-3.00" stroke-width="0.08">G12D</tspan><tspan dy="3.00">/Mx1CRE</tspan></text>
<text x="341.00" y="450.02" font-size="7.4" text-anchor="middle" fill="#2a2a2a" stroke="#2a2a2a" stroke-width="0.22" font-style="italic">Wild type</text>
<line x1="306.00" y1="455.00" x2="306.00" y2="566.10" stroke="#000" stroke-width="1.3"/>
<line x1="305.40" y1="565.50" x2="377.00" y2="565.50" stroke="#000" stroke-width="1.3"/>
<line x1="302.80" y1="458.25" x2="306.00" y2="458.25" stroke="#000" stroke-width="1.1"/>
<text x="298.70" y="460.81" font-size="7.1" text-anchor="end" fill="#231f20" stroke="#231f20" stroke-width="0.22">0.6</text>
<line x1="302.80" y1="494.00" x2="306.00" y2="494.00" stroke="#000" stroke-width="1.1"/>
<text x="298.70" y="496.56" font-size="7.1" text-anchor="end" fill="#231f20" stroke="#231f20" stroke-width="0.22">0.4</text>
<line x1="302.80" y1="529.75" x2="306.00" y2="529.75" stroke="#000" stroke-width="1.1"/>
<text x="298.70" y="532.31" font-size="7.1" text-anchor="end" fill="#231f20" stroke="#231f20" stroke-width="0.22">0.2</text>
<line x1="302.80" y1="565.50" x2="306.00" y2="565.50" stroke="#000" stroke-width="1.1"/>
<text x="298.70" y="568.06" font-size="7.1" text-anchor="end" fill="#231f20" stroke="#231f20" stroke-width="0.22">0.0</text>
<rect x="317.00" y="530.50" width="18.50" height="35.00" fill="#455465"/>
<rect x="348.10" y="492.20" width="18.70" height="73.30" fill="#c8102e"/>
<line x1="326.30" y1="565.50" x2="326.30" y2="568.50" stroke="#000" stroke-width="1.1"/>
<line x1="357.30" y1="565.50" x2="357.30" y2="568.50" stroke="#000" stroke-width="1.1"/>
<line x1="325.50" y1="467.90" x2="358.00" y2="467.90" stroke="#1a1a1a" stroke-width="1.35"/>
<line x1="357.30" y1="475.10" x2="357.30" y2="507.70" stroke="#000" stroke-width="1.1"/>
<line x1="352.30" y1="475.10" x2="362.30" y2="475.10" stroke="#000" stroke-width="1.1"/>
<line x1="352.30" y1="507.70" x2="362.30" y2="507.70" stroke="#000" stroke-width="1.1"/>
<circle cx="320.50" cy="530.30" r="1.85" fill="#0a0a0a"/>
<circle cx="326.75" cy="530.30" r="1.85" fill="#0a0a0a"/>
<circle cx="333.00" cy="530.30" r="1.85" fill="#0a0a0a"/>
<circle cx="357.30" cy="473.30" r="1.85" fill="#0a0a0a"/>
<circle cx="357.30" cy="495.80" r="1.85" fill="#0a0a0a"/>
<circle cx="357.30" cy="504.30" r="1.85" fill="#0a0a0a"/>
<text x="341.5" y="462.59" font-size="7.2" text-anchor="middle" fill="#222"><tspan font-style="italic">P</tspan> = .05</text>
<text transform="translate(267.20,510.20) rotate(-90)" x="0" y="3.42" font-size="9.5" text-anchor="middle" fill="#231f20" stroke="#231f20" stroke-width="0.5" textLength="57.00" lengthAdjust="spacingAndGlyphs">Relative fraction of</text>
<text transform="translate(279.20,510.20) rotate(-90)" x="0" y="3.42" font-size="9.5" text-anchor="middle" fill="#231f20" stroke="#231f20" stroke-width="0.5" textLength="62.70" lengthAdjust="spacingAndGlyphs">puromycin high cells</text>
<text x="473.75" y="413.89" font-size="7.2" text-anchor="middle" fill="#222" stroke="#222" stroke-width="0.22">LSK cells</text>
<text x="473.75" y="423.09" font-size="7.2" text-anchor="middle" fill="#222" stroke="#222" stroke-width="0.22">Puromycin low</text>
<text x="474.50" y="438.20" font-size="7.5" text-anchor="middle" fill="#c9334f" stroke="#c9334f" stroke-width="0.15" font-style="italic">KRas<tspan font-size="4.50" dy="-3.00" stroke-width="0.08">G12D</tspan><tspan dy="3.00">/Mx1CRE</tspan></text>
<text x="473.75" y="449.72" font-size="7.4" text-anchor="middle" fill="#2a2a2a" stroke="#2a2a2a" stroke-width="0.22" font-style="italic">Wild type</text>
<line x1="438.40" y1="456.25" x2="438.40" y2="566.10" stroke="#000" stroke-width="1.3"/>
<line x1="437.80" y1="565.50" x2="508.75" y2="565.50" stroke="#000" stroke-width="1.3"/>
<line x1="435.20" y1="459.25" x2="438.40" y2="459.25" stroke="#000" stroke-width="1.1"/>
<text x="431.00" y="461.81" font-size="7.1" text-anchor="end" fill="#231f20" stroke="#231f20" stroke-width="0.22">0.5</text>
<line x1="435.20" y1="480.50" x2="438.40" y2="480.50" stroke="#000" stroke-width="1.1"/>
<text x="431.00" y="483.06" font-size="7.1" text-anchor="end" fill="#231f20" stroke="#231f20" stroke-width="0.22">0.4</text>
<line x1="435.20" y1="501.75" x2="438.40" y2="501.75" stroke="#000" stroke-width="1.1"/>
<text x="431.00" y="504.31" font-size="7.1" text-anchor="end" fill="#231f20" stroke="#231f20" stroke-width="0.22">0.3</text>
<line x1="435.20" y1="523.00" x2="438.40" y2="523.00" stroke="#000" stroke-width="1.1"/>
<text x="431.00" y="525.56" font-size="7.1" text-anchor="end" fill="#231f20" stroke="#231f20" stroke-width="0.22">0.2</text>
<line x1="435.20" y1="544.25" x2="438.40" y2="544.25" stroke="#000" stroke-width="1.1"/>
<text x="431.00" y="546.81" font-size="7.1" text-anchor="end" fill="#231f20" stroke="#231f20" stroke-width="0.22">0.1</text>
<line x1="435.20" y1="565.50" x2="438.40" y2="565.50" stroke="#000" stroke-width="1.1"/>
<text x="431.00" y="568.06" font-size="7.1" text-anchor="end" fill="#231f20" stroke="#231f20" stroke-width="0.22">0.0</text>
<rect x="449.25" y="523.75" width="18.25" height="41.75" fill="#455465"/>
<rect x="480.00" y="545.70" width="18.10" height="19.80" fill="#c8102e"/>
<line x1="458.40" y1="565.50" x2="458.40" y2="568.50" stroke="#000" stroke-width="1.1"/>
<line x1="488.80" y1="565.50" x2="488.80" y2="568.50" stroke="#000" stroke-width="1.1"/>
<line x1="456.10" y1="503.60" x2="489.30" y2="503.60" stroke="#1a1a1a" stroke-width="1.35"/>
<text x="472.50" y="503.59" font-size="7" text-anchor="middle" fill="#222" stroke="#222" stroke-width="0.22">*</text>
<line x1="488.80" y1="538.50" x2="488.80" y2="550.60" stroke="#000" stroke-width="1.1"/>
<line x1="483.95" y1="538.50" x2="493.65" y2="538.50" stroke="#000" stroke-width="1.1"/>
<line x1="483.95" y1="550.60" x2="493.65" y2="550.60" stroke="#000" stroke-width="1.1"/>
<circle cx="452.00" cy="523.30" r="1.85" fill="#0a0a0a"/>
<circle cx="458.25" cy="523.30" r="1.85" fill="#0a0a0a"/>
<circle cx="464.50" cy="523.30" r="1.85" fill="#0a0a0a"/>
<circle cx="485.20" cy="539.80" r="1.85" fill="#0a0a0a"/>
<circle cx="492.20" cy="541.70" r="1.85" fill="#0a0a0a"/>
<circle cx="488.80" cy="550.40" r="1.85" fill="#0a0a0a"/>
<text transform="translate(399.40,511.70) rotate(-90)" x="0" y="3.42" font-size="9.5" text-anchor="middle" fill="#231f20" stroke="#231f20" stroke-width="0.5" textLength="56.00" lengthAdjust="spacingAndGlyphs">Relative fraction of</text>
<text transform="translate(411.50,510.50) rotate(-90)" x="0" y="3.42" font-size="9.5" text-anchor="middle" fill="#231f20" stroke="#231f20" stroke-width="0.5" textLength="58.40" lengthAdjust="spacingAndGlyphs">puromycin low cells</text>
<text x="8.00" y="598.50" font-size="12.3" text-anchor="start" fill="#000" stroke="#000" stroke-width="0.45" font-weight="bold">K</text>
<text x="261.80" y="598.50" font-size="12.3" text-anchor="start" fill="#000" stroke="#000" stroke-width="0.45" font-weight="bold">L</text>
<rect x="50.8" y="609.2" width="66.20" height="16.10" fill="#f0dfd3"/>
<text x="83.90" y="619.88" font-size="7.3" text-anchor="middle" fill="#2e2626" stroke="#2e2626" stroke-width="0.22">HSC stem cells</text>
<rect x="310.8" y="609.2" width="66.70" height="16.10" fill="#f0dfd3"/>
<text x="344.15" y="619.88" font-size="7.3" text-anchor="middle" fill="#2e2626" stroke="#2e2626" stroke-width="0.22">HSC stem cells</text>
<line x1="50.50" y1="642.50" x2="50.50" y2="744.35" stroke="#000" stroke-width="1.3"/>
<line x1="49.90" y1="743.75" x2="115.00" y2="743.75" stroke="#000" stroke-width="1.3"/>
<line x1="47.30" y1="644.50" x2="50.50" y2="644.50" stroke="#000" stroke-width="1.1"/>
<text x="42.60" y="647.06" font-size="7.1" text-anchor="end" fill="#231f20" stroke="#231f20" stroke-width="0.22">50</text>
<line x1="47.30" y1="664.35" x2="50.50" y2="664.35" stroke="#000" stroke-width="1.1"/>
<text x="42.60" y="666.91" font-size="7.1" text-anchor="end" fill="#231f20" stroke="#231f20" stroke-width="0.22">40</text>
<line x1="47.30" y1="684.20" x2="50.50" y2="684.20" stroke="#000" stroke-width="1.1"/>
<text x="42.60" y="686.76" font-size="7.1" text-anchor="end" fill="#231f20" stroke="#231f20" stroke-width="0.22">30</text>
<line x1="47.30" y1="704.05" x2="50.50" y2="704.05" stroke="#000" stroke-width="1.1"/>
<text x="42.60" y="706.61" font-size="7.1" text-anchor="end" fill="#231f20" stroke="#231f20" stroke-width="0.22">20</text>
<line x1="47.30" y1="723.90" x2="50.50" y2="723.90" stroke="#000" stroke-width="1.1"/>
<text x="42.60" y="726.46" font-size="7.1" text-anchor="end" fill="#231f20" stroke="#231f20" stroke-width="0.22">10</text>
<line x1="47.30" y1="743.75" x2="50.50" y2="743.75" stroke="#000" stroke-width="1.1"/>
<text x="42.60" y="746.31" font-size="7.1" text-anchor="end" fill="#231f20" stroke="#231f20" stroke-width="0.22">0</text>
<rect x="60.75" y="705.00" width="17.25" height="38.75" fill="#455465"/>
<rect x="89.20" y="694.30" width="16.90" height="49.45" fill="#3db54b"/>
<line x1="69.40" y1="743.75" x2="69.40" y2="746.75" stroke="#000" stroke-width="1.1"/>
<line x1="97.70" y1="743.75" x2="97.70" y2="746.75" stroke="#000" stroke-width="1.1"/>
<line x1="65.20" y1="660.80" x2="96.60" y2="660.80" stroke="#1a1a1a" stroke-width="1.35"/>
<text x="79.40" y="658.94" font-size="7.2" text-anchor="middle" fill="#222" stroke="#222" stroke-width="0.22">ns</text>
<line x1="97.70" y1="672.70" x2="97.70" y2="713.60" stroke="#000" stroke-width="1.1"/>
<line x1="92.80" y1="672.70" x2="102.60" y2="672.70" stroke="#000" stroke-width="1.1"/>
<line x1="92.80" y1="713.60" x2="102.60" y2="713.60" stroke="#000" stroke-width="1.1"/>
<circle cx="64.50" cy="704.60" r="1.85" fill="#0a0a0a"/>
<circle cx="69.60" cy="704.60" r="1.85" fill="#0a0a0a"/>
<circle cx="75.00" cy="704.60" r="1.85" fill="#0a0a0a"/>
<circle cx="97.70" cy="666.30" r="1.85" fill="#0a0a0a"/>
<circle cx="94.50" cy="687.00" r="1.85" fill="#0a0a0a"/>
<circle cx="100.70" cy="685.40" r="1.85" fill="#0a0a0a"/>
<circle cx="94.30" cy="714.40" r="1.85" fill="#0a0a0a"/>
<circle cx="100.70" cy="712.40" r="1.85" fill="#0a0a0a"/>
<text transform="translate(11.80,693.00) rotate(-90)" x="0" y="3.42" font-size="9.5" text-anchor="middle" fill="#231f20" stroke="#231f20" stroke-width="0.5" textLength="69.00" lengthAdjust="spacingAndGlyphs">% CD150+CD48– from</text>
<text transform="translate(25.00,694.30) rotate(-90)" x="0" y="3.42" font-size="9.5" text-anchor="middle" fill="#231f20" stroke="#231f20" stroke-width="0.5" textLength="61.50" lengthAdjust="spacingAndGlyphs">cKit high and CD34–</text>
<text x="129.40" y="620.33" font-size="7.3" text-anchor="start" fill="#52ba60" stroke="#52ba60" stroke-width="0.22" font-style="italic">RoLoRiG/Mx1CRE</text>
<text x="129.40" y="632.02" font-size="7.4" text-anchor="start" fill="#2a2a2a" stroke="#2a2a2a" stroke-width="0.22" font-style="italic">Wild type</text>
<line x1="179.50" y1="640.80" x2="179.50" y2="744.30" stroke="#000" stroke-width="1.3"/>
<line x1="178.90" y1="743.70" x2="248.70" y2="743.70" stroke="#000" stroke-width="1.3"/>
<line x1="176.30" y1="643.50" x2="179.50" y2="643.50" stroke="#000" stroke-width="1.1"/>
<text x="171.90" y="646.06" font-size="7.1" text-anchor="end" fill="#231f20" stroke="#231f20" stroke-width="0.22">200</text>
<line x1="176.30" y1="668.55" x2="179.50" y2="668.55" stroke="#000" stroke-width="1.1"/>
<text x="171.90" y="671.11" font-size="7.1" text-anchor="end" fill="#231f20" stroke="#231f20" stroke-width="0.22">150</text>
<line x1="176.30" y1="693.60" x2="179.50" y2="693.60" stroke="#000" stroke-width="1.1"/>
<text x="171.90" y="696.16" font-size="7.1" text-anchor="end" fill="#231f20" stroke="#231f20" stroke-width="0.22">100</text>
<line x1="176.30" y1="718.65" x2="179.50" y2="718.65" stroke="#000" stroke-width="1.1"/>
<text x="171.90" y="721.21" font-size="7.1" text-anchor="end" fill="#231f20" stroke="#231f20" stroke-width="0.22">50</text>
<line x1="176.30" y1="743.70" x2="179.50" y2="743.70" stroke="#000" stroke-width="1.1"/>
<text x="171.90" y="746.26" font-size="7.1" text-anchor="end" fill="#231f20" stroke="#231f20" stroke-width="0.22">0</text>
<rect x="190.20" y="693.90" width="17.30" height="49.80" fill="#455465"/>
<rect x="219.00" y="674.00" width="17.10" height="69.70" fill="#3db54b"/>
<line x1="198.60" y1="743.70" x2="198.60" y2="746.70" stroke="#000" stroke-width="1.1"/>
<line x1="227.40" y1="743.70" x2="227.40" y2="746.70" stroke="#000" stroke-width="1.1"/>
<line x1="192.10" y1="651.00" x2="225.70" y2="651.00" stroke="#1a1a1a" stroke-width="1.35"/>
<text x="209.00" y="650.99" font-size="7" text-anchor="middle" fill="#222" stroke="#222" stroke-width="0.22">*</text>
<line x1="227.40" y1="657.60" x2="227.40" y2="688.60" stroke="#000" stroke-width="1.1"/>
<line x1="222.80" y1="657.60" x2="232.00" y2="657.60" stroke="#000" stroke-width="1.1"/>
<line x1="222.80" y1="688.60" x2="232.00" y2="688.60" stroke="#000" stroke-width="1.1"/>
<circle cx="193.60" cy="693.60" r="1.85" fill="#0a0a0a"/>
<circle cx="198.90" cy="693.60" r="1.85" fill="#0a0a0a"/>
<circle cx="204.20" cy="693.60" r="1.85" fill="#0a0a0a"/>
<circle cx="224.50" cy="658.20" r="1.85" fill="#0a0a0a"/>
<circle cx="230.60" cy="658.20" r="1.85" fill="#0a0a0a"/>
<circle cx="227.40" cy="670.10" r="1.85" fill="#0a0a0a"/>
<circle cx="224.50" cy="689.00" r="1.85" fill="#0a0a0a"/>
<circle cx="230.60" cy="689.00" r="1.85" fill="#0a0a0a"/>
<text transform="translate(150.40,691.80) rotate(-90)" x="0" y="3.42" font-size="9.5" text-anchor="middle" fill="#231f20" stroke="#231f20" stroke-width="0.5" textLength="93.00" lengthAdjust="spacingAndGlyphs">Relative puromycin signal (%)</text>
<line x1="115.00" y1="715.20" x2="131.50" y2="715.20" stroke="#35a348" stroke-width="1.4"/>
<path d="M139.60,715.20 L128.80,719.60 L131.50,715.20 L128.80,710.80 Z" fill="#35a348"/>
<line x1="310.60" y1="642.50" x2="310.60" y2="744.35" stroke="#000" stroke-width="1.3"/>
<line x1="310.00" y1="743.75" x2="377.00" y2="743.75" stroke="#000" stroke-width="1.3"/>
<line x1="307.40" y1="643.75" x2="310.60" y2="643.75" stroke="#000" stroke-width="1.1"/>
<text x="303.70" y="646.31" font-size="7.1" text-anchor="end" fill="#231f20" stroke="#231f20" stroke-width="0.22">50</text>
<line x1="307.40" y1="663.75" x2="310.60" y2="663.75" stroke="#000" stroke-width="1.1"/>
<text x="303.70" y="666.31" font-size="7.1" text-anchor="end" fill="#231f20" stroke="#231f20" stroke-width="0.22">40</text>
<line x1="307.40" y1="683.75" x2="310.60" y2="683.75" stroke="#000" stroke-width="1.1"/>
<text x="303.70" y="686.31" font-size="7.1" text-anchor="end" fill="#231f20" stroke="#231f20" stroke-width="0.22">30</text>
<line x1="307.40" y1="703.75" x2="310.60" y2="703.75" stroke="#000" stroke-width="1.1"/>
<text x="303.70" y="706.31" font-size="7.1" text-anchor="end" fill="#231f20" stroke="#231f20" stroke-width="0.22">20</text>
<line x1="307.40" y1="723.75" x2="310.60" y2="723.75" stroke="#000" stroke-width="1.1"/>
<text x="303.70" y="726.31" font-size="7.1" text-anchor="end" fill="#231f20" stroke="#231f20" stroke-width="0.22">10</text>
<line x1="307.40" y1="743.75" x2="310.60" y2="743.75" stroke="#000" stroke-width="1.1"/>
<text x="303.70" y="746.31" font-size="7.1" text-anchor="end" fill="#231f20" stroke="#231f20" stroke-width="0.22">0</text>
<rect x="321.25" y="704.25" width="17.00" height="39.50" fill="#455465"/>
<rect x="350.00" y="728.00" width="16.75" height="15.75" fill="#c8102e"/>
<line x1="329.80" y1="743.75" x2="329.80" y2="746.75" stroke="#000" stroke-width="1.1"/>
<line x1="358.40" y1="743.75" x2="358.40" y2="746.75" stroke="#000" stroke-width="1.1"/>
<line x1="330.20" y1="681.10" x2="357.90" y2="681.10" stroke="#1a1a1a" stroke-width="1.35"/>
<text x="344.10" y="681.09" font-size="7" text-anchor="middle" fill="#222" stroke="#222" stroke-width="0.22">**</text>
<line x1="358.40" y1="719.25" x2="358.40" y2="734.75" stroke="#000" stroke-width="1.1"/>
<line x1="353.65" y1="719.25" x2="363.15" y2="719.25" stroke="#000" stroke-width="1.1"/>
<line x1="353.65" y1="734.75" x2="363.15" y2="734.75" stroke="#000" stroke-width="1.1"/>
<circle cx="323.75" cy="703.80" r="1.85" fill="#0a0a0a"/>
<circle cx="329.50" cy="703.80" r="1.85" fill="#0a0a0a"/>
<circle cx="335.50" cy="703.80" r="1.85" fill="#0a0a0a"/>
<circle cx="358.40" cy="715.75" r="1.85" fill="#0a0a0a"/>
<circle cx="355.25" cy="728.50" r="1.85" fill="#0a0a0a"/>
<circle cx="361.25" cy="728.75" r="1.85" fill="#0a0a0a"/>
<text transform="translate(273.00,692.40) rotate(-90)" x="0" y="3.42" font-size="9.5" text-anchor="middle" fill="#231f20" stroke="#231f20" stroke-width="0.5" textLength="70.00" lengthAdjust="spacingAndGlyphs">% CD150+CD48– from</text>
<text transform="translate(285.60,693.30) rotate(-90)" x="0" y="3.42" font-size="9.5" text-anchor="middle" fill="#231f20" stroke="#231f20" stroke-width="0.5" textLength="64.00" lengthAdjust="spacingAndGlyphs">cKit high and CD34–</text>
<text x="390.20" y="619.60" font-size="7.5" text-anchor="start" fill="#c9334f" stroke="#c9334f" stroke-width="0.15" font-style="italic">KRas<tspan font-size="4.50" dy="-3.00" stroke-width="0.08">G12D</tspan><tspan dy="3.00">/Mx1CRE</tspan></text>
<text x="390.20" y="631.22" font-size="7.4" text-anchor="start" fill="#2a2a2a" stroke="#2a2a2a" stroke-width="0.22" font-style="italic">Wild type</text>
<line x1="443.30" y1="641.20" x2="443.30" y2="744.80" stroke="#000" stroke-width="1.3"/>
<line x1="442.70" y1="744.20" x2="511.30" y2="744.20" stroke="#000" stroke-width="1.3"/>
<line x1="440.10" y1="644.10" x2="443.30" y2="644.10" stroke="#000" stroke-width="1.1"/>
<text x="435.80" y="646.66" font-size="7.1" text-anchor="end" fill="#231f20" stroke="#231f20" stroke-width="0.22">200</text>
<line x1="440.10" y1="669.12" x2="443.30" y2="669.12" stroke="#000" stroke-width="1.1"/>
<text x="435.80" y="671.68" font-size="7.1" text-anchor="end" fill="#231f20" stroke="#231f20" stroke-width="0.22">150</text>
<line x1="440.10" y1="694.15" x2="443.30" y2="694.15" stroke="#000" stroke-width="1.1"/>
<text x="435.80" y="696.71" font-size="7.1" text-anchor="end" fill="#231f20" stroke="#231f20" stroke-width="0.22">100</text>
<line x1="440.10" y1="719.18" x2="443.30" y2="719.18" stroke="#000" stroke-width="1.1"/>
<text x="435.80" y="721.73" font-size="7.1" text-anchor="end" fill="#231f20" stroke="#231f20" stroke-width="0.22">50</text>
<line x1="440.10" y1="744.20" x2="443.30" y2="744.20" stroke="#000" stroke-width="1.1"/>
<text x="435.80" y="746.76" font-size="7.1" text-anchor="end" fill="#231f20" stroke="#231f20" stroke-width="0.22">0</text>
<rect x="453.60" y="694.60" width="17.40" height="49.60" fill="#455465"/>
<rect x="482.25" y="664.25" width="17.25" height="79.95" fill="#c8102e"/>
<line x1="462.30" y1="744.20" x2="462.30" y2="747.20" stroke="#000" stroke-width="1.1"/>
<line x1="490.90" y1="744.20" x2="490.90" y2="747.20" stroke="#000" stroke-width="1.1"/>
<line x1="463.80" y1="643.70" x2="487.70" y2="643.70" stroke="#1a1a1a" stroke-width="1.35"/>
<text x="475.80" y="643.69" font-size="7" text-anchor="middle" fill="#222" stroke="#222" stroke-width="0.22">**</text>
<line x1="490.90" y1="653.00" x2="490.90" y2="673.00" stroke="#000" stroke-width="1.1"/>
<line x1="486.15" y1="653.00" x2="495.65" y2="653.00" stroke="#000" stroke-width="1.1"/>
<line x1="486.15" y1="673.00" x2="495.65" y2="673.00" stroke="#000" stroke-width="1.1"/>
<circle cx="456.20" cy="694.20" r="1.85" fill="#0a0a0a"/>
<circle cx="461.70" cy="694.20" r="1.85" fill="#0a0a0a"/>
<circle cx="467.50" cy="694.20" r="1.85" fill="#0a0a0a"/>
<circle cx="490.90" cy="649.90" r="1.85" fill="#0a0a0a"/>
<circle cx="490.90" cy="660.90" r="1.85" fill="#0a0a0a"/>
<circle cx="490.90" cy="667.00" r="1.85" fill="#0a0a0a"/>
<circle cx="490.90" cy="673.50" r="1.85" fill="#0a0a0a"/>
<text transform="translate(413.30,692.20) rotate(-90)" x="0" y="3.42" font-size="9.5" text-anchor="middle" fill="#231f20" stroke="#231f20" stroke-width="0.5" textLength="92.30" lengthAdjust="spacingAndGlyphs">Relative puromycin signal (%)</text>
<line x1="375.80" y1="715.90" x2="393.10" y2="715.90" stroke="#c0183a" stroke-width="1.4"/>
<path d="M401.20,715.90 L390.40,720.30 L393.10,715.90 L390.40,711.50 Z" fill="#c0183a"/>
<rect x="0.6" y="0.6" width="518.8" height="754.8" fill="none" stroke="#2e2e2e" stroke-width="1.2"/>
</svg></body></html>
